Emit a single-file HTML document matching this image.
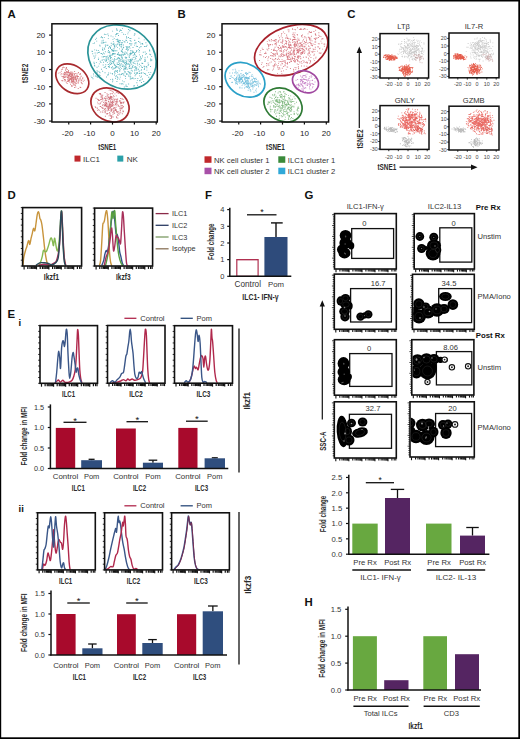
<!DOCTYPE html>
<html><head><meta charset="utf-8"><title>Figure</title>
<style>
html,body{margin:0;padding:0;background:#fff;width:520px;height:739px;overflow:hidden;}
svg{display:block;}
text{font-family:"Liberation Sans", sans-serif;}
</style></head><body>
<svg width="520" height="739" viewBox="0 0 520 739">
<rect x="0" y="0" width="520" height="739" fill="#fff"/>
<text x="7.5" y="17.7" font-size="11.4" text-anchor="start" fill="#111" font-weight="bold">A</text>
<path d="M114.17 60.56h0.9v0.9h-0.9zM121.46 51.05h0.9v0.9h-0.9zM110.76 45.36h0.9v0.9h-0.9zM134.03 72.93h0.9v0.9h-0.9zM134.44 70.11h0.9v0.9h-0.9zM125.98 63.07h0.9v0.9h-0.9zM91.59 50.83h0.9v0.9h-0.9zM124.94 67.88h0.9v0.9h-0.9zM113.45 42.73h0.9v0.9h-0.9zM126.65 59.45h0.9v0.9h-0.9zM134.63 54.48h0.9v0.9h-0.9zM123.04 64.7h0.9v0.9h-0.9zM98.48 70.91h0.9v0.9h-0.9zM119.84 76.66h0.9v0.9h-0.9zM119.47 42.15h0.9v0.9h-0.9zM118.07 52.37h0.9v0.9h-0.9zM128.78 66.14h0.9v0.9h-0.9zM123.69 41.26h0.9v0.9h-0.9zM104.57 66.39h0.9v0.9h-0.9zM108.66 51.99h0.9v0.9h-0.9zM140.35 43.5h0.9v0.9h-0.9zM111.82 72.98h0.9v0.9h-0.9zM127.31 46.26h0.9v0.9h-0.9zM129.48 61.13h0.9v0.9h-0.9zM94.63 52.48h0.9v0.9h-0.9zM123.5 74.78h0.9v0.9h-0.9zM139.14 75.41h0.9v0.9h-0.9zM134.47 42.75h0.9v0.9h-0.9zM135.69 55.77h0.9v0.9h-0.9zM126.18 37.55h0.9v0.9h-0.9zM112.88 41.22h0.9v0.9h-0.9zM99.62 45.56h0.9v0.9h-0.9zM137.38 78h0.9v0.9h-0.9zM133.12 51.76h0.9v0.9h-0.9zM98.21 57.63h0.9v0.9h-0.9zM136.11 69.66h0.9v0.9h-0.9zM121.83 64.56h0.9v0.9h-0.9zM139.15 79.96h0.9v0.9h-0.9zM124.7 68.58h0.9v0.9h-0.9zM130.96 72.64h0.9v0.9h-0.9zM110.95 67.3h0.9v0.9h-0.9zM130.97 60.62h0.9v0.9h-0.9zM121.14 67.9h0.9v0.9h-0.9zM114.16 71.78h0.9v0.9h-0.9zM116.19 45.6h0.9v0.9h-0.9zM136.35 67.52h0.9v0.9h-0.9zM101.82 59.61h0.9v0.9h-0.9zM146.2 66.08h0.9v0.9h-0.9zM103.82 41.88h0.9v0.9h-0.9zM122.39 52h0.9v0.9h-0.9zM150.19 58.57h0.9v0.9h-0.9zM150.18 54.29h0.9v0.9h-0.9zM105.74 56.79h0.9v0.9h-0.9zM130.65 78.25h0.9v0.9h-0.9zM125.65 62.07h0.9v0.9h-0.9zM119.35 65.32h0.9v0.9h-0.9zM117.23 58.57h0.9v0.9h-0.9zM130 62.62h0.9v0.9h-0.9zM127.98 71.2h0.9v0.9h-0.9zM119.11 48.39h0.9v0.9h-0.9zM114.14 67.84h0.9v0.9h-0.9zM114.09 58.28h0.9v0.9h-0.9zM104.25 48.89h0.9v0.9h-0.9zM125.59 63.73h0.9v0.9h-0.9zM110.52 60.55h0.9v0.9h-0.9zM130.29 53.57h0.9v0.9h-0.9zM115.07 50.39h0.9v0.9h-0.9zM119.37 54.05h0.9v0.9h-0.9zM145.82 53.01h0.9v0.9h-0.9zM113.14 67.66h0.9v0.9h-0.9zM121.58 83.08h0.9v0.9h-0.9zM101.14 36.14h0.9v0.9h-0.9zM112.05 61.06h0.9v0.9h-0.9zM149.26 50.48h0.9v0.9h-0.9zM143.96 45.98h0.9v0.9h-0.9zM114.53 72.9h0.9v0.9h-0.9zM118.32 57.81h0.9v0.9h-0.9zM131.98 66.49h0.9v0.9h-0.9zM108.02 74.33h0.9v0.9h-0.9zM139.11 63.78h0.9v0.9h-0.9zM137 62.8h0.9v0.9h-0.9zM117.99 66.66h0.9v0.9h-0.9zM119.8 66.76h0.9v0.9h-0.9zM138.61 51.59h0.9v0.9h-0.9zM119.86 29.49h0.9v0.9h-0.9zM133.51 78.27h0.9v0.9h-0.9zM150.4 60.3h0.9v0.9h-0.9zM131.49 43.47h0.9v0.9h-0.9zM119.51 83.37h0.9v0.9h-0.9zM96.58 66.8h0.9v0.9h-0.9zM137.3 64.57h0.9v0.9h-0.9zM125.66 48.9h0.9v0.9h-0.9zM124.18 65.78h0.9v0.9h-0.9zM151.44 59.57h0.9v0.9h-0.9zM125.53 85.78h0.9v0.9h-0.9zM143.82 69.08h0.9v0.9h-0.9zM103.13 61.8h0.9v0.9h-0.9zM122.58 59.6h0.9v0.9h-0.9zM144.11 67.82h0.9v0.9h-0.9zM131.51 52.85h0.9v0.9h-0.9zM114.95 66.79h0.9v0.9h-0.9zM112.08 73.52h0.9v0.9h-0.9zM112.5 68.75h0.9v0.9h-0.9zM105.29 60.86h0.9v0.9h-0.9zM104.87 44.78h0.9v0.9h-0.9zM119.55 54.78h0.9v0.9h-0.9zM111.78 53.98h0.9v0.9h-0.9zM146.69 75.07h0.9v0.9h-0.9zM121.11 74.08h0.9v0.9h-0.9zM129.7 40.11h0.9v0.9h-0.9zM105.31 64.3h0.9v0.9h-0.9zM103.94 33.78h0.9v0.9h-0.9zM129.5 76.28h0.9v0.9h-0.9zM115.41 66.63h0.9v0.9h-0.9zM134.12 44.63h0.9v0.9h-0.9zM105.43 34.1h0.9v0.9h-0.9zM139.61 59.33h0.9v0.9h-0.9zM115.78 39.01h0.9v0.9h-0.9zM101.55 40.6h0.9v0.9h-0.9zM102.47 49.77h0.9v0.9h-0.9zM134.43 60.83h0.9v0.9h-0.9zM129.88 54.41h0.9v0.9h-0.9zM126.7 73.51h0.9v0.9h-0.9zM128.61 67.4h0.9v0.9h-0.9zM135.17 77.9h0.9v0.9h-0.9zM123.66 81.32h0.9v0.9h-0.9zM121.75 48.52h0.9v0.9h-0.9zM103.29 56.1h0.9v0.9h-0.9zM149.39 74.05h0.9v0.9h-0.9zM122.35 73.21h0.9v0.9h-0.9zM110.07 47.07h0.9v0.9h-0.9zM119.24 69.66h0.9v0.9h-0.9zM123.14 54.34h0.9v0.9h-0.9zM110.77 42.79h0.9v0.9h-0.9zM133.63 66.94h0.9v0.9h-0.9zM117.06 38.65h0.9v0.9h-0.9zM126.7 68.79h0.9v0.9h-0.9zM142 78.57h0.9v0.9h-0.9zM116.71 62.54h0.9v0.9h-0.9zM132.38 51.85h0.9v0.9h-0.9zM107.92 35.35h0.9v0.9h-0.9zM124.55 62.03h0.9v0.9h-0.9zM124.52 41.53h0.9v0.9h-0.9zM116.47 29.34h0.9v0.9h-0.9zM107.63 51.55h0.9v0.9h-0.9zM116.83 62.63h0.9v0.9h-0.9zM112.85 48.4h0.9v0.9h-0.9zM125.28 65.96h0.9v0.9h-0.9zM129.19 65.73h0.9v0.9h-0.9zM110.91 63.19h0.9v0.9h-0.9zM129.56 47.68h0.9v0.9h-0.9zM113.25 50.86h0.9v0.9h-0.9zM119.16 57.79h0.9v0.9h-0.9zM120.53 59.08h0.9v0.9h-0.9zM130.58 40.75h0.9v0.9h-0.9zM119.14 73.63h0.9v0.9h-0.9zM129.65 59.01h0.9v0.9h-0.9zM136.27 49.91h0.9v0.9h-0.9zM94.98 39.13h0.9v0.9h-0.9zM102.83 56.67h0.9v0.9h-0.9zM94.34 65.55h0.9v0.9h-0.9zM128.04 37.01h0.9v0.9h-0.9zM106.99 55.71h0.9v0.9h-0.9zM127.48 63.96h0.9v0.9h-0.9zM136.89 79.92h0.9v0.9h-0.9zM116.75 63.88h0.9v0.9h-0.9zM137.07 84.74h0.9v0.9h-0.9zM145.32 54.18h0.9v0.9h-0.9zM113.86 64.21h0.9v0.9h-0.9zM108.97 66.78h0.9v0.9h-0.9zM122.79 73.62h0.9v0.9h-0.9zM141.14 66.59h0.9v0.9h-0.9zM109.93 64.01h0.9v0.9h-0.9zM135.66 66.68h0.9v0.9h-0.9zM104.11 47.79h0.9v0.9h-0.9zM117.64 73.93h0.9v0.9h-0.9zM132.75 64.96h0.9v0.9h-0.9zM129.45 71.77h0.9v0.9h-0.9zM124.42 59.67h0.9v0.9h-0.9zM112.89 62.76h0.9v0.9h-0.9zM112.48 39.21h0.9v0.9h-0.9zM134.24 39.67h0.9v0.9h-0.9zM107.72 57.06h0.9v0.9h-0.9zM130.38 61.9h0.9v0.9h-0.9zM130.53 37.91h0.9v0.9h-0.9zM143.28 81.03h0.9v0.9h-0.9zM144.63 57.24h0.9v0.9h-0.9zM134.53 33.59h0.9v0.9h-0.9zM125.15 75.74h0.9v0.9h-0.9zM95.89 37.8h0.9v0.9h-0.9zM145.46 42.26h0.9v0.9h-0.9zM124.86 34.19h0.9v0.9h-0.9zM120.37 60.27h0.9v0.9h-0.9zM125.03 71.54h0.9v0.9h-0.9zM133.34 85.54h0.9v0.9h-0.9zM107.85 38.15h0.9v0.9h-0.9zM116.12 33.84h0.9v0.9h-0.9zM120.82 56.27h0.9v0.9h-0.9zM142.05 42.97h0.9v0.9h-0.9zM104.88 44.6h0.9v0.9h-0.9zM121.8 51.35h0.9v0.9h-0.9zM127.43 47.36h0.9v0.9h-0.9zM128.87 68.07h0.9v0.9h-0.9zM126.36 48.16h0.9v0.9h-0.9zM107.96 47.83h0.9v0.9h-0.9zM99.3 44.64h0.9v0.9h-0.9zM135.51 42.09h0.9v0.9h-0.9zM121.1 50.82h0.9v0.9h-0.9zM123.35 68.77h0.9v0.9h-0.9zM128.57 46.54h0.9v0.9h-0.9zM120.53 54.81h0.9v0.9h-0.9zM129.83 67.69h0.9v0.9h-0.9zM123.15 33.85h0.9v0.9h-0.9zM122.93 44.56h0.9v0.9h-0.9zM107.41 44.73h0.9v0.9h-0.9zM114.25 53.44h0.9v0.9h-0.9zM132.75 57.22h0.9v0.9h-0.9zM136.4 69.24h0.9v0.9h-0.9zM109.43 52.57h0.9v0.9h-0.9zM115.88 75.35h0.9v0.9h-0.9zM124.85 75.75h0.9v0.9h-0.9zM130.43 60.14h0.9v0.9h-0.9zM138.08 49.19h0.9v0.9h-0.9zM146.98 56.5h0.9v0.9h-0.9zM118.71 55.04h0.9v0.9h-0.9zM138.05 68.7h0.9v0.9h-0.9zM108.56 52.15h0.9v0.9h-0.9zM124.24 71.13h0.9v0.9h-0.9zM96.63 70.23h0.9v0.9h-0.9zM145.17 73.54h0.9v0.9h-0.9zM129.32 54.54h0.9v0.9h-0.9zM147.64 62.48h0.9v0.9h-0.9zM135.42 57.91h0.9v0.9h-0.9zM106.32 58.73h0.9v0.9h-0.9zM140.74 69.95h0.9v0.9h-0.9zM105.78 60h0.9v0.9h-0.9zM118.73 60.2h0.9v0.9h-0.9zM133.9 85.35h0.9v0.9h-0.9zM115.51 66.36h0.9v0.9h-0.9zM113.32 50.13h0.9v0.9h-0.9zM151.21 55.95h0.9v0.9h-0.9zM142.27 63.06h0.9v0.9h-0.9zM123.75 52.69h0.9v0.9h-0.9zM129.35 42.9h0.9v0.9h-0.9zM134.29 40.17h0.9v0.9h-0.9zM118.43 59.96h0.9v0.9h-0.9zM130.47 58.83h0.9v0.9h-0.9zM108.03 50.04h0.9v0.9h-0.9zM102.21 70.84h0.9v0.9h-0.9zM133.7 63.15h0.9v0.9h-0.9zM121.25 44.04h0.9v0.9h-0.9zM111.82 43.63h0.9v0.9h-0.9zM121.84 66.01h0.9v0.9h-0.9zM112.03 50.25h0.9v0.9h-0.9zM113.3 53.9h0.9v0.9h-0.9zM120.77 63.35h0.9v0.9h-0.9zM115.62 59.01h0.9v0.9h-0.9zM116.33 66.67h0.9v0.9h-0.9zM130.54 44.73h0.9v0.9h-0.9zM102.17 54.22h0.9v0.9h-0.9zM107.63 58.17h0.9v0.9h-0.9zM129.89 67.94h0.9v0.9h-0.9zM129.98 60.74h0.9v0.9h-0.9zM102.54 42.84h0.9v0.9h-0.9zM132.75 55.17h0.9v0.9h-0.9zM114.38 64.92h0.9v0.9h-0.9zM104.4 56h0.9v0.9h-0.9zM125.3 56.65h0.9v0.9h-0.9zM140.92 75.84h0.9v0.9h-0.9zM140.29 57.6h0.9v0.9h-0.9zM121.86 56.73h0.9v0.9h-0.9zM133.5 62.73h0.9v0.9h-0.9zM125.23 65.74h0.9v0.9h-0.9zM102.79 39.8h0.9v0.9h-0.9zM147.66 64.8h0.9v0.9h-0.9zM118.99 30.84h0.9v0.9h-0.9zM102.13 49.02h0.9v0.9h-0.9zM142.11 78.68h0.9v0.9h-0.9zM120.34 43.91h0.9v0.9h-0.9zM124.83 68.69h0.9v0.9h-0.9zM117.53 33.17h0.9v0.9h-0.9zM124.01 62.79h0.9v0.9h-0.9zM105.4 41.8h0.9v0.9h-0.9zM110.59 57.15h0.9v0.9h-0.9zM121.08 54.84h0.9v0.9h-0.9zM108.3 66.04h0.9v0.9h-0.9zM144.51 66.27h0.9v0.9h-0.9zM140.13 56.3h0.9v0.9h-0.9zM116.77 66.61h0.9v0.9h-0.9zM146.36 67.29h0.9v0.9h-0.9zM119.33 58.61h0.9v0.9h-0.9zM100.91 42.51h0.9v0.9h-0.9zM109.46 54.79h0.9v0.9h-0.9zM120.37 60.47h0.9v0.9h-0.9zM106.93 62.17h0.9v0.9h-0.9zM123.21 47.13h0.9v0.9h-0.9zM141.72 43.07h0.9v0.9h-0.9zM112.7 50.12h0.9v0.9h-0.9zM135.23 63.38h0.9v0.9h-0.9zM131.76 52.24h0.9v0.9h-0.9zM112.4 79.7h0.9v0.9h-0.9zM112.85 50.9h0.9v0.9h-0.9zM115.91 70.86h0.9v0.9h-0.9zM123.87 72.38h0.9v0.9h-0.9zM122.76 62.02h0.9v0.9h-0.9zM131.93 70.48h0.9v0.9h-0.9zM136.46 60.54h0.9v0.9h-0.9zM124.03 53.92h0.9v0.9h-0.9zM121.98 42.16h0.9v0.9h-0.9zM107.87 58.41h0.9v0.9h-0.9zM121.96 58.15h0.9v0.9h-0.9zM111.98 66.16h0.9v0.9h-0.9zM130.09 60.16h0.9v0.9h-0.9zM132.56 61.71h0.9v0.9h-0.9zM93.78 62.98h0.9v0.9h-0.9zM136.46 50.2h0.9v0.9h-0.9zM134.22 71.66h0.9v0.9h-0.9zM119.26 70.85h0.9v0.9h-0.9zM126.01 57.16h0.9v0.9h-0.9zM92.27 53.37h0.9v0.9h-0.9zM124.8 53.89h0.9v0.9h-0.9zM126.26 61.36h0.9v0.9h-0.9zM134.54 59.21h0.9v0.9h-0.9zM110.46 60.87h0.9v0.9h-0.9zM143.72 65.77h0.9v0.9h-0.9zM107.14 74.61h0.9v0.9h-0.9zM111.34 62.52h0.9v0.9h-0.9zM145.15 73.91h0.9v0.9h-0.9zM145.07 60.58h0.9v0.9h-0.9zM125.55 58.12h0.9v0.9h-0.9zM114.22 71.53h0.9v0.9h-0.9zM109.82 57.27h0.9v0.9h-0.9zM103.11 52.56h0.9v0.9h-0.9zM132.31 59.31h0.9v0.9h-0.9zM142.31 43.81h0.9v0.9h-0.9zM145.47 46.11h0.9v0.9h-0.9zM116.88 43.58h0.9v0.9h-0.9zM109.25 63.26h0.9v0.9h-0.9zM126.45 53.08h0.9v0.9h-0.9zM116.46 81.09h0.9v0.9h-0.9zM119.05 61.4h0.9v0.9h-0.9zM137.12 72.32h0.9v0.9h-0.9zM117.98 61.57h0.9v0.9h-0.9zM129.95 74.4h0.9v0.9h-0.9zM126.95 41.83h0.9v0.9h-0.9zM114.85 70.27h0.9v0.9h-0.9zM115.29 34.13h0.9v0.9h-0.9zM121.99 49.27h0.9v0.9h-0.9zM134.14 53.09h0.9v0.9h-0.9zM112.94 43.68h0.9v0.9h-0.9zM126.83 48.62h0.9v0.9h-0.9zM115.93 66.02h0.9v0.9h-0.9zM114.53 44.34h0.9v0.9h-0.9zM112.14 49.51h0.9v0.9h-0.9zM140.6 45.99h0.9v0.9h-0.9zM128.71 61.23h0.9v0.9h-0.9zM94.03 42.58h0.9v0.9h-0.9zM131.55 67.39h0.9v0.9h-0.9zM124.97 66.89h0.9v0.9h-0.9zM142.1 67.12h0.9v0.9h-0.9zM137.63 60.69h0.9v0.9h-0.9zM138.95 54.47h0.9v0.9h-0.9zM106.1 76.49h0.9v0.9h-0.9zM129.55 59.49h0.9v0.9h-0.9zM112.55 36.41h0.9v0.9h-0.9zM116.9 70.05h0.9v0.9h-0.9zM123.6 67.39h0.9v0.9h-0.9zM110.18 72.64h0.9v0.9h-0.9zM121.1 46.65h0.9v0.9h-0.9zM133.89 66.45h0.9v0.9h-0.9zM122.89 47.43h0.9v0.9h-0.9zM113.22 61.89h0.9v0.9h-0.9zM137 46.11h0.9v0.9h-0.9zM126.48 63.3h0.9v0.9h-0.9zM101.59 56.38h0.9v0.9h-0.9zM120.87 50.27h0.9v0.9h-0.9zM122.16 80.47h0.9v0.9h-0.9zM108.73 55.46h0.9v0.9h-0.9zM105.16 66.35h0.9v0.9h-0.9zM106.2 60.29h0.9v0.9h-0.9zM111.76 58.68h0.9v0.9h-0.9zM126.26 48.16h0.9v0.9h-0.9zM91.9 51.03h0.9v0.9h-0.9zM112.71 53.06h0.9v0.9h-0.9zM138.66 70.75h0.9v0.9h-0.9zM132.39 77.37h0.9v0.9h-0.9zM103.44 59.21h0.9v0.9h-0.9zM123.56 69.55h0.9v0.9h-0.9zM128.5 74.53h0.9v0.9h-0.9zM120.27 64.5h0.9v0.9h-0.9zM117.1 54.2h0.9v0.9h-0.9zM138.08 60.42h0.9v0.9h-0.9zM144.6 58.89h0.9v0.9h-0.9zM130.12 53.35h0.9v0.9h-0.9zM129.95 50.35h0.9v0.9h-0.9zM130.89 53.34h0.9v0.9h-0.9zM116.58 70.72h0.9v0.9h-0.9zM109.24 46.12h0.9v0.9h-0.9zM125.17 68.53h0.9v0.9h-0.9zM136.66 73.07h0.9v0.9h-0.9zM124.5 53.82h0.9v0.9h-0.9zM129.22 54.53h0.9v0.9h-0.9zM113.81 38.18h0.9v0.9h-0.9zM118.74 43.89h0.9v0.9h-0.9zM100.5 53.2h0.9v0.9h-0.9zM98.19 52h0.9v0.9h-0.9zM104.88 51.24h0.9v0.9h-0.9zM139.53 72.87h0.9v0.9h-0.9zM111.38 50.41h0.9v0.9h-0.9zM138.48 37.87h0.9v0.9h-0.9zM112.14 52.98h0.9v0.9h-0.9zM114.77 53.35h0.9v0.9h-0.9zM125.9 73.29h0.9v0.9h-0.9zM129.78 72.86h0.9v0.9h-0.9zM118.13 53.96h0.9v0.9h-0.9zM120.81 50.63h0.9v0.9h-0.9zM133.82 34.77h0.9v0.9h-0.9zM117.54 53.45h0.9v0.9h-0.9zM108.57 47.17h0.9v0.9h-0.9zM130.58 60.1h0.9v0.9h-0.9zM134.28 33.31h0.9v0.9h-0.9zM131.78 58.5h0.9v0.9h-0.9zM130.83 69.76h0.9v0.9h-0.9zM127.2 50.25h0.9v0.9h-0.9zM134.96 57.49h0.9v0.9h-0.9zM129.36 53.13h0.9v0.9h-0.9zM118.56 67.93h0.9v0.9h-0.9zM110.02 48.03h0.9v0.9h-0.9zM129.42 64.77h0.9v0.9h-0.9zM121.27 83.54h0.9v0.9h-0.9zM128.14 75.7h0.9v0.9h-0.9zM119.28 42.47h0.9v0.9h-0.9zM142 54.88h0.9v0.9h-0.9zM118.46 41.62h0.9v0.9h-0.9zM131.47 50.37h0.9v0.9h-0.9zM140.98 68.9h0.9v0.9h-0.9zM95.93 61.9h0.9v0.9h-0.9zM112 53.91h0.9v0.9h-0.9zM124.44 53.14h0.9v0.9h-0.9zM132.3 51.96h0.9v0.9h-0.9zM110.59 35.59h0.9v0.9h-0.9zM121.22 57.43h0.9v0.9h-0.9zM128.78 63.87h0.9v0.9h-0.9zM116.79 40.81h0.9v0.9h-0.9zM124.38 68.04h0.9v0.9h-0.9zM121.75 53.74h0.9v0.9h-0.9zM134.97 66.35h0.9v0.9h-0.9zM127.48 71.14h0.9v0.9h-0.9zM114.12 74.59h0.9v0.9h-0.9zM116.97 47.13h0.9v0.9h-0.9zM117.32 39.62h0.9v0.9h-0.9zM117.6 63.97h0.9v0.9h-0.9zM131.73 78.1h0.9v0.9h-0.9zM149.36 53.82h0.9v0.9h-0.9zM109.29 56.11h0.9v0.9h-0.9zM141.22 72.29h0.9v0.9h-0.9zM112.94 44.38h0.9v0.9h-0.9zM119.89 40.34h0.9v0.9h-0.9zM148.2 64.28h0.9v0.9h-0.9zM135.78 72.59h0.9v0.9h-0.9zM110.03 55.88h0.9v0.9h-0.9zM139.51 80.28h0.9v0.9h-0.9zM138.83 70.52h0.9v0.9h-0.9zM130.89 59.67h0.9v0.9h-0.9zM117.16 76.62h0.9v0.9h-0.9zM102.5 42.24h0.9v0.9h-0.9zM130.11 52.57h0.9v0.9h-0.9zM111.15 63.32h0.9v0.9h-0.9zM139.46 41.78h0.9v0.9h-0.9zM148.33 76.79h0.9v0.9h-0.9zM130.82 43.39h0.9v0.9h-0.9zM130.32 43.43h0.9v0.9h-0.9zM119.12 63.23h0.9v0.9h-0.9zM120.11 60.63h0.9v0.9h-0.9zM98.2 65.63h0.9v0.9h-0.9zM127.97 29.02h0.9v0.9h-0.9zM125.72 46.1h0.9v0.9h-0.9zM110.82 42.9h0.9v0.9h-0.9zM135.9 45.82h0.9v0.9h-0.9zM108.22 72.59h0.9v0.9h-0.9zM132.81 61.88h0.9v0.9h-0.9zM124.78 56.83h0.9v0.9h-0.9zM115.24 65.22h0.9v0.9h-0.9zM129.09 46.23h0.9v0.9h-0.9zM136.18 56.14h0.9v0.9h-0.9zM116.7 33.4h0.9v0.9h-0.9zM92.69 42.93h0.9v0.9h-0.9zM96.13 49.8h0.9v0.9h-0.9zM114.2 45.05h0.9v0.9h-0.9zM115.35 76.34h0.9v0.9h-0.9zM122.48 60.59h0.9v0.9h-0.9zM113.85 59.39h0.9v0.9h-0.9zM125.58 60.43h0.9v0.9h-0.9zM126.03 36.36h0.9v0.9h-0.9zM127.36 33.44h0.9v0.9h-0.9zM134.66 75.36h0.9v0.9h-0.9zM93.53 61.76h0.9v0.9h-0.9zM125.91 67.22h0.9v0.9h-0.9zM123.4 61.01h0.9v0.9h-0.9zM149.16 49.58h0.9v0.9h-0.9zM116.21 28.28h0.9v0.9h-0.9zM119.23 44.35h0.9v0.9h-0.9zM124.92 63.76h0.9v0.9h-0.9zM128.06 49.28h0.9v0.9h-0.9zM107.9 63.98h0.9v0.9h-0.9zM131.84 65.68h0.9v0.9h-0.9zM104.58 72.27h0.9v0.9h-0.9zM108.3 58.88h0.9v0.9h-0.9zM140.34 65.15h0.9v0.9h-0.9zM142.82 51.84h0.9v0.9h-0.9zM134.51 69.29h0.9v0.9h-0.9zM94.24 49.41h0.9v0.9h-0.9zM98.86 63.47h0.9v0.9h-0.9zM113.87 48.39h0.9v0.9h-0.9zM128.72 55.83h0.9v0.9h-0.9zM130.23 52.97h0.9v0.9h-0.9zM131.35 63.65h0.9v0.9h-0.9zM137.98 68.75h0.9v0.9h-0.9zM96.27 40.67h0.9v0.9h-0.9zM119.64 74.29h0.9v0.9h-0.9zM94 64.76h0.9v0.9h-0.9zM114.3 63.64h0.9v0.9h-0.9zM126.15 40.16h0.9v0.9h-0.9zM129.81 78.5h0.9v0.9h-0.9zM136.4 82.24h0.9v0.9h-0.9zM127.8 31.65h0.9v0.9h-0.9zM118.51 42.62h0.9v0.9h-0.9zM105.76 55.93h0.9v0.9h-0.9zM128.83 57.01h0.9v0.9h-0.9zM125.62 56.96h0.9v0.9h-0.9zM118.73 68.01h0.9v0.9h-0.9zM141.12 58.26h0.9v0.9h-0.9zM114.41 71.25h0.9v0.9h-0.9zM101.76 36.99h0.9v0.9h-0.9zM134.36 40.16h0.9v0.9h-0.9zM108.76 60.55h0.9v0.9h-0.9zM123.84 86.49h0.9v0.9h-0.9zM121.57 31.91h0.9v0.9h-0.9zM121.46 73.26h0.9v0.9h-0.9zM135.52 43.44h0.9v0.9h-0.9zM126.35 74.07h0.9v0.9h-0.9zM133.79 56.64h0.9v0.9h-0.9zM119.68 69.36h0.9v0.9h-0.9zM129.51 29.64h0.9v0.9h-0.9zM122.6 65.93h0.9v0.9h-0.9zM114.8 67.69h0.9v0.9h-0.9zM114.48 50.28h0.9v0.9h-0.9zM112.98 60.79h0.9v0.9h-0.9zM146.41 69.65h0.9v0.9h-0.9zM128.18 71.71h0.9v0.9h-0.9zM148.27 72.2h0.9v0.9h-0.9zM129.26 43.29h0.9v0.9h-0.9zM117.44 77.59h0.9v0.9h-0.9zM125.93 67.24h0.9v0.9h-0.9zM117.78 57.05h0.9v0.9h-0.9zM93.35 55.49h0.9v0.9h-0.9zM125.45 39.87h0.9v0.9h-0.9zM118.34 39.85h0.9v0.9h-0.9zM125.17 77.94h0.9v0.9h-0.9zM95.31 54.7h0.9v0.9h-0.9zM139.24 58.82h0.9v0.9h-0.9zM107.4 33.59h0.9v0.9h-0.9zM110.29 54.86h0.9v0.9h-0.9zM138.02 41.08h0.9v0.9h-0.9zM144.7 51.54h0.9v0.9h-0.9zM119.41 40.07h0.9v0.9h-0.9zM103.62 67.09h0.9v0.9h-0.9zM128.92 72.49h0.9v0.9h-0.9zM139.33 41.76h0.9v0.9h-0.9zM119.3 45.35h0.9v0.9h-0.9zM104.09 53.47h0.9v0.9h-0.9zM117.53 41.32h0.9v0.9h-0.9zM119.27 78.63h0.9v0.9h-0.9zM132.56 47.12h0.9v0.9h-0.9zM136.54 72.44h0.9v0.9h-0.9zM122.68 83.63h0.9v0.9h-0.9zM141.43 62.8h0.9v0.9h-0.9zM130.28 76.52h0.9v0.9h-0.9zM103.87 37.13h0.9v0.9h-0.9zM102.99 41.76h0.9v0.9h-0.9zM138.97 49.99h0.9v0.9h-0.9zM115.04 78.15h0.9v0.9h-0.9zM94.67 56.62h0.9v0.9h-0.9zM116.82 58.14h0.9v0.9h-0.9zM111.55 67.34h0.9v0.9h-0.9zM135.79 68.2h0.9v0.9h-0.9zM96.83 52.48h0.9v0.9h-0.9zM110.2 59.86h0.9v0.9h-0.9zM112.19 78.85h0.9v0.9h-0.9zM141.66 62.79h0.9v0.9h-0.9zM112.22 81.36h0.9v0.9h-0.9zM110.88 56.88h0.9v0.9h-0.9zM128.21 83.58h0.9v0.9h-0.9zM140.23 46.41h0.9v0.9h-0.9zM102.3 47.59h0.9v0.9h-0.9zM100.49 62.07h0.9v0.9h-0.9zM146.67 44.71h0.9v0.9h-0.9zM109.17 50.96h0.9v0.9h-0.9zM116.38 50.33h0.9v0.9h-0.9zM135.3 52h0.9v0.9h-0.9zM133.81 54.02h0.9v0.9h-0.9zM109.92 58.04h0.9v0.9h-0.9zM111.59 54.79h0.9v0.9h-0.9zM144.15 72.99h0.9v0.9h-0.9zM113.85 64.3h0.9v0.9h-0.9zM107.89 66.27h0.9v0.9h-0.9zM98.91 51.78h0.9v0.9h-0.9zM121.47 42.5h0.9v0.9h-0.9zM141.1 82.02h0.9v0.9h-0.9zM150.44 59.64h0.9v0.9h-0.9zM126.66 86.03h0.9v0.9h-0.9zM121.44 54.33h0.9v0.9h-0.9zM121.32 45.38h0.9v0.9h-0.9zM125.49 65.29h0.9v0.9h-0.9zM110.18 79.17h0.9v0.9h-0.9zM113.48 59.4h0.9v0.9h-0.9zM150.76 59.38h0.9v0.9h-0.9zM112.17 30.7h0.9v0.9h-0.9zM143.76 39.4h0.9v0.9h-0.9zM116.9 79.13h0.9v0.9h-0.9zM102.04 37.42h0.9v0.9h-0.9zM113.89 46.62h0.9v0.9h-0.9zM118.23 64h0.9v0.9h-0.9zM117.02 53.78h0.9v0.9h-0.9zM113.4 53.01h0.9v0.9h-0.9zM105.07 46.27h0.9v0.9h-0.9zM148.13 76.71h0.9v0.9h-0.9zM102.24 47.71h0.9v0.9h-0.9zM122.12 27.88h0.9v0.9h-0.9zM105.57 58.53h0.9v0.9h-0.9zM128.18 59.61h0.9v0.9h-0.9zM118 35.12h0.9v0.9h-0.9zM138.85 73.12h0.9v0.9h-0.9zM106.57 44.83h0.9v0.9h-0.9zM126.25 57.19h0.9v0.9h-0.9zM129.52 37.98h0.9v0.9h-0.9zM104.39 59.63h0.9v0.9h-0.9zM100.58 37.15h0.9v0.9h-0.9zM117.04 71.86h0.9v0.9h-0.9zM101.35 53.07h0.9v0.9h-0.9zM133.53 52.03h0.9v0.9h-0.9zM136.14 51.01h0.9v0.9h-0.9zM111.02 48.98h0.9v0.9h-0.9zM120.17 29.84h0.9v0.9h-0.9zM109.71 61.89h0.9v0.9h-0.9zM105.82 68.06h0.9v0.9h-0.9zM116.69 30.06h0.9v0.9h-0.9zM140.38 76.93h0.9v0.9h-0.9zM142.09 56.44h0.9v0.9h-0.9zM131.09 67.96h0.9v0.9h-0.9zM130.86 63.65h0.9v0.9h-0.9zM144.27 61.11h0.9v0.9h-0.9zM120.8 30.02h0.9v0.9h-0.9zM144.37 59.6h0.9v0.9h-0.9zM115.22 35.63h0.9v0.9h-0.9zM126.34 37.55h0.9v0.9h-0.9zM123.15 46.71h0.9v0.9h-0.9zM122.26 40.21h0.9v0.9h-0.9zM126.34 51.89h0.9v0.9h-0.9zM121.53 61.08h0.9v0.9h-0.9zM121.12 42.31h0.9v0.9h-0.9zM145.94 45.86h0.9v0.9h-0.9zM114.45 46.51h0.9v0.9h-0.9zM109.06 65.47h0.9v0.9h-0.9zM107.79 64.11h0.9v0.9h-0.9zM135.44 74.11h0.9v0.9h-0.9zM127.8 63.24h0.9v0.9h-0.9zM138.88 47.31h0.9v0.9h-0.9zM139.69 59.97h0.9v0.9h-0.9zM135.06 67.7h0.9v0.9h-0.9zM138.91 66.42h0.9v0.9h-0.9zM114.45 56.01h0.9v0.9h-0.9zM120.58 46.37h0.9v0.9h-0.9zM122.23 59.72h0.9v0.9h-0.9zM142.84 72.4h0.9v0.9h-0.9zM122.69 59.91h0.9v0.9h-0.9zM126.08 46.93h0.9v0.9h-0.9zM126.4 48.74h0.9v0.9h-0.9zM140.5 79.41h0.9v0.9h-0.9zM124.71 51.54h0.9v0.9h-0.9zM116.26 32.88h0.9v0.9h-0.9zM122.8 54.94h0.9v0.9h-0.9zM141.09 72.74h0.9v0.9h-0.9zM127.43 54.23h0.9v0.9h-0.9zM101.07 68.87h0.9v0.9h-0.9zM116.86 53.93h0.9v0.9h-0.9zM101.64 59.85h0.9v0.9h-0.9zM97.82 50.05h0.9v0.9h-0.9zM125.6 84.49h0.9v0.9h-0.9zM99.8 60.73h0.9v0.9h-0.9zM118.31 41.02h0.9v0.9h-0.9zM93.89 57.76h0.9v0.9h-0.9zM150 66.09h0.9v0.9h-0.9zM114.19 45.54h0.9v0.9h-0.9zM129.32 30.39h0.9v0.9h-0.9zM102.72 64.5h0.9v0.9h-0.9zM150.34 72.13h0.9v0.9h-0.9zM116.57 44.17h0.9v0.9h-0.9zM97.97 58.98h0.9v0.9h-0.9zM132.38 50.76h0.9v0.9h-0.9z" fill="#30a0ac" fill-opacity="0.8"/>
<path d="M99.16 75.03h0.9v0.9h-0.9zM91.24 77.1h0.9v0.9h-0.9zM93.09 73.82h0.9v0.9h-0.9zM95.02 76.17h0.9v0.9h-0.9zM98.69 73.97h0.9v0.9h-0.9zM93.31 75.5h0.9v0.9h-0.9zM97.16 71.38h0.9v0.9h-0.9zM96.41 72.57h0.9v0.9h-0.9zM99.69 72.29h0.9v0.9h-0.9zM90.66 75.66h0.9v0.9h-0.9zM96.99 77.05h0.9v0.9h-0.9zM92.6 78.3h0.9v0.9h-0.9zM92 77.34h0.9v0.9h-0.9zM96.73 75.82h0.9v0.9h-0.9zM99.92 74.94h0.9v0.9h-0.9zM100.5 77.95h0.9v0.9h-0.9zM96.55 73.09h0.9v0.9h-0.9zM92.95 73.22h0.9v0.9h-0.9zM95.18 74.92h0.9v0.9h-0.9zM99.12 72.1h0.9v0.9h-0.9zM93.12 73.92h0.9v0.9h-0.9zM96.78 71.5h0.9v0.9h-0.9zM95.97 75.94h0.9v0.9h-0.9zM96.78 77.03h0.9v0.9h-0.9zM97.13 75.55h0.9v0.9h-0.9z" fill="#5ab0b8" fill-opacity="0.7"/>
<path d="M62.19 67.31h0.9v0.9h-0.9zM73.15 77.54h0.9v0.9h-0.9zM67.81 71.89h0.9v0.9h-0.9zM67.69 81.05h0.9v0.9h-0.9zM70.36 72.23h0.9v0.9h-0.9zM67.47 75.46h0.9v0.9h-0.9zM70.63 78.11h0.9v0.9h-0.9zM68.65 79.96h0.9v0.9h-0.9zM83.71 79.75h0.9v0.9h-0.9zM72.51 76.75h0.9v0.9h-0.9zM76.53 73.3h0.9v0.9h-0.9zM73.46 79.67h0.9v0.9h-0.9zM70.69 73.05h0.9v0.9h-0.9zM65.31 68.49h0.9v0.9h-0.9zM73.59 81.51h0.9v0.9h-0.9zM69.68 78.62h0.9v0.9h-0.9zM67.5 74.9h0.9v0.9h-0.9zM69.93 79h0.9v0.9h-0.9zM70.95 76.25h0.9v0.9h-0.9zM71.75 74.34h0.9v0.9h-0.9zM82.37 77.27h0.9v0.9h-0.9zM72.9 82.47h0.9v0.9h-0.9zM78 76.08h0.9v0.9h-0.9zM65.56 74.52h0.9v0.9h-0.9zM76.16 75.57h0.9v0.9h-0.9zM69.8 74.18h0.9v0.9h-0.9zM70.55 78.35h0.9v0.9h-0.9zM72.29 71.79h0.9v0.9h-0.9zM74.16 87.11h0.9v0.9h-0.9zM68.03 79.99h0.9v0.9h-0.9zM71.92 80.91h0.9v0.9h-0.9zM75.44 76.33h0.9v0.9h-0.9zM71.83 82.57h0.9v0.9h-0.9zM61.48 80.05h0.9v0.9h-0.9zM80.27 87.16h0.9v0.9h-0.9zM70.52 73.7h0.9v0.9h-0.9zM66.24 74.24h0.9v0.9h-0.9zM69.26 79.1h0.9v0.9h-0.9zM73.63 81.2h0.9v0.9h-0.9zM73 77.37h0.9v0.9h-0.9zM72.24 73.79h0.9v0.9h-0.9zM72.04 77.61h0.9v0.9h-0.9zM74.76 75.4h0.9v0.9h-0.9zM71.11 77.31h0.9v0.9h-0.9zM76.81 75.81h0.9v0.9h-0.9zM71.04 81.89h0.9v0.9h-0.9zM75.16 78.09h0.9v0.9h-0.9zM68.83 74.31h0.9v0.9h-0.9zM71.42 84.98h0.9v0.9h-0.9zM71.62 74.26h0.9v0.9h-0.9zM72.6 79.13h0.9v0.9h-0.9zM67.69 71.04h0.9v0.9h-0.9zM68.88 78.83h0.9v0.9h-0.9zM66.77 69h0.9v0.9h-0.9zM76.6 74.87h0.9v0.9h-0.9zM70.78 78.59h0.9v0.9h-0.9zM72.75 73.19h0.9v0.9h-0.9zM71.44 75.67h0.9v0.9h-0.9zM74.81 75.52h0.9v0.9h-0.9zM80.93 75.67h0.9v0.9h-0.9zM70.01 76.34h0.9v0.9h-0.9zM77.73 78.7h0.9v0.9h-0.9zM75.33 77.23h0.9v0.9h-0.9zM71.05 85.62h0.9v0.9h-0.9zM67.75 76.92h0.9v0.9h-0.9zM63.61 76.64h0.9v0.9h-0.9zM77.61 81.8h0.9v0.9h-0.9zM63.79 73.94h0.9v0.9h-0.9zM74.82 85.06h0.9v0.9h-0.9zM79.75 74.08h0.9v0.9h-0.9zM63.94 79.09h0.9v0.9h-0.9zM61.59 76.01h0.9v0.9h-0.9zM79.64 86.82h0.9v0.9h-0.9zM77.97 80.23h0.9v0.9h-0.9zM64.46 71.91h0.9v0.9h-0.9zM70.01 76.07h0.9v0.9h-0.9zM75.19 79.22h0.9v0.9h-0.9zM71.08 79.15h0.9v0.9h-0.9zM66.69 83.1h0.9v0.9h-0.9zM73.25 78.99h0.9v0.9h-0.9zM71.3 74.12h0.9v0.9h-0.9zM78.08 82.7h0.9v0.9h-0.9zM66.34 70.96h0.9v0.9h-0.9zM71.28 74.99h0.9v0.9h-0.9zM79.69 77.34h0.9v0.9h-0.9zM73.39 79.38h0.9v0.9h-0.9zM64.38 72.6h0.9v0.9h-0.9zM69.31 78.3h0.9v0.9h-0.9zM67.81 76.26h0.9v0.9h-0.9zM64.31 66.96h0.9v0.9h-0.9zM72.92 83.49h0.9v0.9h-0.9zM72.32 74.96h0.9v0.9h-0.9zM65.02 76.13h0.9v0.9h-0.9zM77.01 76.1h0.9v0.9h-0.9zM73.93 74.62h0.9v0.9h-0.9zM69.21 80.2h0.9v0.9h-0.9zM79.93 72.96h0.9v0.9h-0.9zM79.4 74.08h0.9v0.9h-0.9zM76.37 82.73h0.9v0.9h-0.9zM68.59 80.49h0.9v0.9h-0.9zM69.1 72.18h0.9v0.9h-0.9zM69.11 75.32h0.9v0.9h-0.9zM63.89 74.42h0.9v0.9h-0.9zM73.84 79.34h0.9v0.9h-0.9zM81.16 82.49h0.9v0.9h-0.9zM79.49 80.25h0.9v0.9h-0.9zM79.67 73.51h0.9v0.9h-0.9zM72.5 77.18h0.9v0.9h-0.9zM69.68 73.06h0.9v0.9h-0.9zM70.75 73.27h0.9v0.9h-0.9zM69.18 73.13h0.9v0.9h-0.9zM65.47 72.45h0.9v0.9h-0.9zM75.92 79.21h0.9v0.9h-0.9zM65.12 79.6h0.9v0.9h-0.9zM74.26 83.84h0.9v0.9h-0.9zM78.15 80.39h0.9v0.9h-0.9zM67.7 80.19h0.9v0.9h-0.9zM68.21 74.46h0.9v0.9h-0.9zM72.22 79.7h0.9v0.9h-0.9zM67.19 79.19h0.9v0.9h-0.9zM68.33 78.72h0.9v0.9h-0.9zM75.39 83.33h0.9v0.9h-0.9zM77.75 75.99h0.9v0.9h-0.9zM65.19 69.87h0.9v0.9h-0.9zM70.14 83.82h0.9v0.9h-0.9zM63.53 73.28h0.9v0.9h-0.9zM67.98 71.26h0.9v0.9h-0.9zM67.86 78.22h0.9v0.9h-0.9zM69.44 81.74h0.9v0.9h-0.9zM63.48 76.13h0.9v0.9h-0.9zM75.98 80.83h0.9v0.9h-0.9zM74.95 76.98h0.9v0.9h-0.9zM65.91 71.44h0.9v0.9h-0.9zM64.48 80.6h0.9v0.9h-0.9zM71.39 78.82h0.9v0.9h-0.9zM76.92 77.29h0.9v0.9h-0.9zM75.19 81.8h0.9v0.9h-0.9zM61.22 73.13h0.9v0.9h-0.9zM73 80.64h0.9v0.9h-0.9zM80.73 81.76h0.9v0.9h-0.9zM72.09 81.46h0.9v0.9h-0.9zM63.24 77.49h0.9v0.9h-0.9zM66 67.07h0.9v0.9h-0.9zM76.42 75.41h0.9v0.9h-0.9zM74.18 71.09h0.9v0.9h-0.9zM74.02 73.51h0.9v0.9h-0.9zM76.45 73.24h0.9v0.9h-0.9zM74.1 77.85h0.9v0.9h-0.9zM71.51 77.02h0.9v0.9h-0.9zM74.79 73.12h0.9v0.9h-0.9zM66.88 71.87h0.9v0.9h-0.9zM77.97 72.07h0.9v0.9h-0.9zM68.2 72.02h0.9v0.9h-0.9zM64.39 73.99h0.9v0.9h-0.9zM72.13 73.73h0.9v0.9h-0.9zM63.68 75.87h0.9v0.9h-0.9zM65.99 76.39h0.9v0.9h-0.9zM77.88 72.46h0.9v0.9h-0.9zM65 72.82h0.9v0.9h-0.9zM71.08 80.91h0.9v0.9h-0.9zM73.03 83.54h0.9v0.9h-0.9zM69.42 74.85h0.9v0.9h-0.9zM76.28 78.59h0.9v0.9h-0.9zM80.53 75.82h0.9v0.9h-0.9zM75.02 78.96h0.9v0.9h-0.9zM57.85 72.64h0.9v0.9h-0.9zM72.67 78.27h0.9v0.9h-0.9zM66.13 71.29h0.9v0.9h-0.9zM81.28 80.11h0.9v0.9h-0.9zM64.67 71.92h0.9v0.9h-0.9zM70.94 72.45h0.9v0.9h-0.9zM63.91 77.22h0.9v0.9h-0.9zM70.53 71.27h0.9v0.9h-0.9zM74.04 81.92h0.9v0.9h-0.9zM63.49 75.45h0.9v0.9h-0.9zM62.97 66.81h0.9v0.9h-0.9zM77.82 80.51h0.9v0.9h-0.9zM62.61 73.66h0.9v0.9h-0.9zM76.12 80.48h0.9v0.9h-0.9zM61.81 68.86h0.9v0.9h-0.9zM71.53 81.17h0.9v0.9h-0.9zM81.83 83.34h0.9v0.9h-0.9zM68.42 75.01h0.9v0.9h-0.9zM79.86 78.55h0.9v0.9h-0.9zM76.98 77.85h0.9v0.9h-0.9zM71.94 81.06h0.9v0.9h-0.9zM64.66 72.13h0.9v0.9h-0.9zM70.97 79.88h0.9v0.9h-0.9zM68.16 70.11h0.9v0.9h-0.9zM70.45 75.52h0.9v0.9h-0.9zM60.58 74.3h0.9v0.9h-0.9zM64.71 79.69h0.9v0.9h-0.9zM75.66 80.37h0.9v0.9h-0.9zM77.6 76.13h0.9v0.9h-0.9zM70.54 73.83h0.9v0.9h-0.9zM63.94 72.14h0.9v0.9h-0.9zM66.86 81.2h0.9v0.9h-0.9zM67 71.9h0.9v0.9h-0.9zM72.39 79.97h0.9v0.9h-0.9zM72.26 75.54h0.9v0.9h-0.9zM72.9 80.11h0.9v0.9h-0.9zM61.42 69h0.9v0.9h-0.9zM66.14 67.76h0.9v0.9h-0.9zM71.67 77.77h0.9v0.9h-0.9zM73.66 74.54h0.9v0.9h-0.9zM72.01 73.19h0.9v0.9h-0.9zM71.51 80.76h0.9v0.9h-0.9zM77.76 88h0.9v0.9h-0.9zM67.61 72.36h0.9v0.9h-0.9zM65.1 74.38h0.9v0.9h-0.9zM80.3 87.02h0.9v0.9h-0.9zM62.66 73.7h0.9v0.9h-0.9zM70.31 78h0.9v0.9h-0.9zM82.77 81.15h0.9v0.9h-0.9zM61.75 80.24h0.9v0.9h-0.9zM74.7 75.74h0.9v0.9h-0.9zM68.94 80.47h0.9v0.9h-0.9zM71.84 74.16h0.9v0.9h-0.9zM62.49 80.44h0.9v0.9h-0.9zM60.83 70.74h0.9v0.9h-0.9zM69.71 79.15h0.9v0.9h-0.9zM67.6 77.09h0.9v0.9h-0.9zM75.85 79.67h0.9v0.9h-0.9zM68.9 74.61h0.9v0.9h-0.9zM66.15 72.58h0.9v0.9h-0.9zM68.84 76.53h0.9v0.9h-0.9zM75.35 86.51h0.9v0.9h-0.9zM67.14 77.28h0.9v0.9h-0.9zM70.86 80.67h0.9v0.9h-0.9zM70.5 77.96h0.9v0.9h-0.9zM70.23 72.58h0.9v0.9h-0.9zM72.8 84.69h0.9v0.9h-0.9zM73.65 81.01h0.9v0.9h-0.9zM73.52 76.54h0.9v0.9h-0.9zM59.6 72.3h0.9v0.9h-0.9zM73.39 75.93h0.9v0.9h-0.9zM62.7 77.5h0.9v0.9h-0.9zM67.08 74.15h0.9v0.9h-0.9zM67.84 75.55h0.9v0.9h-0.9zM71.58 73.7h0.9v0.9h-0.9zM78.77 78.56h0.9v0.9h-0.9zM66.9 76.87h0.9v0.9h-0.9zM69.04 73.48h0.9v0.9h-0.9zM73.82 77.16h0.9v0.9h-0.9zM64.35 71.83h0.9v0.9h-0.9zM65.82 81.8h0.9v0.9h-0.9zM62.68 75.97h0.9v0.9h-0.9zM67.48 72.78h0.9v0.9h-0.9zM68.57 76.63h0.9v0.9h-0.9zM71.71 86.15h0.9v0.9h-0.9zM64.39 78.95h0.9v0.9h-0.9zM74.62 83.55h0.9v0.9h-0.9zM64.71 77.05h0.9v0.9h-0.9zM69.59 77.76h0.9v0.9h-0.9zM67.97 78.16h0.9v0.9h-0.9zM74.54 85.07h0.9v0.9h-0.9zM67.55 79.51h0.9v0.9h-0.9zM81.2 79.52h0.9v0.9h-0.9zM82.24 78.27h0.9v0.9h-0.9zM72.62 81.07h0.9v0.9h-0.9z" fill="#c84850" fill-opacity="0.75"/>
<path d="M120.29 112.27h0.9v0.9h-0.9zM109.22 96.89h0.9v0.9h-0.9zM97.69 103.3h0.9v0.9h-0.9zM110.79 98.46h0.9v0.9h-0.9zM116.82 101.54h0.9v0.9h-0.9zM108.33 99.2h0.9v0.9h-0.9zM114.49 93.45h0.9v0.9h-0.9zM111.85 105.67h0.9v0.9h-0.9zM110.61 109.08h0.9v0.9h-0.9zM104.21 108.39h0.9v0.9h-0.9zM115.61 109h0.9v0.9h-0.9zM108.65 99.2h0.9v0.9h-0.9zM119.26 100.15h0.9v0.9h-0.9zM111.5 98.59h0.9v0.9h-0.9zM97.2 101.66h0.9v0.9h-0.9zM109.67 104.11h0.9v0.9h-0.9zM122.07 98.47h0.9v0.9h-0.9zM108.44 105.52h0.9v0.9h-0.9zM120.27 100.85h0.9v0.9h-0.9zM114.66 108.53h0.9v0.9h-0.9zM116.2 117.11h0.9v0.9h-0.9zM111.53 101.33h0.9v0.9h-0.9zM110.81 96.6h0.9v0.9h-0.9zM116.59 92.09h0.9v0.9h-0.9zM107.81 106.3h0.9v0.9h-0.9zM118.81 106.18h0.9v0.9h-0.9zM122.94 106.02h0.9v0.9h-0.9zM115.78 91.63h0.9v0.9h-0.9zM107.07 95.69h0.9v0.9h-0.9zM119.24 113.67h0.9v0.9h-0.9zM99.9 102.53h0.9v0.9h-0.9zM114.41 104.64h0.9v0.9h-0.9zM111.25 102.23h0.9v0.9h-0.9zM112.24 90.81h0.9v0.9h-0.9zM104.78 111.48h0.9v0.9h-0.9zM121.64 108.44h0.9v0.9h-0.9zM105.19 99.5h0.9v0.9h-0.9zM115.43 110.01h0.9v0.9h-0.9zM104.38 103.71h0.9v0.9h-0.9zM106.64 106.27h0.9v0.9h-0.9zM112.17 93.24h0.9v0.9h-0.9zM107.74 108.9h0.9v0.9h-0.9zM102.15 98.59h0.9v0.9h-0.9zM117.84 105.47h0.9v0.9h-0.9zM112.53 113.84h0.9v0.9h-0.9zM97.22 109.93h0.9v0.9h-0.9zM99.54 93.73h0.9v0.9h-0.9zM110.8 115.3h0.9v0.9h-0.9zM105.45 95.96h0.9v0.9h-0.9zM118.25 93.07h0.9v0.9h-0.9zM112.76 110.15h0.9v0.9h-0.9zM104.79 105.37h0.9v0.9h-0.9zM114.66 109.2h0.9v0.9h-0.9zM108.54 115.46h0.9v0.9h-0.9zM105.9 102.95h0.9v0.9h-0.9zM102.5 108.07h0.9v0.9h-0.9zM105.32 105.15h0.9v0.9h-0.9zM110.78 104.99h0.9v0.9h-0.9zM122.98 110.8h0.9v0.9h-0.9zM117.56 115.06h0.9v0.9h-0.9zM120.31 108.62h0.9v0.9h-0.9zM114.19 112.54h0.9v0.9h-0.9zM104.53 103.02h0.9v0.9h-0.9zM109.18 103.24h0.9v0.9h-0.9zM122.11 105.17h0.9v0.9h-0.9zM108.93 98.17h0.9v0.9h-0.9zM108.13 107.49h0.9v0.9h-0.9zM121.87 113.35h0.9v0.9h-0.9zM115.98 101.52h0.9v0.9h-0.9zM109.52 114.69h0.9v0.9h-0.9zM111.01 117.36h0.9v0.9h-0.9zM121.29 98.46h0.9v0.9h-0.9zM105.69 106.25h0.9v0.9h-0.9zM115.88 100.86h0.9v0.9h-0.9zM100.09 106.07h0.9v0.9h-0.9zM95.2 107.01h0.9v0.9h-0.9zM109.1 105.9h0.9v0.9h-0.9zM102.29 94.75h0.9v0.9h-0.9zM120.18 98.03h0.9v0.9h-0.9zM100.89 99.09h0.9v0.9h-0.9zM110.98 110.46h0.9v0.9h-0.9zM108 101.18h0.9v0.9h-0.9zM110.27 99.53h0.9v0.9h-0.9zM111.29 106.02h0.9v0.9h-0.9zM104.52 102.86h0.9v0.9h-0.9zM110.17 103.48h0.9v0.9h-0.9zM115.56 98.64h0.9v0.9h-0.9zM102.46 111.69h0.9v0.9h-0.9zM102.41 98.82h0.9v0.9h-0.9zM102.37 107.22h0.9v0.9h-0.9zM108.69 89.72h0.9v0.9h-0.9zM114.99 104.04h0.9v0.9h-0.9zM103.9 109.16h0.9v0.9h-0.9zM104.8 98h0.9v0.9h-0.9zM109.64 107.11h0.9v0.9h-0.9zM102.62 108.05h0.9v0.9h-0.9zM121.49 107.87h0.9v0.9h-0.9zM112.19 102.53h0.9v0.9h-0.9zM109.79 93.61h0.9v0.9h-0.9zM102.6 110.14h0.9v0.9h-0.9zM119.55 106.72h0.9v0.9h-0.9zM108.58 97.54h0.9v0.9h-0.9zM114.45 107.51h0.9v0.9h-0.9zM109.96 95.77h0.9v0.9h-0.9zM116.92 114.27h0.9v0.9h-0.9zM99.59 105.94h0.9v0.9h-0.9zM99.67 103.19h0.9v0.9h-0.9zM104.41 97.44h0.9v0.9h-0.9zM112.12 108.69h0.9v0.9h-0.9zM120.31 103.23h0.9v0.9h-0.9zM108.31 106.76h0.9v0.9h-0.9zM104.84 99.8h0.9v0.9h-0.9zM100.03 98.96h0.9v0.9h-0.9zM106.79 112.94h0.9v0.9h-0.9zM114.1 112.91h0.9v0.9h-0.9zM108.13 101.12h0.9v0.9h-0.9zM106.73 103.9h0.9v0.9h-0.9zM100.33 94.28h0.9v0.9h-0.9zM111.95 101h0.9v0.9h-0.9zM122.5 110.43h0.9v0.9h-0.9zM117.41 117.71h0.9v0.9h-0.9zM104.97 104.32h0.9v0.9h-0.9zM120.65 107.48h0.9v0.9h-0.9zM112.59 101.01h0.9v0.9h-0.9zM111.66 102.12h0.9v0.9h-0.9zM107.12 110.38h0.9v0.9h-0.9zM119.72 110.68h0.9v0.9h-0.9zM108.5 110.01h0.9v0.9h-0.9zM111.56 96.4h0.9v0.9h-0.9zM121.37 103.06h0.9v0.9h-0.9zM120.16 102.12h0.9v0.9h-0.9zM111 116.62h0.9v0.9h-0.9zM97.81 108.89h0.9v0.9h-0.9zM110.11 89.9h0.9v0.9h-0.9zM112.84 111.27h0.9v0.9h-0.9zM110.66 101.93h0.9v0.9h-0.9zM108.23 100.65h0.9v0.9h-0.9zM98.88 93.03h0.9v0.9h-0.9zM109.83 98.18h0.9v0.9h-0.9zM109.21 112.07h0.9v0.9h-0.9zM119.35 100.01h0.9v0.9h-0.9zM110.7 105.53h0.9v0.9h-0.9zM116.36 117.28h0.9v0.9h-0.9zM109.6 113.54h0.9v0.9h-0.9zM101.76 111.6h0.9v0.9h-0.9zM105.51 104.59h0.9v0.9h-0.9zM119.89 102.37h0.9v0.9h-0.9zM110.98 90.45h0.9v0.9h-0.9zM111.4 104.36h0.9v0.9h-0.9zM105.88 105.62h0.9v0.9h-0.9zM111.56 102.77h0.9v0.9h-0.9zM109.71 117.91h0.9v0.9h-0.9zM110.01 96.46h0.9v0.9h-0.9zM105.26 102.01h0.9v0.9h-0.9zM117.28 101.29h0.9v0.9h-0.9zM120.87 102.05h0.9v0.9h-0.9zM114.56 110.07h0.9v0.9h-0.9zM108.65 101.89h0.9v0.9h-0.9zM110.48 111.21h0.9v0.9h-0.9zM99.25 100h0.9v0.9h-0.9zM102.38 104.66h0.9v0.9h-0.9zM119.84 110.09h0.9v0.9h-0.9zM108.58 104.65h0.9v0.9h-0.9zM113.53 107.36h0.9v0.9h-0.9zM109.65 97.93h0.9v0.9h-0.9zM104.47 110.55h0.9v0.9h-0.9zM104.57 111.68h0.9v0.9h-0.9zM112.05 105.08h0.9v0.9h-0.9zM100.17 92.98h0.9v0.9h-0.9zM123.63 101.5h0.9v0.9h-0.9zM106.57 93.21h0.9v0.9h-0.9zM103.73 105.54h0.9v0.9h-0.9zM122.74 106.6h0.9v0.9h-0.9zM99.9 111.56h0.9v0.9h-0.9zM113.71 96.19h0.9v0.9h-0.9zM107.85 96.92h0.9v0.9h-0.9zM103.77 97.73h0.9v0.9h-0.9zM115.2 109.82h0.9v0.9h-0.9zM102.36 100.52h0.9v0.9h-0.9zM107.58 108.72h0.9v0.9h-0.9zM106.01 105.36h0.9v0.9h-0.9zM100.94 101.41h0.9v0.9h-0.9zM105.41 98.38h0.9v0.9h-0.9zM110.2 106.82h0.9v0.9h-0.9zM104.97 107.91h0.9v0.9h-0.9zM113.13 95.33h0.9v0.9h-0.9zM117.69 105.51h0.9v0.9h-0.9zM121.15 105.18h0.9v0.9h-0.9zM113.09 108.32h0.9v0.9h-0.9zM96.92 107.75h0.9v0.9h-0.9zM116.27 111.59h0.9v0.9h-0.9zM116.66 103.86h0.9v0.9h-0.9zM109.14 105.31h0.9v0.9h-0.9zM110.62 110.04h0.9v0.9h-0.9zM110.93 98.9h0.9v0.9h-0.9zM104.46 104.1h0.9v0.9h-0.9zM108.91 98.93h0.9v0.9h-0.9zM108.38 101.05h0.9v0.9h-0.9zM106.11 105.57h0.9v0.9h-0.9zM109.42 113.27h0.9v0.9h-0.9zM121.37 102.13h0.9v0.9h-0.9zM115.82 104.67h0.9v0.9h-0.9zM98.78 109.85h0.9v0.9h-0.9zM108.37 96.19h0.9v0.9h-0.9zM109.98 97.14h0.9v0.9h-0.9zM116.05 110.55h0.9v0.9h-0.9zM118.82 112.4h0.9v0.9h-0.9zM101.85 107.72h0.9v0.9h-0.9zM106.81 98.44h0.9v0.9h-0.9zM108.64 103.53h0.9v0.9h-0.9zM120.87 105.4h0.9v0.9h-0.9zM112.68 105.32h0.9v0.9h-0.9zM104.59 92.06h0.9v0.9h-0.9zM106.98 105.51h0.9v0.9h-0.9zM110.68 108.25h0.9v0.9h-0.9zM111.92 101.5h0.9v0.9h-0.9zM116.63 99.75h0.9v0.9h-0.9zM101.31 96.3h0.9v0.9h-0.9zM101.3 94.83h0.9v0.9h-0.9zM106.45 97.48h0.9v0.9h-0.9zM112.46 98.97h0.9v0.9h-0.9zM112.87 91.87h0.9v0.9h-0.9zM114.14 99.29h0.9v0.9h-0.9zM103.26 102.07h0.9v0.9h-0.9zM110.33 105.02h0.9v0.9h-0.9zM98.21 99.04h0.9v0.9h-0.9zM114.49 98.75h0.9v0.9h-0.9zM115.64 106.86h0.9v0.9h-0.9zM111.71 101.36h0.9v0.9h-0.9zM113.69 106.91h0.9v0.9h-0.9zM116.78 111.56h0.9v0.9h-0.9zM106.24 100.03h0.9v0.9h-0.9zM118.03 105.69h0.9v0.9h-0.9zM110.99 108.79h0.9v0.9h-0.9zM110.22 105.86h0.9v0.9h-0.9zM113.66 99.97h0.9v0.9h-0.9zM119.37 108.32h0.9v0.9h-0.9zM107.92 97h0.9v0.9h-0.9zM116.46 98.91h0.9v0.9h-0.9zM115.96 115.97h0.9v0.9h-0.9zM117.97 113.42h0.9v0.9h-0.9zM117.41 112.25h0.9v0.9h-0.9zM121.79 106.82h0.9v0.9h-0.9zM108.22 109.26h0.9v0.9h-0.9zM105.52 110.31h0.9v0.9h-0.9zM108.17 108.55h0.9v0.9h-0.9zM115.82 95.38h0.9v0.9h-0.9zM107.46 113.16h0.9v0.9h-0.9zM116.18 102.74h0.9v0.9h-0.9zM116.88 92.41h0.9v0.9h-0.9zM105.43 108.71h0.9v0.9h-0.9zM111.42 115.59h0.9v0.9h-0.9zM105.45 96.08h0.9v0.9h-0.9zM96.68 107.5h0.9v0.9h-0.9zM114.9 102.81h0.9v0.9h-0.9zM108.73 105.05h0.9v0.9h-0.9zM112.46 116.51h0.9v0.9h-0.9zM112.52 108.38h0.9v0.9h-0.9zM110.08 100.73h0.9v0.9h-0.9zM112.07 104.92h0.9v0.9h-0.9zM104.91 115.82h0.9v0.9h-0.9zM110.15 101.93h0.9v0.9h-0.9zM104.55 100.67h0.9v0.9h-0.9zM106.03 103.37h0.9v0.9h-0.9zM113.53 112.68h0.9v0.9h-0.9zM112.41 112.06h0.9v0.9h-0.9zM110.03 115.49h0.9v0.9h-0.9zM112.71 116.54h0.9v0.9h-0.9zM106.29 101.84h0.9v0.9h-0.9zM101.22 106.73h0.9v0.9h-0.9zM117.81 104.71h0.9v0.9h-0.9zM123.11 102.48h0.9v0.9h-0.9zM107.08 107.48h0.9v0.9h-0.9zM108.37 106.21h0.9v0.9h-0.9zM117.59 111.06h0.9v0.9h-0.9zM99.34 103.67h0.9v0.9h-0.9zM108.88 104.28h0.9v0.9h-0.9zM110.68 93.13h0.9v0.9h-0.9zM102 96.5h0.9v0.9h-0.9zM122.62 101.82h0.9v0.9h-0.9zM102.75 104.14h0.9v0.9h-0.9zM101.97 104.74h0.9v0.9h-0.9zM105.35 103.81h0.9v0.9h-0.9zM110.79 104.44h0.9v0.9h-0.9zM104.72 112.44h0.9v0.9h-0.9zM104.07 104.92h0.9v0.9h-0.9zM109.5 107.65h0.9v0.9h-0.9zM122.65 99.09h0.9v0.9h-0.9zM112.67 104.09h0.9v0.9h-0.9zM110.69 97.44h0.9v0.9h-0.9zM107.8 94.34h0.9v0.9h-0.9zM122.58 111.35h0.9v0.9h-0.9zM118.95 101.21h0.9v0.9h-0.9zM105.97 113.4h0.9v0.9h-0.9zM113.22 97.7h0.9v0.9h-0.9zM111.73 96.87h0.9v0.9h-0.9zM100.47 96.6h0.9v0.9h-0.9zM109.9 97.32h0.9v0.9h-0.9zM106.71 94.52h0.9v0.9h-0.9zM106.84 113.53h0.9v0.9h-0.9zM97.02 98.74h0.9v0.9h-0.9zM101.98 98.06h0.9v0.9h-0.9zM108.79 107.85h0.9v0.9h-0.9zM120.35 105.45h0.9v0.9h-0.9zM101.44 97.52h0.9v0.9h-0.9zM114.65 100.99h0.9v0.9h-0.9zM110.69 118.13h0.9v0.9h-0.9zM98.16 100.12h0.9v0.9h-0.9zM112.32 103.5h0.9v0.9h-0.9zM94.78 105.94h0.9v0.9h-0.9zM113.3 102h0.9v0.9h-0.9zM111.03 109.83h0.9v0.9h-0.9zM113.67 110.85h0.9v0.9h-0.9zM117.19 98.56h0.9v0.9h-0.9zM106.42 102.98h0.9v0.9h-0.9zM110.9 95.92h0.9v0.9h-0.9zM95.61 97.73h0.9v0.9h-0.9zM112.3 100.57h0.9v0.9h-0.9zM110.04 96.78h0.9v0.9h-0.9zM104.78 100.19h0.9v0.9h-0.9z" fill="#c04450" fill-opacity="0.75"/>
<ellipse cx="122" cy="57" rx="36" ry="30" fill="none" stroke="#2a9498" stroke-width="1.7" transform="rotate(35 122 57)"/>
<ellipse cx="72.3" cy="78.8" rx="18" ry="13" fill="none" stroke="#a82a2e" stroke-width="1.7" transform="rotate(35 72.3 78.8)"/>
<ellipse cx="110" cy="105" rx="20" ry="16" fill="none" stroke="#a82a2e" stroke-width="1.7" transform="rotate(30 110 105)"/>
<rect x="51.9" y="23.8" width="105.4" height="98.2" fill="none" stroke="#111" stroke-width="1.5"/>
<line x1="49.1" y1="35.1" x2="51.9" y2="35.1" stroke="#111" stroke-width="1.2"/>
<text x="45.3" y="37.9" font-size="8" text-anchor="end" fill="#222">20</text>
<line x1="49.1" y1="52.3" x2="51.9" y2="52.3" stroke="#111" stroke-width="1.2"/>
<text x="45.3" y="55.1" font-size="8" text-anchor="end" fill="#222">10</text>
<line x1="49.1" y1="69.5" x2="51.9" y2="69.5" stroke="#111" stroke-width="1.2"/>
<text x="45.3" y="72.3" font-size="8" text-anchor="end" fill="#222">0</text>
<line x1="49.1" y1="86.7" x2="51.9" y2="86.7" stroke="#111" stroke-width="1.2"/>
<text x="45.3" y="89.5" font-size="8" text-anchor="end" fill="#222">-10</text>
<line x1="49.1" y1="103.9" x2="51.9" y2="103.9" stroke="#111" stroke-width="1.2"/>
<text x="45.3" y="106.7" font-size="8" text-anchor="end" fill="#222">-20</text>
<line x1="49.1" y1="121.1" x2="51.9" y2="121.1" stroke="#111" stroke-width="1.2"/>
<text x="45.3" y="123.9" font-size="8" text-anchor="end" fill="#222">-30</text>
<line x1="68.75" y1="122" x2="68.75" y2="124.6" stroke="#111" stroke-width="1.2"/>
<text x="67.55" y="135.6" font-size="8" text-anchor="middle" fill="#222">-20</text>
<line x1="90.6" y1="122" x2="90.6" y2="124.6" stroke="#111" stroke-width="1.2"/>
<text x="89.4" y="135.6" font-size="8" text-anchor="middle" fill="#222">-10</text>
<line x1="112.5" y1="122" x2="112.5" y2="124.6" stroke="#111" stroke-width="1.2"/>
<text x="112.5" y="135.6" font-size="8" text-anchor="middle" fill="#222">0</text>
<line x1="134.4" y1="122" x2="134.4" y2="124.6" stroke="#111" stroke-width="1.2"/>
<text x="134.4" y="135.6" font-size="8" text-anchor="middle" fill="#222">10</text>
<line x1="156.2" y1="122" x2="156.2" y2="124.6" stroke="#111" stroke-width="1.2"/>
<text x="156.2" y="135.6" font-size="8" text-anchor="middle" fill="#222">20</text>
<text transform="translate(28.1,73.3) rotate(-90) scale(0.68,1)" font-size="9.6" text-anchor="middle" fill="#2a2a2a" font-weight="bold">tSNE2</text>
<text transform="translate(107.2,149.5) scale(0.66,1)" font-size="9.3" text-anchor="middle" fill="#2a2a2a" font-weight="bold">tSNE1</text>
<rect x="74.5" y="155.6" width="6" height="6" fill="#c0282c"/>
<text x="83" y="161.7" font-size="8" text-anchor="start" fill="#333">ILC1</text>
<rect x="117.3" y="155.6" width="6" height="6" fill="#2aa0a8"/>
<text x="126.8" y="161.7" font-size="8" text-anchor="start" fill="#333">NK</text>
<text x="177.4" y="17.7" font-size="11.4" text-anchor="start" fill="#111" font-weight="bold">B</text>
<path d="M282.98 60.64h0.9v0.9h-0.9zM289.31 52.17h0.9v0.9h-0.9zM302.53 60.2h0.9v0.9h-0.9zM302 48.64h0.9v0.9h-0.9zM285.57 42.97h0.9v0.9h-0.9zM287.99 58.86h0.9v0.9h-0.9zM293.55 44.77h0.9v0.9h-0.9zM300.26 58.28h0.9v0.9h-0.9zM292.43 34.08h0.9v0.9h-0.9zM288.48 53.49h0.9v0.9h-0.9zM277.22 59h0.9v0.9h-0.9zM284.86 42.9h0.9v0.9h-0.9zM273.54 65.57h0.9v0.9h-0.9zM293.9 39.01h0.9v0.9h-0.9zM277.6 64.98h0.9v0.9h-0.9zM299.98 43.37h0.9v0.9h-0.9zM316.57 37.5h0.9v0.9h-0.9zM277.64 67.24h0.9v0.9h-0.9zM289.33 54.57h0.9v0.9h-0.9zM288.2 39.8h0.9v0.9h-0.9zM270.82 55.23h0.9v0.9h-0.9zM310.87 31.54h0.9v0.9h-0.9zM314.52 43.99h0.9v0.9h-0.9zM273.73 59.36h0.9v0.9h-0.9zM297.35 37.64h0.9v0.9h-0.9zM274.4 61.08h0.9v0.9h-0.9zM259.01 60.12h0.9v0.9h-0.9zM272.43 40.16h0.9v0.9h-0.9zM287.83 53.16h0.9v0.9h-0.9zM277.7 41.62h0.9v0.9h-0.9zM288.39 31.34h0.9v0.9h-0.9zM301.83 51.65h0.9v0.9h-0.9zM322.17 48.67h0.9v0.9h-0.9zM298.03 50.48h0.9v0.9h-0.9zM286.87 36.67h0.9v0.9h-0.9zM317.31 46.42h0.9v0.9h-0.9zM282.32 40.35h0.9v0.9h-0.9zM317.68 46.34h0.9v0.9h-0.9zM274.02 63.81h0.9v0.9h-0.9zM322.48 38.36h0.9v0.9h-0.9zM296.32 43.46h0.9v0.9h-0.9zM284.68 64.43h0.9v0.9h-0.9zM292.02 58.62h0.9v0.9h-0.9zM288.79 59.06h0.9v0.9h-0.9zM301.23 34.93h0.9v0.9h-0.9zM273.2 55.72h0.9v0.9h-0.9zM305.96 47.74h0.9v0.9h-0.9zM306.74 28.89h0.9v0.9h-0.9zM297.1 40.86h0.9v0.9h-0.9zM294.01 52.59h0.9v0.9h-0.9zM274.35 53.57h0.9v0.9h-0.9zM272.93 59.64h0.9v0.9h-0.9zM275.38 50.22h0.9v0.9h-0.9zM292.46 42.21h0.9v0.9h-0.9zM307.87 36.78h0.9v0.9h-0.9zM306.25 47.7h0.9v0.9h-0.9zM273.34 54.06h0.9v0.9h-0.9zM276.08 51.45h0.9v0.9h-0.9zM293.28 69.64h0.9v0.9h-0.9zM289.94 68.05h0.9v0.9h-0.9zM293.87 34.37h0.9v0.9h-0.9zM309.58 47.69h0.9v0.9h-0.9zM286.84 48.77h0.9v0.9h-0.9zM294.38 45.45h0.9v0.9h-0.9zM281.04 49.55h0.9v0.9h-0.9zM308.26 36.84h0.9v0.9h-0.9zM293.31 36.33h0.9v0.9h-0.9zM274.51 40.69h0.9v0.9h-0.9zM290.4 57.94h0.9v0.9h-0.9zM294.46 43.3h0.9v0.9h-0.9zM300.03 42.9h0.9v0.9h-0.9zM298.32 50.47h0.9v0.9h-0.9zM272.52 65.46h0.9v0.9h-0.9zM285.35 45.96h0.9v0.9h-0.9zM317.81 46.53h0.9v0.9h-0.9zM324.3 43.66h0.9v0.9h-0.9zM290.45 58.38h0.9v0.9h-0.9zM276.62 50.31h0.9v0.9h-0.9zM281.26 51.13h0.9v0.9h-0.9zM302.29 40.58h0.9v0.9h-0.9zM294.71 43.15h0.9v0.9h-0.9zM288.39 52.91h0.9v0.9h-0.9zM277.09 66.47h0.9v0.9h-0.9zM299.37 61.35h0.9v0.9h-0.9zM309.33 50.57h0.9v0.9h-0.9zM284.84 40.17h0.9v0.9h-0.9zM285.92 46.78h0.9v0.9h-0.9zM293.64 43.91h0.9v0.9h-0.9zM308.83 38.33h0.9v0.9h-0.9zM290.54 60.59h0.9v0.9h-0.9zM286.89 38.02h0.9v0.9h-0.9zM297.3 45.6h0.9v0.9h-0.9zM271.18 48.97h0.9v0.9h-0.9zM300.21 50.07h0.9v0.9h-0.9zM295.89 41.44h0.9v0.9h-0.9zM294.65 47.39h0.9v0.9h-0.9zM287.19 48.38h0.9v0.9h-0.9zM285.44 63.05h0.9v0.9h-0.9zM297.78 66.65h0.9v0.9h-0.9zM310.05 61.5h0.9v0.9h-0.9zM290.62 54.4h0.9v0.9h-0.9zM283.48 50.92h0.9v0.9h-0.9zM260.7 54.62h0.9v0.9h-0.9zM273.24 49.26h0.9v0.9h-0.9zM312.11 45.31h0.9v0.9h-0.9zM314.39 51.13h0.9v0.9h-0.9zM309.9 54.39h0.9v0.9h-0.9zM284.14 61.52h0.9v0.9h-0.9zM284.01 46.7h0.9v0.9h-0.9zM281.37 72.94h0.9v0.9h-0.9zM301.8 36.7h0.9v0.9h-0.9zM297.01 52.02h0.9v0.9h-0.9zM296.08 44.25h0.9v0.9h-0.9zM270.23 57.98h0.9v0.9h-0.9zM308.14 52.58h0.9v0.9h-0.9zM305.99 56.9h0.9v0.9h-0.9zM274.79 55.5h0.9v0.9h-0.9zM300.36 57.8h0.9v0.9h-0.9zM295.61 54.17h0.9v0.9h-0.9zM261.64 62.25h0.9v0.9h-0.9zM265.26 51.87h0.9v0.9h-0.9zM301.02 65.52h0.9v0.9h-0.9zM301.18 53.82h0.9v0.9h-0.9zM308.61 45.89h0.9v0.9h-0.9zM276.8 54.15h0.9v0.9h-0.9zM295.73 45.27h0.9v0.9h-0.9zM278.97 50.45h0.9v0.9h-0.9zM262.92 48.88h0.9v0.9h-0.9zM288.42 46.99h0.9v0.9h-0.9zM296.84 63.58h0.9v0.9h-0.9zM295.99 47.9h0.9v0.9h-0.9zM268.11 46.4h0.9v0.9h-0.9zM294.23 39.18h0.9v0.9h-0.9zM294.39 36.89h0.9v0.9h-0.9zM293.14 48.48h0.9v0.9h-0.9zM306.12 40.2h0.9v0.9h-0.9zM285.98 54.64h0.9v0.9h-0.9zM298.14 66.28h0.9v0.9h-0.9zM285.06 46.26h0.9v0.9h-0.9zM287.67 56.56h0.9v0.9h-0.9zM297.51 55.42h0.9v0.9h-0.9zM321.23 38.72h0.9v0.9h-0.9zM271.95 58.73h0.9v0.9h-0.9zM286.14 35.39h0.9v0.9h-0.9zM303.65 60.85h0.9v0.9h-0.9zM302.74 29.04h0.9v0.9h-0.9zM317.07 50.67h0.9v0.9h-0.9zM287.08 57.09h0.9v0.9h-0.9zM314.87 37.7h0.9v0.9h-0.9zM288.94 44.6h0.9v0.9h-0.9zM310.99 32.03h0.9v0.9h-0.9zM300.56 28.51h0.9v0.9h-0.9zM273.72 49.71h0.9v0.9h-0.9zM298.97 29.13h0.9v0.9h-0.9zM298.8 40.16h0.9v0.9h-0.9zM310.42 39.54h0.9v0.9h-0.9zM298.55 45.41h0.9v0.9h-0.9zM319.28 35.77h0.9v0.9h-0.9zM297.89 69.64h0.9v0.9h-0.9zM294.92 56.28h0.9v0.9h-0.9zM279.84 56.36h0.9v0.9h-0.9zM275.23 39.09h0.9v0.9h-0.9zM272.09 69.66h0.9v0.9h-0.9zM292.76 32.56h0.9v0.9h-0.9zM318.42 32.35h0.9v0.9h-0.9zM286.04 54.62h0.9v0.9h-0.9zM266.79 40.89h0.9v0.9h-0.9zM283.22 66.05h0.9v0.9h-0.9zM301.14 28.8h0.9v0.9h-0.9zM311.04 43.16h0.9v0.9h-0.9zM299.58 47.52h0.9v0.9h-0.9zM294.4 37.71h0.9v0.9h-0.9zM273.79 48.51h0.9v0.9h-0.9zM287.38 58.28h0.9v0.9h-0.9zM276.98 72.92h0.9v0.9h-0.9zM278.74 47.99h0.9v0.9h-0.9zM304.27 50.07h0.9v0.9h-0.9zM281.82 41.5h0.9v0.9h-0.9zM269.1 40.26h0.9v0.9h-0.9zM313.8 53.83h0.9v0.9h-0.9zM323.58 43.76h0.9v0.9h-0.9zM299.36 55.46h0.9v0.9h-0.9zM305.85 41.79h0.9v0.9h-0.9zM278.12 63.15h0.9v0.9h-0.9zM309.45 39.59h0.9v0.9h-0.9zM302.03 45.52h0.9v0.9h-0.9zM294.18 42.9h0.9v0.9h-0.9zM290.74 50.12h0.9v0.9h-0.9zM263.37 66.06h0.9v0.9h-0.9zM294.58 59.55h0.9v0.9h-0.9zM311.39 51.34h0.9v0.9h-0.9zM301.05 35.84h0.9v0.9h-0.9zM307.6 33.43h0.9v0.9h-0.9zM314.74 48.86h0.9v0.9h-0.9zM279.19 67.36h0.9v0.9h-0.9zM277.37 46.75h0.9v0.9h-0.9zM265.1 57.09h0.9v0.9h-0.9zM305.48 37.32h0.9v0.9h-0.9zM323.92 45.78h0.9v0.9h-0.9zM278.05 41.29h0.9v0.9h-0.9zM266.33 65.27h0.9v0.9h-0.9zM308.71 31.82h0.9v0.9h-0.9zM290.2 47.27h0.9v0.9h-0.9zM288.79 56.47h0.9v0.9h-0.9zM309.04 55.64h0.9v0.9h-0.9zM286 50.23h0.9v0.9h-0.9zM273.06 68.62h0.9v0.9h-0.9zM280.15 46.73h0.9v0.9h-0.9zM289.23 41.15h0.9v0.9h-0.9zM273.03 53.29h0.9v0.9h-0.9zM314.85 39.1h0.9v0.9h-0.9zM294.59 32.41h0.9v0.9h-0.9zM279.15 37.23h0.9v0.9h-0.9zM291.64 56.61h0.9v0.9h-0.9zM259.7 51.63h0.9v0.9h-0.9zM292.15 39.37h0.9v0.9h-0.9zM307.73 54.71h0.9v0.9h-0.9zM296.93 43.13h0.9v0.9h-0.9zM288.17 44.05h0.9v0.9h-0.9zM290.2 53.91h0.9v0.9h-0.9zM289.76 61.38h0.9v0.9h-0.9zM299.79 56.06h0.9v0.9h-0.9zM300.93 43.8h0.9v0.9h-0.9zM286.93 62.76h0.9v0.9h-0.9zM303.28 51.26h0.9v0.9h-0.9zM280.26 61.03h0.9v0.9h-0.9zM303.6 43.42h0.9v0.9h-0.9zM262.53 67.21h0.9v0.9h-0.9zM267.05 43.55h0.9v0.9h-0.9zM289.29 56.79h0.9v0.9h-0.9zM287.87 38.19h0.9v0.9h-0.9zM265.54 53.12h0.9v0.9h-0.9zM288.44 41.72h0.9v0.9h-0.9zM276.84 53.48h0.9v0.9h-0.9zM280.07 47.5h0.9v0.9h-0.9zM290.79 46.82h0.9v0.9h-0.9zM297.13 34.59h0.9v0.9h-0.9zM292.73 58.04h0.9v0.9h-0.9zM312.62 48.4h0.9v0.9h-0.9zM286.21 34.41h0.9v0.9h-0.9zM268.34 69.27h0.9v0.9h-0.9zM304.4 51.57h0.9v0.9h-0.9zM269.54 44.65h0.9v0.9h-0.9zM290.15 38.94h0.9v0.9h-0.9zM315.05 34.35h0.9v0.9h-0.9zM285.05 61.92h0.9v0.9h-0.9zM293.38 39.13h0.9v0.9h-0.9zM270.06 54.91h0.9v0.9h-0.9zM304.06 53.15h0.9v0.9h-0.9zM308.83 48.39h0.9v0.9h-0.9zM275.92 42.35h0.9v0.9h-0.9zM275.68 64.24h0.9v0.9h-0.9zM293.4 71.27h0.9v0.9h-0.9zM292.09 28.24h0.9v0.9h-0.9zM310.49 57.01h0.9v0.9h-0.9zM287.34 37.78h0.9v0.9h-0.9zM282.93 31.58h0.9v0.9h-0.9zM313.49 55.14h0.9v0.9h-0.9zM279.59 38.97h0.9v0.9h-0.9zM291.57 54.13h0.9v0.9h-0.9zM261.73 47.69h0.9v0.9h-0.9zM292.05 57.61h0.9v0.9h-0.9zM294.06 54.02h0.9v0.9h-0.9zM293.05 38.99h0.9v0.9h-0.9zM287.78 46.99h0.9v0.9h-0.9zM296.38 39.41h0.9v0.9h-0.9zM315.28 41.59h0.9v0.9h-0.9zM302.27 53.07h0.9v0.9h-0.9zM309.89 47.75h0.9v0.9h-0.9zM259.85 54.31h0.9v0.9h-0.9zM323.84 43.46h0.9v0.9h-0.9zM302.22 51.27h0.9v0.9h-0.9zM278.08 47.12h0.9v0.9h-0.9zM284.65 65.47h0.9v0.9h-0.9zM303.73 65.56h0.9v0.9h-0.9zM306.37 65.87h0.9v0.9h-0.9zM294.52 35.41h0.9v0.9h-0.9zM321.42 42.82h0.9v0.9h-0.9zM311.84 44.92h0.9v0.9h-0.9zM286.36 53.68h0.9v0.9h-0.9zM268.14 44.85h0.9v0.9h-0.9zM274.47 50.14h0.9v0.9h-0.9zM268.2 57.2h0.9v0.9h-0.9zM321.74 38.32h0.9v0.9h-0.9zM305.17 42.43h0.9v0.9h-0.9zM297.6 47.29h0.9v0.9h-0.9zM282.44 54.05h0.9v0.9h-0.9zM268.09 63.41h0.9v0.9h-0.9zM282.4 40.9h0.9v0.9h-0.9zM287.21 57.75h0.9v0.9h-0.9zM281.57 58.91h0.9v0.9h-0.9zM306.44 62.18h0.9v0.9h-0.9zM272.6 55.51h0.9v0.9h-0.9zM305.25 61.96h0.9v0.9h-0.9zM298.35 55.98h0.9v0.9h-0.9zM264.48 53.08h0.9v0.9h-0.9zM318 37.01h0.9v0.9h-0.9zM280.7 35.65h0.9v0.9h-0.9zM302.83 48.78h0.9v0.9h-0.9zM281.83 37.35h0.9v0.9h-0.9zM293.29 60.04h0.9v0.9h-0.9zM308.13 57.85h0.9v0.9h-0.9zM305.55 44.25h0.9v0.9h-0.9zM301.99 48.04h0.9v0.9h-0.9zM293.64 37.11h0.9v0.9h-0.9zM298.73 50.55h0.9v0.9h-0.9zM313.26 58.47h0.9v0.9h-0.9zM313.46 31.06h0.9v0.9h-0.9zM260.96 64.2h0.9v0.9h-0.9zM298.14 51.48h0.9v0.9h-0.9zM270.8 52.08h0.9v0.9h-0.9zM297.22 56.33h0.9v0.9h-0.9zM308.82 42.08h0.9v0.9h-0.9zM285.71 40.68h0.9v0.9h-0.9zM296.98 27.36h0.9v0.9h-0.9zM293.47 50.56h0.9v0.9h-0.9zM301.07 61.36h0.9v0.9h-0.9zM289.88 51.56h0.9v0.9h-0.9zM299.94 29.04h0.9v0.9h-0.9zM286.52 52.48h0.9v0.9h-0.9zM304.38 36.02h0.9v0.9h-0.9zM306.19 48.95h0.9v0.9h-0.9zM267.52 60.22h0.9v0.9h-0.9zM297.36 56.06h0.9v0.9h-0.9zM303.04 39.36h0.9v0.9h-0.9zM312.3 51.73h0.9v0.9h-0.9zM300.94 51.96h0.9v0.9h-0.9zM270.79 61.58h0.9v0.9h-0.9zM269.34 44.26h0.9v0.9h-0.9zM285.8 53.57h0.9v0.9h-0.9zM289.08 46.98h0.9v0.9h-0.9zM274.97 58.05h0.9v0.9h-0.9zM273.46 40.27h0.9v0.9h-0.9zM298.15 64.18h0.9v0.9h-0.9zM280.43 41.71h0.9v0.9h-0.9zM285.44 49.67h0.9v0.9h-0.9zM297.14 59.28h0.9v0.9h-0.9zM291.98 28.78h0.9v0.9h-0.9zM267.98 44.27h0.9v0.9h-0.9zM298.93 48.41h0.9v0.9h-0.9zM320.52 36.22h0.9v0.9h-0.9zM296.7 48.86h0.9v0.9h-0.9zM301.47 63.21h0.9v0.9h-0.9zM310.95 35.82h0.9v0.9h-0.9zM301.41 41.9h0.9v0.9h-0.9zM293.65 50.93h0.9v0.9h-0.9zM289.82 45.09h0.9v0.9h-0.9zM316.62 37.69h0.9v0.9h-0.9zM309.34 62.75h0.9v0.9h-0.9zM305.62 56.58h0.9v0.9h-0.9zM318.79 52.5h0.9v0.9h-0.9zM259.17 54.28h0.9v0.9h-0.9zM267.45 58.39h0.9v0.9h-0.9zM262.19 48.95h0.9v0.9h-0.9zM296.8 49.77h0.9v0.9h-0.9zM276.79 52.54h0.9v0.9h-0.9zM289.8 51.37h0.9v0.9h-0.9zM290.26 47.79h0.9v0.9h-0.9zM300.17 28.2h0.9v0.9h-0.9zM283.31 54.41h0.9v0.9h-0.9zM282.34 46.85h0.9v0.9h-0.9zM284.55 54.83h0.9v0.9h-0.9zM311.67 40.41h0.9v0.9h-0.9zM287.98 55.28h0.9v0.9h-0.9zM294.36 44.49h0.9v0.9h-0.9zM283.8 59.95h0.9v0.9h-0.9zM289.85 43.97h0.9v0.9h-0.9zM291 48.72h0.9v0.9h-0.9zM299.48 49.57h0.9v0.9h-0.9zM278.37 40.05h0.9v0.9h-0.9zM272.06 55.36h0.9v0.9h-0.9zM274.47 64.82h0.9v0.9h-0.9zM281.31 33.08h0.9v0.9h-0.9zM315.2 29.79h0.9v0.9h-0.9zM289.41 47.83h0.9v0.9h-0.9zM268.4 64.78h0.9v0.9h-0.9zM294.1 58.72h0.9v0.9h-0.9zM285.14 60.55h0.9v0.9h-0.9zM308.7 50.64h0.9v0.9h-0.9zM315.17 39.26h0.9v0.9h-0.9zM314.87 33.28h0.9v0.9h-0.9zM288.46 41.74h0.9v0.9h-0.9zM295.06 60.52h0.9v0.9h-0.9zM303.78 46.52h0.9v0.9h-0.9zM282.95 70.46h0.9v0.9h-0.9zM292.6 35.79h0.9v0.9h-0.9zM320.6 52.53h0.9v0.9h-0.9zM286.7 66.6h0.9v0.9h-0.9zM280.44 64.56h0.9v0.9h-0.9zM300.58 45.12h0.9v0.9h-0.9zM265.96 55.95h0.9v0.9h-0.9zM302.52 50.15h0.9v0.9h-0.9zM304.61 45.89h0.9v0.9h-0.9zM302.93 56.84h0.9v0.9h-0.9zM275.88 39.24h0.9v0.9h-0.9zM284.27 33.18h0.9v0.9h-0.9zM294.19 57.83h0.9v0.9h-0.9zM317.88 43.36h0.9v0.9h-0.9zM297.33 56.44h0.9v0.9h-0.9zM313.84 38.07h0.9v0.9h-0.9zM267.36 49.52h0.9v0.9h-0.9zM266.47 48.72h0.9v0.9h-0.9zM290.42 54.25h0.9v0.9h-0.9zM294.12 49.75h0.9v0.9h-0.9zM286.7 56.54h0.9v0.9h-0.9zM309.09 52.27h0.9v0.9h-0.9zM315.61 37.76h0.9v0.9h-0.9zM293.22 68.86h0.9v0.9h-0.9zM296.16 52.97h0.9v0.9h-0.9zM289.08 61.98h0.9v0.9h-0.9zM280.6 42.2h0.9v0.9h-0.9zM288.52 45.86h0.9v0.9h-0.9zM303.99 40.98h0.9v0.9h-0.9zM292.49 47.02h0.9v0.9h-0.9zM294.65 41.46h0.9v0.9h-0.9zM304.71 28.62h0.9v0.9h-0.9zM282.01 45.15h0.9v0.9h-0.9zM302.38 46.39h0.9v0.9h-0.9zM298.23 43.63h0.9v0.9h-0.9zM274.82 43.02h0.9v0.9h-0.9zM283.52 46.6h0.9v0.9h-0.9zM297.28 51.89h0.9v0.9h-0.9zM307.43 42.86h0.9v0.9h-0.9zM274.52 43.8h0.9v0.9h-0.9zM293.58 53.31h0.9v0.9h-0.9zM277.85 68.86h0.9v0.9h-0.9zM315.55 56.7h0.9v0.9h-0.9zM294.58 59.81h0.9v0.9h-0.9zM282.75 52.26h0.9v0.9h-0.9zM298.15 68.09h0.9v0.9h-0.9zM291.09 61.09h0.9v0.9h-0.9zM289.69 42.35h0.9v0.9h-0.9zM297.78 55.24h0.9v0.9h-0.9zM281.44 60.89h0.9v0.9h-0.9zM275.82 45.46h0.9v0.9h-0.9zM294.07 46.23h0.9v0.9h-0.9zM268.42 39.45h0.9v0.9h-0.9zM292.5 52.34h0.9v0.9h-0.9zM284.08 54.76h0.9v0.9h-0.9zM266.67 63.47h0.9v0.9h-0.9zM299.32 50.26h0.9v0.9h-0.9zM281.06 54.61h0.9v0.9h-0.9zM297.39 60.12h0.9v0.9h-0.9zM296.84 50.88h0.9v0.9h-0.9zM282.09 63.29h0.9v0.9h-0.9zM309.32 37.7h0.9v0.9h-0.9zM303.22 49.19h0.9v0.9h-0.9zM285.63 37.16h0.9v0.9h-0.9zM294.96 44.28h0.9v0.9h-0.9zM309.11 38.59h0.9v0.9h-0.9zM294.14 55.99h0.9v0.9h-0.9zM297.03 41.87h0.9v0.9h-0.9zM304.24 49.78h0.9v0.9h-0.9zM306.11 38.67h0.9v0.9h-0.9zM288.96 46.3h0.9v0.9h-0.9zM277.9 57.78h0.9v0.9h-0.9zM303.42 61.94h0.9v0.9h-0.9zM287.11 55.96h0.9v0.9h-0.9zM310.19 41.77h0.9v0.9h-0.9zM292.77 50.98h0.9v0.9h-0.9zM275.82 44.2h0.9v0.9h-0.9zM310.8 44.86h0.9v0.9h-0.9zM285.33 37.81h0.9v0.9h-0.9zM297.55 61.22h0.9v0.9h-0.9zM268.37 48.03h0.9v0.9h-0.9zM315.32 57.71h0.9v0.9h-0.9zM315.49 34.79h0.9v0.9h-0.9zM298.6 38.66h0.9v0.9h-0.9zM298.68 43.08h0.9v0.9h-0.9zM299.49 62.43h0.9v0.9h-0.9zM296.04 45.46h0.9v0.9h-0.9zM293.13 52.36h0.9v0.9h-0.9zM283.28 55.26h0.9v0.9h-0.9zM307.13 62.15h0.9v0.9h-0.9zM273.49 66.52h0.9v0.9h-0.9zM297.46 60.82h0.9v0.9h-0.9zM280.81 48.21h0.9v0.9h-0.9zM294.79 41.98h0.9v0.9h-0.9zM309.99 43.13h0.9v0.9h-0.9zM287.04 62.16h0.9v0.9h-0.9zM281.83 67.74h0.9v0.9h-0.9zM308.02 45.49h0.9v0.9h-0.9zM313.9 60.21h0.9v0.9h-0.9zM314.48 41.54h0.9v0.9h-0.9zM294.36 61.56h0.9v0.9h-0.9zM264.14 52.94h0.9v0.9h-0.9zM301.48 52.79h0.9v0.9h-0.9zM298.3 52.48h0.9v0.9h-0.9zM268.27 56.22h0.9v0.9h-0.9zM294.78 46.11h0.9v0.9h-0.9zM294.45 55.78h0.9v0.9h-0.9zM273.07 50.1h0.9v0.9h-0.9zM303.4 43.11h0.9v0.9h-0.9zM306.12 40.35h0.9v0.9h-0.9zM294.16 50.24h0.9v0.9h-0.9zM290.71 59.43h0.9v0.9h-0.9zM275.08 62.7h0.9v0.9h-0.9zM303.68 28.4h0.9v0.9h-0.9zM275.9 44.18h0.9v0.9h-0.9zM302.52 51.66h0.9v0.9h-0.9zM274.72 43.12h0.9v0.9h-0.9zM301.46 44.49h0.9v0.9h-0.9zM280.46 50.78h0.9v0.9h-0.9zM283.88 44.36h0.9v0.9h-0.9zM296.11 59.22h0.9v0.9h-0.9zM265.05 56.92h0.9v0.9h-0.9zM318.98 48.35h0.9v0.9h-0.9zM274.59 46.85h0.9v0.9h-0.9zM270.97 39.06h0.9v0.9h-0.9zM310.75 43.68h0.9v0.9h-0.9zM274.25 39.83h0.9v0.9h-0.9zM282.88 47.2h0.9v0.9h-0.9zM318.38 34.87h0.9v0.9h-0.9zM297.06 60.07h0.9v0.9h-0.9zM301.73 44.11h0.9v0.9h-0.9zM299.63 41.99h0.9v0.9h-0.9zM286.22 40.94h0.9v0.9h-0.9zM270.73 40.57h0.9v0.9h-0.9zM301.5 52.15h0.9v0.9h-0.9zM296.98 56.77h0.9v0.9h-0.9zM300.62 47.96h0.9v0.9h-0.9zM278.58 61.32h0.9v0.9h-0.9zM313.36 49.11h0.9v0.9h-0.9zM310.35 37.66h0.9v0.9h-0.9zM279.39 68.52h0.9v0.9h-0.9zM282.33 55.99h0.9v0.9h-0.9zM288.09 51.38h0.9v0.9h-0.9zM284.71 46.24h0.9v0.9h-0.9zM287.58 29.47h0.9v0.9h-0.9zM271.94 44.23h0.9v0.9h-0.9zM306.78 62.93h0.9v0.9h-0.9zM289.8 58.95h0.9v0.9h-0.9zM296.69 33.88h0.9v0.9h-0.9zM280.29 49.9h0.9v0.9h-0.9zM312.6 43.56h0.9v0.9h-0.9zM286.2 42.7h0.9v0.9h-0.9zM292.86 49.88h0.9v0.9h-0.9zM308.46 59.52h0.9v0.9h-0.9zM303.57 45.71h0.9v0.9h-0.9zM294.48 66.95h0.9v0.9h-0.9zM294.49 48.62h0.9v0.9h-0.9zM300.29 45.46h0.9v0.9h-0.9zM284.51 64.52h0.9v0.9h-0.9zM287.15 62.35h0.9v0.9h-0.9zM278.53 55.8h0.9v0.9h-0.9zM298.43 49.01h0.9v0.9h-0.9zM296.48 52.39h0.9v0.9h-0.9zM268.47 45.72h0.9v0.9h-0.9zM295.31 68.92h0.9v0.9h-0.9zM285.76 41.5h0.9v0.9h-0.9zM280.34 54.34h0.9v0.9h-0.9zM308.83 37.18h0.9v0.9h-0.9zM301.21 48.47h0.9v0.9h-0.9zM281.85 42.73h0.9v0.9h-0.9zM286.05 43.71h0.9v0.9h-0.9zM293.74 29.17h0.9v0.9h-0.9zM312.72 50.74h0.9v0.9h-0.9zM306.26 61.44h0.9v0.9h-0.9zM295.03 29.3h0.9v0.9h-0.9zM293.72 54.17h0.9v0.9h-0.9zM275.73 42.86h0.9v0.9h-0.9zM300.25 52.48h0.9v0.9h-0.9zM283.26 50.15h0.9v0.9h-0.9zM280.72 47.41h0.9v0.9h-0.9zM294.14 61.05h0.9v0.9h-0.9zM263.23 56.34h0.9v0.9h-0.9zM319.16 43.41h0.9v0.9h-0.9zM296.79 57.39h0.9v0.9h-0.9zM270.16 44.01h0.9v0.9h-0.9zM298.41 56.96h0.9v0.9h-0.9zM281.82 45.75h0.9v0.9h-0.9zM300.13 53.67h0.9v0.9h-0.9zM288.56 29.49h0.9v0.9h-0.9zM292.15 40.08h0.9v0.9h-0.9zM285.77 68.92h0.9v0.9h-0.9zM314.87 46.82h0.9v0.9h-0.9zM296.4 50.06h0.9v0.9h-0.9zM281.31 53.03h0.9v0.9h-0.9zM280.81 55.61h0.9v0.9h-0.9zM309 52.91h0.9v0.9h-0.9zM274.71 54.54h0.9v0.9h-0.9zM282.35 39.34h0.9v0.9h-0.9zM290.74 44.76h0.9v0.9h-0.9zM308 48.76h0.9v0.9h-0.9zM278.57 55.51h0.9v0.9h-0.9zM283 45.84h0.9v0.9h-0.9zM286.99 63.51h0.9v0.9h-0.9zM278.16 35.46h0.9v0.9h-0.9zM281.3 62.69h0.9v0.9h-0.9zM284.13 48.88h0.9v0.9h-0.9zM269.36 62.47h0.9v0.9h-0.9zM291.37 53.08h0.9v0.9h-0.9zM307.36 53.5h0.9v0.9h-0.9zM278.54 47.95h0.9v0.9h-0.9zM319.56 47.72h0.9v0.9h-0.9zM289.62 38.28h0.9v0.9h-0.9zM307.73 49.92h0.9v0.9h-0.9zM305.48 47.82h0.9v0.9h-0.9zM290.24 44.16h0.9v0.9h-0.9zM297.19 50.57h0.9v0.9h-0.9zM305.92 56.86h0.9v0.9h-0.9zM294.41 42.73h0.9v0.9h-0.9zM310.17 60.56h0.9v0.9h-0.9zM278.91 59.2h0.9v0.9h-0.9zM302.21 52.02h0.9v0.9h-0.9zM299.23 46.06h0.9v0.9h-0.9zM295.62 67.36h0.9v0.9h-0.9zM278.18 48.93h0.9v0.9h-0.9zM266.11 63.11h0.9v0.9h-0.9zM288.35 44.97h0.9v0.9h-0.9zM319.84 52.77h0.9v0.9h-0.9zM286.77 59.02h0.9v0.9h-0.9zM294.76 61.71h0.9v0.9h-0.9zM300.71 46.15h0.9v0.9h-0.9zM297.76 39.55h0.9v0.9h-0.9zM309.75 60.16h0.9v0.9h-0.9zM287.24 57.69h0.9v0.9h-0.9zM267.04 69.33h0.9v0.9h-0.9zM302.03 34.59h0.9v0.9h-0.9zM320.45 40.64h0.9v0.9h-0.9zM304.68 42.04h0.9v0.9h-0.9zM303.86 27.98h0.9v0.9h-0.9zM293.1 60.29h0.9v0.9h-0.9zM282.45 60.83h0.9v0.9h-0.9zM286.51 55.58h0.9v0.9h-0.9zM273.54 65.18h0.9v0.9h-0.9zM308.84 30.95h0.9v0.9h-0.9zM281.11 34.47h0.9v0.9h-0.9zM293.6 40.97h0.9v0.9h-0.9zM278.89 45.08h0.9v0.9h-0.9zM294.39 43.6h0.9v0.9h-0.9zM275.43 53.19h0.9v0.9h-0.9zM294.83 39.06h0.9v0.9h-0.9zM296.54 43.69h0.9v0.9h-0.9zM314.9 34.15h0.9v0.9h-0.9zM275.39 40.68h0.9v0.9h-0.9zM272.05 53.2h0.9v0.9h-0.9zM280.87 70.87h0.9v0.9h-0.9zM297.98 57.82h0.9v0.9h-0.9zM292.94 54.69h0.9v0.9h-0.9zM290.13 52.74h0.9v0.9h-0.9zM292.17 41.7h0.9v0.9h-0.9zM297.55 49.55h0.9v0.9h-0.9zM288.1 43.45h0.9v0.9h-0.9zM275.32 58.55h0.9v0.9h-0.9zM287.24 66.65h0.9v0.9h-0.9zM303.77 37.41h0.9v0.9h-0.9zM310 32.07h0.9v0.9h-0.9zM283.2 50.48h0.9v0.9h-0.9zM260.26 49.9h0.9v0.9h-0.9z" fill="#c84450" fill-opacity="0.72"/>
<path d="M236.87 75.54h0.9v0.9h-0.9zM229.94 78.11h0.9v0.9h-0.9zM243.58 76.42h0.9v0.9h-0.9zM239.1 80.84h0.9v0.9h-0.9zM256.7 83.49h0.9v0.9h-0.9zM253.54 91.76h0.9v0.9h-0.9zM254.03 85.65h0.9v0.9h-0.9zM233.12 77.71h0.9v0.9h-0.9zM241.72 79.41h0.9v0.9h-0.9zM232.07 72.61h0.9v0.9h-0.9zM248.4 77.06h0.9v0.9h-0.9zM244 87.62h0.9v0.9h-0.9zM247.92 78.05h0.9v0.9h-0.9zM237.68 78.56h0.9v0.9h-0.9zM245.32 84.17h0.9v0.9h-0.9zM236.61 83.17h0.9v0.9h-0.9zM246.36 86.4h0.9v0.9h-0.9zM234.1 74.9h0.9v0.9h-0.9zM254.42 84.39h0.9v0.9h-0.9zM247.47 78.12h0.9v0.9h-0.9zM254.14 80.9h0.9v0.9h-0.9zM249.71 72.21h0.9v0.9h-0.9zM245.02 81.05h0.9v0.9h-0.9zM229.35 72.54h0.9v0.9h-0.9zM241.59 77.39h0.9v0.9h-0.9zM238.52 70.41h0.9v0.9h-0.9zM234.96 78.42h0.9v0.9h-0.9zM243.14 83.11h0.9v0.9h-0.9zM236.18 78.75h0.9v0.9h-0.9zM241.67 78.88h0.9v0.9h-0.9zM251.63 83.25h0.9v0.9h-0.9zM245.57 72.2h0.9v0.9h-0.9zM244 83.34h0.9v0.9h-0.9zM240.59 77.62h0.9v0.9h-0.9zM234.79 68.76h0.9v0.9h-0.9zM245.48 86.52h0.9v0.9h-0.9zM245.88 72.29h0.9v0.9h-0.9zM245.18 72.49h0.9v0.9h-0.9zM239.43 86.79h0.9v0.9h-0.9zM247.43 80.39h0.9v0.9h-0.9zM253.16 81.96h0.9v0.9h-0.9zM247.02 81.91h0.9v0.9h-0.9zM250.94 75.62h0.9v0.9h-0.9zM248.47 85.91h0.9v0.9h-0.9zM235.77 82.96h0.9v0.9h-0.9zM243.88 82.78h0.9v0.9h-0.9zM247.33 85.42h0.9v0.9h-0.9zM241.5 75.51h0.9v0.9h-0.9zM246.57 83.7h0.9v0.9h-0.9zM248.51 83.29h0.9v0.9h-0.9zM239.44 82.8h0.9v0.9h-0.9zM246.41 85.85h0.9v0.9h-0.9zM239.98 78.25h0.9v0.9h-0.9zM242.14 77.15h0.9v0.9h-0.9zM245.74 82.04h0.9v0.9h-0.9zM238.35 79.55h0.9v0.9h-0.9zM238.1 78.88h0.9v0.9h-0.9zM244.1 74.97h0.9v0.9h-0.9zM250.34 90.6h0.9v0.9h-0.9zM244.35 79.45h0.9v0.9h-0.9zM254.43 77.9h0.9v0.9h-0.9zM236.56 81.61h0.9v0.9h-0.9zM252.45 81.06h0.9v0.9h-0.9zM238.71 78.78h0.9v0.9h-0.9zM235.74 73.23h0.9v0.9h-0.9zM247.85 85.08h0.9v0.9h-0.9zM255.44 77.81h0.9v0.9h-0.9zM237.21 72.37h0.9v0.9h-0.9zM238.49 75.43h0.9v0.9h-0.9zM245.64 82.54h0.9v0.9h-0.9zM257.59 80.52h0.9v0.9h-0.9zM251.11 83.59h0.9v0.9h-0.9zM236.2 76.64h0.9v0.9h-0.9zM231.75 81.8h0.9v0.9h-0.9zM237.79 81.59h0.9v0.9h-0.9zM255.63 81.91h0.9v0.9h-0.9zM238.22 77.48h0.9v0.9h-0.9zM235.67 80.08h0.9v0.9h-0.9zM247.72 77.51h0.9v0.9h-0.9zM238.64 80.61h0.9v0.9h-0.9zM231.25 81.91h0.9v0.9h-0.9zM239.65 76.54h0.9v0.9h-0.9zM235.19 83.44h0.9v0.9h-0.9zM248.55 88.08h0.9v0.9h-0.9zM249.59 82.59h0.9v0.9h-0.9zM256.11 88.46h0.9v0.9h-0.9zM247.1 83.83h0.9v0.9h-0.9zM249.85 83.64h0.9v0.9h-0.9zM246.8 72.96h0.9v0.9h-0.9zM240.1 79.02h0.9v0.9h-0.9zM248.58 71.85h0.9v0.9h-0.9zM242 80.05h0.9v0.9h-0.9zM255.85 79.11h0.9v0.9h-0.9zM247.27 81.46h0.9v0.9h-0.9zM245.81 81.11h0.9v0.9h-0.9zM244.91 73.19h0.9v0.9h-0.9zM247.59 83.12h0.9v0.9h-0.9zM246.87 87.05h0.9v0.9h-0.9zM237.54 78.5h0.9v0.9h-0.9zM243.51 82.92h0.9v0.9h-0.9zM244.89 76.98h0.9v0.9h-0.9zM245.81 82.96h0.9v0.9h-0.9zM235.38 82.05h0.9v0.9h-0.9zM252.57 85.74h0.9v0.9h-0.9zM244.64 78.66h0.9v0.9h-0.9zM231.69 77.05h0.9v0.9h-0.9zM238.8 74.62h0.9v0.9h-0.9zM254.06 79.66h0.9v0.9h-0.9zM239.54 81.71h0.9v0.9h-0.9zM259.94 83.54h0.9v0.9h-0.9zM254.35 81.11h0.9v0.9h-0.9zM246.93 83.3h0.9v0.9h-0.9zM234.69 80.28h0.9v0.9h-0.9zM258.11 86.37h0.9v0.9h-0.9zM249.21 76.14h0.9v0.9h-0.9zM258 86.38h0.9v0.9h-0.9zM234.18 78.75h0.9v0.9h-0.9zM235.58 72.2h0.9v0.9h-0.9zM241.3 75.41h0.9v0.9h-0.9zM239.8 80.32h0.9v0.9h-0.9zM257.62 80.88h0.9v0.9h-0.9zM251.66 74.16h0.9v0.9h-0.9zM256.35 84.86h0.9v0.9h-0.9zM236.95 83.85h0.9v0.9h-0.9zM241.62 85.22h0.9v0.9h-0.9zM249.73 90.43h0.9v0.9h-0.9zM239.02 77.49h0.9v0.9h-0.9zM248.07 80.47h0.9v0.9h-0.9zM257.54 82.3h0.9v0.9h-0.9zM249.77 88.99h0.9v0.9h-0.9zM232.51 69.36h0.9v0.9h-0.9zM239.41 74.68h0.9v0.9h-0.9zM248.2 80.63h0.9v0.9h-0.9zM246.45 78.4h0.9v0.9h-0.9zM243.48 81.7h0.9v0.9h-0.9zM251.96 79.37h0.9v0.9h-0.9zM245.61 76.5h0.9v0.9h-0.9zM246.42 73.53h0.9v0.9h-0.9zM250.73 86.01h0.9v0.9h-0.9zM245.4 76.79h0.9v0.9h-0.9zM242.91 75.72h0.9v0.9h-0.9zM235.33 78.36h0.9v0.9h-0.9zM252.44 75.66h0.9v0.9h-0.9zM229.87 75.64h0.9v0.9h-0.9zM241.2 78.65h0.9v0.9h-0.9zM246.04 77.71h0.9v0.9h-0.9zM244.53 78.29h0.9v0.9h-0.9zM254.31 83.89h0.9v0.9h-0.9zM245.77 77.73h0.9v0.9h-0.9zM241.74 74.82h0.9v0.9h-0.9zM241.58 87.53h0.9v0.9h-0.9zM252.74 84.78h0.9v0.9h-0.9zM255.32 89.85h0.9v0.9h-0.9zM246.83 80.04h0.9v0.9h-0.9zM236.47 77.26h0.9v0.9h-0.9zM245.7 72.45h0.9v0.9h-0.9zM245.63 82.76h0.9v0.9h-0.9zM247.35 78.79h0.9v0.9h-0.9zM246.33 86h0.9v0.9h-0.9zM241.76 81.03h0.9v0.9h-0.9zM253.45 81.54h0.9v0.9h-0.9zM247.65 77.56h0.9v0.9h-0.9zM250.13 80.56h0.9v0.9h-0.9zM254.87 80.81h0.9v0.9h-0.9zM257.99 84.52h0.9v0.9h-0.9zM240.55 73.44h0.9v0.9h-0.9zM251.49 78.78h0.9v0.9h-0.9zM255.81 91.41h0.9v0.9h-0.9zM251.51 75.97h0.9v0.9h-0.9zM246.2 76.96h0.9v0.9h-0.9zM230.89 75.53h0.9v0.9h-0.9zM248.5 88.01h0.9v0.9h-0.9zM238.59 75.32h0.9v0.9h-0.9zM246.07 82.84h0.9v0.9h-0.9zM236.18 76.96h0.9v0.9h-0.9zM242.4 83.51h0.9v0.9h-0.9zM234.35 72.23h0.9v0.9h-0.9zM241.91 76.98h0.9v0.9h-0.9zM251.5 79.91h0.9v0.9h-0.9zM249.23 87.04h0.9v0.9h-0.9zM252.47 82.47h0.9v0.9h-0.9zM239.39 76.12h0.9v0.9h-0.9zM249.66 82.77h0.9v0.9h-0.9zM248.18 84.34h0.9v0.9h-0.9zM240.29 73.16h0.9v0.9h-0.9zM256.5 82.95h0.9v0.9h-0.9zM240.66 73.34h0.9v0.9h-0.9zM254.25 78.7h0.9v0.9h-0.9zM236.61 81.29h0.9v0.9h-0.9zM245.84 80.67h0.9v0.9h-0.9zM240.72 76.9h0.9v0.9h-0.9zM241.37 78.19h0.9v0.9h-0.9zM253.08 77.46h0.9v0.9h-0.9zM256.18 84.84h0.9v0.9h-0.9zM245.01 79.72h0.9v0.9h-0.9zM251.76 84.75h0.9v0.9h-0.9zM251.56 82.23h0.9v0.9h-0.9zM244.22 79.36h0.9v0.9h-0.9zM229.25 78.07h0.9v0.9h-0.9zM235.31 70.54h0.9v0.9h-0.9zM249.82 82.52h0.9v0.9h-0.9zM247.72 89.74h0.9v0.9h-0.9zM239.45 87.58h0.9v0.9h-0.9zM238.7 76.64h0.9v0.9h-0.9zM252.72 82.54h0.9v0.9h-0.9zM244.78 78.15h0.9v0.9h-0.9zM252.33 88.68h0.9v0.9h-0.9zM243.4 82.04h0.9v0.9h-0.9zM235.78 81.21h0.9v0.9h-0.9zM255.36 84.55h0.9v0.9h-0.9zM243.44 76.86h0.9v0.9h-0.9zM245.99 74.25h0.9v0.9h-0.9zM231.87 82.13h0.9v0.9h-0.9zM243.82 82.19h0.9v0.9h-0.9zM246.37 83.01h0.9v0.9h-0.9zM235.6 70.91h0.9v0.9h-0.9zM247.75 86.24h0.9v0.9h-0.9zM237.7 73.72h0.9v0.9h-0.9zM235.91 79.01h0.9v0.9h-0.9zM247.47 81.31h0.9v0.9h-0.9zM239.58 79.18h0.9v0.9h-0.9zM246.65 77.08h0.9v0.9h-0.9zM248.71 78.43h0.9v0.9h-0.9zM250.8 85.81h0.9v0.9h-0.9zM238.84 80.04h0.9v0.9h-0.9zM246.84 77.35h0.9v0.9h-0.9zM241.45 70.09h0.9v0.9h-0.9zM236.04 77.54h0.9v0.9h-0.9zM255.06 81.57h0.9v0.9h-0.9zM245.52 81.95h0.9v0.9h-0.9zM249.89 84.48h0.9v0.9h-0.9zM252.55 87.33h0.9v0.9h-0.9zM238.65 79.01h0.9v0.9h-0.9zM244.05 82.43h0.9v0.9h-0.9zM241.2 82.36h0.9v0.9h-0.9zM256.29 81.1h0.9v0.9h-0.9zM240.52 79.2h0.9v0.9h-0.9zM248.33 82.27h0.9v0.9h-0.9zM253.35 78.02h0.9v0.9h-0.9zM248.48 87.41h0.9v0.9h-0.9zM252.34 85.54h0.9v0.9h-0.9zM242.5 80.82h0.9v0.9h-0.9zM247.47 73.27h0.9v0.9h-0.9zM240.63 77.76h0.9v0.9h-0.9zM242.99 74.43h0.9v0.9h-0.9zM244 77.69h0.9v0.9h-0.9zM245.6 80.04h0.9v0.9h-0.9zM244.37 84.64h0.9v0.9h-0.9zM245.23 82.13h0.9v0.9h-0.9zM240.77 81.39h0.9v0.9h-0.9zM243.69 76.3h0.9v0.9h-0.9zM234.2 79.39h0.9v0.9h-0.9zM240.66 79.19h0.9v0.9h-0.9zM252.28 86.06h0.9v0.9h-0.9zM250.7 86.1h0.9v0.9h-0.9zM240.1 77.95h0.9v0.9h-0.9zM242.8 73.89h0.9v0.9h-0.9zM248.68 77.87h0.9v0.9h-0.9zM258.74 82.73h0.9v0.9h-0.9zM240.83 78.51h0.9v0.9h-0.9z" fill="#40a8d0" fill-opacity="0.75"/>
<path d="M302.84 81.02h0.9v0.9h-0.9zM305.18 74.86h0.9v0.9h-0.9zM312.17 87.3h0.9v0.9h-0.9zM307.13 80.48h0.9v0.9h-0.9zM304.22 82.87h0.9v0.9h-0.9zM300.15 75.58h0.9v0.9h-0.9zM298.74 85.03h0.9v0.9h-0.9zM298.08 84.3h0.9v0.9h-0.9zM305.05 81.95h0.9v0.9h-0.9zM310.52 88.64h0.9v0.9h-0.9zM312.15 79.84h0.9v0.9h-0.9zM305.91 79.81h0.9v0.9h-0.9zM298.2 83.6h0.9v0.9h-0.9zM306.94 82.7h0.9v0.9h-0.9zM309.86 83.93h0.9v0.9h-0.9zM314.58 81.56h0.9v0.9h-0.9zM311.73 80h0.9v0.9h-0.9zM312.98 84.14h0.9v0.9h-0.9zM312.32 83.14h0.9v0.9h-0.9zM305.32 87.53h0.9v0.9h-0.9zM300.87 80.32h0.9v0.9h-0.9zM299.76 83.51h0.9v0.9h-0.9zM303.22 79.11h0.9v0.9h-0.9zM302.31 86.24h0.9v0.9h-0.9zM300.41 79.5h0.9v0.9h-0.9zM304.91 79.02h0.9v0.9h-0.9zM301.92 79.54h0.9v0.9h-0.9zM309.38 76.2h0.9v0.9h-0.9zM308.88 77.76h0.9v0.9h-0.9zM300.85 79.51h0.9v0.9h-0.9zM302.4 85.38h0.9v0.9h-0.9zM306.52 73.7h0.9v0.9h-0.9zM297.22 79.01h0.9v0.9h-0.9zM304.74 86.89h0.9v0.9h-0.9zM301.6 83.45h0.9v0.9h-0.9zM297.81 84.78h0.9v0.9h-0.9zM306.43 79.1h0.9v0.9h-0.9zM303.1 89.45h0.9v0.9h-0.9zM303.65 75.04h0.9v0.9h-0.9zM302.66 75h0.9v0.9h-0.9zM304.59 83.3h0.9v0.9h-0.9zM304.32 82.42h0.9v0.9h-0.9zM311.89 83.56h0.9v0.9h-0.9zM307.97 79.81h0.9v0.9h-0.9zM303.5 83.08h0.9v0.9h-0.9zM310.73 76.73h0.9v0.9h-0.9zM300.64 80.1h0.9v0.9h-0.9zM302.63 86.3h0.9v0.9h-0.9zM314.35 78.09h0.9v0.9h-0.9zM299.98 81.34h0.9v0.9h-0.9zM305.67 84.71h0.9v0.9h-0.9zM309.51 80.35h0.9v0.9h-0.9zM302.06 81.82h0.9v0.9h-0.9zM307.99 78.45h0.9v0.9h-0.9zM300.18 81.36h0.9v0.9h-0.9zM303.18 78.79h0.9v0.9h-0.9zM310.13 84.78h0.9v0.9h-0.9zM304.77 82.17h0.9v0.9h-0.9zM297.42 84.23h0.9v0.9h-0.9zM299.33 85.55h0.9v0.9h-0.9zM304.1 79.11h0.9v0.9h-0.9zM312.47 86.19h0.9v0.9h-0.9zM303.35 78.37h0.9v0.9h-0.9zM304.97 90.95h0.9v0.9h-0.9zM309.27 81.82h0.9v0.9h-0.9zM301.23 76.7h0.9v0.9h-0.9zM304.45 82.71h0.9v0.9h-0.9zM299.86 85.66h0.9v0.9h-0.9zM302.12 76.91h0.9v0.9h-0.9zM307.05 85.09h0.9v0.9h-0.9zM301.76 84.99h0.9v0.9h-0.9zM302.38 90.22h0.9v0.9h-0.9zM303.26 87.49h0.9v0.9h-0.9zM304.15 82.32h0.9v0.9h-0.9zM311.38 76.15h0.9v0.9h-0.9zM301.24 88.46h0.9v0.9h-0.9zM309.43 85.44h0.9v0.9h-0.9zM303.85 88.05h0.9v0.9h-0.9zM310.72 75.13h0.9v0.9h-0.9zM301.4 78.63h0.9v0.9h-0.9zM307.05 80.53h0.9v0.9h-0.9zM301.84 88.49h0.9v0.9h-0.9zM308.99 86.59h0.9v0.9h-0.9zM305.46 82.29h0.9v0.9h-0.9zM306.84 83.81h0.9v0.9h-0.9zM300.46 83.49h0.9v0.9h-0.9zM301.5 79.94h0.9v0.9h-0.9zM305.9 76.53h0.9v0.9h-0.9zM308.62 83.11h0.9v0.9h-0.9zM299.9 79.01h0.9v0.9h-0.9zM296.01 84.62h0.9v0.9h-0.9zM301.38 83.54h0.9v0.9h-0.9zM302.33 76.34h0.9v0.9h-0.9zM304.29 83.45h0.9v0.9h-0.9zM310.55 83.05h0.9v0.9h-0.9zM309.12 88.42h0.9v0.9h-0.9zM301.53 79.27h0.9v0.9h-0.9zM297.79 86.77h0.9v0.9h-0.9zM301.13 84.3h0.9v0.9h-0.9zM310.48 83.08h0.9v0.9h-0.9zM302.46 82.27h0.9v0.9h-0.9zM304.06 75.13h0.9v0.9h-0.9zM300.11 81.15h0.9v0.9h-0.9zM303.14 89.53h0.9v0.9h-0.9zM295.57 79.83h0.9v0.9h-0.9zM297.66 84h0.9v0.9h-0.9zM308.68 84.11h0.9v0.9h-0.9zM313.44 83.88h0.9v0.9h-0.9zM304.87 76.56h0.9v0.9h-0.9zM302.06 80.96h0.9v0.9h-0.9z" fill="#b050b0" fill-opacity="0.7"/>
<path d="M283.46 115.47h0.9v0.9h-0.9zM283.57 99.52h0.9v0.9h-0.9zM282.05 101.04h0.9v0.9h-0.9zM281 100.64h0.9v0.9h-0.9zM276.86 101.04h0.9v0.9h-0.9zM279.87 101.85h0.9v0.9h-0.9zM272.46 100.07h0.9v0.9h-0.9zM284.92 111.26h0.9v0.9h-0.9zM282.95 95.91h0.9v0.9h-0.9zM277.61 92.57h0.9v0.9h-0.9zM279.41 100.47h0.9v0.9h-0.9zM267.86 101.58h0.9v0.9h-0.9zM274.22 94.49h0.9v0.9h-0.9zM274.93 106.92h0.9v0.9h-0.9zM297.51 110.57h0.9v0.9h-0.9zM282.36 101.52h0.9v0.9h-0.9zM282.14 103.16h0.9v0.9h-0.9zM284.92 99.85h0.9v0.9h-0.9zM287.36 103.4h0.9v0.9h-0.9zM290.86 100.97h0.9v0.9h-0.9zM267.84 101.79h0.9v0.9h-0.9zM283.57 96.19h0.9v0.9h-0.9zM287.96 103.76h0.9v0.9h-0.9zM290.2 104.83h0.9v0.9h-0.9zM289 109.65h0.9v0.9h-0.9zM285.04 107.43h0.9v0.9h-0.9zM281.61 101.34h0.9v0.9h-0.9zM283.83 111.09h0.9v0.9h-0.9zM291.07 109.11h0.9v0.9h-0.9zM287.38 101.3h0.9v0.9h-0.9zM297.72 106.99h0.9v0.9h-0.9zM284.89 100.37h0.9v0.9h-0.9zM275.04 96.86h0.9v0.9h-0.9zM287.09 103.97h0.9v0.9h-0.9zM284.13 97.16h0.9v0.9h-0.9zM288.53 99.59h0.9v0.9h-0.9zM275.04 113.38h0.9v0.9h-0.9zM287.97 102.6h0.9v0.9h-0.9zM283.8 97.9h0.9v0.9h-0.9zM281.43 109.62h0.9v0.9h-0.9zM290.64 107.23h0.9v0.9h-0.9zM274.67 99.61h0.9v0.9h-0.9zM294.06 113.61h0.9v0.9h-0.9zM278.03 106.43h0.9v0.9h-0.9zM271.6 109.05h0.9v0.9h-0.9zM281.9 97.52h0.9v0.9h-0.9zM279.14 102.06h0.9v0.9h-0.9zM292.1 105.82h0.9v0.9h-0.9zM270.46 97.16h0.9v0.9h-0.9zM281.5 116.27h0.9v0.9h-0.9zM269.89 109.1h0.9v0.9h-0.9zM286.3 110.5h0.9v0.9h-0.9zM280.49 96.64h0.9v0.9h-0.9zM272.96 106.56h0.9v0.9h-0.9zM280.93 112.21h0.9v0.9h-0.9zM295.97 112.66h0.9v0.9h-0.9zM276.13 116.11h0.9v0.9h-0.9zM275.15 96.98h0.9v0.9h-0.9zM281.63 101.26h0.9v0.9h-0.9zM286.87 100.68h0.9v0.9h-0.9zM295.95 101.8h0.9v0.9h-0.9zM282.89 91.7h0.9v0.9h-0.9zM270.94 102.68h0.9v0.9h-0.9zM288.17 106.47h0.9v0.9h-0.9zM286.94 112.15h0.9v0.9h-0.9zM278.98 102.41h0.9v0.9h-0.9zM278.79 118.37h0.9v0.9h-0.9zM278.57 105.38h0.9v0.9h-0.9zM282.76 114.45h0.9v0.9h-0.9zM282.39 113.09h0.9v0.9h-0.9zM276.25 99.08h0.9v0.9h-0.9zM269.28 96.72h0.9v0.9h-0.9zM282.72 106.96h0.9v0.9h-0.9zM288.52 97.85h0.9v0.9h-0.9zM278.61 101.14h0.9v0.9h-0.9zM287.12 100.66h0.9v0.9h-0.9zM284.71 100.29h0.9v0.9h-0.9zM275.76 95.71h0.9v0.9h-0.9zM274.37 106.62h0.9v0.9h-0.9zM290.61 113.98h0.9v0.9h-0.9zM283.35 100.89h0.9v0.9h-0.9zM273.51 95.45h0.9v0.9h-0.9zM290.28 118.28h0.9v0.9h-0.9zM285.42 104.52h0.9v0.9h-0.9zM281.58 107.53h0.9v0.9h-0.9zM281.48 107.52h0.9v0.9h-0.9zM277.3 102.12h0.9v0.9h-0.9zM276.82 109.9h0.9v0.9h-0.9zM269.7 107.51h0.9v0.9h-0.9zM284.07 101.74h0.9v0.9h-0.9zM282.72 105.85h0.9v0.9h-0.9zM279.88 106.56h0.9v0.9h-0.9zM284.57 92.73h0.9v0.9h-0.9zM288.05 107.77h0.9v0.9h-0.9zM293.6 114.19h0.9v0.9h-0.9zM276.2 105.41h0.9v0.9h-0.9zM275.45 99.98h0.9v0.9h-0.9zM269.21 102.31h0.9v0.9h-0.9zM290.47 101.36h0.9v0.9h-0.9zM283.06 112.39h0.9v0.9h-0.9zM291.02 104.46h0.9v0.9h-0.9zM281.8 95.62h0.9v0.9h-0.9zM272.66 101.55h0.9v0.9h-0.9zM278.86 112.82h0.9v0.9h-0.9zM286.02 104.29h0.9v0.9h-0.9zM284.26 105.55h0.9v0.9h-0.9zM279.32 94.77h0.9v0.9h-0.9zM290.79 101.98h0.9v0.9h-0.9zM285.04 111.14h0.9v0.9h-0.9zM285.71 94h0.9v0.9h-0.9zM281.17 114.96h0.9v0.9h-0.9zM281.33 94.27h0.9v0.9h-0.9zM290.28 110.39h0.9v0.9h-0.9zM274.38 109.64h0.9v0.9h-0.9zM279.47 106.55h0.9v0.9h-0.9zM282.62 99.01h0.9v0.9h-0.9zM287.44 100.95h0.9v0.9h-0.9zM272.09 94.57h0.9v0.9h-0.9zM288.1 116.56h0.9v0.9h-0.9zM293.67 113.18h0.9v0.9h-0.9zM278.29 105.98h0.9v0.9h-0.9zM273.7 105.42h0.9v0.9h-0.9zM278.89 104.71h0.9v0.9h-0.9zM277.32 100.76h0.9v0.9h-0.9zM290.71 107.84h0.9v0.9h-0.9zM277.2 103.93h0.9v0.9h-0.9zM289.89 107.61h0.9v0.9h-0.9zM279.85 91.15h0.9v0.9h-0.9zM269.81 105.73h0.9v0.9h-0.9zM280.73 107.48h0.9v0.9h-0.9zM289.69 111.15h0.9v0.9h-0.9zM288.11 104.11h0.9v0.9h-0.9zM269.34 102.07h0.9v0.9h-0.9zM280.35 108.01h0.9v0.9h-0.9zM275.82 99.84h0.9v0.9h-0.9zM279.27 113.08h0.9v0.9h-0.9zM280.89 104.84h0.9v0.9h-0.9zM275.5 110.72h0.9v0.9h-0.9zM283.56 102.53h0.9v0.9h-0.9zM286.88 105.47h0.9v0.9h-0.9zM274.11 111.9h0.9v0.9h-0.9zM289.61 109.76h0.9v0.9h-0.9zM285.97 113.19h0.9v0.9h-0.9zM286.95 107.74h0.9v0.9h-0.9zM282.11 107.74h0.9v0.9h-0.9zM285.81 109.46h0.9v0.9h-0.9zM279.28 102.37h0.9v0.9h-0.9zM289.52 101.27h0.9v0.9h-0.9zM280.36 109.42h0.9v0.9h-0.9zM285.11 104.12h0.9v0.9h-0.9zM284.41 102.19h0.9v0.9h-0.9zM291.23 106.95h0.9v0.9h-0.9zM275.09 91.24h0.9v0.9h-0.9zM284.4 107.52h0.9v0.9h-0.9zM283.96 95.56h0.9v0.9h-0.9zM284.68 99.62h0.9v0.9h-0.9zM278.27 102.37h0.9v0.9h-0.9zM276.44 103.72h0.9v0.9h-0.9zM279.22 99.36h0.9v0.9h-0.9zM276.47 112.57h0.9v0.9h-0.9zM291.06 117.02h0.9v0.9h-0.9zM277.68 102.08h0.9v0.9h-0.9zM286.79 113.49h0.9v0.9h-0.9zM271.52 98.06h0.9v0.9h-0.9zM275.18 106.36h0.9v0.9h-0.9zM289.28 104.63h0.9v0.9h-0.9zM276.04 115.65h0.9v0.9h-0.9zM280.76 100.21h0.9v0.9h-0.9zM293.6 110.94h0.9v0.9h-0.9zM290.53 99.83h0.9v0.9h-0.9zM292.45 118.1h0.9v0.9h-0.9zM283.15 110.62h0.9v0.9h-0.9zM280.95 100.31h0.9v0.9h-0.9zM270.52 100.74h0.9v0.9h-0.9zM288.94 115.1h0.9v0.9h-0.9zM287.16 112.95h0.9v0.9h-0.9zM280.7 93.83h0.9v0.9h-0.9zM286.97 108.69h0.9v0.9h-0.9zM290.89 107.58h0.9v0.9h-0.9zM275.18 104.02h0.9v0.9h-0.9zM284.4 93.41h0.9v0.9h-0.9zM281.51 97.56h0.9v0.9h-0.9zM276.82 97.35h0.9v0.9h-0.9zM296.64 109.84h0.9v0.9h-0.9zM291.33 109.39h0.9v0.9h-0.9zM288.05 102.88h0.9v0.9h-0.9zM287.96 95.2h0.9v0.9h-0.9zM298.25 108.1h0.9v0.9h-0.9zM289.06 104.15h0.9v0.9h-0.9zM288.76 99.49h0.9v0.9h-0.9zM277.26 108.77h0.9v0.9h-0.9zM293.59 96.44h0.9v0.9h-0.9zM293.35 101.11h0.9v0.9h-0.9zM283.27 109.24h0.9v0.9h-0.9zM279.41 100.64h0.9v0.9h-0.9zM279.87 106.38h0.9v0.9h-0.9zM284.97 116.65h0.9v0.9h-0.9zM278.7 117.83h0.9v0.9h-0.9zM270.33 111.36h0.9v0.9h-0.9zM278.55 108.4h0.9v0.9h-0.9zM281.77 105.06h0.9v0.9h-0.9zM275.12 103.53h0.9v0.9h-0.9zM296.9 114.29h0.9v0.9h-0.9zM282.78 105.04h0.9v0.9h-0.9zM288.7 106.87h0.9v0.9h-0.9zM282.2 106.31h0.9v0.9h-0.9zM289.1 115.89h0.9v0.9h-0.9zM277.51 97.16h0.9v0.9h-0.9zM280.3 110.02h0.9v0.9h-0.9zM290.53 107.91h0.9v0.9h-0.9zM288.28 119.01h0.9v0.9h-0.9zM293.66 112.82h0.9v0.9h-0.9zM292.08 98.76h0.9v0.9h-0.9zM272.26 94.29h0.9v0.9h-0.9zM284.57 114.13h0.9v0.9h-0.9zM278.79 110.61h0.9v0.9h-0.9zM282.05 116.17h0.9v0.9h-0.9zM274.32 93.82h0.9v0.9h-0.9zM279.55 95.21h0.9v0.9h-0.9zM297.75 106.62h0.9v0.9h-0.9zM278.34 99.41h0.9v0.9h-0.9zM290.77 106.11h0.9v0.9h-0.9zM286.39 111.27h0.9v0.9h-0.9zM280.5 94.21h0.9v0.9h-0.9zM296.98 107.75h0.9v0.9h-0.9zM274.06 102.83h0.9v0.9h-0.9zM286.41 99.98h0.9v0.9h-0.9zM287.75 114.82h0.9v0.9h-0.9zM287.43 101.92h0.9v0.9h-0.9zM284.39 108.91h0.9v0.9h-0.9zM276.29 101.45h0.9v0.9h-0.9zM268.75 101.53h0.9v0.9h-0.9zM281.53 100.52h0.9v0.9h-0.9zM287.82 106.91h0.9v0.9h-0.9zM288.36 112.13h0.9v0.9h-0.9zM290.85 110.56h0.9v0.9h-0.9zM267.36 104.02h0.9v0.9h-0.9zM289.32 98.2h0.9v0.9h-0.9zM280.53 110.38h0.9v0.9h-0.9zM275.52 101.11h0.9v0.9h-0.9zM280.98 96.31h0.9v0.9h-0.9zM274.35 109.81h0.9v0.9h-0.9zM287.95 107.74h0.9v0.9h-0.9zM281.96 105.47h0.9v0.9h-0.9zM284.4 107.31h0.9v0.9h-0.9zM267.66 103.23h0.9v0.9h-0.9zM291.96 101.09h0.9v0.9h-0.9zM282.25 103.95h0.9v0.9h-0.9zM276.97 105.69h0.9v0.9h-0.9zM281.93 102.36h0.9v0.9h-0.9zM277.06 99.53h0.9v0.9h-0.9zM275.41 101.03h0.9v0.9h-0.9zM289.1 116.29h0.9v0.9h-0.9zM290.51 99.07h0.9v0.9h-0.9zM287.24 114.65h0.9v0.9h-0.9zM284.18 103.23h0.9v0.9h-0.9zM294.33 103.36h0.9v0.9h-0.9zM278.61 112.96h0.9v0.9h-0.9zM276.58 105.91h0.9v0.9h-0.9zM288.5 97.12h0.9v0.9h-0.9zM274.74 108.95h0.9v0.9h-0.9zM293.44 106.52h0.9v0.9h-0.9zM293.38 105.64h0.9v0.9h-0.9zM284.81 105.95h0.9v0.9h-0.9zM272.96 101.73h0.9v0.9h-0.9zM279.83 96.78h0.9v0.9h-0.9zM280.21 96.01h0.9v0.9h-0.9zM289.11 109.14h0.9v0.9h-0.9zM285.67 104.58h0.9v0.9h-0.9zM284.3 103.81h0.9v0.9h-0.9zM280.18 91.85h0.9v0.9h-0.9zM280.15 111.17h0.9v0.9h-0.9zM279.33 115.24h0.9v0.9h-0.9zM274.07 97.88h0.9v0.9h-0.9zM274.48 109.54h0.9v0.9h-0.9zM296.85 109.07h0.9v0.9h-0.9zM289.02 106.68h0.9v0.9h-0.9zM276.19 100.27h0.9v0.9h-0.9zM270.39 109.6h0.9v0.9h-0.9zM283.28 114.28h0.9v0.9h-0.9zM288.43 108.88h0.9v0.9h-0.9zM284.57 119.02h0.9v0.9h-0.9zM273.04 105.32h0.9v0.9h-0.9zM285.94 105.42h0.9v0.9h-0.9zM279.2 106.89h0.9v0.9h-0.9zM284.94 111.19h0.9v0.9h-0.9zM284.43 95.78h0.9v0.9h-0.9zM288.13 117.93h0.9v0.9h-0.9zM279.04 102.51h0.9v0.9h-0.9zM294.59 98.29h0.9v0.9h-0.9zM287.27 102.1h0.9v0.9h-0.9zM297.6 113.53h0.9v0.9h-0.9zM285.91 103.46h0.9v0.9h-0.9zM290.23 95.46h0.9v0.9h-0.9zM278.69 91.24h0.9v0.9h-0.9zM289.76 108.22h0.9v0.9h-0.9zM273.86 110.91h0.9v0.9h-0.9zM283.49 91.03h0.9v0.9h-0.9zM278.79 99.95h0.9v0.9h-0.9zM278.57 112.45h0.9v0.9h-0.9z" fill="#4a9a4a" fill-opacity="0.7"/>
<ellipse cx="291.2" cy="50" rx="38" ry="23.5" fill="none" stroke="#a8222c" stroke-width="1.7" transform="rotate(-20 291.2 50)"/>
<ellipse cx="245" cy="79.8" rx="21" ry="16" fill="none" stroke="#2aa0c8" stroke-width="1.7" transform="rotate(30 245 79.8)"/>
<ellipse cx="305.5" cy="81.8" rx="13.5" ry="10.5" fill="none" stroke="#a048a0" stroke-width="1.7" transform="rotate(25 305.5 81.8)"/>
<ellipse cx="283" cy="105" rx="20" ry="16" fill="none" stroke="#2e7a34" stroke-width="1.7" transform="rotate(30 283 105)"/>
<rect x="222" y="23.8" width="106.6" height="98.2" fill="none" stroke="#111" stroke-width="1.5"/>
<line x1="219.2" y1="35.1" x2="222" y2="35.1" stroke="#111" stroke-width="1.2"/>
<text x="215.5" y="37.9" font-size="8" text-anchor="end" fill="#222">20</text>
<line x1="219.2" y1="52.3" x2="222" y2="52.3" stroke="#111" stroke-width="1.2"/>
<text x="215.5" y="55.1" font-size="8" text-anchor="end" fill="#222">10</text>
<line x1="219.2" y1="69.5" x2="222" y2="69.5" stroke="#111" stroke-width="1.2"/>
<text x="215.5" y="72.3" font-size="8" text-anchor="end" fill="#222">0</text>
<line x1="219.2" y1="86.7" x2="222" y2="86.7" stroke="#111" stroke-width="1.2"/>
<text x="215.5" y="89.5" font-size="8" text-anchor="end" fill="#222">-10</text>
<line x1="219.2" y1="103.9" x2="222" y2="103.9" stroke="#111" stroke-width="1.2"/>
<text x="215.5" y="106.7" font-size="8" text-anchor="end" fill="#222">-20</text>
<line x1="219.2" y1="121.1" x2="222" y2="121.1" stroke="#111" stroke-width="1.2"/>
<text x="215.5" y="123.9" font-size="8" text-anchor="end" fill="#222">-30</text>
<line x1="238.75" y1="122" x2="238.75" y2="124.6" stroke="#111" stroke-width="1.2"/>
<text x="237.55" y="135.6" font-size="8" text-anchor="middle" fill="#222">-20</text>
<line x1="260.6" y1="122" x2="260.6" y2="124.6" stroke="#111" stroke-width="1.2"/>
<text x="259.4" y="135.6" font-size="8" text-anchor="middle" fill="#222">-10</text>
<line x1="282.5" y1="122" x2="282.5" y2="124.6" stroke="#111" stroke-width="1.2"/>
<text x="282.5" y="135.6" font-size="8" text-anchor="middle" fill="#222">0</text>
<line x1="304.4" y1="122" x2="304.4" y2="124.6" stroke="#111" stroke-width="1.2"/>
<text x="304.4" y="135.6" font-size="8" text-anchor="middle" fill="#222">10</text>
<line x1="326.3" y1="122" x2="326.3" y2="124.6" stroke="#111" stroke-width="1.2"/>
<text x="326.3" y="135.6" font-size="8" text-anchor="middle" fill="#222">20</text>
<text transform="translate(198,73.1) rotate(-90) scale(0.64,1)" font-size="9.6" text-anchor="middle" fill="#2a2a2a" font-weight="bold">tSNE2</text>
<text transform="translate(275.4,150.1) scale(0.68,1)" font-size="9.3" text-anchor="middle" fill="#2a2a2a" font-weight="bold">tSNE1</text>
<rect x="204.5" y="156.3" width="7" height="6.5" fill="#c0282c"/>
<text x="214" y="162.6" font-size="7.7" text-anchor="start" fill="#333">NK cell cluster 1</text>
<rect x="278.3" y="156.3" width="7" height="6.5" fill="#3a8a3a"/>
<text x="287.8" y="162.6" font-size="7.7" text-anchor="start" fill="#333">ILC1 cluster 1</text>
<rect x="204.5" y="167.7" width="7" height="6.5" fill="#a850a8"/>
<text x="214" y="174" font-size="7.7" text-anchor="start" fill="#333">NK cell cluster 2</text>
<rect x="278.3" y="167.7" width="7" height="6.5" fill="#30a8d8"/>
<text x="287.8" y="174" font-size="7.7" text-anchor="start" fill="#333">ILC1 cluster 2</text>
<text x="347.3" y="18" font-size="11.4" text-anchor="start" fill="#111" font-weight="bold">C</text>
<path d="M419.82 57.28h0.85v0.85h-0.85zM414.86 46.21h0.85v0.85h-0.85zM407.71 40.95h0.85v0.85h-0.85zM419.45 55.67h0.85v0.85h-0.85zM411.59 44.11h0.85v0.85h-0.85zM415.48 51.55h0.85v0.85h-0.85zM412.02 42.65h0.85v0.85h-0.85zM412.59 45.86h0.85v0.85h-0.85zM415.91 52.13h0.85v0.85h-0.85zM413.92 46.61h0.85v0.85h-0.85zM421.11 53.09h0.85v0.85h-0.85zM419.42 53.43h0.85v0.85h-0.85zM415.4 51.02h0.85v0.85h-0.85zM403.91 39.1h0.85v0.85h-0.85zM404.79 52.22h0.85v0.85h-0.85zM417.04 49.9h0.85v0.85h-0.85zM411.59 58.81h0.85v0.85h-0.85zM408.37 39.29h0.85v0.85h-0.85zM400.74 47.17h0.85v0.85h-0.85zM415.64 52.88h0.85v0.85h-0.85zM409.53 53.31h0.85v0.85h-0.85zM410.68 45h0.85v0.85h-0.85zM408.49 52.98h0.85v0.85h-0.85zM417.32 42.85h0.85v0.85h-0.85zM404.45 49.57h0.85v0.85h-0.85zM402.7 51.16h0.85v0.85h-0.85zM414.37 45.61h0.85v0.85h-0.85zM410.83 51.52h0.85v0.85h-0.85zM399.45 48.78h0.85v0.85h-0.85zM414.98 53.88h0.85v0.85h-0.85zM418.72 48.52h0.85v0.85h-0.85zM401.46 56.15h0.85v0.85h-0.85zM416.11 45.47h0.85v0.85h-0.85zM417.85 54.51h0.85v0.85h-0.85zM407.9 44.83h0.85v0.85h-0.85zM405.46 48.46h0.85v0.85h-0.85zM403.85 51h0.85v0.85h-0.85zM423.5 42.49h0.85v0.85h-0.85zM417.89 46.04h0.85v0.85h-0.85zM414.6 48.22h0.85v0.85h-0.85zM419.49 45.07h0.85v0.85h-0.85zM415.85 44.73h0.85v0.85h-0.85zM412.52 48.83h0.85v0.85h-0.85zM418.2 40.4h0.85v0.85h-0.85zM402.08 56.41h0.85v0.85h-0.85zM413.55 58.06h0.85v0.85h-0.85zM404.19 50.04h0.85v0.85h-0.85zM414.99 58.43h0.85v0.85h-0.85zM410.65 46.49h0.85v0.85h-0.85zM415.73 48.35h0.85v0.85h-0.85zM406.05 53.01h0.85v0.85h-0.85zM398.42 43.43h0.85v0.85h-0.85zM420 46.21h0.85v0.85h-0.85zM408.86 50.91h0.85v0.85h-0.85zM418.41 51.75h0.85v0.85h-0.85zM404.63 45.84h0.85v0.85h-0.85zM417.93 48.26h0.85v0.85h-0.85zM406.84 53.61h0.85v0.85h-0.85zM403.9 45.09h0.85v0.85h-0.85zM406.43 50.82h0.85v0.85h-0.85zM407.85 54.92h0.85v0.85h-0.85zM406.76 47.42h0.85v0.85h-0.85zM414.75 50h0.85v0.85h-0.85zM404.32 57h0.85v0.85h-0.85zM414.8 46.25h0.85v0.85h-0.85zM412.38 42.94h0.85v0.85h-0.85zM402.9 47.28h0.85v0.85h-0.85zM413.41 49.45h0.85v0.85h-0.85zM405.89 41.43h0.85v0.85h-0.85zM413.44 44.58h0.85v0.85h-0.85zM418.82 51.82h0.85v0.85h-0.85zM408.28 45.59h0.85v0.85h-0.85zM418.51 50.67h0.85v0.85h-0.85zM421.77 50.86h0.85v0.85h-0.85zM407.15 45.67h0.85v0.85h-0.85zM406.37 50.27h0.85v0.85h-0.85zM412.67 52.17h0.85v0.85h-0.85zM413.97 43.24h0.85v0.85h-0.85zM409.66 43.82h0.85v0.85h-0.85zM414.18 41.81h0.85v0.85h-0.85zM407.18 44.27h0.85v0.85h-0.85zM406.94 47.51h0.85v0.85h-0.85zM420.94 47.52h0.85v0.85h-0.85zM401.57 47.27h0.85v0.85h-0.85zM415.92 51.89h0.85v0.85h-0.85zM412.58 59.65h0.85v0.85h-0.85zM418.3 49.39h0.85v0.85h-0.85zM419 41.68h0.85v0.85h-0.85zM409.89 44.23h0.85v0.85h-0.85zM412.17 57.63h0.85v0.85h-0.85zM407.74 57.5h0.85v0.85h-0.85zM404.29 56.6h0.85v0.85h-0.85zM399.87 44.32h0.85v0.85h-0.85zM417.56 48.41h0.85v0.85h-0.85zM411.95 48.83h0.85v0.85h-0.85zM412.19 47.94h0.85v0.85h-0.85zM404.58 47.33h0.85v0.85h-0.85zM411.73 44.04h0.85v0.85h-0.85zM414.07 58.41h0.85v0.85h-0.85zM400.23 45.96h0.85v0.85h-0.85zM409.16 49h0.85v0.85h-0.85zM411.63 44.99h0.85v0.85h-0.85zM410.78 48.93h0.85v0.85h-0.85zM410.44 57.21h0.85v0.85h-0.85zM411.85 40.93h0.85v0.85h-0.85zM400.72 52.09h0.85v0.85h-0.85zM408.76 45.56h0.85v0.85h-0.85zM402.11 47.24h0.85v0.85h-0.85zM410.4 45.2h0.85v0.85h-0.85zM408.7 53.68h0.85v0.85h-0.85zM416.15 51.85h0.85v0.85h-0.85zM409.86 41.58h0.85v0.85h-0.85zM416.1 56.98h0.85v0.85h-0.85zM419.36 55.18h0.85v0.85h-0.85zM412.82 50.93h0.85v0.85h-0.85zM410.91 55.67h0.85v0.85h-0.85zM409.24 60.48h0.85v0.85h-0.85zM416.1 47.17h0.85v0.85h-0.85zM410.99 40.22h0.85v0.85h-0.85zM406.2 47.28h0.85v0.85h-0.85zM417.02 49.32h0.85v0.85h-0.85zM409.06 52.28h0.85v0.85h-0.85zM397.93 54h0.85v0.85h-0.85zM423.69 50.5h0.85v0.85h-0.85zM410.6 49.77h0.85v0.85h-0.85zM415.35 46.26h0.85v0.85h-0.85zM411.79 51.62h0.85v0.85h-0.85zM408.71 51h0.85v0.85h-0.85zM413.19 52.76h0.85v0.85h-0.85zM404.53 46.01h0.85v0.85h-0.85zM408.21 55.37h0.85v0.85h-0.85zM412.64 39.98h0.85v0.85h-0.85zM413.22 41.92h0.85v0.85h-0.85zM405.03 49.67h0.85v0.85h-0.85zM420.35 57.64h0.85v0.85h-0.85zM408.61 47.29h0.85v0.85h-0.85zM423.58 43.6h0.85v0.85h-0.85zM421.25 50.73h0.85v0.85h-0.85zM411.62 55.85h0.85v0.85h-0.85zM414.17 44.39h0.85v0.85h-0.85zM401.01 48.99h0.85v0.85h-0.85zM414.36 56.28h0.85v0.85h-0.85zM415.06 57.09h0.85v0.85h-0.85zM416.22 50.05h0.85v0.85h-0.85zM413.83 51.05h0.85v0.85h-0.85zM406.89 48.29h0.85v0.85h-0.85zM411.84 46.47h0.85v0.85h-0.85zM401.4 41.1h0.85v0.85h-0.85zM414.31 51.71h0.85v0.85h-0.85zM411.71 42.59h0.85v0.85h-0.85zM416.58 46.79h0.85v0.85h-0.85zM414.5 46.52h0.85v0.85h-0.85zM420.71 56.25h0.85v0.85h-0.85zM412.7 39.65h0.85v0.85h-0.85zM408.5 47.37h0.85v0.85h-0.85zM414.03 48.22h0.85v0.85h-0.85zM413.26 40.08h0.85v0.85h-0.85zM406.79 56.69h0.85v0.85h-0.85zM401.48 53.89h0.85v0.85h-0.85zM401.9 55.63h0.85v0.85h-0.85zM398.85 50.73h0.85v0.85h-0.85zM408.32 55.6h0.85v0.85h-0.85zM418.73 49.93h0.85v0.85h-0.85zM422.75 54.22h0.85v0.85h-0.85zM407.87 43.59h0.85v0.85h-0.85zM413.7 48.27h0.85v0.85h-0.85zM407.9 40.2h0.85v0.85h-0.85zM410.05 48.28h0.85v0.85h-0.85zM417.44 46.12h0.85v0.85h-0.85zM400.75 43.09h0.85v0.85h-0.85zM410.74 50.25h0.85v0.85h-0.85zM415.75 46.83h0.85v0.85h-0.85zM414.54 49.68h0.85v0.85h-0.85zM422.07 48.6h0.85v0.85h-0.85zM411.95 51.97h0.85v0.85h-0.85zM418.99 43.92h0.85v0.85h-0.85zM407.9 47.41h0.85v0.85h-0.85zM418.03 49.02h0.85v0.85h-0.85zM416.94 41.23h0.85v0.85h-0.85zM421.04 51.18h0.85v0.85h-0.85zM403.16 49.19h0.85v0.85h-0.85zM415.95 54.23h0.85v0.85h-0.85zM412.15 46.07h0.85v0.85h-0.85zM416.02 44.78h0.85v0.85h-0.85zM410.49 53.04h0.85v0.85h-0.85zM401.56 50.93h0.85v0.85h-0.85zM398.16 43.88h0.85v0.85h-0.85zM402.93 48.41h0.85v0.85h-0.85zM415.69 48.63h0.85v0.85h-0.85zM416.99 49.42h0.85v0.85h-0.85zM409.66 51.57h0.85v0.85h-0.85zM409.44 49.63h0.85v0.85h-0.85zM417.83 45.81h0.85v0.85h-0.85zM418.56 42.9h0.85v0.85h-0.85zM409.56 39.49h0.85v0.85h-0.85zM407.52 57.52h0.85v0.85h-0.85zM413.34 55.79h0.85v0.85h-0.85zM401.36 43.42h0.85v0.85h-0.85zM414.06 53.39h0.85v0.85h-0.85zM416.49 39.82h0.85v0.85h-0.85zM414.35 48.51h0.85v0.85h-0.85zM411.79 51.49h0.85v0.85h-0.85zM409.16 39.72h0.85v0.85h-0.85zM403.99 41.06h0.85v0.85h-0.85zM402.37 48.18h0.85v0.85h-0.85zM419.58 45.03h0.85v0.85h-0.85zM405.99 42.67h0.85v0.85h-0.85zM399.66 49.26h0.85v0.85h-0.85zM407.82 47.6h0.85v0.85h-0.85zM404.69 51.54h0.85v0.85h-0.85zM403.11 51.88h0.85v0.85h-0.85zM406.66 53.18h0.85v0.85h-0.85zM405.17 51.3h0.85v0.85h-0.85zM413.89 48.47h0.85v0.85h-0.85zM421.73 49.85h0.85v0.85h-0.85zM405.17 52.66h0.85v0.85h-0.85zM405.59 45.97h0.85v0.85h-0.85zM411.08 49.89h0.85v0.85h-0.85zM409.31 55.03h0.85v0.85h-0.85zM409.95 50.64h0.85v0.85h-0.85zM421.03 42.22h0.85v0.85h-0.85zM411.29 53.21h0.85v0.85h-0.85zM407.15 39.39h0.85v0.85h-0.85zM404.44 49.96h0.85v0.85h-0.85zM412.25 58.91h0.85v0.85h-0.85zM419.73 40.5h0.85v0.85h-0.85zM417.82 53.87h0.85v0.85h-0.85zM421.65 48.07h0.85v0.85h-0.85zM407.34 49.7h0.85v0.85h-0.85zM421.17 52.29h0.85v0.85h-0.85zM422.16 53.18h0.85v0.85h-0.85zM407.14 43.4h0.85v0.85h-0.85zM408.7 47.18h0.85v0.85h-0.85zM405.01 45.79h0.85v0.85h-0.85zM410.57 46.06h0.85v0.85h-0.85zM411.82 54.01h0.85v0.85h-0.85zM405.64 46.7h0.85v0.85h-0.85zM399.51 52.72h0.85v0.85h-0.85zM415.48 57.06h0.85v0.85h-0.85zM416.74 47.41h0.85v0.85h-0.85zM408.43 47.22h0.85v0.85h-0.85zM403.02 53.09h0.85v0.85h-0.85zM407 44.97h0.85v0.85h-0.85zM414.4 49.51h0.85v0.85h-0.85zM407.16 47.62h0.85v0.85h-0.85zM407.77 56.23h0.85v0.85h-0.85zM417.59 44.95h0.85v0.85h-0.85zM410.74 56.37h0.85v0.85h-0.85zM409.11 58.6h0.85v0.85h-0.85zM413.93 52.54h0.85v0.85h-0.85zM397.33 53.52h0.85v0.85h-0.85zM413.24 52.07h0.85v0.85h-0.85zM414.17 51.77h0.85v0.85h-0.85zM407.66 53.8h0.85v0.85h-0.85zM411.42 43.19h0.85v0.85h-0.85zM404.3 49.78h0.85v0.85h-0.85zM413.21 36.88h0.85v0.85h-0.85zM400.91 47.55h0.85v0.85h-0.85zM407.05 51.94h0.85v0.85h-0.85zM420.28 57.69h0.85v0.85h-0.85zM404.36 55.63h0.85v0.85h-0.85zM402.99 50.58h0.85v0.85h-0.85zM412.13 52.28h0.85v0.85h-0.85zM405.73 56.19h0.85v0.85h-0.85zM410.55 48.8h0.85v0.85h-0.85zM409.25 43.09h0.85v0.85h-0.85zM415.75 50.73h0.85v0.85h-0.85zM414 59.06h0.85v0.85h-0.85zM405.29 47.35h0.85v0.85h-0.85zM411.05 53.57h0.85v0.85h-0.85zM409.83 53.99h0.85v0.85h-0.85zM414.01 39.31h0.85v0.85h-0.85zM406.5 37.82h0.85v0.85h-0.85zM409.12 46.63h0.85v0.85h-0.85zM414.89 49.83h0.85v0.85h-0.85zM410.58 55.79h0.85v0.85h-0.85zM414.92 42.18h0.85v0.85h-0.85zM406.46 50.69h0.85v0.85h-0.85zM422.22 47.82h0.85v0.85h-0.85zM409.88 50.35h0.85v0.85h-0.85zM416.16 48.41h0.85v0.85h-0.85zM412.94 46.6h0.85v0.85h-0.85zM407.37 44.57h0.85v0.85h-0.85zM415.34 45.86h0.85v0.85h-0.85zM414.62 51.12h0.85v0.85h-0.85zM404.64 42.24h0.85v0.85h-0.85zM409.92 53.3h0.85v0.85h-0.85zM419.95 50.99h0.85v0.85h-0.85zM408.45 51.83h0.85v0.85h-0.85zM411.06 52.27h0.85v0.85h-0.85zM404.21 42.92h0.85v0.85h-0.85zM406.76 48.66h0.85v0.85h-0.85zM413.3 46.96h0.85v0.85h-0.85zM413.31 52.62h0.85v0.85h-0.85zM403.35 48.35h0.85v0.85h-0.85zM400.73 45.9h0.85v0.85h-0.85zM416.97 44.99h0.85v0.85h-0.85zM423.29 51.66h0.85v0.85h-0.85zM416.87 49.47h0.85v0.85h-0.85zM416.7 54.88h0.85v0.85h-0.85z" fill="#9a9a9a" fill-opacity="0.55"/>
<path d="M419.3 57.03h0.85v0.85h-0.85zM415.18 59.4h0.85v0.85h-0.85zM418.5 56.62h0.85v0.85h-0.85zM418.41 53.94h0.85v0.85h-0.85zM416.92 57.18h0.85v0.85h-0.85zM418.04 55.66h0.85v0.85h-0.85zM419.07 58.98h0.85v0.85h-0.85zM417.09 57.27h0.85v0.85h-0.85zM415.18 57.12h0.85v0.85h-0.85zM416.35 55.38h0.85v0.85h-0.85zM419.26 57.24h0.85v0.85h-0.85zM420.08 56h0.85v0.85h-0.85zM420.6 56.28h0.85v0.85h-0.85zM419.43 59.39h0.85v0.85h-0.85zM421.6 62.34h0.85v0.85h-0.85zM416.4 58.15h0.85v0.85h-0.85zM417.46 56.63h0.85v0.85h-0.85zM419.01 54.19h0.85v0.85h-0.85zM422.06 55.75h0.85v0.85h-0.85zM417.38 57.94h0.85v0.85h-0.85zM420.37 55.54h0.85v0.85h-0.85zM416.18 57.43h0.85v0.85h-0.85zM419.67 61.83h0.85v0.85h-0.85zM413.46 55.06h0.85v0.85h-0.85zM416.52 57.85h0.85v0.85h-0.85zM414.39 54.42h0.85v0.85h-0.85zM420.93 57.92h0.85v0.85h-0.85zM418.57 55.55h0.85v0.85h-0.85zM422.64 57.66h0.85v0.85h-0.85zM416.53 55.51h0.85v0.85h-0.85zM415.58 60.07h0.85v0.85h-0.85zM420.03 56.89h0.85v0.85h-0.85zM419.62 59.12h0.85v0.85h-0.85zM419.28 58.01h0.85v0.85h-0.85zM420.84 56.73h0.85v0.85h-0.85zM415.9 54.87h0.85v0.85h-0.85zM415.01 56.66h0.85v0.85h-0.85zM419.29 58.87h0.85v0.85h-0.85zM418.08 54.53h0.85v0.85h-0.85zM421.37 56.45h0.85v0.85h-0.85zM419.4 57.93h0.85v0.85h-0.85zM420.34 59h0.85v0.85h-0.85zM419.35 56.95h0.85v0.85h-0.85zM414.5 54.07h0.85v0.85h-0.85zM419.2 60.33h0.85v0.85h-0.85zM422.98 58.6h0.85v0.85h-0.85zM415.43 56.95h0.85v0.85h-0.85zM420.82 55.97h0.85v0.85h-0.85zM415.52 58.88h0.85v0.85h-0.85zM413.75 54.6h0.85v0.85h-0.85z" fill="#b08080" fill-opacity="0.6"/>
<path d="M385.46 58.63h0.85v0.85h-0.85zM388.83 55.54h0.85v0.85h-0.85zM384.91 55.42h0.85v0.85h-0.85zM396.65 58.17h0.85v0.85h-0.85zM389.41 55.45h0.85v0.85h-0.85zM391.13 56.62h0.85v0.85h-0.85zM387.15 58.57h0.85v0.85h-0.85zM391.51 56.11h0.85v0.85h-0.85zM394.53 57.66h0.85v0.85h-0.85zM391.51 57.51h0.85v0.85h-0.85zM393.49 58.42h0.85v0.85h-0.85zM388.8 57.91h0.85v0.85h-0.85zM388.78 57.11h0.85v0.85h-0.85zM395.22 56.4h0.85v0.85h-0.85zM386.91 56.12h0.85v0.85h-0.85zM388.23 58.62h0.85v0.85h-0.85zM394.93 57.18h0.85v0.85h-0.85zM390.64 56.7h0.85v0.85h-0.85zM391.93 58.27h0.85v0.85h-0.85zM392.16 58.44h0.85v0.85h-0.85zM395.94 57.7h0.85v0.85h-0.85zM392.18 57.15h0.85v0.85h-0.85zM390.08 57.41h0.85v0.85h-0.85zM389.78 57.54h0.85v0.85h-0.85zM387.42 56.53h0.85v0.85h-0.85zM388.37 55.29h0.85v0.85h-0.85zM387.93 56.13h0.85v0.85h-0.85zM389.84 54.96h0.85v0.85h-0.85zM389.43 55.49h0.85v0.85h-0.85zM387.46 57h0.85v0.85h-0.85zM393.34 57.96h0.85v0.85h-0.85zM388.59 56.31h0.85v0.85h-0.85zM394.4 55.52h0.85v0.85h-0.85zM393.77 55.59h0.85v0.85h-0.85zM388.05 56.89h0.85v0.85h-0.85zM389.01 59.22h0.85v0.85h-0.85zM391.52 57.25h0.85v0.85h-0.85zM392.91 57.56h0.85v0.85h-0.85zM387.32 58.25h0.85v0.85h-0.85zM394.35 59.45h0.85v0.85h-0.85zM386.05 59.13h0.85v0.85h-0.85zM388.58 57.94h0.85v0.85h-0.85zM385.24 55.05h0.85v0.85h-0.85zM393.52 58.27h0.85v0.85h-0.85zM391.39 57.04h0.85v0.85h-0.85zM389.94 57.41h0.85v0.85h-0.85zM392.36 57.07h0.85v0.85h-0.85zM387.32 56.23h0.85v0.85h-0.85zM383.77 54.71h0.85v0.85h-0.85zM396.18 57.04h0.85v0.85h-0.85zM389.4 59.59h0.85v0.85h-0.85zM393.2 57.72h0.85v0.85h-0.85zM392.3 57.06h0.85v0.85h-0.85zM387.04 58.04h0.85v0.85h-0.85zM390.11 59.29h0.85v0.85h-0.85zM389.27 56.49h0.85v0.85h-0.85zM391.09 57h0.85v0.85h-0.85zM389.21 55.77h0.85v0.85h-0.85zM390.72 57.64h0.85v0.85h-0.85zM395.61 57.85h0.85v0.85h-0.85zM384.53 56.96h0.85v0.85h-0.85zM397.1 57.5h0.85v0.85h-0.85zM387.58 56.53h0.85v0.85h-0.85zM389.71 55h0.85v0.85h-0.85zM391.93 56.18h0.85v0.85h-0.85zM384.47 55.34h0.85v0.85h-0.85zM391.58 59.94h0.85v0.85h-0.85zM393.8 57.9h0.85v0.85h-0.85zM388.48 56.53h0.85v0.85h-0.85zM393.07 56.83h0.85v0.85h-0.85zM391.1 58.57h0.85v0.85h-0.85zM387.33 55.93h0.85v0.85h-0.85zM391.38 57.3h0.85v0.85h-0.85zM389.72 56.34h0.85v0.85h-0.85zM389.46 59.55h0.85v0.85h-0.85zM394.47 55.53h0.85v0.85h-0.85zM390.13 57.24h0.85v0.85h-0.85zM390.37 55.27h0.85v0.85h-0.85zM389.57 57.24h0.85v0.85h-0.85zM387.85 57.22h0.85v0.85h-0.85zM390.24 57.67h0.85v0.85h-0.85zM389.58 56.42h0.85v0.85h-0.85zM390.37 58.63h0.85v0.85h-0.85zM392.77 57.38h0.85v0.85h-0.85zM388.37 58.32h0.85v0.85h-0.85zM391.5 58.51h0.85v0.85h-0.85zM389.31 55.83h0.85v0.85h-0.85zM390.69 56.35h0.85v0.85h-0.85zM393.37 58.74h0.85v0.85h-0.85zM383.18 57.05h0.85v0.85h-0.85zM393.9 59.06h0.85v0.85h-0.85zM388.71 55.75h0.85v0.85h-0.85zM392.79 58.87h0.85v0.85h-0.85zM390.4 55.59h0.85v0.85h-0.85zM385.26 56.8h0.85v0.85h-0.85zM387.59 55.84h0.85v0.85h-0.85zM391.17 58.69h0.85v0.85h-0.85zM383.79 55.31h0.85v0.85h-0.85zM394 57.6h0.85v0.85h-0.85zM388.83 57.8h0.85v0.85h-0.85zM386.73 54.98h0.85v0.85h-0.85zM389.77 59.2h0.85v0.85h-0.85zM393.12 57.53h0.85v0.85h-0.85zM393.18 56.99h0.85v0.85h-0.85zM386.69 54.36h0.85v0.85h-0.85zM390.66 58.42h0.85v0.85h-0.85zM391.15 57.21h0.85v0.85h-0.85zM388.56 58.38h0.85v0.85h-0.85zM390.13 55.16h0.85v0.85h-0.85zM394.33 56.83h0.85v0.85h-0.85zM391.2 57.27h0.85v0.85h-0.85zM393.19 57.89h0.85v0.85h-0.85zM393.73 57.91h0.85v0.85h-0.85zM388.68 56.22h0.85v0.85h-0.85zM392.15 56.27h0.85v0.85h-0.85zM392.9 57.18h0.85v0.85h-0.85zM387.31 55.53h0.85v0.85h-0.85zM389.22 59.4h0.85v0.85h-0.85zM392.37 57.46h0.85v0.85h-0.85zM386.86 59.26h0.85v0.85h-0.85zM389.15 56.98h0.85v0.85h-0.85zM388.45 58.7h0.85v0.85h-0.85zM390.63 56.57h0.85v0.85h-0.85zM390.76 55.85h0.85v0.85h-0.85zM386.8 56.43h0.85v0.85h-0.85zM396.32 56.47h0.85v0.85h-0.85zM389.86 54.93h0.85v0.85h-0.85zM390.49 57.46h0.85v0.85h-0.85zM392.53 55.64h0.85v0.85h-0.85zM388.27 55.98h0.85v0.85h-0.85zM388.82 60.05h0.85v0.85h-0.85zM389.39 56.96h0.85v0.85h-0.85zM388.29 57.95h0.85v0.85h-0.85zM394.91 56.33h0.85v0.85h-0.85zM393.25 57.59h0.85v0.85h-0.85zM393.65 59.06h0.85v0.85h-0.85zM392.33 55.14h0.85v0.85h-0.85zM390.51 56.49h0.85v0.85h-0.85zM391.37 57.34h0.85v0.85h-0.85zM393.53 55.41h0.85v0.85h-0.85zM387.74 56.68h0.85v0.85h-0.85zM391.06 56.7h0.85v0.85h-0.85zM389.9 57.16h0.85v0.85h-0.85zM393.24 57.4h0.85v0.85h-0.85zM391.09 54.77h0.85v0.85h-0.85zM391.53 54.17h0.85v0.85h-0.85zM391.28 57.15h0.85v0.85h-0.85zM390.15 56.12h0.85v0.85h-0.85zM388.55 58.03h0.85v0.85h-0.85zM391.11 57.22h0.85v0.85h-0.85zM388.46 57.17h0.85v0.85h-0.85zM393.67 57.59h0.85v0.85h-0.85zM389.09 55.36h0.85v0.85h-0.85zM390.48 55.91h0.85v0.85h-0.85zM385.41 57.64h0.85v0.85h-0.85zM388.47 54.1h0.85v0.85h-0.85zM387.44 59.26h0.85v0.85h-0.85zM389.92 55.28h0.85v0.85h-0.85zM386.47 57.59h0.85v0.85h-0.85zM391.21 57.56h0.85v0.85h-0.85zM389.31 57.66h0.85v0.85h-0.85zM394.65 58.42h0.85v0.85h-0.85zM389.76 55.16h0.85v0.85h-0.85zM391.07 59.39h0.85v0.85h-0.85zM392.23 55.7h0.85v0.85h-0.85zM390.33 58.92h0.85v0.85h-0.85zM387.95 57.49h0.85v0.85h-0.85zM393.42 59.82h0.85v0.85h-0.85zM385.43 54.07h0.85v0.85h-0.85zM391.02 58.2h0.85v0.85h-0.85zM388.91 56.92h0.85v0.85h-0.85zM388.52 58.53h0.85v0.85h-0.85zM383.14 56.48h0.85v0.85h-0.85zM386.19 55.64h0.85v0.85h-0.85zM385.45 55.22h0.85v0.85h-0.85zM389.92 57.13h0.85v0.85h-0.85zM395.55 57.58h0.85v0.85h-0.85zM391 57.72h0.85v0.85h-0.85zM390.52 59.18h0.85v0.85h-0.85zM390.4 57.36h0.85v0.85h-0.85zM389.65 57.06h0.85v0.85h-0.85zM389.64 58.41h0.85v0.85h-0.85zM390.05 57.2h0.85v0.85h-0.85zM389.71 58.1h0.85v0.85h-0.85zM388.37 58.16h0.85v0.85h-0.85zM388.11 57.78h0.85v0.85h-0.85zM395.87 58.24h0.85v0.85h-0.85zM389.95 55.48h0.85v0.85h-0.85zM392.28 57.44h0.85v0.85h-0.85zM392.93 56.61h0.85v0.85h-0.85zM391.26 59.75h0.85v0.85h-0.85zM391.3 56.84h0.85v0.85h-0.85zM385.99 56.52h0.85v0.85h-0.85zM391.92 58.19h0.85v0.85h-0.85zM386.75 55.24h0.85v0.85h-0.85zM387.18 55.31h0.85v0.85h-0.85zM389.1 57.34h0.85v0.85h-0.85zM395.9 58.2h0.85v0.85h-0.85zM394.8 55.51h0.85v0.85h-0.85zM394.61 58.84h0.85v0.85h-0.85z" fill="#e0402c" fill-opacity="0.85"/>
<path d="M406.95 71.86h0.85v0.85h-0.85zM407.53 74.84h0.85v0.85h-0.85zM408.15 64.83h0.85v0.85h-0.85zM405.22 73.22h0.85v0.85h-0.85zM404.37 67.8h0.85v0.85h-0.85zM404.37 70.46h0.85v0.85h-0.85zM406.11 67.9h0.85v0.85h-0.85zM407.27 71.29h0.85v0.85h-0.85zM402.48 66.55h0.85v0.85h-0.85zM399.04 68.76h0.85v0.85h-0.85zM405.53 67.69h0.85v0.85h-0.85zM403.52 69.23h0.85v0.85h-0.85zM405.6 71.16h0.85v0.85h-0.85zM408.24 70.8h0.85v0.85h-0.85zM409.18 66.94h0.85v0.85h-0.85zM407.5 70.62h0.85v0.85h-0.85zM402.06 67.74h0.85v0.85h-0.85zM406.96 69.81h0.85v0.85h-0.85zM401.36 68.08h0.85v0.85h-0.85zM410.52 71.91h0.85v0.85h-0.85zM405.77 73.3h0.85v0.85h-0.85zM402.51 69.13h0.85v0.85h-0.85zM408.66 68.68h0.85v0.85h-0.85zM401.82 71.21h0.85v0.85h-0.85zM406.01 66.17h0.85v0.85h-0.85zM404.52 65.72h0.85v0.85h-0.85zM405.65 67.66h0.85v0.85h-0.85zM402.24 68.35h0.85v0.85h-0.85zM406.18 74.41h0.85v0.85h-0.85zM406.45 73.9h0.85v0.85h-0.85zM401.99 69.8h0.85v0.85h-0.85zM404.06 65.3h0.85v0.85h-0.85zM406.31 67.53h0.85v0.85h-0.85zM403.6 66.76h0.85v0.85h-0.85zM408.88 68.49h0.85v0.85h-0.85zM405.02 70.1h0.85v0.85h-0.85zM401.46 70.24h0.85v0.85h-0.85zM404.94 70.82h0.85v0.85h-0.85zM404.23 69.71h0.85v0.85h-0.85zM407.21 72.25h0.85v0.85h-0.85zM403.23 72.27h0.85v0.85h-0.85zM402.25 69.08h0.85v0.85h-0.85zM405.93 70h0.85v0.85h-0.85zM404.89 72.14h0.85v0.85h-0.85zM403.18 73.75h0.85v0.85h-0.85zM399.56 69.81h0.85v0.85h-0.85zM407.28 69.65h0.85v0.85h-0.85zM406.37 72.17h0.85v0.85h-0.85zM402.85 71.22h0.85v0.85h-0.85zM409 68.96h0.85v0.85h-0.85zM402.69 66.69h0.85v0.85h-0.85zM406.92 67.39h0.85v0.85h-0.85zM401.2 68.81h0.85v0.85h-0.85zM410.54 71.47h0.85v0.85h-0.85zM402.14 72.44h0.85v0.85h-0.85zM403.94 75.68h0.85v0.85h-0.85zM403.68 71.24h0.85v0.85h-0.85zM407.36 68.38h0.85v0.85h-0.85zM404.99 72.78h0.85v0.85h-0.85zM407.14 69.43h0.85v0.85h-0.85zM406.96 74.4h0.85v0.85h-0.85zM408.57 70.91h0.85v0.85h-0.85zM406.59 65.31h0.85v0.85h-0.85zM405.95 68.26h0.85v0.85h-0.85zM407.91 67.93h0.85v0.85h-0.85zM406.98 66.71h0.85v0.85h-0.85zM408.45 67.6h0.85v0.85h-0.85zM405.41 71.19h0.85v0.85h-0.85zM404.43 69.62h0.85v0.85h-0.85zM408.99 74.46h0.85v0.85h-0.85zM399.55 67.12h0.85v0.85h-0.85zM407.73 72.18h0.85v0.85h-0.85zM403.94 69.86h0.85v0.85h-0.85zM404.86 75.85h0.85v0.85h-0.85zM404.84 66.33h0.85v0.85h-0.85zM400.38 66.1h0.85v0.85h-0.85zM409.79 68.53h0.85v0.85h-0.85zM411.92 71.35h0.85v0.85h-0.85zM406.76 71.37h0.85v0.85h-0.85zM408.1 72.13h0.85v0.85h-0.85zM402.28 68.07h0.85v0.85h-0.85zM403.69 69.89h0.85v0.85h-0.85zM404.67 66.22h0.85v0.85h-0.85zM403.21 74.51h0.85v0.85h-0.85zM412.49 67.25h0.85v0.85h-0.85zM406.75 69.5h0.85v0.85h-0.85zM402.71 71.56h0.85v0.85h-0.85zM405.27 74.18h0.85v0.85h-0.85zM407.01 68.75h0.85v0.85h-0.85zM408.29 67.64h0.85v0.85h-0.85zM408.41 71.48h0.85v0.85h-0.85zM399.68 69.06h0.85v0.85h-0.85zM406.56 71.67h0.85v0.85h-0.85zM406.01 69.56h0.85v0.85h-0.85zM404.36 68.8h0.85v0.85h-0.85zM405.51 66.68h0.85v0.85h-0.85zM407.62 68.71h0.85v0.85h-0.85zM407.22 68.21h0.85v0.85h-0.85zM406.85 69.95h0.85v0.85h-0.85zM408.44 70.87h0.85v0.85h-0.85zM408.57 69.14h0.85v0.85h-0.85zM405.32 68.88h0.85v0.85h-0.85zM401.37 69.26h0.85v0.85h-0.85zM409.08 71.71h0.85v0.85h-0.85zM402.7 70.42h0.85v0.85h-0.85zM407.97 65.87h0.85v0.85h-0.85zM406.65 70.5h0.85v0.85h-0.85zM407.97 70.3h0.85v0.85h-0.85zM412.04 68.52h0.85v0.85h-0.85zM409.69 73.07h0.85v0.85h-0.85zM405.79 66.47h0.85v0.85h-0.85zM410.01 69.5h0.85v0.85h-0.85zM407.21 70.91h0.85v0.85h-0.85zM408.64 72.38h0.85v0.85h-0.85zM400.82 65.74h0.85v0.85h-0.85zM405.97 69.63h0.85v0.85h-0.85zM408.06 69.23h0.85v0.85h-0.85zM404.9 75.16h0.85v0.85h-0.85zM410.03 72.78h0.85v0.85h-0.85zM408.92 67.44h0.85v0.85h-0.85zM405.22 69.41h0.85v0.85h-0.85zM401.89 67.22h0.85v0.85h-0.85zM406.03 66.28h0.85v0.85h-0.85zM407.29 70.89h0.85v0.85h-0.85zM404.72 68.67h0.85v0.85h-0.85zM407.48 70.91h0.85v0.85h-0.85zM406.7 66.25h0.85v0.85h-0.85zM403.35 68.6h0.85v0.85h-0.85zM399.49 67.41h0.85v0.85h-0.85zM403.09 71.78h0.85v0.85h-0.85zM404.14 68.26h0.85v0.85h-0.85zM402.95 68.39h0.85v0.85h-0.85zM400.31 70.33h0.85v0.85h-0.85zM409.44 70.02h0.85v0.85h-0.85zM403.73 73.06h0.85v0.85h-0.85zM407.11 66.78h0.85v0.85h-0.85zM403.61 67.93h0.85v0.85h-0.85zM405.35 72.92h0.85v0.85h-0.85zM403.18 69.2h0.85v0.85h-0.85zM405.87 66.35h0.85v0.85h-0.85zM403.93 71.28h0.85v0.85h-0.85zM409.23 64.48h0.85v0.85h-0.85zM407.83 68.81h0.85v0.85h-0.85zM409.75 71.3h0.85v0.85h-0.85zM411.99 70.45h0.85v0.85h-0.85zM404.2 67.33h0.85v0.85h-0.85zM400.78 71.12h0.85v0.85h-0.85zM407.2 71.84h0.85v0.85h-0.85zM406.66 65.51h0.85v0.85h-0.85zM404.16 68.94h0.85v0.85h-0.85zM406.03 71.69h0.85v0.85h-0.85zM410.17 70.38h0.85v0.85h-0.85zM398.7 66.81h0.85v0.85h-0.85zM398.47 67.51h0.85v0.85h-0.85zM401.55 70.25h0.85v0.85h-0.85zM404.77 72.64h0.85v0.85h-0.85zM409.06 68.36h0.85v0.85h-0.85zM408.62 69.64h0.85v0.85h-0.85zM407 73.28h0.85v0.85h-0.85zM401.72 69.42h0.85v0.85h-0.85zM410.57 67.52h0.85v0.85h-0.85zM406.21 69.96h0.85v0.85h-0.85zM404.13 66.03h0.85v0.85h-0.85zM403.24 66.92h0.85v0.85h-0.85zM409.06 70.28h0.85v0.85h-0.85zM407.81 66.36h0.85v0.85h-0.85zM407.15 69.99h0.85v0.85h-0.85zM408.96 67.63h0.85v0.85h-0.85zM408.17 73.34h0.85v0.85h-0.85zM411.44 67.07h0.85v0.85h-0.85zM401.8 65.61h0.85v0.85h-0.85zM408.67 71.22h0.85v0.85h-0.85zM406.63 67.24h0.85v0.85h-0.85zM409.63 73.98h0.85v0.85h-0.85zM405.39 69.27h0.85v0.85h-0.85zM409.42 70.98h0.85v0.85h-0.85zM409.93 68.5h0.85v0.85h-0.85zM406.62 68.68h0.85v0.85h-0.85zM403.62 68.79h0.85v0.85h-0.85zM404.57 70.98h0.85v0.85h-0.85zM404.5 69.79h0.85v0.85h-0.85zM402.84 66.26h0.85v0.85h-0.85zM410.21 66.92h0.85v0.85h-0.85zM411.48 72.16h0.85v0.85h-0.85zM404.13 69.66h0.85v0.85h-0.85zM404.91 67.96h0.85v0.85h-0.85zM409.63 69.25h0.85v0.85h-0.85zM408.67 67.73h0.85v0.85h-0.85zM403.23 73.23h0.85v0.85h-0.85zM404.57 66.61h0.85v0.85h-0.85zM404.94 72.46h0.85v0.85h-0.85zM404.97 67.65h0.85v0.85h-0.85zM407.6 72.28h0.85v0.85h-0.85zM404.82 68.74h0.85v0.85h-0.85zM404.88 74.35h0.85v0.85h-0.85zM405.02 70.71h0.85v0.85h-0.85zM398.8 70.08h0.85v0.85h-0.85zM405.68 68.74h0.85v0.85h-0.85zM404.16 65.89h0.85v0.85h-0.85zM400.6 70.06h0.85v0.85h-0.85zM403.4 69.36h0.85v0.85h-0.85zM404.91 68.22h0.85v0.85h-0.85zM403.11 74.65h0.85v0.85h-0.85zM401.87 68.22h0.85v0.85h-0.85zM404.53 66.47h0.85v0.85h-0.85zM402.35 71.95h0.85v0.85h-0.85zM408.57 69.96h0.85v0.85h-0.85zM409.57 67.39h0.85v0.85h-0.85zM409.07 74.18h0.85v0.85h-0.85zM404.26 74.51h0.85v0.85h-0.85zM402.85 66.52h0.85v0.85h-0.85zM405.36 67.41h0.85v0.85h-0.85zM407.61 66.6h0.85v0.85h-0.85zM405.78 64.29h0.85v0.85h-0.85zM405.4 72.46h0.85v0.85h-0.85zM404.64 70.45h0.85v0.85h-0.85zM409.1 66.62h0.85v0.85h-0.85zM401.32 69.82h0.85v0.85h-0.85zM406.42 68.88h0.85v0.85h-0.85zM402.32 72.9h0.85v0.85h-0.85zM401.68 68.9h0.85v0.85h-0.85zM405.37 71.57h0.85v0.85h-0.85zM404.04 67.37h0.85v0.85h-0.85zM412.14 67.31h0.85v0.85h-0.85zM408.14 69.18h0.85v0.85h-0.85zM403.94 69.48h0.85v0.85h-0.85zM404.67 70.45h0.85v0.85h-0.85zM405.75 66.97h0.85v0.85h-0.85zM404.23 75.95h0.85v0.85h-0.85zM411.59 71.34h0.85v0.85h-0.85z" fill="#e0402c" fill-opacity="0.85"/>
<rect x="380" y="33.6" width="48.6" height="44.4" fill="none" stroke="#111" stroke-width="1.5"/>
<text x="403.6" y="29.2" font-size="7.6" text-anchor="middle" fill="#333">LT&#946;</text>
<line x1="378.2" y1="39" x2="380" y2="39" stroke="#111" stroke-width="0.9"/>
<text x="377.7" y="40.9" font-size="5.3" text-anchor="end" fill="#444">20</text>
<line x1="378.2" y1="46.6" x2="380" y2="46.6" stroke="#111" stroke-width="0.9"/>
<text x="377.7" y="48.5" font-size="5.3" text-anchor="end" fill="#444">10</text>
<line x1="378.2" y1="54.2" x2="380" y2="54.2" stroke="#111" stroke-width="0.9"/>
<text x="377.7" y="56.1" font-size="5.3" text-anchor="end" fill="#444">0</text>
<line x1="378.2" y1="61.8" x2="380" y2="61.8" stroke="#111" stroke-width="0.9"/>
<text x="377.7" y="63.7" font-size="5.3" text-anchor="end" fill="#444">-10</text>
<line x1="378.2" y1="69.5" x2="380" y2="69.5" stroke="#111" stroke-width="0.9"/>
<text x="377.7" y="71.4" font-size="5.3" text-anchor="end" fill="#444">-20</text>
<line x1="378.2" y1="77" x2="380" y2="77" stroke="#111" stroke-width="0.9"/>
<text x="377.7" y="78.9" font-size="5.3" text-anchor="end" fill="#444">-30</text>
<line x1="388.8" y1="78" x2="388.8" y2="79.8" stroke="#111" stroke-width="0.9"/>
<text x="388.8" y="86.3" font-size="5.4" text-anchor="middle" fill="#444">-20</text>
<line x1="398.3" y1="78" x2="398.3" y2="79.8" stroke="#111" stroke-width="0.9"/>
<text x="398.3" y="86.3" font-size="5.4" text-anchor="middle" fill="#444">-10</text>
<line x1="408" y1="78" x2="408" y2="79.8" stroke="#111" stroke-width="0.9"/>
<text x="408" y="86.3" font-size="5.4" text-anchor="middle" fill="#444">0</text>
<line x1="417.8" y1="78" x2="417.8" y2="79.8" stroke="#111" stroke-width="0.9"/>
<text x="417.8" y="86.3" font-size="5.4" text-anchor="middle" fill="#444">10</text>
<line x1="427.2" y1="78" x2="427.2" y2="79.8" stroke="#111" stroke-width="0.9"/>
<text x="427.2" y="86.3" font-size="5.4" text-anchor="middle" fill="#444">20</text>
<path d="M481.57 46.63h0.85v0.85h-0.85zM489.27 45.85h0.85v0.85h-0.85zM474.56 52.1h0.85v0.85h-0.85zM473.59 43.96h0.85v0.85h-0.85zM489.67 39.48h0.85v0.85h-0.85zM479.59 48.96h0.85v0.85h-0.85zM481.75 40.31h0.85v0.85h-0.85zM478.51 46.47h0.85v0.85h-0.85zM492.83 53.82h0.85v0.85h-0.85zM474.99 53.1h0.85v0.85h-0.85zM484.38 47.68h0.85v0.85h-0.85zM478.41 46.8h0.85v0.85h-0.85zM469.75 44.84h0.85v0.85h-0.85zM486.26 56.24h0.85v0.85h-0.85zM492.38 46.24h0.85v0.85h-0.85zM478.23 41.37h0.85v0.85h-0.85zM485.51 39.2h0.85v0.85h-0.85zM473.09 42.24h0.85v0.85h-0.85zM482.67 52.9h0.85v0.85h-0.85zM473.9 58.2h0.85v0.85h-0.85zM481.1 43.73h0.85v0.85h-0.85zM482.36 48.22h0.85v0.85h-0.85zM485.57 50.19h0.85v0.85h-0.85zM475.78 52.63h0.85v0.85h-0.85zM485.1 42.81h0.85v0.85h-0.85zM475.04 43.87h0.85v0.85h-0.85zM478.59 55.07h0.85v0.85h-0.85zM476.31 48.72h0.85v0.85h-0.85zM484.87 53.62h0.85v0.85h-0.85zM482.16 42.59h0.85v0.85h-0.85zM489.1 57.18h0.85v0.85h-0.85zM489.39 50.58h0.85v0.85h-0.85zM483.19 51.77h0.85v0.85h-0.85zM470.02 52.77h0.85v0.85h-0.85zM473.55 50.62h0.85v0.85h-0.85zM473.31 52.23h0.85v0.85h-0.85zM481.32 51.09h0.85v0.85h-0.85zM474.01 46.73h0.85v0.85h-0.85zM479.66 46.73h0.85v0.85h-0.85zM477.14 43.5h0.85v0.85h-0.85zM485.12 46.2h0.85v0.85h-0.85zM474.62 50.31h0.85v0.85h-0.85zM474.64 47.35h0.85v0.85h-0.85zM476.64 43.23h0.85v0.85h-0.85zM478.54 43.79h0.85v0.85h-0.85zM471.7 50.23h0.85v0.85h-0.85zM478.07 40.28h0.85v0.85h-0.85zM477.42 49.33h0.85v0.85h-0.85zM482.9 50.35h0.85v0.85h-0.85zM481.74 51.58h0.85v0.85h-0.85zM476.76 43.93h0.85v0.85h-0.85zM484.13 46.06h0.85v0.85h-0.85zM480.11 51.87h0.85v0.85h-0.85zM486.29 55.01h0.85v0.85h-0.85zM475.48 46.28h0.85v0.85h-0.85zM483.75 40.46h0.85v0.85h-0.85zM471.68 51.64h0.85v0.85h-0.85zM475.97 43.25h0.85v0.85h-0.85zM485.39 51.22h0.85v0.85h-0.85zM486.16 46.49h0.85v0.85h-0.85zM478.13 46.45h0.85v0.85h-0.85zM482.03 37.19h0.85v0.85h-0.85zM475.45 52.18h0.85v0.85h-0.85zM474.87 47.95h0.85v0.85h-0.85zM480.88 51.16h0.85v0.85h-0.85zM476.9 42.11h0.85v0.85h-0.85zM480.79 47.23h0.85v0.85h-0.85zM486.55 42.76h0.85v0.85h-0.85zM474.72 44.19h0.85v0.85h-0.85zM476.63 49.74h0.85v0.85h-0.85zM474.83 46.96h0.85v0.85h-0.85zM489.84 56.18h0.85v0.85h-0.85zM467.7 43.1h0.85v0.85h-0.85zM477.59 55.4h0.85v0.85h-0.85zM477.87 58.75h0.85v0.85h-0.85zM482.48 56.16h0.85v0.85h-0.85zM474.36 46.61h0.85v0.85h-0.85zM486.83 51.43h0.85v0.85h-0.85zM467.67 46.8h0.85v0.85h-0.85zM481.25 51.75h0.85v0.85h-0.85zM475.85 57.82h0.85v0.85h-0.85zM481.07 56.22h0.85v0.85h-0.85zM482.74 48.77h0.85v0.85h-0.85zM477.95 41.93h0.85v0.85h-0.85zM485.8 52.44h0.85v0.85h-0.85zM486.26 46.25h0.85v0.85h-0.85zM473.4 46.24h0.85v0.85h-0.85zM477.99 48.24h0.85v0.85h-0.85zM486.59 43.33h0.85v0.85h-0.85zM476.84 52.07h0.85v0.85h-0.85zM483.56 43.69h0.85v0.85h-0.85zM473.18 43.99h0.85v0.85h-0.85zM480.54 49.69h0.85v0.85h-0.85zM479.63 44.96h0.85v0.85h-0.85zM478.85 47.88h0.85v0.85h-0.85zM484 48.76h0.85v0.85h-0.85zM474.71 41.93h0.85v0.85h-0.85zM489.9 47.84h0.85v0.85h-0.85zM478.91 48.17h0.85v0.85h-0.85zM487.55 46.6h0.85v0.85h-0.85zM481.24 47.02h0.85v0.85h-0.85zM483.91 42.8h0.85v0.85h-0.85zM481.43 53.92h0.85v0.85h-0.85zM487.93 51.67h0.85v0.85h-0.85zM482.03 56.88h0.85v0.85h-0.85zM484.76 55.94h0.85v0.85h-0.85zM472.13 42.33h0.85v0.85h-0.85zM485.38 46.86h0.85v0.85h-0.85zM477.22 43.13h0.85v0.85h-0.85zM489.91 41.81h0.85v0.85h-0.85zM480.78 40.71h0.85v0.85h-0.85zM478.93 60.55h0.85v0.85h-0.85zM473.4 57.19h0.85v0.85h-0.85zM474.42 38.59h0.85v0.85h-0.85zM482.39 42.44h0.85v0.85h-0.85zM470.49 54.43h0.85v0.85h-0.85zM475.26 42.52h0.85v0.85h-0.85zM481.2 47.28h0.85v0.85h-0.85zM487.52 48.83h0.85v0.85h-0.85zM490.62 54.51h0.85v0.85h-0.85zM491.87 54.42h0.85v0.85h-0.85zM480.57 51.28h0.85v0.85h-0.85zM480.24 39.84h0.85v0.85h-0.85zM472.31 52.34h0.85v0.85h-0.85zM471.6 47.97h0.85v0.85h-0.85zM473.24 49.67h0.85v0.85h-0.85zM478.79 45.76h0.85v0.85h-0.85zM480.59 41.28h0.85v0.85h-0.85zM478.15 50.33h0.85v0.85h-0.85zM487.03 52.14h0.85v0.85h-0.85zM489.87 40.58h0.85v0.85h-0.85zM484.56 56.85h0.85v0.85h-0.85zM482.71 42.28h0.85v0.85h-0.85zM482.73 45.49h0.85v0.85h-0.85zM475.85 54.11h0.85v0.85h-0.85zM478.93 42.23h0.85v0.85h-0.85zM475.64 59h0.85v0.85h-0.85zM474.52 51.99h0.85v0.85h-0.85zM481.28 54.67h0.85v0.85h-0.85zM478.26 43.17h0.85v0.85h-0.85zM475.87 42.71h0.85v0.85h-0.85zM477.99 55.17h0.85v0.85h-0.85zM484.44 47.32h0.85v0.85h-0.85zM484.21 49.79h0.85v0.85h-0.85zM487.55 57.3h0.85v0.85h-0.85zM478.03 48.12h0.85v0.85h-0.85zM478.91 54.97h0.85v0.85h-0.85zM482.64 52.58h0.85v0.85h-0.85zM486.04 44.86h0.85v0.85h-0.85zM480.96 55.85h0.85v0.85h-0.85zM486.21 52.73h0.85v0.85h-0.85zM478.26 46.36h0.85v0.85h-0.85zM474.46 46.85h0.85v0.85h-0.85zM479.69 40.52h0.85v0.85h-0.85zM487.78 44.16h0.85v0.85h-0.85zM481.77 51.59h0.85v0.85h-0.85zM476.47 38.47h0.85v0.85h-0.85zM486.48 50.54h0.85v0.85h-0.85zM478.45 54.48h0.85v0.85h-0.85zM486.01 43.12h0.85v0.85h-0.85zM479.58 38.74h0.85v0.85h-0.85zM478.38 55.99h0.85v0.85h-0.85zM474.58 52.81h0.85v0.85h-0.85zM470.17 46.71h0.85v0.85h-0.85zM486.32 57.66h0.85v0.85h-0.85zM483.1 52.43h0.85v0.85h-0.85zM480.55 49.73h0.85v0.85h-0.85zM480.3 44.97h0.85v0.85h-0.85zM480.01 47.63h0.85v0.85h-0.85zM484.52 52.02h0.85v0.85h-0.85zM486.57 51.51h0.85v0.85h-0.85zM473.72 55.89h0.85v0.85h-0.85zM482.29 45.43h0.85v0.85h-0.85zM492.44 42.38h0.85v0.85h-0.85zM472.42 45.57h0.85v0.85h-0.85zM482.86 52.64h0.85v0.85h-0.85zM480.83 51.95h0.85v0.85h-0.85zM475.49 45.03h0.85v0.85h-0.85zM480.97 41h0.85v0.85h-0.85zM481.35 46.17h0.85v0.85h-0.85zM484.61 42.81h0.85v0.85h-0.85zM476.64 45.24h0.85v0.85h-0.85zM477.71 42.88h0.85v0.85h-0.85zM478.41 40.97h0.85v0.85h-0.85zM483.64 51.97h0.85v0.85h-0.85zM480.02 47.29h0.85v0.85h-0.85zM474.27 43.1h0.85v0.85h-0.85zM478.68 43.4h0.85v0.85h-0.85zM472.4 49.22h0.85v0.85h-0.85zM479.99 46.11h0.85v0.85h-0.85zM474.78 48.02h0.85v0.85h-0.85zM475.57 45.98h0.85v0.85h-0.85zM481.33 52.23h0.85v0.85h-0.85zM485.07 45.02h0.85v0.85h-0.85zM488.03 42.03h0.85v0.85h-0.85zM478.98 55.4h0.85v0.85h-0.85zM477.76 46.29h0.85v0.85h-0.85zM472.16 47.52h0.85v0.85h-0.85zM477.33 44.22h0.85v0.85h-0.85zM487.95 44.08h0.85v0.85h-0.85zM491.2 52.88h0.85v0.85h-0.85zM484.3 45.12h0.85v0.85h-0.85zM476.78 37.47h0.85v0.85h-0.85zM481.9 46.85h0.85v0.85h-0.85zM482.65 44.67h0.85v0.85h-0.85zM483.29 40.18h0.85v0.85h-0.85zM465.79 50.9h0.85v0.85h-0.85zM488.51 46.42h0.85v0.85h-0.85zM479.05 39.96h0.85v0.85h-0.85zM473.57 52.18h0.85v0.85h-0.85zM475.3 48.11h0.85v0.85h-0.85zM479.1 59.13h0.85v0.85h-0.85zM485.93 41.14h0.85v0.85h-0.85zM476.96 42.08h0.85v0.85h-0.85zM471.04 44.6h0.85v0.85h-0.85zM487.3 48.58h0.85v0.85h-0.85zM484.5 47.58h0.85v0.85h-0.85zM477.34 48.76h0.85v0.85h-0.85zM479.61 58.78h0.85v0.85h-0.85zM491.83 50.36h0.85v0.85h-0.85zM484.03 37.49h0.85v0.85h-0.85zM474.89 52.74h0.85v0.85h-0.85zM488.06 46.15h0.85v0.85h-0.85zM478.63 45.83h0.85v0.85h-0.85zM485.29 48.43h0.85v0.85h-0.85zM489.91 54.76h0.85v0.85h-0.85zM478.08 45h0.85v0.85h-0.85zM478.56 43.53h0.85v0.85h-0.85zM477.36 47.92h0.85v0.85h-0.85zM485.9 39.71h0.85v0.85h-0.85zM470.97 44.11h0.85v0.85h-0.85zM478.11 50.78h0.85v0.85h-0.85zM474.96 56.52h0.85v0.85h-0.85zM476.65 47.13h0.85v0.85h-0.85zM480.45 54.68h0.85v0.85h-0.85zM482.03 48.45h0.85v0.85h-0.85zM476.56 49.23h0.85v0.85h-0.85zM482.71 46.4h0.85v0.85h-0.85zM479.95 38.29h0.85v0.85h-0.85zM476.63 54.74h0.85v0.85h-0.85zM489.34 47.91h0.85v0.85h-0.85zM477.4 53.77h0.85v0.85h-0.85zM476.07 55.79h0.85v0.85h-0.85zM487.63 42.51h0.85v0.85h-0.85zM478.63 41.71h0.85v0.85h-0.85zM481.88 46.13h0.85v0.85h-0.85zM470.33 42.59h0.85v0.85h-0.85zM481.68 40.01h0.85v0.85h-0.85zM487.11 50.76h0.85v0.85h-0.85zM478.91 55.94h0.85v0.85h-0.85zM474.06 52.04h0.85v0.85h-0.85zM471.26 46.53h0.85v0.85h-0.85zM484.24 45.39h0.85v0.85h-0.85zM479.33 51.85h0.85v0.85h-0.85zM489.99 55.41h0.85v0.85h-0.85zM483.06 46.89h0.85v0.85h-0.85zM470.66 57.67h0.85v0.85h-0.85zM485.74 48.08h0.85v0.85h-0.85zM484.68 50.03h0.85v0.85h-0.85zM478.82 48.29h0.85v0.85h-0.85zM479.83 54.66h0.85v0.85h-0.85zM478.37 45.34h0.85v0.85h-0.85zM484.32 51.82h0.85v0.85h-0.85zM482.9 49.85h0.85v0.85h-0.85zM489.65 54.39h0.85v0.85h-0.85zM481.45 47.16h0.85v0.85h-0.85zM484.36 38.09h0.85v0.85h-0.85zM476.68 44.44h0.85v0.85h-0.85zM481.19 46.2h0.85v0.85h-0.85zM482.69 60.6h0.85v0.85h-0.85zM480.05 46.56h0.85v0.85h-0.85zM488.07 52.83h0.85v0.85h-0.85zM486.08 54.92h0.85v0.85h-0.85zM477.71 44.69h0.85v0.85h-0.85zM475.39 48.87h0.85v0.85h-0.85zM486.58 42.56h0.85v0.85h-0.85zM476.59 40.99h0.85v0.85h-0.85zM493.05 52.68h0.85v0.85h-0.85zM481.49 41.65h0.85v0.85h-0.85zM473.38 44.77h0.85v0.85h-0.85zM480.28 41.36h0.85v0.85h-0.85zM478.59 54.98h0.85v0.85h-0.85zM480.15 48.84h0.85v0.85h-0.85zM466.47 46.82h0.85v0.85h-0.85zM479.12 44.52h0.85v0.85h-0.85zM471.08 47.91h0.85v0.85h-0.85zM473.42 45.31h0.85v0.85h-0.85zM469.71 47.79h0.85v0.85h-0.85zM485.97 43.7h0.85v0.85h-0.85zM482.17 40h0.85v0.85h-0.85zM483.82 51.27h0.85v0.85h-0.85zM477.54 53.15h0.85v0.85h-0.85zM474.37 48.56h0.85v0.85h-0.85zM490.99 48.18h0.85v0.85h-0.85zM472.77 54.62h0.85v0.85h-0.85zM483.54 46.79h0.85v0.85h-0.85zM470.2 56.43h0.85v0.85h-0.85zM481.96 43.64h0.85v0.85h-0.85zM487.54 56.33h0.85v0.85h-0.85zM474.59 50.94h0.85v0.85h-0.85z" fill="#9a9a9a" fill-opacity="0.55"/>
<path d="M483.07 54.7h0.85v0.85h-0.85zM488.3 56.2h0.85v0.85h-0.85zM487.2 56.98h0.85v0.85h-0.85zM487.32 58.78h0.85v0.85h-0.85zM487.74 59.41h0.85v0.85h-0.85zM488.93 60.36h0.85v0.85h-0.85zM485.44 56.44h0.85v0.85h-0.85zM487.44 55.16h0.85v0.85h-0.85zM492.08 60.83h0.85v0.85h-0.85zM489.75 54.07h0.85v0.85h-0.85zM486.17 57.73h0.85v0.85h-0.85zM487.57 55.88h0.85v0.85h-0.85zM491.49 59.12h0.85v0.85h-0.85zM486.8 56.3h0.85v0.85h-0.85zM485.88 58.12h0.85v0.85h-0.85zM489 57.9h0.85v0.85h-0.85zM486.86 56.07h0.85v0.85h-0.85zM492.02 59.51h0.85v0.85h-0.85zM490.73 55.88h0.85v0.85h-0.85zM487.63 58.56h0.85v0.85h-0.85zM490.35 59.67h0.85v0.85h-0.85zM488.63 58.48h0.85v0.85h-0.85zM488.84 56.19h0.85v0.85h-0.85zM489.11 57.89h0.85v0.85h-0.85zM488.32 59.24h0.85v0.85h-0.85zM488.34 56.65h0.85v0.85h-0.85zM489.54 55.75h0.85v0.85h-0.85zM489.09 56.22h0.85v0.85h-0.85zM488.51 57.97h0.85v0.85h-0.85zM488.2 54.91h0.85v0.85h-0.85zM488.33 56.13h0.85v0.85h-0.85zM486.47 57.77h0.85v0.85h-0.85zM491.18 56.81h0.85v0.85h-0.85zM488.46 60.6h0.85v0.85h-0.85zM490.03 59.36h0.85v0.85h-0.85zM485.55 59.37h0.85v0.85h-0.85zM488.27 54.27h0.85v0.85h-0.85zM487.46 57.59h0.85v0.85h-0.85zM486.19 53.48h0.85v0.85h-0.85zM492.3 60.61h0.85v0.85h-0.85zM490.04 57.53h0.85v0.85h-0.85zM483.96 54.14h0.85v0.85h-0.85zM491.51 58.38h0.85v0.85h-0.85zM483.28 53.67h0.85v0.85h-0.85zM486.82 56.56h0.85v0.85h-0.85zM485.26 54.77h0.85v0.85h-0.85zM485.29 57.35h0.85v0.85h-0.85zM487.02 58.54h0.85v0.85h-0.85zM489.55 53.86h0.85v0.85h-0.85zM482.16 54.41h0.85v0.85h-0.85z" fill="#b08080" fill-opacity="0.6"/>
<path d="M461.49 58.04h0.85v0.85h-0.85zM459.14 54.1h0.85v0.85h-0.85zM457.48 56.84h0.85v0.85h-0.85zM463.22 56.63h0.85v0.85h-0.85zM457.5 55.24h0.85v0.85h-0.85zM461.92 58.09h0.85v0.85h-0.85zM453.34 57.35h0.85v0.85h-0.85zM456.55 54.16h0.85v0.85h-0.85zM454.4 54.87h0.85v0.85h-0.85zM455.44 55.09h0.85v0.85h-0.85zM459.43 57.12h0.85v0.85h-0.85zM457.9 54.19h0.85v0.85h-0.85zM457.93 55.43h0.85v0.85h-0.85zM453.64 55.94h0.85v0.85h-0.85zM454.97 53.58h0.85v0.85h-0.85zM463.4 58.4h0.85v0.85h-0.85zM463.34 57.27h0.85v0.85h-0.85zM457.82 56.22h0.85v0.85h-0.85zM454.81 56.92h0.85v0.85h-0.85zM459.9 56.21h0.85v0.85h-0.85zM453.46 55.57h0.85v0.85h-0.85zM463.63 59.12h0.85v0.85h-0.85zM461.72 56.41h0.85v0.85h-0.85zM459.34 57.3h0.85v0.85h-0.85zM459.42 57.98h0.85v0.85h-0.85zM457.48 53.14h0.85v0.85h-0.85zM454.77 56.81h0.85v0.85h-0.85zM462.26 56.96h0.85v0.85h-0.85zM460.63 56.84h0.85v0.85h-0.85zM459.64 55.95h0.85v0.85h-0.85zM457.6 57.92h0.85v0.85h-0.85zM458.24 56.34h0.85v0.85h-0.85zM462.43 58.32h0.85v0.85h-0.85zM457.82 56.68h0.85v0.85h-0.85zM455.98 56.26h0.85v0.85h-0.85zM459.98 56.64h0.85v0.85h-0.85zM459.46 57.06h0.85v0.85h-0.85zM459.36 55.88h0.85v0.85h-0.85zM456.19 55.78h0.85v0.85h-0.85zM463.89 56.88h0.85v0.85h-0.85zM457.18 55.59h0.85v0.85h-0.85zM455.38 56.65h0.85v0.85h-0.85zM455.91 57.3h0.85v0.85h-0.85zM461.65 57.65h0.85v0.85h-0.85zM462.16 56.83h0.85v0.85h-0.85zM453.78 55.68h0.85v0.85h-0.85zM461.24 54.72h0.85v0.85h-0.85zM455.17 57.45h0.85v0.85h-0.85zM460.1 58.49h0.85v0.85h-0.85zM461.02 56.88h0.85v0.85h-0.85zM460.16 57.82h0.85v0.85h-0.85zM458.99 56.21h0.85v0.85h-0.85zM460.04 56.22h0.85v0.85h-0.85zM466.41 56.5h0.85v0.85h-0.85zM454.73 54.14h0.85v0.85h-0.85zM462.25 56.41h0.85v0.85h-0.85zM459.55 56.29h0.85v0.85h-0.85zM460.14 54.69h0.85v0.85h-0.85zM459.4 55.78h0.85v0.85h-0.85zM462.18 57.79h0.85v0.85h-0.85zM455.44 54.69h0.85v0.85h-0.85zM460.52 58.34h0.85v0.85h-0.85zM461.37 56.63h0.85v0.85h-0.85zM457.61 54.98h0.85v0.85h-0.85zM455.83 56.82h0.85v0.85h-0.85zM459.82 57h0.85v0.85h-0.85zM458.53 57.28h0.85v0.85h-0.85zM461.5 56.07h0.85v0.85h-0.85zM462.03 55.66h0.85v0.85h-0.85zM464.59 55.51h0.85v0.85h-0.85zM458.38 54.94h0.85v0.85h-0.85zM458.91 58.28h0.85v0.85h-0.85zM456.45 58.56h0.85v0.85h-0.85zM463.22 57.62h0.85v0.85h-0.85zM457.1 57.46h0.85v0.85h-0.85zM461.95 56.86h0.85v0.85h-0.85zM455.07 55.65h0.85v0.85h-0.85zM460.47 59.03h0.85v0.85h-0.85zM453.69 55.97h0.85v0.85h-0.85zM462.98 56.14h0.85v0.85h-0.85zM457.89 54.69h0.85v0.85h-0.85zM461.2 57.94h0.85v0.85h-0.85zM460.78 57.09h0.85v0.85h-0.85zM462.06 56.76h0.85v0.85h-0.85zM461.05 57.9h0.85v0.85h-0.85zM462.88 57.74h0.85v0.85h-0.85zM459.16 57.49h0.85v0.85h-0.85zM454.68 53.49h0.85v0.85h-0.85zM463.91 57.38h0.85v0.85h-0.85zM455.96 55.28h0.85v0.85h-0.85zM458.57 56.54h0.85v0.85h-0.85zM456.54 57.51h0.85v0.85h-0.85zM455.44 58.27h0.85v0.85h-0.85zM461.38 54.54h0.85v0.85h-0.85zM455.31 56.06h0.85v0.85h-0.85zM459.95 56.05h0.85v0.85h-0.85zM459.05 56.73h0.85v0.85h-0.85zM455.56 56.1h0.85v0.85h-0.85zM466.07 56.61h0.85v0.85h-0.85zM455.83 56.96h0.85v0.85h-0.85zM462.94 58.48h0.85v0.85h-0.85zM457.13 56.14h0.85v0.85h-0.85zM459.7 56.31h0.85v0.85h-0.85zM460.05 58.13h0.85v0.85h-0.85zM460.71 56.73h0.85v0.85h-0.85zM458.09 58.82h0.85v0.85h-0.85zM454.91 58.67h0.85v0.85h-0.85zM461.27 56.94h0.85v0.85h-0.85zM456.42 58.65h0.85v0.85h-0.85zM462.58 58.25h0.85v0.85h-0.85zM459.41 56.14h0.85v0.85h-0.85zM456.8 56.29h0.85v0.85h-0.85zM460.58 57.44h0.85v0.85h-0.85zM458.87 54.67h0.85v0.85h-0.85zM460.64 57.56h0.85v0.85h-0.85zM465.36 58.67h0.85v0.85h-0.85zM459.31 54.97h0.85v0.85h-0.85zM459.5 57.6h0.85v0.85h-0.85zM460.33 58.51h0.85v0.85h-0.85zM456 55.13h0.85v0.85h-0.85zM459.81 54.93h0.85v0.85h-0.85zM456.9 58.1h0.85v0.85h-0.85zM459.97 56.5h0.85v0.85h-0.85zM457.28 56.32h0.85v0.85h-0.85zM459.14 55.04h0.85v0.85h-0.85zM461.71 55.13h0.85v0.85h-0.85zM463.05 56.6h0.85v0.85h-0.85zM460.09 55.46h0.85v0.85h-0.85zM464.36 59.15h0.85v0.85h-0.85zM465.36 58.62h0.85v0.85h-0.85zM463.32 56.28h0.85v0.85h-0.85zM463.14 56.48h0.85v0.85h-0.85zM459.15 54.65h0.85v0.85h-0.85zM459.14 57.07h0.85v0.85h-0.85zM459.06 54.99h0.85v0.85h-0.85zM461.66 58.13h0.85v0.85h-0.85zM458.62 57.53h0.85v0.85h-0.85zM462.28 55.61h0.85v0.85h-0.85zM459.29 53.98h0.85v0.85h-0.85zM455.76 56.63h0.85v0.85h-0.85zM456.25 56.65h0.85v0.85h-0.85zM460.55 53.88h0.85v0.85h-0.85zM457.25 58.35h0.85v0.85h-0.85zM459.06 56.68h0.85v0.85h-0.85zM457.16 54.03h0.85v0.85h-0.85zM458.63 55.25h0.85v0.85h-0.85zM459.75 53.93h0.85v0.85h-0.85zM463.06 59.44h0.85v0.85h-0.85zM456.64 56.62h0.85v0.85h-0.85zM456.08 57.27h0.85v0.85h-0.85zM456.45 55.94h0.85v0.85h-0.85zM463.01 57.79h0.85v0.85h-0.85zM458.31 54.3h0.85v0.85h-0.85zM453.85 57.44h0.85v0.85h-0.85zM460.63 56.81h0.85v0.85h-0.85zM462.92 57.25h0.85v0.85h-0.85zM456.8 56.05h0.85v0.85h-0.85zM458.74 56.44h0.85v0.85h-0.85zM459.94 56.29h0.85v0.85h-0.85zM457.11 54.86h0.85v0.85h-0.85zM453.27 55.06h0.85v0.85h-0.85zM454.66 53.32h0.85v0.85h-0.85zM456.5 53.34h0.85v0.85h-0.85zM463.09 58.8h0.85v0.85h-0.85zM455.63 58.86h0.85v0.85h-0.85zM459.29 55.16h0.85v0.85h-0.85zM453.65 55.39h0.85v0.85h-0.85zM462.55 57.62h0.85v0.85h-0.85zM454.6 54.96h0.85v0.85h-0.85zM456.45 57.73h0.85v0.85h-0.85zM458.92 55.13h0.85v0.85h-0.85zM456.56 53.42h0.85v0.85h-0.85zM456.22 57.35h0.85v0.85h-0.85zM453.02 55.93h0.85v0.85h-0.85zM458.52 57.57h0.85v0.85h-0.85zM455.28 57.24h0.85v0.85h-0.85zM453.94 55.75h0.85v0.85h-0.85zM458.35 56.58h0.85v0.85h-0.85zM455.77 57.24h0.85v0.85h-0.85zM456.15 55.3h0.85v0.85h-0.85zM461.29 57.01h0.85v0.85h-0.85zM456.4 57.85h0.85v0.85h-0.85zM460.46 58.13h0.85v0.85h-0.85zM458.23 58.17h0.85v0.85h-0.85zM457.78 54.77h0.85v0.85h-0.85zM459.27 54.6h0.85v0.85h-0.85zM462.82 58.06h0.85v0.85h-0.85zM453.72 56h0.85v0.85h-0.85zM461.76 56.39h0.85v0.85h-0.85zM460.44 55.89h0.85v0.85h-0.85zM458.82 56.36h0.85v0.85h-0.85zM460.73 55.4h0.85v0.85h-0.85zM455.41 56.45h0.85v0.85h-0.85zM457.33 56.99h0.85v0.85h-0.85zM457.69 54.49h0.85v0.85h-0.85zM461.29 57.19h0.85v0.85h-0.85zM461.38 56.36h0.85v0.85h-0.85zM457.65 58.07h0.85v0.85h-0.85zM453.37 58.13h0.85v0.85h-0.85zM460.65 56.65h0.85v0.85h-0.85z" fill="#e0402c" fill-opacity="0.85"/>
<path d="M474.82 70.68h0.85v0.85h-0.85zM471.94 69.77h0.85v0.85h-0.85zM471.32 63.86h0.85v0.85h-0.85zM475.19 69.28h0.85v0.85h-0.85zM476.69 70.55h0.85v0.85h-0.85zM476.86 71.2h0.85v0.85h-0.85zM470.98 72.39h0.85v0.85h-0.85zM470.3 70.91h0.85v0.85h-0.85zM477.59 71.82h0.85v0.85h-0.85zM479.66 65.14h0.85v0.85h-0.85zM475.78 70.29h0.85v0.85h-0.85zM478.71 66.52h0.85v0.85h-0.85zM474.6 67.97h0.85v0.85h-0.85zM473.97 68.59h0.85v0.85h-0.85zM474.01 64.07h0.85v0.85h-0.85zM474.39 69.19h0.85v0.85h-0.85zM472.19 67.18h0.85v0.85h-0.85zM471.6 73.47h0.85v0.85h-0.85zM477.62 68.48h0.85v0.85h-0.85zM471.26 70.32h0.85v0.85h-0.85zM472.5 73.14h0.85v0.85h-0.85zM478.23 68.66h0.85v0.85h-0.85zM476.57 66.78h0.85v0.85h-0.85zM469.2 71.35h0.85v0.85h-0.85zM480 68.15h0.85v0.85h-0.85zM472.75 64h0.85v0.85h-0.85zM471.26 68.46h0.85v0.85h-0.85zM478.58 69.15h0.85v0.85h-0.85zM474.45 69.06h0.85v0.85h-0.85zM477.36 68.9h0.85v0.85h-0.85zM475.04 68.79h0.85v0.85h-0.85zM470.79 72.75h0.85v0.85h-0.85zM472.18 65.32h0.85v0.85h-0.85zM473.04 69.09h0.85v0.85h-0.85zM477.26 64.9h0.85v0.85h-0.85zM470.26 69.5h0.85v0.85h-0.85zM475.79 65.94h0.85v0.85h-0.85zM470.71 69.49h0.85v0.85h-0.85zM474.03 64.49h0.85v0.85h-0.85zM471.57 73.14h0.85v0.85h-0.85zM470.96 71.93h0.85v0.85h-0.85zM469.37 73.15h0.85v0.85h-0.85zM479.88 67.23h0.85v0.85h-0.85zM472.22 70.76h0.85v0.85h-0.85zM470.35 70.54h0.85v0.85h-0.85zM478.59 69.73h0.85v0.85h-0.85zM475.59 68.56h0.85v0.85h-0.85zM477.87 66.71h0.85v0.85h-0.85zM479.84 68.93h0.85v0.85h-0.85zM473.41 64.44h0.85v0.85h-0.85zM473.03 69.66h0.85v0.85h-0.85zM478.68 64.5h0.85v0.85h-0.85zM474.08 67.08h0.85v0.85h-0.85zM470.49 69.01h0.85v0.85h-0.85zM471.96 71.43h0.85v0.85h-0.85zM476.25 68.05h0.85v0.85h-0.85zM474.94 66.3h0.85v0.85h-0.85zM470.99 66.95h0.85v0.85h-0.85zM474.32 66.65h0.85v0.85h-0.85zM473.1 66.6h0.85v0.85h-0.85zM475.29 65.83h0.85v0.85h-0.85zM474.44 69.27h0.85v0.85h-0.85zM477.72 66.93h0.85v0.85h-0.85zM470.68 64.84h0.85v0.85h-0.85zM477.04 67.26h0.85v0.85h-0.85zM477.81 68.78h0.85v0.85h-0.85zM473.58 63.81h0.85v0.85h-0.85zM472.24 71.2h0.85v0.85h-0.85zM472.46 70.89h0.85v0.85h-0.85zM468.99 71.83h0.85v0.85h-0.85zM475.58 65.56h0.85v0.85h-0.85zM472.74 67.17h0.85v0.85h-0.85zM475.12 63.37h0.85v0.85h-0.85zM471.61 71.21h0.85v0.85h-0.85zM474.99 71.07h0.85v0.85h-0.85zM477.36 65.81h0.85v0.85h-0.85zM469.99 70.3h0.85v0.85h-0.85zM474.61 69.22h0.85v0.85h-0.85zM471.78 71.84h0.85v0.85h-0.85zM476.16 72.18h0.85v0.85h-0.85zM473.32 70.93h0.85v0.85h-0.85zM474.3 66.38h0.85v0.85h-0.85zM474.23 64.38h0.85v0.85h-0.85zM473.9 69.5h0.85v0.85h-0.85zM476.83 66.06h0.85v0.85h-0.85zM470.06 66.96h0.85v0.85h-0.85zM467.57 67.18h0.85v0.85h-0.85zM471.96 67.1h0.85v0.85h-0.85zM480.42 65.75h0.85v0.85h-0.85zM474.12 68.78h0.85v0.85h-0.85zM472.05 66.99h0.85v0.85h-0.85zM468.88 66.66h0.85v0.85h-0.85zM478.85 72.95h0.85v0.85h-0.85zM473.56 70.96h0.85v0.85h-0.85zM476.04 69.31h0.85v0.85h-0.85zM474.04 72.39h0.85v0.85h-0.85zM476.4 68.37h0.85v0.85h-0.85zM473.72 71.6h0.85v0.85h-0.85zM472.51 67h0.85v0.85h-0.85zM473.58 67.61h0.85v0.85h-0.85zM478.73 69.99h0.85v0.85h-0.85zM474.21 67.53h0.85v0.85h-0.85zM479.23 70.23h0.85v0.85h-0.85zM481.47 71.54h0.85v0.85h-0.85zM473.78 67.47h0.85v0.85h-0.85zM473.55 69.51h0.85v0.85h-0.85zM477.15 70.36h0.85v0.85h-0.85zM479.75 64.76h0.85v0.85h-0.85zM474.6 65.04h0.85v0.85h-0.85zM471.06 67.32h0.85v0.85h-0.85zM472.32 66.3h0.85v0.85h-0.85zM469.42 72.17h0.85v0.85h-0.85zM473.43 71.69h0.85v0.85h-0.85zM472.51 71.45h0.85v0.85h-0.85zM472.63 70.1h0.85v0.85h-0.85zM470.9 72.88h0.85v0.85h-0.85zM475.95 71.93h0.85v0.85h-0.85zM473.57 72.57h0.85v0.85h-0.85zM474.74 67.64h0.85v0.85h-0.85zM472.36 69.15h0.85v0.85h-0.85zM471.46 65.67h0.85v0.85h-0.85zM474.93 70.98h0.85v0.85h-0.85zM473.53 71.34h0.85v0.85h-0.85zM479.8 65.47h0.85v0.85h-0.85zM475.36 66.31h0.85v0.85h-0.85zM472.35 69.49h0.85v0.85h-0.85zM477.3 70.51h0.85v0.85h-0.85zM476.67 74.05h0.85v0.85h-0.85zM473.28 72.05h0.85v0.85h-0.85zM479.34 70.37h0.85v0.85h-0.85zM468.53 68.56h0.85v0.85h-0.85zM473.52 64.49h0.85v0.85h-0.85zM474.3 71.11h0.85v0.85h-0.85zM473.63 68.49h0.85v0.85h-0.85zM479.41 67.29h0.85v0.85h-0.85zM471.34 69.11h0.85v0.85h-0.85zM478.25 70.65h0.85v0.85h-0.85zM474.74 67.63h0.85v0.85h-0.85zM478.62 71.46h0.85v0.85h-0.85zM468.7 69.92h0.85v0.85h-0.85zM476.54 67.24h0.85v0.85h-0.85zM470.18 68.16h0.85v0.85h-0.85zM468.64 70.57h0.85v0.85h-0.85zM472.79 64.07h0.85v0.85h-0.85zM474.43 72.29h0.85v0.85h-0.85zM470.25 68.01h0.85v0.85h-0.85zM480.57 69.51h0.85v0.85h-0.85zM472.64 69.52h0.85v0.85h-0.85zM477.1 66.2h0.85v0.85h-0.85zM474.17 64.45h0.85v0.85h-0.85zM469.2 64.71h0.85v0.85h-0.85zM477.32 69.86h0.85v0.85h-0.85zM476.95 72.39h0.85v0.85h-0.85zM474.65 69.65h0.85v0.85h-0.85zM475.85 70.3h0.85v0.85h-0.85zM470.94 68.23h0.85v0.85h-0.85zM473.99 69.1h0.85v0.85h-0.85zM471.99 68.62h0.85v0.85h-0.85zM475.46 69.52h0.85v0.85h-0.85zM476.47 71.28h0.85v0.85h-0.85zM476.36 71.69h0.85v0.85h-0.85zM477.31 72.88h0.85v0.85h-0.85zM476.6 67.27h0.85v0.85h-0.85zM478.67 71.03h0.85v0.85h-0.85zM474.66 65.81h0.85v0.85h-0.85zM475.96 68.01h0.85v0.85h-0.85zM473.16 63.05h0.85v0.85h-0.85zM479.68 65.74h0.85v0.85h-0.85zM470.82 70.29h0.85v0.85h-0.85zM476.39 66.79h0.85v0.85h-0.85zM474.47 69.7h0.85v0.85h-0.85zM475.02 70.47h0.85v0.85h-0.85zM477.09 67.97h0.85v0.85h-0.85zM473.21 66.24h0.85v0.85h-0.85zM477.01 70.63h0.85v0.85h-0.85zM474.37 69.86h0.85v0.85h-0.85zM475.56 68.35h0.85v0.85h-0.85zM475.56 65.37h0.85v0.85h-0.85zM473.17 74.15h0.85v0.85h-0.85zM477.44 67.86h0.85v0.85h-0.85zM472.56 64.82h0.85v0.85h-0.85zM474.09 68.5h0.85v0.85h-0.85zM472.36 64.65h0.85v0.85h-0.85zM475.02 70.17h0.85v0.85h-0.85zM478.31 70.43h0.85v0.85h-0.85zM479.58 72.34h0.85v0.85h-0.85zM474.15 66.08h0.85v0.85h-0.85zM475.95 71.67h0.85v0.85h-0.85zM469.32 65.56h0.85v0.85h-0.85zM476.8 67.45h0.85v0.85h-0.85zM479.38 69.6h0.85v0.85h-0.85zM472.66 65.29h0.85v0.85h-0.85zM476.5 64.2h0.85v0.85h-0.85zM470.14 65.34h0.85v0.85h-0.85zM473.76 67.93h0.85v0.85h-0.85zM476.84 72.47h0.85v0.85h-0.85zM473.8 72.15h0.85v0.85h-0.85zM472.16 74.53h0.85v0.85h-0.85zM473.78 65.44h0.85v0.85h-0.85zM481.02 67.09h0.85v0.85h-0.85zM474.49 65.51h0.85v0.85h-0.85zM476.77 69.53h0.85v0.85h-0.85zM473.53 67.88h0.85v0.85h-0.85zM472.59 66.99h0.85v0.85h-0.85zM469.78 72.36h0.85v0.85h-0.85zM477.49 65.12h0.85v0.85h-0.85zM470.6 70.13h0.85v0.85h-0.85zM482.08 68.43h0.85v0.85h-0.85zM473.45 68.29h0.85v0.85h-0.85zM475.33 68.51h0.85v0.85h-0.85zM478.12 71.74h0.85v0.85h-0.85zM476.34 73.39h0.85v0.85h-0.85zM473.72 67.46h0.85v0.85h-0.85zM475.69 66.02h0.85v0.85h-0.85zM474.04 67.9h0.85v0.85h-0.85zM470.88 72.11h0.85v0.85h-0.85zM473.16 70.25h0.85v0.85h-0.85zM472.73 69.42h0.85v0.85h-0.85zM473 69.2h0.85v0.85h-0.85zM474.16 67.1h0.85v0.85h-0.85zM475.96 68.48h0.85v0.85h-0.85zM471.25 66.07h0.85v0.85h-0.85zM475.98 72.7h0.85v0.85h-0.85zM470.11 67.83h0.85v0.85h-0.85zM476.01 71.9h0.85v0.85h-0.85zM476.88 65.69h0.85v0.85h-0.85zM474.62 71.5h0.85v0.85h-0.85zM475.3 68.37h0.85v0.85h-0.85zM470.54 69.46h0.85v0.85h-0.85zM474.28 69.09h0.85v0.85h-0.85z" fill="#e0402c" fill-opacity="0.85"/>
<rect x="449" y="33" width="50" height="44.8" fill="none" stroke="#111" stroke-width="1.5"/>
<text x="474" y="29.2" font-size="7.6" text-anchor="middle" fill="#333">IL7-R</text>
<line x1="447.2" y1="38.4" x2="449" y2="38.4" stroke="#111" stroke-width="0.9"/>
<text x="446.7" y="40.3" font-size="5.3" text-anchor="end" fill="#444">20</text>
<line x1="447.2" y1="46" x2="449" y2="46" stroke="#111" stroke-width="0.9"/>
<text x="446.7" y="47.9" font-size="5.3" text-anchor="end" fill="#444">10</text>
<line x1="447.2" y1="53.6" x2="449" y2="53.6" stroke="#111" stroke-width="0.9"/>
<text x="446.7" y="55.5" font-size="5.3" text-anchor="end" fill="#444">0</text>
<line x1="447.2" y1="61.2" x2="449" y2="61.2" stroke="#111" stroke-width="0.9"/>
<text x="446.7" y="63.1" font-size="5.3" text-anchor="end" fill="#444">-10</text>
<line x1="447.2" y1="68.9" x2="449" y2="68.9" stroke="#111" stroke-width="0.9"/>
<text x="446.7" y="70.8" font-size="5.3" text-anchor="end" fill="#444">-20</text>
<line x1="447.2" y1="76.4" x2="449" y2="76.4" stroke="#111" stroke-width="0.9"/>
<text x="446.7" y="78.3" font-size="5.3" text-anchor="end" fill="#444">-30</text>
<line x1="457.8" y1="77.8" x2="457.8" y2="79.6" stroke="#111" stroke-width="0.9"/>
<text x="457.8" y="86.3" font-size="5.4" text-anchor="middle" fill="#444">-20</text>
<line x1="467.3" y1="77.8" x2="467.3" y2="79.6" stroke="#111" stroke-width="0.9"/>
<text x="467.3" y="86.3" font-size="5.4" text-anchor="middle" fill="#444">-10</text>
<line x1="477" y1="77.8" x2="477" y2="79.6" stroke="#111" stroke-width="0.9"/>
<text x="477" y="86.3" font-size="5.4" text-anchor="middle" fill="#444">0</text>
<line x1="486.8" y1="77.8" x2="486.8" y2="79.6" stroke="#111" stroke-width="0.9"/>
<text x="486.8" y="86.3" font-size="5.4" text-anchor="middle" fill="#444">10</text>
<line x1="496.2" y1="77.8" x2="496.2" y2="79.6" stroke="#111" stroke-width="0.9"/>
<text x="496.2" y="86.3" font-size="5.4" text-anchor="middle" fill="#444">20</text>
<path d="M420.84 128.06h0.85v0.85h-0.85zM405.79 122.45h0.85v0.85h-0.85zM408.96 121.68h0.85v0.85h-0.85zM421.7 126.47h0.85v0.85h-0.85zM411.26 117.23h0.85v0.85h-0.85zM409.93 123.23h0.85v0.85h-0.85zM407.73 127.56h0.85v0.85h-0.85zM411.13 114.15h0.85v0.85h-0.85zM409.23 120.38h0.85v0.85h-0.85zM417.48 127.64h0.85v0.85h-0.85zM420.55 130.25h0.85v0.85h-0.85zM413.08 121.76h0.85v0.85h-0.85zM417.66 120.94h0.85v0.85h-0.85zM402.73 118.43h0.85v0.85h-0.85zM415.34 124.68h0.85v0.85h-0.85zM403.75 128.13h0.85v0.85h-0.85zM413.02 112.27h0.85v0.85h-0.85zM414.06 127h0.85v0.85h-0.85zM414.49 119.27h0.85v0.85h-0.85zM405.75 127.68h0.85v0.85h-0.85zM412.48 121.06h0.85v0.85h-0.85zM408.38 115.03h0.85v0.85h-0.85zM398.7 119.07h0.85v0.85h-0.85zM418.26 125.58h0.85v0.85h-0.85zM406.53 130.06h0.85v0.85h-0.85zM409.5 115.19h0.85v0.85h-0.85zM417.41 129.22h0.85v0.85h-0.85zM408.44 113.92h0.85v0.85h-0.85zM411.35 130.04h0.85v0.85h-0.85zM412.79 116.79h0.85v0.85h-0.85zM415.64 118.2h0.85v0.85h-0.85zM419.3 118.99h0.85v0.85h-0.85zM424.36 119.03h0.85v0.85h-0.85zM412.25 115.58h0.85v0.85h-0.85zM402.62 123.12h0.85v0.85h-0.85zM413.3 115.39h0.85v0.85h-0.85zM414.67 118.67h0.85v0.85h-0.85zM407.38 120.67h0.85v0.85h-0.85zM413.58 125.36h0.85v0.85h-0.85zM419.1 123.34h0.85v0.85h-0.85zM406.23 117.08h0.85v0.85h-0.85zM413.42 114.08h0.85v0.85h-0.85zM409.88 118.84h0.85v0.85h-0.85zM410.35 122.16h0.85v0.85h-0.85zM417.82 130.71h0.85v0.85h-0.85zM416.79 127.02h0.85v0.85h-0.85zM404 127.18h0.85v0.85h-0.85zM419.49 113.15h0.85v0.85h-0.85zM411.42 116.39h0.85v0.85h-0.85zM407.25 127.38h0.85v0.85h-0.85zM412.68 118.89h0.85v0.85h-0.85zM418.54 115.59h0.85v0.85h-0.85zM405.44 117.8h0.85v0.85h-0.85zM406.1 125.14h0.85v0.85h-0.85zM409.49 114.92h0.85v0.85h-0.85zM407.99 109.45h0.85v0.85h-0.85zM412.09 121.69h0.85v0.85h-0.85zM414.99 119.72h0.85v0.85h-0.85zM413.61 115.62h0.85v0.85h-0.85zM411.16 122.01h0.85v0.85h-0.85zM403.04 124.53h0.85v0.85h-0.85zM411.93 121.4h0.85v0.85h-0.85zM407.87 132.84h0.85v0.85h-0.85zM411 116.6h0.85v0.85h-0.85zM405.44 124.56h0.85v0.85h-0.85zM409.63 116.47h0.85v0.85h-0.85zM406.26 126.57h0.85v0.85h-0.85zM411.56 127.27h0.85v0.85h-0.85zM410.89 114.17h0.85v0.85h-0.85zM416.68 122.96h0.85v0.85h-0.85zM406.72 119.29h0.85v0.85h-0.85zM404.64 125.96h0.85v0.85h-0.85zM408.27 123.9h0.85v0.85h-0.85zM412.7 119.58h0.85v0.85h-0.85zM413.42 119.65h0.85v0.85h-0.85zM403.28 118.66h0.85v0.85h-0.85zM403.29 125.52h0.85v0.85h-0.85zM415.25 117.67h0.85v0.85h-0.85zM415.05 122.54h0.85v0.85h-0.85zM417.37 115.63h0.85v0.85h-0.85zM411.17 115.29h0.85v0.85h-0.85zM406.53 129.11h0.85v0.85h-0.85zM397.87 115.74h0.85v0.85h-0.85zM414.18 125.64h0.85v0.85h-0.85zM405.87 109.21h0.85v0.85h-0.85zM399.77 123.24h0.85v0.85h-0.85zM418.2 126.41h0.85v0.85h-0.85zM406.21 129h0.85v0.85h-0.85zM409.77 124.7h0.85v0.85h-0.85zM409.75 130.41h0.85v0.85h-0.85zM407.62 108.54h0.85v0.85h-0.85zM408.94 122.21h0.85v0.85h-0.85zM412.81 116.9h0.85v0.85h-0.85zM409.49 114.46h0.85v0.85h-0.85zM409.47 121.6h0.85v0.85h-0.85zM412.57 130.71h0.85v0.85h-0.85zM397.95 124.12h0.85v0.85h-0.85zM413.82 114.33h0.85v0.85h-0.85zM411.46 121.06h0.85v0.85h-0.85zM404.45 125.31h0.85v0.85h-0.85zM423.46 125.03h0.85v0.85h-0.85zM416.07 127.33h0.85v0.85h-0.85zM410.15 126.79h0.85v0.85h-0.85zM405.73 122.14h0.85v0.85h-0.85zM415.6 128.74h0.85v0.85h-0.85zM409.12 119.39h0.85v0.85h-0.85zM414.05 120.63h0.85v0.85h-0.85zM411.89 125.79h0.85v0.85h-0.85zM406.01 126.21h0.85v0.85h-0.85zM413.47 119.56h0.85v0.85h-0.85zM402.84 117.42h0.85v0.85h-0.85zM410.71 126.57h0.85v0.85h-0.85zM398.18 125.25h0.85v0.85h-0.85zM412.25 114.51h0.85v0.85h-0.85zM416.57 123.41h0.85v0.85h-0.85zM413.84 115.4h0.85v0.85h-0.85zM403.8 126.39h0.85v0.85h-0.85zM420.13 123.23h0.85v0.85h-0.85zM409.74 118.47h0.85v0.85h-0.85zM399.85 126.83h0.85v0.85h-0.85zM410.38 128.27h0.85v0.85h-0.85zM406.32 127.22h0.85v0.85h-0.85zM406.36 124.5h0.85v0.85h-0.85zM419.92 117h0.85v0.85h-0.85zM416.89 121.06h0.85v0.85h-0.85zM404.91 122.26h0.85v0.85h-0.85zM415.18 116.95h0.85v0.85h-0.85zM409.27 117.8h0.85v0.85h-0.85zM406.01 119.88h0.85v0.85h-0.85zM416.34 118.22h0.85v0.85h-0.85zM419.07 118.89h0.85v0.85h-0.85zM406.53 127.32h0.85v0.85h-0.85zM420.1 117.32h0.85v0.85h-0.85zM414.8 114.35h0.85v0.85h-0.85zM408.36 118.92h0.85v0.85h-0.85zM415.59 113.82h0.85v0.85h-0.85zM407.69 117.1h0.85v0.85h-0.85zM411.65 113.96h0.85v0.85h-0.85zM412.38 112.37h0.85v0.85h-0.85zM416.39 113.47h0.85v0.85h-0.85zM419.08 116.23h0.85v0.85h-0.85zM403.95 123.85h0.85v0.85h-0.85zM424.12 124.57h0.85v0.85h-0.85zM415.26 114.23h0.85v0.85h-0.85zM399.49 123.34h0.85v0.85h-0.85zM417.54 121.89h0.85v0.85h-0.85zM410.97 129.11h0.85v0.85h-0.85zM405.57 127.44h0.85v0.85h-0.85zM416.36 117.49h0.85v0.85h-0.85zM411.79 121.73h0.85v0.85h-0.85zM414.75 115.45h0.85v0.85h-0.85zM409.5 121.62h0.85v0.85h-0.85zM411.18 121.22h0.85v0.85h-0.85zM412.61 119.99h0.85v0.85h-0.85zM407.78 127.06h0.85v0.85h-0.85zM406.86 119.26h0.85v0.85h-0.85zM405.32 114.48h0.85v0.85h-0.85zM413.88 120.85h0.85v0.85h-0.85zM410.14 123.71h0.85v0.85h-0.85zM409.89 125.03h0.85v0.85h-0.85zM422.63 123.11h0.85v0.85h-0.85zM409.29 130.65h0.85v0.85h-0.85zM415.54 111.49h0.85v0.85h-0.85zM419.57 122.31h0.85v0.85h-0.85zM416.48 114.44h0.85v0.85h-0.85zM405.54 117.36h0.85v0.85h-0.85zM414.55 114.61h0.85v0.85h-0.85zM406.44 126.59h0.85v0.85h-0.85zM406.87 121.77h0.85v0.85h-0.85zM405.22 111.29h0.85v0.85h-0.85zM410.46 120.4h0.85v0.85h-0.85zM401.8 126.71h0.85v0.85h-0.85zM416.26 126.19h0.85v0.85h-0.85zM407.72 114.49h0.85v0.85h-0.85zM410.42 122.05h0.85v0.85h-0.85zM409.88 117.72h0.85v0.85h-0.85zM404.6 116.86h0.85v0.85h-0.85zM410.46 118.29h0.85v0.85h-0.85zM421.69 119.51h0.85v0.85h-0.85zM413.9 118.42h0.85v0.85h-0.85zM409.82 115.49h0.85v0.85h-0.85zM407.89 112.48h0.85v0.85h-0.85zM404.22 123.58h0.85v0.85h-0.85zM410.19 117.83h0.85v0.85h-0.85zM415.65 117.9h0.85v0.85h-0.85zM413.78 118.97h0.85v0.85h-0.85zM417.21 126.59h0.85v0.85h-0.85zM411.41 127.39h0.85v0.85h-0.85zM414.22 130.03h0.85v0.85h-0.85zM410.21 112.22h0.85v0.85h-0.85zM412.35 122.46h0.85v0.85h-0.85zM408.67 119.9h0.85v0.85h-0.85zM409.27 113.9h0.85v0.85h-0.85zM421.98 116.65h0.85v0.85h-0.85zM404.14 112.02h0.85v0.85h-0.85zM405.6 120.87h0.85v0.85h-0.85zM420.43 124.53h0.85v0.85h-0.85zM406.34 113.96h0.85v0.85h-0.85zM403.83 120.62h0.85v0.85h-0.85zM416.54 118.34h0.85v0.85h-0.85zM412 108.68h0.85v0.85h-0.85zM417.96 120.53h0.85v0.85h-0.85zM415.26 126.75h0.85v0.85h-0.85zM404.55 121.46h0.85v0.85h-0.85zM412.12 116.78h0.85v0.85h-0.85zM415.43 120.35h0.85v0.85h-0.85zM408.41 131.86h0.85v0.85h-0.85zM412.05 130.45h0.85v0.85h-0.85zM410 127.03h0.85v0.85h-0.85zM406.18 121.93h0.85v0.85h-0.85zM414.42 119.53h0.85v0.85h-0.85zM417.94 122.11h0.85v0.85h-0.85zM410.5 113.75h0.85v0.85h-0.85zM408.92 116.95h0.85v0.85h-0.85zM409.05 122.34h0.85v0.85h-0.85zM402.45 127.14h0.85v0.85h-0.85zM409.31 124.52h0.85v0.85h-0.85zM397.53 118.1h0.85v0.85h-0.85zM409.08 118.86h0.85v0.85h-0.85zM406.72 122.86h0.85v0.85h-0.85zM413.58 115.47h0.85v0.85h-0.85zM398.46 125.26h0.85v0.85h-0.85zM408.93 127.21h0.85v0.85h-0.85zM416.54 120.48h0.85v0.85h-0.85zM401.86 119.02h0.85v0.85h-0.85zM406.33 128.19h0.85v0.85h-0.85zM400.16 126.33h0.85v0.85h-0.85zM401.15 117.81h0.85v0.85h-0.85zM401.96 117.09h0.85v0.85h-0.85zM408.16 123.21h0.85v0.85h-0.85zM407.21 125.02h0.85v0.85h-0.85zM422.13 122h0.85v0.85h-0.85zM403.63 120.06h0.85v0.85h-0.85zM410.32 119.02h0.85v0.85h-0.85zM418.3 127.7h0.85v0.85h-0.85zM423.73 124.08h0.85v0.85h-0.85zM415.23 116.46h0.85v0.85h-0.85zM407.13 126.29h0.85v0.85h-0.85zM411.88 114.64h0.85v0.85h-0.85zM410.94 114.08h0.85v0.85h-0.85zM410.63 114.28h0.85v0.85h-0.85zM405.05 118.13h0.85v0.85h-0.85zM403.41 118h0.85v0.85h-0.85zM417.72 125.66h0.85v0.85h-0.85zM415.39 119.23h0.85v0.85h-0.85zM411.77 116.67h0.85v0.85h-0.85zM409.8 116.46h0.85v0.85h-0.85zM401.7 115.39h0.85v0.85h-0.85zM423.24 123.36h0.85v0.85h-0.85zM406.17 120.45h0.85v0.85h-0.85zM408.08 128.06h0.85v0.85h-0.85zM410.77 117.44h0.85v0.85h-0.85zM415.28 122.91h0.85v0.85h-0.85zM406.6 116.66h0.85v0.85h-0.85zM411.85 111.7h0.85v0.85h-0.85zM405.13 126.86h0.85v0.85h-0.85zM416.45 127.46h0.85v0.85h-0.85zM408.12 117.67h0.85v0.85h-0.85zM409.21 118.33h0.85v0.85h-0.85zM419.09 119.8h0.85v0.85h-0.85zM419.56 117.01h0.85v0.85h-0.85zM413.34 130.36h0.85v0.85h-0.85zM406.21 117.34h0.85v0.85h-0.85zM407.13 111.84h0.85v0.85h-0.85zM409.05 117.39h0.85v0.85h-0.85zM424.97 118.34h0.85v0.85h-0.85zM416.99 120.88h0.85v0.85h-0.85zM412.76 125.18h0.85v0.85h-0.85zM407.36 121.31h0.85v0.85h-0.85zM411.85 130.57h0.85v0.85h-0.85zM419.92 122.04h0.85v0.85h-0.85zM402.4 126.13h0.85v0.85h-0.85zM410.59 127.77h0.85v0.85h-0.85zM411.27 122.11h0.85v0.85h-0.85zM415.1 116.89h0.85v0.85h-0.85zM405.42 126.42h0.85v0.85h-0.85zM415.27 125.76h0.85v0.85h-0.85zM419.62 113.4h0.85v0.85h-0.85zM417 109.29h0.85v0.85h-0.85zM411.26 123.01h0.85v0.85h-0.85zM417.47 127.29h0.85v0.85h-0.85zM404.99 119.51h0.85v0.85h-0.85zM409.92 117.09h0.85v0.85h-0.85zM405.72 117.28h0.85v0.85h-0.85zM418.22 128.87h0.85v0.85h-0.85zM415.7 130.72h0.85v0.85h-0.85zM411.49 114.85h0.85v0.85h-0.85zM406.77 122.24h0.85v0.85h-0.85zM417.45 128.04h0.85v0.85h-0.85zM405.22 126.56h0.85v0.85h-0.85zM407.53 124.49h0.85v0.85h-0.85zM416.75 129.57h0.85v0.85h-0.85zM407.57 122.48h0.85v0.85h-0.85zM413.64 118.68h0.85v0.85h-0.85zM411.5 124.49h0.85v0.85h-0.85zM400.47 117.39h0.85v0.85h-0.85zM407.38 110.56h0.85v0.85h-0.85zM404.83 124.06h0.85v0.85h-0.85zM415.23 123.64h0.85v0.85h-0.85zM414.68 117.62h0.85v0.85h-0.85zM421.03 114.64h0.85v0.85h-0.85zM414.15 119.56h0.85v0.85h-0.85zM400.07 126.26h0.85v0.85h-0.85zM409.16 125.16h0.85v0.85h-0.85zM418.99 122.03h0.85v0.85h-0.85zM406.72 119.85h0.85v0.85h-0.85zM410.48 129.37h0.85v0.85h-0.85zM416.34 130.19h0.85v0.85h-0.85zM415.73 116.71h0.85v0.85h-0.85zM416.8 126.65h0.85v0.85h-0.85zM410.14 123.74h0.85v0.85h-0.85zM408.89 113.85h0.85v0.85h-0.85zM410.34 125.47h0.85v0.85h-0.85zM405.84 127.33h0.85v0.85h-0.85zM412.34 127.53h0.85v0.85h-0.85zM406.13 118.68h0.85v0.85h-0.85zM404.56 116.62h0.85v0.85h-0.85zM414.16 121.89h0.85v0.85h-0.85zM407.83 122.8h0.85v0.85h-0.85zM402.62 118.85h0.85v0.85h-0.85zM401.41 112.48h0.85v0.85h-0.85zM402.28 114.78h0.85v0.85h-0.85zM420.92 128.98h0.85v0.85h-0.85zM418.89 117.75h0.85v0.85h-0.85zM414.86 114.57h0.85v0.85h-0.85zM407.46 122.48h0.85v0.85h-0.85zM400.76 122.23h0.85v0.85h-0.85zM414.8 109.19h0.85v0.85h-0.85zM410.12 121.92h0.85v0.85h-0.85zM403.72 124.37h0.85v0.85h-0.85zM411.68 116.88h0.85v0.85h-0.85zM421.32 122.58h0.85v0.85h-0.85zM415.6 131.76h0.85v0.85h-0.85zM407.77 119.83h0.85v0.85h-0.85zM399.87 119.78h0.85v0.85h-0.85zM414.47 122.25h0.85v0.85h-0.85zM402.87 116.18h0.85v0.85h-0.85zM411.6 122.81h0.85v0.85h-0.85zM405.09 119.83h0.85v0.85h-0.85zM405.8 124.66h0.85v0.85h-0.85zM414.95 117.87h0.85v0.85h-0.85zM407.99 114.02h0.85v0.85h-0.85zM407.93 133.7h0.85v0.85h-0.85zM410.81 126.04h0.85v0.85h-0.85zM414.58 129.6h0.85v0.85h-0.85zM408.83 115.88h0.85v0.85h-0.85zM417.49 126.4h0.85v0.85h-0.85zM406.69 127.41h0.85v0.85h-0.85zM410.81 120.85h0.85v0.85h-0.85zM422.57 124.16h0.85v0.85h-0.85zM412.88 119.25h0.85v0.85h-0.85zM412.16 127.18h0.85v0.85h-0.85zM413.79 116.74h0.85v0.85h-0.85zM413.74 120.41h0.85v0.85h-0.85zM412.85 119.98h0.85v0.85h-0.85zM408.45 108.35h0.85v0.85h-0.85zM415.3 118.43h0.85v0.85h-0.85zM412.47 126.78h0.85v0.85h-0.85zM412.09 113.53h0.85v0.85h-0.85zM417.05 118.02h0.85v0.85h-0.85zM407.26 122.24h0.85v0.85h-0.85zM408.97 132.89h0.85v0.85h-0.85zM410.01 133.52h0.85v0.85h-0.85zM413.77 113.91h0.85v0.85h-0.85zM410.89 121.4h0.85v0.85h-0.85zM420.04 128.51h0.85v0.85h-0.85zM405.19 123.15h0.85v0.85h-0.85zM421.14 115.23h0.85v0.85h-0.85zM408.68 116.77h0.85v0.85h-0.85zM414.24 123.42h0.85v0.85h-0.85zM410.64 124.91h0.85v0.85h-0.85zM405.88 118.91h0.85v0.85h-0.85zM413.87 132.8h0.85v0.85h-0.85zM410.65 121.44h0.85v0.85h-0.85zM419.25 121.54h0.85v0.85h-0.85zM419.19 122.48h0.85v0.85h-0.85zM418.25 122.16h0.85v0.85h-0.85zM405.03 116.15h0.85v0.85h-0.85zM413.63 132.02h0.85v0.85h-0.85zM422.78 119.25h0.85v0.85h-0.85zM405.49 126.51h0.85v0.85h-0.85zM401.17 126.4h0.85v0.85h-0.85zM413.3 124.75h0.85v0.85h-0.85zM403.2 123.32h0.85v0.85h-0.85zM416.89 120.8h0.85v0.85h-0.85zM417.46 121.24h0.85v0.85h-0.85zM413.09 119.26h0.85v0.85h-0.85zM402.23 120.17h0.85v0.85h-0.85zM414.08 116.69h0.85v0.85h-0.85zM419.29 119.8h0.85v0.85h-0.85zM406.01 128.3h0.85v0.85h-0.85zM409.79 112.33h0.85v0.85h-0.85zM408.09 115.96h0.85v0.85h-0.85zM409.72 115.78h0.85v0.85h-0.85zM411.33 123.77h0.85v0.85h-0.85zM407.24 119.92h0.85v0.85h-0.85zM409.9 125.92h0.85v0.85h-0.85zM406.3 125.48h0.85v0.85h-0.85zM418.88 119.97h0.85v0.85h-0.85zM404.71 119.3h0.85v0.85h-0.85zM399.56 117.94h0.85v0.85h-0.85zM403.26 120.11h0.85v0.85h-0.85zM408.52 124.11h0.85v0.85h-0.85zM411.65 123.56h0.85v0.85h-0.85zM410.6 122.74h0.85v0.85h-0.85zM403.66 124.96h0.85v0.85h-0.85zM419.23 127.58h0.85v0.85h-0.85zM402.29 123.54h0.85v0.85h-0.85zM400.49 125.52h0.85v0.85h-0.85zM409.58 118.42h0.85v0.85h-0.85zM406.12 119.71h0.85v0.85h-0.85zM410.87 115.47h0.85v0.85h-0.85zM411.28 122.61h0.85v0.85h-0.85zM414.27 120.84h0.85v0.85h-0.85zM417.37 122.99h0.85v0.85h-0.85zM402.01 124.72h0.85v0.85h-0.85zM409.85 123.33h0.85v0.85h-0.85zM411.14 121.67h0.85v0.85h-0.85zM409.91 129.18h0.85v0.85h-0.85zM413.35 119.45h0.85v0.85h-0.85zM409.45 133.3h0.85v0.85h-0.85zM405.37 118.02h0.85v0.85h-0.85zM413 121.97h0.85v0.85h-0.85zM412.84 129.03h0.85v0.85h-0.85zM418.21 123.56h0.85v0.85h-0.85zM411.18 120.73h0.85v0.85h-0.85zM409.43 126.98h0.85v0.85h-0.85zM402.79 115.02h0.85v0.85h-0.85zM407.98 115.48h0.85v0.85h-0.85zM406.19 128.08h0.85v0.85h-0.85zM402.48 119.69h0.85v0.85h-0.85zM407.23 115.3h0.85v0.85h-0.85zM401.38 121.52h0.85v0.85h-0.85zM408.41 127.52h0.85v0.85h-0.85zM422.82 119.39h0.85v0.85h-0.85zM405.76 119.44h0.85v0.85h-0.85zM413.94 126.57h0.85v0.85h-0.85zM404.79 123.88h0.85v0.85h-0.85zM410.72 127.79h0.85v0.85h-0.85zM408.29 119.89h0.85v0.85h-0.85zM405.44 113.36h0.85v0.85h-0.85zM412.66 125.27h0.85v0.85h-0.85zM418.16 122.67h0.85v0.85h-0.85zM407.95 115.73h0.85v0.85h-0.85zM403.46 116.87h0.85v0.85h-0.85zM413.08 121.63h0.85v0.85h-0.85zM409.07 114.99h0.85v0.85h-0.85zM410.79 124.21h0.85v0.85h-0.85zM404.26 113.19h0.85v0.85h-0.85zM408.85 122.64h0.85v0.85h-0.85zM409.27 130.14h0.85v0.85h-0.85zM411.86 115.24h0.85v0.85h-0.85zM415.92 117.32h0.85v0.85h-0.85zM415.37 121.68h0.85v0.85h-0.85zM418.87 115.27h0.85v0.85h-0.85zM415.59 123.59h0.85v0.85h-0.85zM405.1 125.22h0.85v0.85h-0.85zM405.99 120.21h0.85v0.85h-0.85zM419.33 122.6h0.85v0.85h-0.85zM420.48 117.28h0.85v0.85h-0.85zM419.38 111.87h0.85v0.85h-0.85zM409.86 119.37h0.85v0.85h-0.85zM407.78 128.26h0.85v0.85h-0.85zM407.05 123.16h0.85v0.85h-0.85zM422.91 125.93h0.85v0.85h-0.85zM408.26 116.82h0.85v0.85h-0.85zM397.99 123.32h0.85v0.85h-0.85zM416.67 127.58h0.85v0.85h-0.85zM412.5 133.72h0.85v0.85h-0.85zM405.24 125.77h0.85v0.85h-0.85zM408.36 126h0.85v0.85h-0.85zM425.25 120.63h0.85v0.85h-0.85zM401.43 121.67h0.85v0.85h-0.85zM416.8 117.7h0.85v0.85h-0.85zM421.17 116h0.85v0.85h-0.85zM409.69 126.5h0.85v0.85h-0.85zM409.57 117.84h0.85v0.85h-0.85zM410.84 124.94h0.85v0.85h-0.85zM422.17 129.05h0.85v0.85h-0.85zM423.09 120.94h0.85v0.85h-0.85zM400.2 120.86h0.85v0.85h-0.85zM408.29 115.28h0.85v0.85h-0.85zM407.62 120.71h0.85v0.85h-0.85zM411.3 126.46h0.85v0.85h-0.85zM405.04 127.81h0.85v0.85h-0.85zM411.25 125.4h0.85v0.85h-0.85zM419.03 113.86h0.85v0.85h-0.85zM421.32 116.9h0.85v0.85h-0.85zM413.55 127.47h0.85v0.85h-0.85zM416.95 111.94h0.85v0.85h-0.85zM412.02 127.75h0.85v0.85h-0.85zM410.18 120.64h0.85v0.85h-0.85zM411.43 130.72h0.85v0.85h-0.85zM407.45 115.59h0.85v0.85h-0.85zM403.79 118.01h0.85v0.85h-0.85zM409.44 123.14h0.85v0.85h-0.85zM410.44 111.05h0.85v0.85h-0.85zM400.74 125.09h0.85v0.85h-0.85zM415.68 113.17h0.85v0.85h-0.85zM400.19 124.1h0.85v0.85h-0.85zM410.76 118.44h0.85v0.85h-0.85zM408.59 119.79h0.85v0.85h-0.85zM410.32 115.81h0.85v0.85h-0.85zM407.28 124.37h0.85v0.85h-0.85zM414.42 113.31h0.85v0.85h-0.85zM407.78 130.27h0.85v0.85h-0.85zM415.64 130.77h0.85v0.85h-0.85zM402.19 115.02h0.85v0.85h-0.85zM408.54 114.95h0.85v0.85h-0.85zM403.89 117.02h0.85v0.85h-0.85zM409.77 125.98h0.85v0.85h-0.85zM414.64 110.81h0.85v0.85h-0.85zM420.7 119.17h0.85v0.85h-0.85zM404.46 120.92h0.85v0.85h-0.85zM408.38 112.97h0.85v0.85h-0.85zM421.15 117.71h0.85v0.85h-0.85zM407.07 124.25h0.85v0.85h-0.85zM421.91 123.94h0.85v0.85h-0.85zM405.13 123.67h0.85v0.85h-0.85zM418.21 123.33h0.85v0.85h-0.85zM415.22 118.29h0.85v0.85h-0.85zM410.54 111.24h0.85v0.85h-0.85zM406.3 114.44h0.85v0.85h-0.85zM411.04 129.86h0.85v0.85h-0.85zM404.92 120.58h0.85v0.85h-0.85zM418.59 116.55h0.85v0.85h-0.85zM405.87 128.22h0.85v0.85h-0.85zM413.43 124.2h0.85v0.85h-0.85zM416.44 116.76h0.85v0.85h-0.85zM412.45 117.25h0.85v0.85h-0.85zM406.28 121.89h0.85v0.85h-0.85zM413.84 113.63h0.85v0.85h-0.85zM405.96 124.68h0.85v0.85h-0.85zM412.08 125h0.85v0.85h-0.85zM408.94 116.39h0.85v0.85h-0.85zM416.1 124.63h0.85v0.85h-0.85zM406.02 125.02h0.85v0.85h-0.85zM421.27 119.46h0.85v0.85h-0.85zM404.64 122.61h0.85v0.85h-0.85zM411.58 124.43h0.85v0.85h-0.85zM401.81 122.55h0.85v0.85h-0.85zM416.84 125.21h0.85v0.85h-0.85zM415.11 128.13h0.85v0.85h-0.85zM405.59 128.28h0.85v0.85h-0.85zM412.36 115.27h0.85v0.85h-0.85zM409.04 122.69h0.85v0.85h-0.85zM413.16 129.02h0.85v0.85h-0.85zM412.25 118.11h0.85v0.85h-0.85zM425.3 119.16h0.85v0.85h-0.85zM405.6 126.54h0.85v0.85h-0.85zM408.27 116.48h0.85v0.85h-0.85zM404.03 128.07h0.85v0.85h-0.85zM404.04 121.71h0.85v0.85h-0.85zM408.01 119.98h0.85v0.85h-0.85zM405.64 122h0.85v0.85h-0.85zM414.95 127.29h0.85v0.85h-0.85zM408.65 114.27h0.85v0.85h-0.85zM401.29 121.16h0.85v0.85h-0.85zM411.19 121.83h0.85v0.85h-0.85zM401.86 117.34h0.85v0.85h-0.85z" fill="#e4443c" fill-opacity="0.8"/>
<path d="M416.37 129.25h0.85v0.85h-0.85zM417.3 129.78h0.85v0.85h-0.85zM422.32 127.69h0.85v0.85h-0.85zM417.09 131.05h0.85v0.85h-0.85zM417.54 128.87h0.85v0.85h-0.85zM419.94 127.56h0.85v0.85h-0.85zM424.78 133.37h0.85v0.85h-0.85zM421.11 130.1h0.85v0.85h-0.85zM421.43 133.85h0.85v0.85h-0.85zM421.07 133.16h0.85v0.85h-0.85zM419.38 132.93h0.85v0.85h-0.85zM419.9 130.54h0.85v0.85h-0.85zM422.01 129.76h0.85v0.85h-0.85zM420.12 128.85h0.85v0.85h-0.85zM419.28 127.71h0.85v0.85h-0.85zM416.62 128.36h0.85v0.85h-0.85zM418.45 131.06h0.85v0.85h-0.85zM418.1 130.38h0.85v0.85h-0.85zM421.49 129.81h0.85v0.85h-0.85zM415.33 125.54h0.85v0.85h-0.85zM418.89 128.37h0.85v0.85h-0.85zM421.01 129.34h0.85v0.85h-0.85zM422.08 129h0.85v0.85h-0.85zM421.27 131.61h0.85v0.85h-0.85zM419.19 127.12h0.85v0.85h-0.85zM423.91 131.78h0.85v0.85h-0.85zM414.01 130.11h0.85v0.85h-0.85zM423.59 132.88h0.85v0.85h-0.85zM420.95 132.32h0.85v0.85h-0.85zM417.93 129.16h0.85v0.85h-0.85zM417.4 125.56h0.85v0.85h-0.85zM418.56 130.92h0.85v0.85h-0.85zM420.67 128.1h0.85v0.85h-0.85zM421.09 131.28h0.85v0.85h-0.85zM421.23 130.55h0.85v0.85h-0.85zM417.21 130.68h0.85v0.85h-0.85zM423.78 130.33h0.85v0.85h-0.85zM415.12 129.04h0.85v0.85h-0.85zM419.87 130.35h0.85v0.85h-0.85zM415.41 129.33h0.85v0.85h-0.85zM419.25 130.28h0.85v0.85h-0.85zM420.53 129.55h0.85v0.85h-0.85zM419.88 130.53h0.85v0.85h-0.85zM420.46 131.48h0.85v0.85h-0.85zM416.4 126.25h0.85v0.85h-0.85zM417.09 130.84h0.85v0.85h-0.85zM416.14 130.11h0.85v0.85h-0.85zM420.88 132.86h0.85v0.85h-0.85zM418.56 132h0.85v0.85h-0.85zM419.02 131.82h0.85v0.85h-0.85zM417.19 131.47h0.85v0.85h-0.85zM421.87 127.44h0.85v0.85h-0.85zM421.99 131.3h0.85v0.85h-0.85zM417.01 127.58h0.85v0.85h-0.85zM417.07 130.79h0.85v0.85h-0.85zM419.92 130.12h0.85v0.85h-0.85zM419.87 128.27h0.85v0.85h-0.85zM417.81 127.77h0.85v0.85h-0.85zM419.6 127.49h0.85v0.85h-0.85zM416.92 130.37h0.85v0.85h-0.85z" fill="#d84a44" fill-opacity="0.75"/>
<path d="M392.12 129.35h0.85v0.85h-0.85zM391.78 128.95h0.85v0.85h-0.85zM386.08 129.78h0.85v0.85h-0.85zM386.06 129.26h0.85v0.85h-0.85zM389.33 128.55h0.85v0.85h-0.85zM384.59 128.17h0.85v0.85h-0.85zM392.24 127.05h0.85v0.85h-0.85zM389.8 128.31h0.85v0.85h-0.85zM386.79 129.52h0.85v0.85h-0.85zM396.29 130.54h0.85v0.85h-0.85zM394.03 130.72h0.85v0.85h-0.85zM390.15 129.91h0.85v0.85h-0.85zM395.32 129.18h0.85v0.85h-0.85zM390.24 127.09h0.85v0.85h-0.85zM384.01 127.03h0.85v0.85h-0.85zM393.63 130.09h0.85v0.85h-0.85zM391.17 131.12h0.85v0.85h-0.85zM390.64 130.26h0.85v0.85h-0.85zM395.6 128.66h0.85v0.85h-0.85zM387.31 129.26h0.85v0.85h-0.85zM390.41 128.27h0.85v0.85h-0.85zM390.19 128.03h0.85v0.85h-0.85zM391.06 128.64h0.85v0.85h-0.85zM396.79 128.5h0.85v0.85h-0.85zM392.56 129.52h0.85v0.85h-0.85zM396.35 128.55h0.85v0.85h-0.85zM388.49 131.34h0.85v0.85h-0.85zM388.22 128.25h0.85v0.85h-0.85zM389.29 127.54h0.85v0.85h-0.85zM394.56 131.88h0.85v0.85h-0.85zM390.11 127.98h0.85v0.85h-0.85zM385.52 129.38h0.85v0.85h-0.85zM388.49 129.63h0.85v0.85h-0.85zM392.66 130.03h0.85v0.85h-0.85zM390.96 129.16h0.85v0.85h-0.85zM389.36 128.32h0.85v0.85h-0.85zM390.91 129.91h0.85v0.85h-0.85zM393.87 129.28h0.85v0.85h-0.85zM395.06 128.41h0.85v0.85h-0.85zM397.15 131.44h0.85v0.85h-0.85zM395.34 132.08h0.85v0.85h-0.85zM386.24 128.36h0.85v0.85h-0.85zM391.98 130.84h0.85v0.85h-0.85zM391.03 127.32h0.85v0.85h-0.85zM394.91 129.5h0.85v0.85h-0.85zM392.13 128.89h0.85v0.85h-0.85zM390.37 127.12h0.85v0.85h-0.85zM393.01 128.57h0.85v0.85h-0.85zM384.07 128.81h0.85v0.85h-0.85zM390.18 130.46h0.85v0.85h-0.85zM393.67 127.82h0.85v0.85h-0.85zM389.87 129.03h0.85v0.85h-0.85zM391.03 127.67h0.85v0.85h-0.85zM390.57 130.54h0.85v0.85h-0.85zM394.65 131.8h0.85v0.85h-0.85zM389.64 128.21h0.85v0.85h-0.85zM393.76 129.57h0.85v0.85h-0.85zM391.69 129.98h0.85v0.85h-0.85zM389.45 130.95h0.85v0.85h-0.85zM396.87 131.19h0.85v0.85h-0.85zM388.46 129.19h0.85v0.85h-0.85zM393.85 130.62h0.85v0.85h-0.85zM387.85 130.12h0.85v0.85h-0.85zM392.98 130.3h0.85v0.85h-0.85zM389.01 128.87h0.85v0.85h-0.85zM383.67 128.11h0.85v0.85h-0.85zM388.97 128.48h0.85v0.85h-0.85zM389.56 128.52h0.85v0.85h-0.85zM390.79 129.3h0.85v0.85h-0.85zM388.34 128.62h0.85v0.85h-0.85zM390.08 129.77h0.85v0.85h-0.85zM392.15 128.83h0.85v0.85h-0.85zM387.87 126.39h0.85v0.85h-0.85zM385.94 129.06h0.85v0.85h-0.85zM386.89 130.92h0.85v0.85h-0.85zM390.01 128.49h0.85v0.85h-0.85zM390.04 128.27h0.85v0.85h-0.85zM388.23 128.89h0.85v0.85h-0.85zM385.29 128.58h0.85v0.85h-0.85zM390.35 127.8h0.85v0.85h-0.85zM394.1 130.14h0.85v0.85h-0.85zM394.51 128.72h0.85v0.85h-0.85zM386.29 126.82h0.85v0.85h-0.85zM396.2 129.23h0.85v0.85h-0.85zM391.3 128.46h0.85v0.85h-0.85zM389.67 131.26h0.85v0.85h-0.85zM384.48 126.85h0.85v0.85h-0.85zM391.16 127.9h0.85v0.85h-0.85zM392.72 131.29h0.85v0.85h-0.85zM393.54 130.62h0.85v0.85h-0.85z" fill="#8a8a8a" fill-opacity="0.6"/>
<path d="M405.45 144.07h0.85v0.85h-0.85zM403.29 138.71h0.85v0.85h-0.85zM405.12 141.01h0.85v0.85h-0.85zM410.14 139.21h0.85v0.85h-0.85zM409.88 139.72h0.85v0.85h-0.85zM401.72 137.48h0.85v0.85h-0.85zM405.88 138.09h0.85v0.85h-0.85zM406.72 141.74h0.85v0.85h-0.85zM404.65 136.91h0.85v0.85h-0.85zM404.24 142.71h0.85v0.85h-0.85zM399.96 143.31h0.85v0.85h-0.85zM406.06 140.29h0.85v0.85h-0.85zM406.69 143.21h0.85v0.85h-0.85zM405.93 139.72h0.85v0.85h-0.85zM408.66 139.96h0.85v0.85h-0.85zM407.22 144h0.85v0.85h-0.85zM410.43 145.52h0.85v0.85h-0.85zM409.47 141.97h0.85v0.85h-0.85zM405.32 142.08h0.85v0.85h-0.85zM408.23 139.6h0.85v0.85h-0.85zM411.15 137.73h0.85v0.85h-0.85zM409.4 138.49h0.85v0.85h-0.85zM402.31 140.39h0.85v0.85h-0.85zM405.04 138.32h0.85v0.85h-0.85zM408.1 141.34h0.85v0.85h-0.85zM410.55 139.13h0.85v0.85h-0.85zM399.87 143.3h0.85v0.85h-0.85zM405.24 144h0.85v0.85h-0.85zM406.31 146.39h0.85v0.85h-0.85zM404.46 145.07h0.85v0.85h-0.85zM411.36 138.29h0.85v0.85h-0.85zM403.94 137.11h0.85v0.85h-0.85zM403.15 139.26h0.85v0.85h-0.85zM407.45 144.4h0.85v0.85h-0.85zM408.77 142.15h0.85v0.85h-0.85zM406.43 146.35h0.85v0.85h-0.85zM408.38 145.44h0.85v0.85h-0.85zM407.02 143.73h0.85v0.85h-0.85zM407.72 141.38h0.85v0.85h-0.85zM403.64 140.63h0.85v0.85h-0.85zM406.05 140.68h0.85v0.85h-0.85zM404.85 139.89h0.85v0.85h-0.85zM408.91 141.01h0.85v0.85h-0.85zM405.6 141.08h0.85v0.85h-0.85zM410.44 140.3h0.85v0.85h-0.85zM410.78 139.5h0.85v0.85h-0.85zM411.17 143.11h0.85v0.85h-0.85zM404.35 142.73h0.85v0.85h-0.85zM409.85 139.28h0.85v0.85h-0.85zM405.24 142.38h0.85v0.85h-0.85zM405.3 140.9h0.85v0.85h-0.85zM406.07 142.38h0.85v0.85h-0.85zM408.63 145.23h0.85v0.85h-0.85zM404.9 145.96h0.85v0.85h-0.85zM405.57 138.06h0.85v0.85h-0.85zM404.54 140.77h0.85v0.85h-0.85zM403.87 141.29h0.85v0.85h-0.85zM408.23 142.58h0.85v0.85h-0.85zM408.9 141.22h0.85v0.85h-0.85zM405.22 144.57h0.85v0.85h-0.85zM411.82 142.54h0.85v0.85h-0.85zM406.53 139.51h0.85v0.85h-0.85zM413.11 142.59h0.85v0.85h-0.85zM408.1 137.69h0.85v0.85h-0.85zM405.46 141.11h0.85v0.85h-0.85zM411.19 141.15h0.85v0.85h-0.85zM408.86 146.37h0.85v0.85h-0.85zM402.07 139.58h0.85v0.85h-0.85zM408.3 141.9h0.85v0.85h-0.85zM406.15 141.2h0.85v0.85h-0.85zM406.44 142.48h0.85v0.85h-0.85zM404.4 140.93h0.85v0.85h-0.85zM406.79 138.95h0.85v0.85h-0.85zM407.5 136.24h0.85v0.85h-0.85zM408.17 141.31h0.85v0.85h-0.85zM402.05 144.91h0.85v0.85h-0.85zM403.56 144.58h0.85v0.85h-0.85zM405.8 145.56h0.85v0.85h-0.85zM405.26 144.14h0.85v0.85h-0.85zM404.93 137.02h0.85v0.85h-0.85zM407.33 142.78h0.85v0.85h-0.85zM407.36 145.71h0.85v0.85h-0.85zM403.53 138.11h0.85v0.85h-0.85zM406.87 139.91h0.85v0.85h-0.85zM405.66 141.61h0.85v0.85h-0.85zM403.26 144.29h0.85v0.85h-0.85zM405.61 146h0.85v0.85h-0.85zM406.85 144.2h0.85v0.85h-0.85zM405.04 140h0.85v0.85h-0.85zM404.24 139.46h0.85v0.85h-0.85zM407.52 141.95h0.85v0.85h-0.85zM402.38 137.84h0.85v0.85h-0.85zM403.13 137.14h0.85v0.85h-0.85zM403.04 137.89h0.85v0.85h-0.85zM408.39 138.77h0.85v0.85h-0.85zM404.04 141.31h0.85v0.85h-0.85zM406.12 142.64h0.85v0.85h-0.85zM408.58 143.19h0.85v0.85h-0.85zM404.86 144.67h0.85v0.85h-0.85zM407.26 139.87h0.85v0.85h-0.85z" fill="#8a8a8a" fill-opacity="0.6"/>
<rect x="380" y="105.6" width="49" height="43.8" fill="none" stroke="#111" stroke-width="1.5"/>
<text x="404.7" y="102.5" font-size="7.6" text-anchor="middle" fill="#333">GNLY</text>
<line x1="378.2" y1="111" x2="380" y2="111" stroke="#111" stroke-width="0.9"/>
<text x="377.7" y="112.9" font-size="5.3" text-anchor="end" fill="#444">20</text>
<line x1="378.2" y1="118.6" x2="380" y2="118.6" stroke="#111" stroke-width="0.9"/>
<text x="377.7" y="120.5" font-size="5.3" text-anchor="end" fill="#444">10</text>
<line x1="378.2" y1="126.2" x2="380" y2="126.2" stroke="#111" stroke-width="0.9"/>
<text x="377.7" y="128.1" font-size="5.3" text-anchor="end" fill="#444">0</text>
<line x1="378.2" y1="133.8" x2="380" y2="133.8" stroke="#111" stroke-width="0.9"/>
<text x="377.7" y="135.7" font-size="5.3" text-anchor="end" fill="#444">-10</text>
<line x1="378.2" y1="141.5" x2="380" y2="141.5" stroke="#111" stroke-width="0.9"/>
<text x="377.7" y="143.4" font-size="5.3" text-anchor="end" fill="#444">-20</text>
<line x1="378.2" y1="149" x2="380" y2="149" stroke="#111" stroke-width="0.9"/>
<text x="377.7" y="150.9" font-size="5.3" text-anchor="end" fill="#444">-30</text>
<line x1="388.8" y1="149.4" x2="388.8" y2="151.2" stroke="#111" stroke-width="0.9"/>
<text x="388.8" y="158.6" font-size="5.4" text-anchor="middle" fill="#444">-20</text>
<line x1="398.3" y1="149.4" x2="398.3" y2="151.2" stroke="#111" stroke-width="0.9"/>
<text x="398.3" y="158.6" font-size="5.4" text-anchor="middle" fill="#444">-10</text>
<line x1="408" y1="149.4" x2="408" y2="151.2" stroke="#111" stroke-width="0.9"/>
<text x="408" y="158.6" font-size="5.4" text-anchor="middle" fill="#444">0</text>
<line x1="417.8" y1="149.4" x2="417.8" y2="151.2" stroke="#111" stroke-width="0.9"/>
<text x="417.8" y="158.6" font-size="5.4" text-anchor="middle" fill="#444">10</text>
<line x1="427.2" y1="149.4" x2="427.2" y2="151.2" stroke="#111" stroke-width="0.9"/>
<text x="427.2" y="158.6" font-size="5.4" text-anchor="middle" fill="#444">20</text>
<path d="M489.74 114.87h0.85v0.85h-0.85zM483.1 129h0.85v0.85h-0.85zM480.77 123.73h0.85v0.85h-0.85zM480.82 125.59h0.85v0.85h-0.85zM481.48 121.76h0.85v0.85h-0.85zM484.6 110.74h0.85v0.85h-0.85zM481.67 119.97h0.85v0.85h-0.85zM492.74 123.4h0.85v0.85h-0.85zM475.76 125.51h0.85v0.85h-0.85zM477.55 114.85h0.85v0.85h-0.85zM478.22 124.63h0.85v0.85h-0.85zM487.73 127.8h0.85v0.85h-0.85zM481.51 120.79h0.85v0.85h-0.85zM481.33 128.74h0.85v0.85h-0.85zM479.22 128.44h0.85v0.85h-0.85zM474.89 121.65h0.85v0.85h-0.85zM485.04 125.79h0.85v0.85h-0.85zM481.33 118.74h0.85v0.85h-0.85zM468.43 119.18h0.85v0.85h-0.85zM474.56 119.39h0.85v0.85h-0.85zM490.24 117.26h0.85v0.85h-0.85zM485.51 121.6h0.85v0.85h-0.85zM472.9 122.35h0.85v0.85h-0.85zM484.88 114.84h0.85v0.85h-0.85zM472.54 119.52h0.85v0.85h-0.85zM484.71 118.24h0.85v0.85h-0.85zM482.76 124.37h0.85v0.85h-0.85zM480.11 124.32h0.85v0.85h-0.85zM488.22 120.61h0.85v0.85h-0.85zM482.13 115.55h0.85v0.85h-0.85zM475.38 121.14h0.85v0.85h-0.85zM485.27 117.83h0.85v0.85h-0.85zM471.08 127.07h0.85v0.85h-0.85zM473.19 122.42h0.85v0.85h-0.85zM483.16 116.24h0.85v0.85h-0.85zM482.19 128.07h0.85v0.85h-0.85zM478.27 125.94h0.85v0.85h-0.85zM480.86 116.33h0.85v0.85h-0.85zM476.09 118.18h0.85v0.85h-0.85zM488.57 128.4h0.85v0.85h-0.85zM481.59 112.67h0.85v0.85h-0.85zM476.89 119.39h0.85v0.85h-0.85zM467.65 121.6h0.85v0.85h-0.85zM481.86 114.06h0.85v0.85h-0.85zM477.29 119.08h0.85v0.85h-0.85zM491.87 125.55h0.85v0.85h-0.85zM484.96 122.21h0.85v0.85h-0.85zM471.82 127.05h0.85v0.85h-0.85zM475.71 110.6h0.85v0.85h-0.85zM484.7 119.71h0.85v0.85h-0.85zM480.02 124.69h0.85v0.85h-0.85zM478.54 124.09h0.85v0.85h-0.85zM488.28 119.85h0.85v0.85h-0.85zM477.76 121.81h0.85v0.85h-0.85zM484.16 119.4h0.85v0.85h-0.85zM480.54 117.77h0.85v0.85h-0.85zM479.54 124.85h0.85v0.85h-0.85zM474.79 120.66h0.85v0.85h-0.85zM470.69 117.67h0.85v0.85h-0.85zM480.52 124.77h0.85v0.85h-0.85zM473.44 121.13h0.85v0.85h-0.85zM474.09 123.54h0.85v0.85h-0.85zM481.7 124.28h0.85v0.85h-0.85zM478.68 113.49h0.85v0.85h-0.85zM476.45 113.98h0.85v0.85h-0.85zM475.7 121.38h0.85v0.85h-0.85zM486.9 117.99h0.85v0.85h-0.85zM475.1 122.89h0.85v0.85h-0.85zM470.21 127.57h0.85v0.85h-0.85zM486.26 127.27h0.85v0.85h-0.85zM479.35 125.93h0.85v0.85h-0.85zM477.83 127.25h0.85v0.85h-0.85zM475.86 117h0.85v0.85h-0.85zM482.44 119.1h0.85v0.85h-0.85zM484.29 116.76h0.85v0.85h-0.85zM481.73 116.05h0.85v0.85h-0.85zM479.37 134.09h0.85v0.85h-0.85zM473.17 114.61h0.85v0.85h-0.85zM469.83 120.4h0.85v0.85h-0.85zM490.32 119.11h0.85v0.85h-0.85zM485.94 120.65h0.85v0.85h-0.85zM475.99 133.28h0.85v0.85h-0.85zM486.88 111.11h0.85v0.85h-0.85zM473.8 124.08h0.85v0.85h-0.85zM484.15 120.42h0.85v0.85h-0.85zM482.01 124.81h0.85v0.85h-0.85zM477.8 127.45h0.85v0.85h-0.85zM474.62 126.06h0.85v0.85h-0.85zM485.82 122.88h0.85v0.85h-0.85zM477.83 121.6h0.85v0.85h-0.85zM465.93 123.18h0.85v0.85h-0.85zM484.86 116.44h0.85v0.85h-0.85zM482.27 121.97h0.85v0.85h-0.85zM468.86 116.52h0.85v0.85h-0.85zM478.3 124.41h0.85v0.85h-0.85zM480.46 114.43h0.85v0.85h-0.85zM476.66 122.31h0.85v0.85h-0.85zM471.96 119.17h0.85v0.85h-0.85zM476.55 109.47h0.85v0.85h-0.85zM490.93 126.76h0.85v0.85h-0.85zM477.07 127.16h0.85v0.85h-0.85zM473.41 130.52h0.85v0.85h-0.85zM477.66 122.51h0.85v0.85h-0.85zM476.35 122.24h0.85v0.85h-0.85zM482.1 121.89h0.85v0.85h-0.85zM474.77 126.07h0.85v0.85h-0.85zM483.54 121.71h0.85v0.85h-0.85zM486.67 117.46h0.85v0.85h-0.85zM488.1 120.79h0.85v0.85h-0.85zM489.59 119.16h0.85v0.85h-0.85zM478.41 122.92h0.85v0.85h-0.85zM486.93 130h0.85v0.85h-0.85zM477.13 117.51h0.85v0.85h-0.85zM484.83 128.85h0.85v0.85h-0.85zM484.46 119.81h0.85v0.85h-0.85zM488.06 121.56h0.85v0.85h-0.85zM481.08 125.28h0.85v0.85h-0.85zM481.39 125.83h0.85v0.85h-0.85zM482.78 124.83h0.85v0.85h-0.85zM481.04 127.71h0.85v0.85h-0.85zM480.74 130.3h0.85v0.85h-0.85zM480.33 126.29h0.85v0.85h-0.85zM476.53 123.44h0.85v0.85h-0.85zM482.7 122.5h0.85v0.85h-0.85zM489.77 121.97h0.85v0.85h-0.85zM487.1 123.73h0.85v0.85h-0.85zM486.91 116.52h0.85v0.85h-0.85zM477.71 127.27h0.85v0.85h-0.85zM474.85 123.97h0.85v0.85h-0.85zM483.59 122.83h0.85v0.85h-0.85zM482.77 124.83h0.85v0.85h-0.85zM478.52 124.08h0.85v0.85h-0.85zM476.75 119.1h0.85v0.85h-0.85zM469.99 121.11h0.85v0.85h-0.85zM469.28 121.87h0.85v0.85h-0.85zM481.34 115.44h0.85v0.85h-0.85zM480.45 123.38h0.85v0.85h-0.85zM477.8 116.46h0.85v0.85h-0.85zM479.31 124.06h0.85v0.85h-0.85zM485.86 132.86h0.85v0.85h-0.85zM467.55 123.68h0.85v0.85h-0.85zM482.75 118.04h0.85v0.85h-0.85zM482.04 133.77h0.85v0.85h-0.85zM480.73 129.57h0.85v0.85h-0.85zM486.73 119.16h0.85v0.85h-0.85zM478.76 117.68h0.85v0.85h-0.85zM481.3 122.06h0.85v0.85h-0.85zM487.23 118.3h0.85v0.85h-0.85zM479.39 125.33h0.85v0.85h-0.85zM485.65 119.68h0.85v0.85h-0.85zM467.92 122.93h0.85v0.85h-0.85zM484.64 109.93h0.85v0.85h-0.85zM476.92 124.94h0.85v0.85h-0.85zM469.97 113.96h0.85v0.85h-0.85zM482.57 128.27h0.85v0.85h-0.85zM487.36 117.92h0.85v0.85h-0.85zM483.22 111.48h0.85v0.85h-0.85zM470.66 124.85h0.85v0.85h-0.85zM477.49 115.82h0.85v0.85h-0.85zM468.2 120.35h0.85v0.85h-0.85zM473.41 128.2h0.85v0.85h-0.85zM467.89 118.11h0.85v0.85h-0.85zM480.44 128.25h0.85v0.85h-0.85zM479.54 132.24h0.85v0.85h-0.85zM479.82 121.06h0.85v0.85h-0.85zM482.8 123.74h0.85v0.85h-0.85zM470.53 116.22h0.85v0.85h-0.85zM478.52 123.68h0.85v0.85h-0.85zM472.26 117.57h0.85v0.85h-0.85zM475.3 123.67h0.85v0.85h-0.85zM477.29 125.19h0.85v0.85h-0.85zM482.46 116.41h0.85v0.85h-0.85zM478.13 114.51h0.85v0.85h-0.85zM480.69 126.4h0.85v0.85h-0.85zM473.76 111.46h0.85v0.85h-0.85zM483.28 120.02h0.85v0.85h-0.85zM479.83 124.37h0.85v0.85h-0.85zM482.4 127.07h0.85v0.85h-0.85zM476.92 119.93h0.85v0.85h-0.85zM477.41 123.98h0.85v0.85h-0.85zM478.43 129.22h0.85v0.85h-0.85zM475.99 121.66h0.85v0.85h-0.85zM477.73 133.98h0.85v0.85h-0.85zM473.96 115.9h0.85v0.85h-0.85zM477.59 126.13h0.85v0.85h-0.85zM480.08 120.68h0.85v0.85h-0.85zM478.65 120.32h0.85v0.85h-0.85zM491.18 123.86h0.85v0.85h-0.85zM482.71 127.32h0.85v0.85h-0.85zM474.32 114.56h0.85v0.85h-0.85zM477.67 130.31h0.85v0.85h-0.85zM486.28 118.31h0.85v0.85h-0.85zM472.11 127.1h0.85v0.85h-0.85zM486.95 115.33h0.85v0.85h-0.85zM490.22 117.2h0.85v0.85h-0.85zM484.77 120.51h0.85v0.85h-0.85zM477.92 118.15h0.85v0.85h-0.85zM484.41 125.3h0.85v0.85h-0.85zM485.14 120.07h0.85v0.85h-0.85zM490.91 120.58h0.85v0.85h-0.85zM472.7 130.41h0.85v0.85h-0.85zM480.85 122.03h0.85v0.85h-0.85zM485.43 123.74h0.85v0.85h-0.85zM480.71 133.27h0.85v0.85h-0.85zM467.97 125.45h0.85v0.85h-0.85zM473.72 122.13h0.85v0.85h-0.85zM478.92 123.24h0.85v0.85h-0.85zM485.76 125.34h0.85v0.85h-0.85zM481.9 118.78h0.85v0.85h-0.85zM484.06 123.28h0.85v0.85h-0.85zM489.25 126.54h0.85v0.85h-0.85zM489.66 124.55h0.85v0.85h-0.85zM481.11 118.17h0.85v0.85h-0.85zM480.62 119.56h0.85v0.85h-0.85zM483.68 129.62h0.85v0.85h-0.85zM483.33 127.2h0.85v0.85h-0.85zM481.68 123.77h0.85v0.85h-0.85zM471.88 122.42h0.85v0.85h-0.85zM480.33 121.28h0.85v0.85h-0.85zM478.46 123.49h0.85v0.85h-0.85zM476.29 120.56h0.85v0.85h-0.85zM474.27 114.69h0.85v0.85h-0.85zM476.55 119.28h0.85v0.85h-0.85zM490.56 127.65h0.85v0.85h-0.85zM477.56 124.96h0.85v0.85h-0.85zM472.85 112.25h0.85v0.85h-0.85zM482.15 125.06h0.85v0.85h-0.85zM475.59 121.68h0.85v0.85h-0.85zM486.8 122.69h0.85v0.85h-0.85zM481.17 125.07h0.85v0.85h-0.85zM471.81 123.11h0.85v0.85h-0.85zM475.95 110.7h0.85v0.85h-0.85zM485.75 120.61h0.85v0.85h-0.85zM469.33 114.26h0.85v0.85h-0.85zM486.96 129.92h0.85v0.85h-0.85zM482.56 123.81h0.85v0.85h-0.85zM484.48 125.52h0.85v0.85h-0.85zM471.77 126.05h0.85v0.85h-0.85zM486.39 119.34h0.85v0.85h-0.85zM474.09 118.85h0.85v0.85h-0.85zM476.21 124.78h0.85v0.85h-0.85zM485.01 121.84h0.85v0.85h-0.85zM478.02 111.37h0.85v0.85h-0.85zM477.25 115.89h0.85v0.85h-0.85zM476.42 123.71h0.85v0.85h-0.85zM474.34 118.59h0.85v0.85h-0.85zM472.58 120.21h0.85v0.85h-0.85zM478.15 127.55h0.85v0.85h-0.85zM467.36 127h0.85v0.85h-0.85zM484.17 118.65h0.85v0.85h-0.85zM475.56 122.84h0.85v0.85h-0.85zM483.38 120.77h0.85v0.85h-0.85zM478.99 121.81h0.85v0.85h-0.85zM472.98 123.28h0.85v0.85h-0.85zM483.73 122h0.85v0.85h-0.85zM472.6 121.71h0.85v0.85h-0.85zM479.28 123.54h0.85v0.85h-0.85zM477.29 126.53h0.85v0.85h-0.85zM487.02 126.5h0.85v0.85h-0.85zM481.51 128.78h0.85v0.85h-0.85zM479.72 120.74h0.85v0.85h-0.85zM470.71 121.82h0.85v0.85h-0.85zM487.86 116.17h0.85v0.85h-0.85zM485.04 114.35h0.85v0.85h-0.85zM481.92 132.28h0.85v0.85h-0.85zM480.28 114.95h0.85v0.85h-0.85zM481.84 120.86h0.85v0.85h-0.85zM485.14 118.69h0.85v0.85h-0.85zM468.76 118.95h0.85v0.85h-0.85zM483.8 127.64h0.85v0.85h-0.85zM481.77 121.85h0.85v0.85h-0.85zM484.42 120.58h0.85v0.85h-0.85zM477.04 123.02h0.85v0.85h-0.85zM487.06 118.82h0.85v0.85h-0.85zM483.19 118.02h0.85v0.85h-0.85zM475.22 122.71h0.85v0.85h-0.85zM471.35 116.8h0.85v0.85h-0.85zM472.26 118.25h0.85v0.85h-0.85zM483.91 122.13h0.85v0.85h-0.85zM482.82 118.1h0.85v0.85h-0.85zM486.76 119.45h0.85v0.85h-0.85zM471.5 118.05h0.85v0.85h-0.85zM470.07 113.6h0.85v0.85h-0.85zM484.57 118.67h0.85v0.85h-0.85zM484.43 118.5h0.85v0.85h-0.85zM478.45 118.56h0.85v0.85h-0.85zM476.42 117.93h0.85v0.85h-0.85zM489.64 121.4h0.85v0.85h-0.85zM488.09 128.14h0.85v0.85h-0.85zM479.28 120.83h0.85v0.85h-0.85zM476.86 122.43h0.85v0.85h-0.85zM482.99 121.7h0.85v0.85h-0.85zM474.62 116.19h0.85v0.85h-0.85zM471.91 118.06h0.85v0.85h-0.85zM479.68 125.07h0.85v0.85h-0.85zM479.21 123.08h0.85v0.85h-0.85zM482.3 128.23h0.85v0.85h-0.85zM471.48 127.98h0.85v0.85h-0.85zM482.79 124.79h0.85v0.85h-0.85zM470.16 120.41h0.85v0.85h-0.85zM478.25 125.36h0.85v0.85h-0.85zM484.38 125.64h0.85v0.85h-0.85zM471.54 128.89h0.85v0.85h-0.85zM480.37 127.03h0.85v0.85h-0.85zM479.87 117.72h0.85v0.85h-0.85zM484.89 119.09h0.85v0.85h-0.85zM478.49 128.05h0.85v0.85h-0.85zM482.83 131.66h0.85v0.85h-0.85zM487.73 115.6h0.85v0.85h-0.85zM469.92 128.32h0.85v0.85h-0.85zM483.83 120.25h0.85v0.85h-0.85zM478.03 118.56h0.85v0.85h-0.85zM491.58 120.79h0.85v0.85h-0.85zM470.95 126.87h0.85v0.85h-0.85zM479.37 123.74h0.85v0.85h-0.85zM477.43 121.5h0.85v0.85h-0.85zM467.69 124.77h0.85v0.85h-0.85zM475.46 119.56h0.85v0.85h-0.85zM481.97 128.97h0.85v0.85h-0.85zM465.91 120.96h0.85v0.85h-0.85zM483.46 127.47h0.85v0.85h-0.85zM473.99 123.54h0.85v0.85h-0.85zM482.5 127h0.85v0.85h-0.85zM475.87 120.68h0.85v0.85h-0.85zM476.58 128.17h0.85v0.85h-0.85zM486.97 119.23h0.85v0.85h-0.85zM479.02 122.97h0.85v0.85h-0.85zM474.05 121.09h0.85v0.85h-0.85zM485.53 126.11h0.85v0.85h-0.85zM475.47 118.07h0.85v0.85h-0.85zM479.14 113.47h0.85v0.85h-0.85zM481.92 122.41h0.85v0.85h-0.85zM471.22 120.43h0.85v0.85h-0.85zM475.59 120.22h0.85v0.85h-0.85zM474.2 129.42h0.85v0.85h-0.85zM473.62 126.03h0.85v0.85h-0.85zM481.24 129.86h0.85v0.85h-0.85zM479.51 121.76h0.85v0.85h-0.85zM480.33 111.16h0.85v0.85h-0.85zM477.84 115.43h0.85v0.85h-0.85zM479 130.78h0.85v0.85h-0.85zM474.97 124.22h0.85v0.85h-0.85zM486.6 127.05h0.85v0.85h-0.85zM477.26 111.99h0.85v0.85h-0.85zM482.54 124.94h0.85v0.85h-0.85zM477.76 119.36h0.85v0.85h-0.85zM476.54 118.36h0.85v0.85h-0.85zM469.72 117.89h0.85v0.85h-0.85zM474.69 128.71h0.85v0.85h-0.85zM468.52 114.09h0.85v0.85h-0.85zM481.59 113.12h0.85v0.85h-0.85zM466.84 118.28h0.85v0.85h-0.85zM472.03 116.32h0.85v0.85h-0.85zM478.84 124.29h0.85v0.85h-0.85zM475.67 120.23h0.85v0.85h-0.85zM484.53 120.92h0.85v0.85h-0.85zM484.66 118.49h0.85v0.85h-0.85zM483.07 128.87h0.85v0.85h-0.85zM477.77 119.88h0.85v0.85h-0.85zM478.83 124.35h0.85v0.85h-0.85zM472.01 121.99h0.85v0.85h-0.85zM476.08 129.71h0.85v0.85h-0.85zM468.64 125.38h0.85v0.85h-0.85zM477.83 117.62h0.85v0.85h-0.85zM480.77 120.44h0.85v0.85h-0.85zM480.14 123.1h0.85v0.85h-0.85zM487.71 119.53h0.85v0.85h-0.85zM491.75 128.52h0.85v0.85h-0.85zM490.05 122.88h0.85v0.85h-0.85zM481.72 116.14h0.85v0.85h-0.85zM488.58 115.34h0.85v0.85h-0.85zM474.7 121.77h0.85v0.85h-0.85zM481.4 123.66h0.85v0.85h-0.85zM472.31 119.86h0.85v0.85h-0.85zM483.06 128.35h0.85v0.85h-0.85zM484.86 124.07h0.85v0.85h-0.85zM478.18 118.77h0.85v0.85h-0.85zM476.54 121.25h0.85v0.85h-0.85zM483.32 118.98h0.85v0.85h-0.85zM485.18 120.65h0.85v0.85h-0.85zM478.96 119.67h0.85v0.85h-0.85zM489.86 120.13h0.85v0.85h-0.85zM483.47 122.43h0.85v0.85h-0.85zM484.75 125.03h0.85v0.85h-0.85zM490.63 117.73h0.85v0.85h-0.85zM474.53 131.16h0.85v0.85h-0.85zM488.17 122.19h0.85v0.85h-0.85zM478.01 123.19h0.85v0.85h-0.85zM488.35 117.55h0.85v0.85h-0.85zM489.32 121.47h0.85v0.85h-0.85zM477.53 119.59h0.85v0.85h-0.85zM466.25 123.56h0.85v0.85h-0.85zM471.32 118.69h0.85v0.85h-0.85zM474.05 123.08h0.85v0.85h-0.85zM484.57 122h0.85v0.85h-0.85zM481.11 124.06h0.85v0.85h-0.85zM490.33 124.98h0.85v0.85h-0.85zM490.09 121.44h0.85v0.85h-0.85zM482.17 118.19h0.85v0.85h-0.85zM483.74 117.06h0.85v0.85h-0.85zM482.94 118.29h0.85v0.85h-0.85zM477.58 128.52h0.85v0.85h-0.85zM480.83 126.16h0.85v0.85h-0.85zM478.32 111.49h0.85v0.85h-0.85zM489.46 120.79h0.85v0.85h-0.85zM475.66 127.01h0.85v0.85h-0.85zM472.5 117.68h0.85v0.85h-0.85zM487.33 117.95h0.85v0.85h-0.85zM487.22 120.1h0.85v0.85h-0.85zM478.51 122.17h0.85v0.85h-0.85zM476.64 127.7h0.85v0.85h-0.85zM487 122.16h0.85v0.85h-0.85zM483.84 124.77h0.85v0.85h-0.85zM486.54 126.83h0.85v0.85h-0.85zM477.84 121.87h0.85v0.85h-0.85zM477.63 128.61h0.85v0.85h-0.85zM472.44 125.14h0.85v0.85h-0.85zM488.23 124.95h0.85v0.85h-0.85zM476.76 119.26h0.85v0.85h-0.85zM487 116.58h0.85v0.85h-0.85zM469.23 120.44h0.85v0.85h-0.85zM470.21 124.32h0.85v0.85h-0.85zM474.21 127.04h0.85v0.85h-0.85zM479.12 113.98h0.85v0.85h-0.85zM474.87 118.23h0.85v0.85h-0.85zM474.4 128.6h0.85v0.85h-0.85zM473.37 123.8h0.85v0.85h-0.85zM476.09 125.04h0.85v0.85h-0.85zM470.59 113.17h0.85v0.85h-0.85zM483.21 129.67h0.85v0.85h-0.85zM470.89 120.07h0.85v0.85h-0.85zM476.58 116.64h0.85v0.85h-0.85zM486.19 122.07h0.85v0.85h-0.85zM470.89 120.61h0.85v0.85h-0.85zM488.56 117.9h0.85v0.85h-0.85zM476.54 117.24h0.85v0.85h-0.85zM480.95 118.74h0.85v0.85h-0.85zM485.68 117.22h0.85v0.85h-0.85zM470.41 124.29h0.85v0.85h-0.85zM481.72 123.16h0.85v0.85h-0.85zM476.13 119.35h0.85v0.85h-0.85zM474.66 120.81h0.85v0.85h-0.85zM476.92 124.84h0.85v0.85h-0.85zM479.95 124.85h0.85v0.85h-0.85zM490.52 120.29h0.85v0.85h-0.85zM478.01 123.87h0.85v0.85h-0.85zM493.55 119.82h0.85v0.85h-0.85zM490.89 128.33h0.85v0.85h-0.85zM473.51 123.99h0.85v0.85h-0.85zM488.54 122.1h0.85v0.85h-0.85zM480.95 133.74h0.85v0.85h-0.85zM482.21 133.65h0.85v0.85h-0.85zM474.07 130.88h0.85v0.85h-0.85zM474.51 119.19h0.85v0.85h-0.85zM479.61 125.97h0.85v0.85h-0.85zM484.38 124.68h0.85v0.85h-0.85zM475.03 131.63h0.85v0.85h-0.85zM487.7 122h0.85v0.85h-0.85zM476.17 121.54h0.85v0.85h-0.85zM478.45 117.96h0.85v0.85h-0.85zM479.83 118.14h0.85v0.85h-0.85zM484.08 118.2h0.85v0.85h-0.85zM483.09 123.57h0.85v0.85h-0.85zM480.99 124.69h0.85v0.85h-0.85zM475.39 125.85h0.85v0.85h-0.85zM480.05 119.41h0.85v0.85h-0.85zM491.23 127.88h0.85v0.85h-0.85zM478.12 124.91h0.85v0.85h-0.85zM484.36 130.52h0.85v0.85h-0.85zM486.52 120.87h0.85v0.85h-0.85zM478.27 115.38h0.85v0.85h-0.85zM481.62 126.57h0.85v0.85h-0.85zM477.37 125.46h0.85v0.85h-0.85zM480.77 119.24h0.85v0.85h-0.85zM471.97 127.94h0.85v0.85h-0.85zM472.88 116.08h0.85v0.85h-0.85zM481.56 125.39h0.85v0.85h-0.85zM491.98 122.71h0.85v0.85h-0.85zM480.81 123.93h0.85v0.85h-0.85zM477.6 120.21h0.85v0.85h-0.85zM486.8 112.21h0.85v0.85h-0.85zM479.18 124.89h0.85v0.85h-0.85zM469.18 120.91h0.85v0.85h-0.85zM489.9 123.85h0.85v0.85h-0.85zM484.54 125.69h0.85v0.85h-0.85zM481.37 123.77h0.85v0.85h-0.85zM474.63 120.63h0.85v0.85h-0.85zM491.98 114.99h0.85v0.85h-0.85zM478.84 114.77h0.85v0.85h-0.85zM476.45 117.51h0.85v0.85h-0.85zM471.94 123.13h0.85v0.85h-0.85zM473.78 124.72h0.85v0.85h-0.85zM478.86 110.18h0.85v0.85h-0.85zM479.13 123.86h0.85v0.85h-0.85zM481.31 128.49h0.85v0.85h-0.85zM480.98 112.22h0.85v0.85h-0.85zM489.76 116.53h0.85v0.85h-0.85zM479.34 123.58h0.85v0.85h-0.85zM474.2 122.28h0.85v0.85h-0.85zM489.69 112.42h0.85v0.85h-0.85zM469.07 119.3h0.85v0.85h-0.85zM478.86 114.69h0.85v0.85h-0.85zM482.5 114.42h0.85v0.85h-0.85zM483.69 121.43h0.85v0.85h-0.85zM481 114.36h0.85v0.85h-0.85zM478.52 124.45h0.85v0.85h-0.85zM468.52 115.94h0.85v0.85h-0.85zM486.28 132.87h0.85v0.85h-0.85zM484.27 121.38h0.85v0.85h-0.85zM472.89 119.52h0.85v0.85h-0.85zM478.31 124.23h0.85v0.85h-0.85zM472.33 121.76h0.85v0.85h-0.85zM486.37 124.03h0.85v0.85h-0.85zM488.77 125.06h0.85v0.85h-0.85zM482.98 130.29h0.85v0.85h-0.85zM477.05 118.73h0.85v0.85h-0.85zM473.35 123.16h0.85v0.85h-0.85zM482.84 127h0.85v0.85h-0.85zM489.43 125.26h0.85v0.85h-0.85zM488.02 120.38h0.85v0.85h-0.85zM473.67 125.85h0.85v0.85h-0.85zM486.6 129.24h0.85v0.85h-0.85zM478.89 119.15h0.85v0.85h-0.85zM477.6 123.78h0.85v0.85h-0.85zM479.66 120.74h0.85v0.85h-0.85zM481.64 120.14h0.85v0.85h-0.85zM482.18 118.42h0.85v0.85h-0.85zM469.88 120.03h0.85v0.85h-0.85zM492.33 117.23h0.85v0.85h-0.85zM485.96 129.28h0.85v0.85h-0.85zM476.42 123.21h0.85v0.85h-0.85zM490.04 122.8h0.85v0.85h-0.85zM466.98 118.52h0.85v0.85h-0.85zM475.12 122.39h0.85v0.85h-0.85zM481.85 119.45h0.85v0.85h-0.85zM477.96 117.18h0.85v0.85h-0.85zM483.73 122.88h0.85v0.85h-0.85zM482.24 118.94h0.85v0.85h-0.85zM483.21 120.08h0.85v0.85h-0.85zM481.93 120.86h0.85v0.85h-0.85zM475.65 115.61h0.85v0.85h-0.85zM469.25 117.18h0.85v0.85h-0.85zM478.64 115.21h0.85v0.85h-0.85zM482.73 133.46h0.85v0.85h-0.85zM488.09 115.22h0.85v0.85h-0.85zM479.31 118.21h0.85v0.85h-0.85zM484.98 113.58h0.85v0.85h-0.85zM482.02 122.98h0.85v0.85h-0.85zM483.69 124.15h0.85v0.85h-0.85zM481 111.75h0.85v0.85h-0.85zM477.87 116.42h0.85v0.85h-0.85zM483.46 120.43h0.85v0.85h-0.85zM480.99 127.95h0.85v0.85h-0.85zM479.29 131.23h0.85v0.85h-0.85zM485.46 113.38h0.85v0.85h-0.85zM476.17 128.6h0.85v0.85h-0.85zM476.73 128.47h0.85v0.85h-0.85zM476.32 121.05h0.85v0.85h-0.85zM486.72 112.85h0.85v0.85h-0.85zM480.49 119.18h0.85v0.85h-0.85z" fill="#e4443c" fill-opacity="0.8"/>
<path d="M486.73 132.95h0.85v0.85h-0.85zM490.6 129.17h0.85v0.85h-0.85zM490.93 131.3h0.85v0.85h-0.85zM487.27 132.15h0.85v0.85h-0.85zM486.24 131.01h0.85v0.85h-0.85zM489.35 129.25h0.85v0.85h-0.85zM488.55 127.72h0.85v0.85h-0.85zM490.89 132.58h0.85v0.85h-0.85zM491.61 130.37h0.85v0.85h-0.85zM491.37 130.04h0.85v0.85h-0.85zM488.73 130.69h0.85v0.85h-0.85zM486.16 129.57h0.85v0.85h-0.85zM488.95 129.03h0.85v0.85h-0.85zM487.38 127h0.85v0.85h-0.85zM491.39 132.9h0.85v0.85h-0.85zM486.37 130.53h0.85v0.85h-0.85zM486.93 126.99h0.85v0.85h-0.85zM487.33 133.11h0.85v0.85h-0.85zM488.62 130.97h0.85v0.85h-0.85zM489.15 128.16h0.85v0.85h-0.85zM485.1 127.67h0.85v0.85h-0.85zM486.14 129.47h0.85v0.85h-0.85zM485.62 127.99h0.85v0.85h-0.85zM487.51 129.24h0.85v0.85h-0.85zM486.79 129.11h0.85v0.85h-0.85zM483.8 126.33h0.85v0.85h-0.85zM487.68 127.79h0.85v0.85h-0.85zM490.93 130.41h0.85v0.85h-0.85zM491.17 133.48h0.85v0.85h-0.85zM485.28 129.59h0.85v0.85h-0.85zM485.93 129.97h0.85v0.85h-0.85zM489.22 133.51h0.85v0.85h-0.85zM485.4 128.11h0.85v0.85h-0.85zM489.23 128.46h0.85v0.85h-0.85zM488.38 131.94h0.85v0.85h-0.85zM484.98 126.92h0.85v0.85h-0.85zM486.42 126.39h0.85v0.85h-0.85zM483.87 130.23h0.85v0.85h-0.85zM486.68 128.44h0.85v0.85h-0.85zM489.53 133.45h0.85v0.85h-0.85zM491.71 129.06h0.85v0.85h-0.85zM486.78 128.46h0.85v0.85h-0.85zM484.56 131.98h0.85v0.85h-0.85zM486.39 131.58h0.85v0.85h-0.85zM487.59 129.79h0.85v0.85h-0.85zM488.88 131.76h0.85v0.85h-0.85zM491.03 128.63h0.85v0.85h-0.85zM488.99 131.58h0.85v0.85h-0.85zM489.6 131.21h0.85v0.85h-0.85zM490.36 129.08h0.85v0.85h-0.85zM492.14 130.51h0.85v0.85h-0.85zM490.6 134.18h0.85v0.85h-0.85zM488.13 129.67h0.85v0.85h-0.85zM490.31 131.17h0.85v0.85h-0.85zM484.65 128.45h0.85v0.85h-0.85zM485.3 127.34h0.85v0.85h-0.85zM491.82 134.6h0.85v0.85h-0.85zM486.91 129.29h0.85v0.85h-0.85zM486.34 129.01h0.85v0.85h-0.85zM483.58 128.56h0.85v0.85h-0.85z" fill="#d84a44" fill-opacity="0.75"/>
<path d="M459.67 128.86h0.85v0.85h-0.85zM458.01 128.82h0.85v0.85h-0.85zM457.52 128.72h0.85v0.85h-0.85zM464.03 131.29h0.85v0.85h-0.85zM460.92 130.42h0.85v0.85h-0.85zM464.74 131.45h0.85v0.85h-0.85zM460.22 130.2h0.85v0.85h-0.85zM460.21 129.83h0.85v0.85h-0.85zM459 126.48h0.85v0.85h-0.85zM461.52 130.05h0.85v0.85h-0.85zM462.93 130.62h0.85v0.85h-0.85zM458.36 130.39h0.85v0.85h-0.85zM460.26 129.18h0.85v0.85h-0.85zM458.25 128.93h0.85v0.85h-0.85zM458.52 128.93h0.85v0.85h-0.85zM458.88 131.2h0.85v0.85h-0.85zM457.84 129.25h0.85v0.85h-0.85zM457.12 127.44h0.85v0.85h-0.85zM456.57 128.56h0.85v0.85h-0.85zM460.11 129.31h0.85v0.85h-0.85zM455.29 128.59h0.85v0.85h-0.85zM465.06 129.24h0.85v0.85h-0.85zM459.54 131.13h0.85v0.85h-0.85zM456.74 128.51h0.85v0.85h-0.85zM457.59 129.66h0.85v0.85h-0.85zM459.83 129.95h0.85v0.85h-0.85zM461.22 129.52h0.85v0.85h-0.85zM460.3 127.88h0.85v0.85h-0.85zM458.06 131.62h0.85v0.85h-0.85zM460.48 128.91h0.85v0.85h-0.85zM459.79 131.22h0.85v0.85h-0.85zM453.64 127.11h0.85v0.85h-0.85zM457.22 128.76h0.85v0.85h-0.85zM459.3 128.85h0.85v0.85h-0.85zM459.87 129.88h0.85v0.85h-0.85zM455.47 128.25h0.85v0.85h-0.85zM455.03 129.48h0.85v0.85h-0.85zM460.3 130.74h0.85v0.85h-0.85zM456.48 128.52h0.85v0.85h-0.85zM451.59 128.6h0.85v0.85h-0.85zM453.67 129.37h0.85v0.85h-0.85zM463.26 130.86h0.85v0.85h-0.85zM461.69 130.33h0.85v0.85h-0.85zM460.64 131.19h0.85v0.85h-0.85zM458.39 130.72h0.85v0.85h-0.85zM462.5 130.72h0.85v0.85h-0.85zM460.7 128.08h0.85v0.85h-0.85zM463.55 129.02h0.85v0.85h-0.85zM457.34 128.19h0.85v0.85h-0.85zM461.68 128.64h0.85v0.85h-0.85zM461.02 130.71h0.85v0.85h-0.85zM459.93 129.28h0.85v0.85h-0.85zM461.36 131.81h0.85v0.85h-0.85zM458.06 128.01h0.85v0.85h-0.85zM457.53 128.18h0.85v0.85h-0.85zM458.68 129.37h0.85v0.85h-0.85zM456.69 128.7h0.85v0.85h-0.85zM455.84 129.51h0.85v0.85h-0.85zM462.87 127.62h0.85v0.85h-0.85zM460 131.91h0.85v0.85h-0.85zM458.32 130.83h0.85v0.85h-0.85zM460.79 128.58h0.85v0.85h-0.85zM463.15 129.35h0.85v0.85h-0.85zM460.84 129.32h0.85v0.85h-0.85zM458.7 129.8h0.85v0.85h-0.85zM464.53 128.03h0.85v0.85h-0.85zM455.51 129.28h0.85v0.85h-0.85zM463 129.93h0.85v0.85h-0.85zM458.73 130.33h0.85v0.85h-0.85zM465.28 129.24h0.85v0.85h-0.85zM453.87 128.51h0.85v0.85h-0.85zM462.48 128.26h0.85v0.85h-0.85zM463.32 131.56h0.85v0.85h-0.85zM462.47 128.93h0.85v0.85h-0.85zM454.77 129.96h0.85v0.85h-0.85zM460.29 130.78h0.85v0.85h-0.85zM463.29 131.64h0.85v0.85h-0.85zM458.51 129.55h0.85v0.85h-0.85zM460.96 130.96h0.85v0.85h-0.85zM458.93 128.89h0.85v0.85h-0.85zM455.83 130.63h0.85v0.85h-0.85zM460.83 129.08h0.85v0.85h-0.85zM455.07 128.36h0.85v0.85h-0.85zM455.04 128.44h0.85v0.85h-0.85zM457.45 130.13h0.85v0.85h-0.85zM456.25 126.68h0.85v0.85h-0.85zM457.61 127.49h0.85v0.85h-0.85zM462.17 129.78h0.85v0.85h-0.85zM453.72 127.65h0.85v0.85h-0.85zM459.41 129.63h0.85v0.85h-0.85z" fill="#8a8a8a" fill-opacity="0.6"/>
<path d="M468.8 141.89h0.85v0.85h-0.85zM475.99 144.57h0.85v0.85h-0.85zM478.69 141.9h0.85v0.85h-0.85zM470.62 141.3h0.85v0.85h-0.85zM477.19 139.99h0.85v0.85h-0.85zM479.24 139.9h0.85v0.85h-0.85zM471.2 144.19h0.85v0.85h-0.85zM474.66 142.97h0.85v0.85h-0.85zM473.97 142.27h0.85v0.85h-0.85zM473.03 146.74h0.85v0.85h-0.85zM477.2 141.9h0.85v0.85h-0.85zM476.59 144.2h0.85v0.85h-0.85zM473.22 142.62h0.85v0.85h-0.85zM475.69 140.84h0.85v0.85h-0.85zM472.39 141.72h0.85v0.85h-0.85zM473.99 141.22h0.85v0.85h-0.85zM468.46 142.38h0.85v0.85h-0.85zM477.2 142.37h0.85v0.85h-0.85zM480.77 144.26h0.85v0.85h-0.85zM473.8 140.58h0.85v0.85h-0.85zM476.68 141.3h0.85v0.85h-0.85zM469.55 142.49h0.85v0.85h-0.85zM474 141.66h0.85v0.85h-0.85zM477.06 142.66h0.85v0.85h-0.85zM481.81 140.43h0.85v0.85h-0.85zM474.67 142.94h0.85v0.85h-0.85zM473.51 140.97h0.85v0.85h-0.85zM476.17 138h0.85v0.85h-0.85zM476.14 137.6h0.85v0.85h-0.85zM471.07 144.92h0.85v0.85h-0.85zM480.18 142.5h0.85v0.85h-0.85zM475.82 139.55h0.85v0.85h-0.85zM473.8 139.04h0.85v0.85h-0.85zM474.68 141.99h0.85v0.85h-0.85zM475.41 144.09h0.85v0.85h-0.85zM471.07 139.19h0.85v0.85h-0.85zM473.76 141.15h0.85v0.85h-0.85zM474.85 145.47h0.85v0.85h-0.85zM475.09 139.62h0.85v0.85h-0.85zM473.97 140.1h0.85v0.85h-0.85zM474.19 143.58h0.85v0.85h-0.85zM471.19 143.88h0.85v0.85h-0.85zM480.46 142.41h0.85v0.85h-0.85zM474.82 142.75h0.85v0.85h-0.85zM473.8 139.95h0.85v0.85h-0.85zM477.08 138.86h0.85v0.85h-0.85zM470.37 143.52h0.85v0.85h-0.85zM473.74 140.19h0.85v0.85h-0.85zM476.67 145.59h0.85v0.85h-0.85zM474.04 141.88h0.85v0.85h-0.85zM476.88 144.43h0.85v0.85h-0.85zM478.48 143.82h0.85v0.85h-0.85zM472.76 143.47h0.85v0.85h-0.85zM475.02 138.15h0.85v0.85h-0.85zM479.15 143.56h0.85v0.85h-0.85zM479.6 142.04h0.85v0.85h-0.85zM477.44 142.03h0.85v0.85h-0.85zM475.55 144.37h0.85v0.85h-0.85zM475.19 143.65h0.85v0.85h-0.85zM474.88 145.12h0.85v0.85h-0.85zM477.19 138.26h0.85v0.85h-0.85zM480.58 143.24h0.85v0.85h-0.85zM473.28 140.72h0.85v0.85h-0.85zM481.68 142.41h0.85v0.85h-0.85zM476.71 143.62h0.85v0.85h-0.85zM472.99 146.36h0.85v0.85h-0.85zM478.81 138.32h0.85v0.85h-0.85zM473.87 142.35h0.85v0.85h-0.85zM475.18 143.56h0.85v0.85h-0.85zM476.36 143.09h0.85v0.85h-0.85zM474.54 142.92h0.85v0.85h-0.85zM473.14 146.87h0.85v0.85h-0.85zM475.21 145.15h0.85v0.85h-0.85zM475.35 141.85h0.85v0.85h-0.85zM474.4 139.13h0.85v0.85h-0.85zM481.97 143.18h0.85v0.85h-0.85zM475.44 141.1h0.85v0.85h-0.85zM479.3 141.42h0.85v0.85h-0.85zM473.46 140.92h0.85v0.85h-0.85zM480.18 142.94h0.85v0.85h-0.85zM474.51 140.68h0.85v0.85h-0.85zM479.31 142.89h0.85v0.85h-0.85zM473.9 144.33h0.85v0.85h-0.85zM477.94 139.84h0.85v0.85h-0.85zM478.86 144.79h0.85v0.85h-0.85zM474.19 139.05h0.85v0.85h-0.85zM478.67 141.39h0.85v0.85h-0.85zM474.33 141.52h0.85v0.85h-0.85zM474.1 144.18h0.85v0.85h-0.85zM471.35 143.47h0.85v0.85h-0.85zM478.89 144.7h0.85v0.85h-0.85zM477.42 142.83h0.85v0.85h-0.85zM474.36 141.92h0.85v0.85h-0.85zM472.08 146.16h0.85v0.85h-0.85zM474.62 139.81h0.85v0.85h-0.85zM477.8 145.77h0.85v0.85h-0.85zM475.95 141.45h0.85v0.85h-0.85zM471.3 143.73h0.85v0.85h-0.85zM474.21 140.64h0.85v0.85h-0.85zM477.03 139.15h0.85v0.85h-0.85z" fill="#8a8a8a" fill-opacity="0.6"/>
<rect x="449" y="106.2" width="50" height="43.8" fill="none" stroke="#111" stroke-width="1.5"/>
<text x="473.7" y="102.8" font-size="7.6" text-anchor="middle" fill="#333">GZMB</text>
<line x1="447.2" y1="111.6" x2="449" y2="111.6" stroke="#111" stroke-width="0.9"/>
<text x="446.7" y="113.5" font-size="5.3" text-anchor="end" fill="#444">20</text>
<line x1="447.2" y1="119.2" x2="449" y2="119.2" stroke="#111" stroke-width="0.9"/>
<text x="446.7" y="121.1" font-size="5.3" text-anchor="end" fill="#444">10</text>
<line x1="447.2" y1="126.8" x2="449" y2="126.8" stroke="#111" stroke-width="0.9"/>
<text x="446.7" y="128.7" font-size="5.3" text-anchor="end" fill="#444">0</text>
<line x1="447.2" y1="134.4" x2="449" y2="134.4" stroke="#111" stroke-width="0.9"/>
<text x="446.7" y="136.3" font-size="5.3" text-anchor="end" fill="#444">-10</text>
<line x1="447.2" y1="142.1" x2="449" y2="142.1" stroke="#111" stroke-width="0.9"/>
<text x="446.7" y="144" font-size="5.3" text-anchor="end" fill="#444">-20</text>
<line x1="447.2" y1="149.6" x2="449" y2="149.6" stroke="#111" stroke-width="0.9"/>
<text x="446.7" y="151.5" font-size="5.3" text-anchor="end" fill="#444">-30</text>
<line x1="457.8" y1="150" x2="457.8" y2="151.8" stroke="#111" stroke-width="0.9"/>
<text x="457.8" y="158.6" font-size="5.4" text-anchor="middle" fill="#444">-20</text>
<line x1="467.3" y1="150" x2="467.3" y2="151.8" stroke="#111" stroke-width="0.9"/>
<text x="467.3" y="158.6" font-size="5.4" text-anchor="middle" fill="#444">-10</text>
<line x1="477" y1="150" x2="477" y2="151.8" stroke="#111" stroke-width="0.9"/>
<text x="477" y="158.6" font-size="5.4" text-anchor="middle" fill="#444">0</text>
<line x1="486.8" y1="150" x2="486.8" y2="151.8" stroke="#111" stroke-width="0.9"/>
<text x="486.8" y="158.6" font-size="5.4" text-anchor="middle" fill="#444">10</text>
<line x1="496.2" y1="150" x2="496.2" y2="151.8" stroke="#111" stroke-width="0.9"/>
<text x="496.2" y="158.6" font-size="5.4" text-anchor="middle" fill="#444">20</text>
<line x1="359.3" y1="128" x2="359.3" y2="52.5" stroke="#111" stroke-width="1.2"/>
<path d="M356.6 53 L359.3 46.5 L362 53 Z" fill="#111"/>
<text transform="translate(363,139) rotate(-90) scale(0.68,1)" font-size="9.6" text-anchor="middle" fill="#2a2a2a" font-weight="bold">tSNE2</text>
<line x1="399.5" y1="167.2" x2="471.5" y2="167.2" stroke="#111" stroke-width="1.2"/>
<path d="M471 164.5 L477.5 167.2 L471 169.9 Z" fill="#111"/>
<text transform="translate(386.8,170.3) scale(0.69,1)" font-size="9.3" text-anchor="middle" fill="#2a2a2a" font-weight="bold">tSNE1</text>
<text x="7.5" y="198.9" font-size="11.4" text-anchor="start" fill="#111" font-weight="bold">D</text>
<path d="M23 265.3 C23.12 264.07 23.28 260.37 23.7 257.9 C24.12 255.43 24.98 252.35 25.5 250.5 C26.02 248.65 26.38 248.23 26.8 246.8 C27.22 245.37 27.65 242.92 28 241.9 C28.35 240.88 28.6 240.28 28.9 240.7 C29.2 241.12 29.43 244.82 29.8 244.4 C30.17 243.98 30.68 240.05 31.1 238.2 C31.52 236.35 31.9 234.93 32.3 233.3 C32.7 231.67 33.08 228.82 33.5 228.4 C33.92 227.98 34.38 231.62 34.8 230.8 C35.22 229.98 35.6 226.17 36 223.5 C36.4 220.83 36.83 216.75 37.2 214.8 C37.57 212.85 37.88 212 38.2 211.8 C38.52 211.6 38.82 212.48 39.1 213.6 C39.38 214.72 39.63 217.47 39.9 218.5 C40.17 219.53 40.37 218.77 40.7 219.8 C41.03 220.83 41.45 221.83 41.9 224.7 C42.35 227.57 42.95 233.1 43.4 237 C43.85 240.9 44.2 244.82 44.6 248.1 C45 251.38 45.38 254.25 45.8 256.7 C46.22 259.15 46.58 261.37 47.1 262.8 C47.62 264.23 48.6 264.88 48.9 265.3" fill="none" stroke="#c8943c" stroke-width="1.4" stroke-linejoin="round"/>
<path d="M38.5 265.3 C38.8 264.88 39.68 264.23 40.3 262.8 C40.92 261.37 41.68 258.75 42.2 256.7 C42.72 254.65 43 251.42 43.4 250.5 C43.8 249.58 44.15 250.98 44.6 251.2 C45.05 251.42 45.65 252.12 46.1 251.8 C46.55 251.48 46.83 250.53 47.3 249.3 C47.77 248.07 48.42 246.03 48.9 244.4 C49.38 242.77 49.78 240.57 50.2 239.5 C50.62 238.43 51 237.6 51.4 238 C51.8 238.4 52.25 240.63 52.6 241.9 C52.95 243.17 53.18 246.22 53.5 245.6 C53.82 244.98 54.18 238.82 54.5 238.2 C54.82 237.58 55.03 240.05 55.4 241.9 C55.77 243.75 56.28 247.87 56.7 249.3 C57.12 250.73 57.5 251.73 57.9 250.5 C58.3 249.27 58.75 245.38 59.1 241.9 C59.45 238.42 59.68 234.12 60 229.6 C60.32 225.08 60.73 217.87 61 214.8 C61.27 211.73 61.4 210.17 61.6 211.2 C61.8 212.23 61.95 215.88 62.2 221 C62.45 226.12 62.78 235.95 63.1 241.9 C63.42 247.85 63.7 252.8 64.1 256.7 C64.5 260.6 65.27 263.87 65.5 265.3" fill="none" stroke="#84b850" stroke-width="1.4" stroke-linejoin="round"/>
<path d="M38.5 265.3 C39.52 265.12 42.68 264.23 44.6 264.2 C46.52 264.17 48.35 265.33 50 265.1 C51.65 264.87 53.45 263.48 54.5 262.8 C55.55 262.12 55.68 262.43 56.3 261 C56.92 259.57 57.68 256.77 58.2 254.2 C58.72 251.63 59.03 249.7 59.4 245.6 C59.77 241.5 60.07 235.13 60.4 229.6 C60.73 224.07 61.12 214.45 61.4 212.4 C61.68 210.35 61.82 213 62.1 217.3 C62.38 221.6 62.73 231.43 63.1 238.2 C63.47 244.97 63.85 253.38 64.3 257.9 C64.75 262.42 65.55 264.07 65.8 265.3" fill="none" stroke="#a8305a" stroke-width="1.4" stroke-linejoin="round"/>
<path d="M36 265.3 C36.62 264.88 38.27 263.22 39.7 262.8 C41.13 262.38 43.17 262.68 44.6 262.8 C46.03 262.92 47.07 263.18 48.3 263.5 C49.53 263.82 50.77 264.82 52 264.7 C53.23 264.58 54.67 263.93 55.7 262.8 C56.73 261.67 57.55 261.38 58.2 257.9 C58.85 254.42 59.2 248.25 59.6 241.9 C60 235.55 60.28 224.97 60.6 219.8 C60.92 214.63 61.23 210.28 61.5 210.9 C61.77 211.52 61.93 217.72 62.2 223.5 C62.47 229.28 62.75 239.25 63.1 245.6 C63.45 251.95 63.85 258.27 64.3 261.6 C64.75 264.93 65.55 264.93 65.8 265.6" fill="none" stroke="#2a4a5a" stroke-width="1.4" stroke-linejoin="round"/>
<rect x="22.6" y="207.6" width="59" height="58.4" fill="none" stroke="#111" stroke-width="1.6"/>
<line x1="20.8" y1="266" x2="22.6" y2="266" stroke="#111" stroke-width="0.9"/>
<line x1="20.8" y1="260.16" x2="22.6" y2="260.16" stroke="#111" stroke-width="0.9"/>
<line x1="20.8" y1="254.32" x2="22.6" y2="254.32" stroke="#111" stroke-width="0.9"/>
<line x1="20.8" y1="248.48" x2="22.6" y2="248.48" stroke="#111" stroke-width="0.9"/>
<line x1="20.8" y1="242.64" x2="22.6" y2="242.64" stroke="#111" stroke-width="0.9"/>
<line x1="20.8" y1="236.8" x2="22.6" y2="236.8" stroke="#111" stroke-width="0.9"/>
<line x1="20.8" y1="230.96" x2="22.6" y2="230.96" stroke="#111" stroke-width="0.9"/>
<line x1="20.8" y1="225.12" x2="22.6" y2="225.12" stroke="#111" stroke-width="0.9"/>
<line x1="20.8" y1="219.28" x2="22.6" y2="219.28" stroke="#111" stroke-width="0.9"/>
<line x1="20.8" y1="213.44" x2="22.6" y2="213.44" stroke="#111" stroke-width="0.9"/>
<line x1="20.8" y1="207.6" x2="22.6" y2="207.6" stroke="#111" stroke-width="0.9"/>
<line x1="24.1" y1="266.3" x2="24.1" y2="269.4" stroke="#111" stroke-width="1.2"/>
<line x1="27.83" y1="266.3" x2="27.83" y2="268.9" stroke="#111" stroke-width="1.2"/>
<line x1="30.01" y1="266.3" x2="30.01" y2="268.9" stroke="#111" stroke-width="1.2"/>
<line x1="31.56" y1="266.3" x2="31.56" y2="268.9" stroke="#111" stroke-width="1.2"/>
<line x1="32.76" y1="266.3" x2="32.76" y2="268.9" stroke="#111" stroke-width="1.2"/>
<line x1="33.74" y1="266.3" x2="33.74" y2="268.9" stroke="#111" stroke-width="1"/>
<line x1="34.57" y1="266.3" x2="34.57" y2="268.9" stroke="#111" stroke-width="1"/>
<line x1="35.29" y1="266.3" x2="35.29" y2="268.9" stroke="#111" stroke-width="1"/>
<line x1="35.92" y1="266.3" x2="35.92" y2="268.9" stroke="#111" stroke-width="1"/>
<line x1="36.49" y1="266.3" x2="36.49" y2="269.4" stroke="#111" stroke-width="1.2"/>
<line x1="40.22" y1="266.3" x2="40.22" y2="268.9" stroke="#111" stroke-width="1.2"/>
<line x1="42.4" y1="266.3" x2="42.4" y2="268.9" stroke="#111" stroke-width="1.2"/>
<line x1="43.95" y1="266.3" x2="43.95" y2="268.9" stroke="#111" stroke-width="1.2"/>
<line x1="45.15" y1="266.3" x2="45.15" y2="268.9" stroke="#111" stroke-width="1.2"/>
<line x1="46.13" y1="266.3" x2="46.13" y2="268.9" stroke="#111" stroke-width="1"/>
<line x1="46.96" y1="266.3" x2="46.96" y2="268.9" stroke="#111" stroke-width="1"/>
<line x1="47.68" y1="266.3" x2="47.68" y2="268.9" stroke="#111" stroke-width="1"/>
<line x1="48.32" y1="266.3" x2="48.32" y2="268.9" stroke="#111" stroke-width="1"/>
<line x1="48.88" y1="266.3" x2="48.88" y2="269.4" stroke="#111" stroke-width="1.2"/>
<line x1="52.61" y1="266.3" x2="52.61" y2="268.9" stroke="#111" stroke-width="1.2"/>
<line x1="54.79" y1="266.3" x2="54.79" y2="268.9" stroke="#111" stroke-width="1.2"/>
<line x1="56.34" y1="266.3" x2="56.34" y2="268.9" stroke="#111" stroke-width="1.2"/>
<line x1="57.54" y1="266.3" x2="57.54" y2="268.9" stroke="#111" stroke-width="1.2"/>
<line x1="58.52" y1="266.3" x2="58.52" y2="268.9" stroke="#111" stroke-width="1"/>
<line x1="59.35" y1="266.3" x2="59.35" y2="268.9" stroke="#111" stroke-width="1"/>
<line x1="60.07" y1="266.3" x2="60.07" y2="268.9" stroke="#111" stroke-width="1"/>
<line x1="60.71" y1="266.3" x2="60.71" y2="268.9" stroke="#111" stroke-width="1"/>
<line x1="61.27" y1="266.3" x2="61.27" y2="269.4" stroke="#111" stroke-width="1.2"/>
<line x1="65" y1="266.3" x2="65" y2="268.9" stroke="#111" stroke-width="1.2"/>
<line x1="67.19" y1="266.3" x2="67.19" y2="268.9" stroke="#111" stroke-width="1.2"/>
<line x1="68.73" y1="266.3" x2="68.73" y2="268.9" stroke="#111" stroke-width="1.2"/>
<line x1="69.94" y1="266.3" x2="69.94" y2="268.9" stroke="#111" stroke-width="1.2"/>
<line x1="70.92" y1="266.3" x2="70.92" y2="268.9" stroke="#111" stroke-width="1"/>
<line x1="71.75" y1="266.3" x2="71.75" y2="268.9" stroke="#111" stroke-width="1"/>
<line x1="72.46" y1="266.3" x2="72.46" y2="268.9" stroke="#111" stroke-width="1"/>
<line x1="73.1" y1="266.3" x2="73.1" y2="268.9" stroke="#111" stroke-width="1"/>
<line x1="73.67" y1="266.3" x2="73.67" y2="269.4" stroke="#111" stroke-width="1.2"/>
<line x1="77.4" y1="266.3" x2="77.4" y2="268.9" stroke="#111" stroke-width="1.2"/>
<line x1="79.58" y1="266.3" x2="79.58" y2="268.9" stroke="#111" stroke-width="1.2"/>
<line x1="81.13" y1="266.3" x2="81.13" y2="268.9" stroke="#111" stroke-width="1.2"/>
<path d="M99.4 265.3 C99.6 264.48 100.2 264.3 100.6 260.4 C101 256.5 101.43 247.85 101.8 241.9 C102.17 235.95 102.48 227.88 102.8 224.7 C103.12 221.52 103.4 223.62 103.7 222.8 C104 221.98 104.25 221.53 104.6 219.8 C104.95 218.07 105.43 213.83 105.8 212.4 C106.17 210.97 106.47 209.97 106.8 211.2 C107.13 212.43 107.5 216.12 107.8 219.8 C108.1 223.48 108.32 227.97 108.6 233.3 C108.88 238.63 109.18 247.08 109.5 251.8 C109.82 256.52 110.13 259.3 110.5 261.6 C110.87 263.9 111.5 264.93 111.7 265.6" fill="none" stroke="#c8943c" stroke-width="1.4" stroke-linejoin="round"/>
<path d="M101.8 265.3 C102.12 264.48 103.18 262.25 103.7 260.4 C104.22 258.55 104.48 255.85 104.9 254.2 C105.32 252.55 105.78 250.9 106.2 250.5 C106.62 250.1 107 252.62 107.4 251.8 C107.8 250.98 108.2 248.27 108.6 245.6 C109 242.93 109.38 239.48 109.8 235.8 C110.22 232.12 110.68 227.2 111.1 223.5 C111.52 219.8 111.9 215.55 112.3 213.6 C112.7 211.65 113.08 210.57 113.5 211.8 C113.92 213.03 114.38 217.42 114.8 221 C115.22 224.58 115.6 231.05 116 233.3 C116.4 235.55 116.78 233.27 117.2 234.5 C117.62 235.73 118.08 237.82 118.5 240.7 C118.92 243.58 119.3 249.13 119.7 251.8 C120.1 254.47 120.48 254.87 120.9 256.7 C121.32 258.53 121.78 261.37 122.2 262.8 C122.62 264.23 123.2 264.88 123.4 265.3" fill="none" stroke="#34508a" stroke-width="1.4" stroke-linejoin="round"/>
<path d="M105.5 265.6 C105.92 263.7 107.28 259.17 108 254.2 C108.72 249.23 109.28 241.53 109.8 235.8 C110.32 230.07 110.75 223.8 111.1 219.8 C111.45 215.8 111.6 212.02 111.9 211.8 C112.2 211.58 112.57 218.4 112.9 218.5 C113.23 218.6 113.58 213.62 113.9 212.4 C114.22 211.18 114.52 209.35 114.8 211.2 C115.08 213.05 115.3 219.4 115.6 223.5 C115.9 227.6 116.23 231.7 116.6 235.8 C116.97 239.9 117.38 244.62 117.8 248.1 C118.22 251.58 118.58 254.25 119.1 256.7 C119.62 259.15 120.28 261.32 120.9 262.8 C121.52 264.28 122.48 265.13 122.8 265.6" fill="none" stroke="#58a040" stroke-width="1.4" stroke-linejoin="round"/>
<path d="M104.3 265.3 C104.62 263.87 105.58 258.95 106.2 256.7 C106.82 254.45 107.4 254.27 108 251.8 C108.6 249.33 109.23 245.8 109.8 241.9 C110.37 238 110.98 229.83 111.4 228.4 C111.82 226.97 111.95 229.62 112.3 233.3 C112.65 236.98 113.08 248.45 113.5 250.5 C113.92 252.55 114.38 248.05 114.8 245.6 C115.22 243.15 115.6 237.23 116 235.8 C116.4 234.37 116.78 236.6 117.2 237 C117.62 237.4 118.08 237.38 118.5 238.2 C118.92 239.02 119.35 241.07 119.7 241.9 C120.05 242.73 120.3 245.25 120.6 243.2 C120.9 241.15 121.18 234.73 121.5 229.6 C121.82 224.47 122.18 214.65 122.5 212.4 C122.82 210.15 123.12 213.23 123.4 216.1 C123.68 218.97 123.9 224.68 124.2 229.6 C124.5 234.52 124.82 240.07 125.2 245.6 C125.58 251.13 126.08 259.47 126.5 262.8 C126.92 266.13 127.5 265.13 127.7 265.6" fill="none" stroke="#a8305a" stroke-width="1.4" stroke-linejoin="round"/>
<rect x="94.6" y="208.1" width="58" height="57.9" fill="none" stroke="#111" stroke-width="1.6"/>
<line x1="92.8" y1="266" x2="94.6" y2="266" stroke="#111" stroke-width="0.9"/>
<line x1="92.8" y1="260.21" x2="94.6" y2="260.21" stroke="#111" stroke-width="0.9"/>
<line x1="92.8" y1="254.42" x2="94.6" y2="254.42" stroke="#111" stroke-width="0.9"/>
<line x1="92.8" y1="248.63" x2="94.6" y2="248.63" stroke="#111" stroke-width="0.9"/>
<line x1="92.8" y1="242.84" x2="94.6" y2="242.84" stroke="#111" stroke-width="0.9"/>
<line x1="92.8" y1="237.05" x2="94.6" y2="237.05" stroke="#111" stroke-width="0.9"/>
<line x1="92.8" y1="231.26" x2="94.6" y2="231.26" stroke="#111" stroke-width="0.9"/>
<line x1="92.8" y1="225.47" x2="94.6" y2="225.47" stroke="#111" stroke-width="0.9"/>
<line x1="92.8" y1="219.68" x2="94.6" y2="219.68" stroke="#111" stroke-width="0.9"/>
<line x1="92.8" y1="213.89" x2="94.6" y2="213.89" stroke="#111" stroke-width="0.9"/>
<line x1="92.8" y1="208.1" x2="94.6" y2="208.1" stroke="#111" stroke-width="0.9"/>
<line x1="96.1" y1="266.3" x2="96.1" y2="269.4" stroke="#111" stroke-width="1.2"/>
<line x1="99.76" y1="266.3" x2="99.76" y2="268.9" stroke="#111" stroke-width="1.2"/>
<line x1="101.91" y1="266.3" x2="101.91" y2="268.9" stroke="#111" stroke-width="1.2"/>
<line x1="103.43" y1="266.3" x2="103.43" y2="268.9" stroke="#111" stroke-width="1.2"/>
<line x1="104.61" y1="266.3" x2="104.61" y2="268.9" stroke="#111" stroke-width="1.2"/>
<line x1="105.57" y1="266.3" x2="105.57" y2="268.9" stroke="#111" stroke-width="1"/>
<line x1="106.39" y1="266.3" x2="106.39" y2="268.9" stroke="#111" stroke-width="1"/>
<line x1="107.09" y1="266.3" x2="107.09" y2="268.9" stroke="#111" stroke-width="1"/>
<line x1="107.72" y1="266.3" x2="107.72" y2="268.9" stroke="#111" stroke-width="1"/>
<line x1="108.27" y1="266.3" x2="108.27" y2="269.4" stroke="#111" stroke-width="1.2"/>
<line x1="111.94" y1="266.3" x2="111.94" y2="268.9" stroke="#111" stroke-width="1.2"/>
<line x1="114.08" y1="266.3" x2="114.08" y2="268.9" stroke="#111" stroke-width="1.2"/>
<line x1="115.6" y1="266.3" x2="115.6" y2="268.9" stroke="#111" stroke-width="1.2"/>
<line x1="116.78" y1="266.3" x2="116.78" y2="268.9" stroke="#111" stroke-width="1.2"/>
<line x1="117.75" y1="266.3" x2="117.75" y2="268.9" stroke="#111" stroke-width="1"/>
<line x1="118.56" y1="266.3" x2="118.56" y2="268.9" stroke="#111" stroke-width="1"/>
<line x1="119.27" y1="266.3" x2="119.27" y2="268.9" stroke="#111" stroke-width="1"/>
<line x1="119.89" y1="266.3" x2="119.89" y2="268.9" stroke="#111" stroke-width="1"/>
<line x1="120.45" y1="266.3" x2="120.45" y2="269.4" stroke="#111" stroke-width="1.2"/>
<line x1="124.11" y1="266.3" x2="124.11" y2="268.9" stroke="#111" stroke-width="1.2"/>
<line x1="126.26" y1="266.3" x2="126.26" y2="268.9" stroke="#111" stroke-width="1.2"/>
<line x1="127.78" y1="266.3" x2="127.78" y2="268.9" stroke="#111" stroke-width="1.2"/>
<line x1="128.96" y1="266.3" x2="128.96" y2="268.9" stroke="#111" stroke-width="1.2"/>
<line x1="129.92" y1="266.3" x2="129.92" y2="268.9" stroke="#111" stroke-width="1"/>
<line x1="130.74" y1="266.3" x2="130.74" y2="268.9" stroke="#111" stroke-width="1"/>
<line x1="131.44" y1="266.3" x2="131.44" y2="268.9" stroke="#111" stroke-width="1"/>
<line x1="132.06" y1="266.3" x2="132.06" y2="268.9" stroke="#111" stroke-width="1"/>
<line x1="132.62" y1="266.3" x2="132.62" y2="269.4" stroke="#111" stroke-width="1.2"/>
<line x1="136.29" y1="266.3" x2="136.29" y2="268.9" stroke="#111" stroke-width="1.2"/>
<line x1="138.43" y1="266.3" x2="138.43" y2="268.9" stroke="#111" stroke-width="1.2"/>
<line x1="139.95" y1="266.3" x2="139.95" y2="268.9" stroke="#111" stroke-width="1.2"/>
<line x1="141.13" y1="266.3" x2="141.13" y2="268.9" stroke="#111" stroke-width="1.2"/>
<line x1="142.09" y1="266.3" x2="142.09" y2="268.9" stroke="#111" stroke-width="1"/>
<line x1="142.91" y1="266.3" x2="142.91" y2="268.9" stroke="#111" stroke-width="1"/>
<line x1="143.62" y1="266.3" x2="143.62" y2="268.9" stroke="#111" stroke-width="1"/>
<line x1="144.24" y1="266.3" x2="144.24" y2="268.9" stroke="#111" stroke-width="1"/>
<line x1="144.8" y1="266.3" x2="144.8" y2="269.4" stroke="#111" stroke-width="1.2"/>
<line x1="148.46" y1="266.3" x2="148.46" y2="268.9" stroke="#111" stroke-width="1.2"/>
<line x1="150.6" y1="266.3" x2="150.6" y2="268.9" stroke="#111" stroke-width="1.2"/>
<line x1="152.13" y1="266.3" x2="152.13" y2="268.9" stroke="#111" stroke-width="1.2"/>
<line x1="155.6" y1="213.6" x2="168.6" y2="213.6" stroke="#8a2a48" stroke-width="1.3"/>
<text x="172" y="216.2" font-size="7.3" text-anchor="start" fill="#333">ILC1</text>
<line x1="155.6" y1="225.3" x2="168.6" y2="225.3" stroke="#2a3a62" stroke-width="1.3"/>
<text x="172" y="227.9" font-size="7.3" text-anchor="start" fill="#333">ILC2</text>
<line x1="155.6" y1="237" x2="168.6" y2="237" stroke="#7a9a62" stroke-width="1.3"/>
<text x="172" y="239.6" font-size="7.3" text-anchor="start" fill="#333">ILC3</text>
<line x1="155.6" y1="248.8" x2="168.6" y2="248.8" stroke="#8a7258" stroke-width="1.3"/>
<text x="172" y="251.4" font-size="7.3" text-anchor="start" fill="#333">Isotype</text>
<text transform="translate(51.5,280) scale(0.77,1)" font-size="9" text-anchor="middle" fill="#2a2a2a" font-weight="bold">Ikzf1</text>
<text transform="translate(123.3,280) scale(0.73,1)" font-size="9" text-anchor="middle" fill="#2a2a2a" font-weight="bold">Ikzf3</text>
<text x="7.4" y="317.8" font-size="11.4" text-anchor="start" fill="#111" font-weight="bold">E</text>
<text x="18.6" y="325.5" font-size="9.5" text-anchor="start" fill="#111" font-weight="bold">i</text>
<text x="18.6" y="511.6" font-size="9.5" text-anchor="start" fill="#111" font-weight="bold">ii</text>
<line x1="124.4" y1="318.3" x2="136.4" y2="318.3" stroke="#b0284c" stroke-width="1.3"/>
<text x="140.3" y="320.9" font-size="7.5" text-anchor="start" fill="#333">Control</text>
<line x1="180.6" y1="318.3" x2="192.8" y2="318.3" stroke="#2a4a7a" stroke-width="1.3"/>
<text x="196.5" y="320.9" font-size="7.5" text-anchor="start" fill="#333">Pom</text>
<path d="M54.8 382.7 C55.22 382.38 56.68 381.27 57.3 380.8 C57.92 380.33 57.98 379.68 58.5 379.9 C59.02 380.12 59.68 382.05 60.4 382.1 C61.12 382.15 62.08 380.2 62.8 380.2 C63.52 380.2 63.67 381.78 64.7 382.1 C65.73 382.42 67.77 382.42 69 382.1 C70.23 381.78 71.28 381.23 72.1 380.2 C72.92 379.17 73.38 377.63 73.9 375.9 C74.42 374.17 74.83 372.47 75.2 369.8 C75.57 367.13 75.8 364.62 76.1 359.9 C76.4 355.18 76.75 346.52 77 341.5 C77.25 336.48 77.37 330.83 77.6 329.8 C77.83 328.77 78.15 331.3 78.4 335.3 C78.65 339.3 78.87 348.05 79.1 353.8 C79.33 359.55 79.53 365.7 79.8 369.8 C80.07 373.9 80.35 376.25 80.7 378.4 C81.05 380.55 81.7 381.98 81.9 382.7" fill="none" stroke="#b0284c" stroke-width="1.4" stroke-linejoin="round"/>
<path d="M55.5 382.7 C55.7 380.95 56.3 376.4 56.7 372.2 C57.1 368 57.55 360.98 57.9 357.5 C58.25 354.02 58.48 351.1 58.8 351.3 C59.12 351.5 59.53 355.83 59.8 358.7 C60.07 361.57 60.2 368.08 60.4 368.5 C60.6 368.92 60.8 364.68 61 361.2 C61.2 357.72 61.33 350.88 61.6 347.6 C61.87 344.32 62.28 342.52 62.6 341.5 C62.92 340.48 63.22 340.68 63.5 341.5 C63.78 342.32 64.03 346.2 64.3 346.4 C64.57 346.6 64.83 344.97 65.1 342.7 C65.37 340.43 65.67 335.05 65.9 332.8 C66.13 330.55 66.27 328.78 66.5 329.2 C66.73 329.62 67.05 331.2 67.3 335.3 C67.55 339.4 67.72 347.65 68 353.8 C68.28 359.95 68.72 368.1 69 372.2 C69.28 376.3 69.4 378.4 69.7 378.4 C70 378.4 70.4 375.68 70.8 372.2 C71.2 368.72 71.72 360.78 72.1 357.5 C72.48 354.22 72.8 352.72 73.1 352.5 C73.4 352.28 73.55 354.15 73.9 356.2 C74.25 358.25 74.83 362.13 75.2 364.8 C75.57 367.47 75.8 371.58 76.1 372.2 C76.4 372.82 76.7 369.12 77 368.5 C77.3 367.88 77.6 367.47 77.9 368.5 C78.2 369.53 78.43 372.85 78.8 374.7 C79.17 376.55 79.63 378.27 80.1 379.6 C80.57 380.93 81.35 382.18 81.6 382.7" fill="none" stroke="#3a5688" stroke-width="1.4" stroke-linejoin="round"/>
<path d="M112.4 382.7 C113.22 382.6 115.87 382.42 117.3 382.1 C118.73 381.78 119.97 381.22 121 380.8 C122.03 380.38 122.68 379.6 123.5 379.6 C124.32 379.6 125.18 380.9 125.9 380.8 C126.62 380.7 127.18 379.1 127.8 379 C128.42 378.9 128.88 380.2 129.6 380.2 C130.32 380.2 131.28 379 132.1 379 C132.92 379 133.58 380.1 134.5 380.2 C135.42 380.3 136.57 380 137.6 379.6 C138.63 379.2 139.88 379.03 140.7 377.8 C141.52 376.57 142.05 375.18 142.5 372.2 C142.95 369.22 143.13 364 143.4 359.9 C143.67 355.8 143.83 352.12 144.1 347.6 C144.37 343.08 144.75 335.87 145 332.8 C145.25 329.73 145.37 328.78 145.6 329.2 C145.83 329.62 146.15 331.2 146.4 335.3 C146.65 339.4 146.87 348.05 147.1 353.8 C147.33 359.55 147.53 365.5 147.8 369.8 C148.07 374.1 148.4 377.45 148.7 379.6 C149 381.75 149.45 382.18 149.6 382.7" fill="none" stroke="#b0284c" stroke-width="1.4" stroke-linejoin="round"/>
<path d="M109.9 382.7 C110.32 382.38 111.58 380.9 112.4 380.8 C113.22 380.7 113.98 382.3 114.8 382.1 C115.62 381.9 116.47 380.42 117.3 379.6 C118.13 378.78 119.08 378.22 119.8 377.2 C120.52 376.18 120.98 374.33 121.6 373.5 C122.22 372.67 122.98 373.65 123.5 372.2 C124.02 370.75 124.3 367.47 124.7 364.8 C125.1 362.13 125.53 358.03 125.9 356.2 C126.27 354.37 126.58 355.23 126.9 353.8 C127.22 352.37 127.48 349.65 127.8 347.6 C128.12 345.55 128.5 343.97 128.8 341.5 C129.1 339.03 129.37 334.85 129.6 332.8 C129.83 330.75 130 329.2 130.2 329.2 C130.4 329.2 130.58 330.75 130.8 332.8 C131.02 334.85 131.25 339.03 131.5 341.5 C131.75 343.97 132.03 345.55 132.3 347.6 C132.57 349.65 132.83 350.93 133.1 353.8 C133.37 356.67 133.6 361.32 133.9 364.8 C134.2 368.28 134.48 372.43 134.9 374.7 C135.32 376.97 135.88 377.98 136.4 378.4 C136.92 378.82 137.53 378.23 138 377.2 C138.47 376.17 138.8 372.82 139.2 372.2 C139.6 371.58 139.98 373.6 140.4 373.5 C140.82 373.4 141.35 371.4 141.7 371.6 C142.05 371.8 142.15 373.47 142.5 374.7 C142.85 375.93 143.28 377.67 143.8 379 C144.32 380.33 145.3 382.08 145.6 382.7" fill="none" stroke="#3a5688" stroke-width="1.4" stroke-linejoin="round"/>
<path d="M188.6 382.7 C188.92 382.18 189.95 380.93 190.5 379.6 C191.05 378.27 191.5 376.33 191.9 374.7 C192.3 373.07 192.52 371.23 192.9 369.8 C193.28 368.37 193.78 366.32 194.2 366.1 C194.62 365.88 195 368.3 195.4 368.5 C195.8 368.7 196.15 367.08 196.6 367.3 C197.05 367.52 197.65 370.42 198.1 369.8 C198.55 369.18 198.88 365.65 199.3 363.6 C199.72 361.55 200.18 358.83 200.6 357.5 C201.02 356.17 201.4 355.4 201.8 355.6 C202.2 355.8 202.67 356.75 203 358.7 C203.33 360.65 203.53 367.3 203.8 367.3 C204.07 367.3 204.32 360.55 204.6 358.7 C204.88 356.85 205.18 355.38 205.5 356.2 C205.82 357.02 206.13 361.33 206.5 363.6 C206.87 365.87 207.3 368.98 207.7 369.8 C208.1 370.62 208.53 370.15 208.9 368.5 C209.27 366.85 209.58 364.4 209.9 359.9 C210.22 355.4 210.55 346.62 210.8 341.5 C211.05 336.38 211.2 329.82 211.4 329.2 C211.6 328.58 211.8 335.75 212 337.8 C212.2 339.85 212.33 338.63 212.6 341.5 C212.87 344.37 213.23 349.88 213.6 355 C213.97 360.12 214.35 367.9 214.8 372.2 C215.25 376.5 215.85 379.05 216.3 380.8 C216.75 382.55 217.3 382.38 217.5 382.7" fill="none" stroke="#b0284c" stroke-width="1.4" stroke-linejoin="round"/>
<path d="M184.3 382.7 C184.62 382.38 185.58 380.9 186.2 380.8 C186.82 380.7 187.28 382.3 188 382.1 C188.72 381.9 189.78 381.25 190.5 379.6 C191.22 377.95 191.8 375.48 192.3 372.2 C192.8 368.92 193.15 364 193.5 359.9 C193.85 355.8 194.08 351.7 194.4 347.6 C194.72 343.5 195.1 338.27 195.4 335.3 C195.7 332.33 195.9 330 196.2 329.8 C196.5 329.6 196.88 332.15 197.2 334.1 C197.52 336.05 197.78 341.3 198.1 341.5 C198.42 341.7 198.77 335.1 199.1 335.3 C199.43 335.5 199.8 338.6 200.1 342.7 C200.4 346.8 200.62 354.15 200.9 359.9 C201.18 365.65 201.45 373.5 201.8 377.2 C202.15 380.9 202.53 381.38 203 382.1 C203.47 382.82 204.13 381.55 204.6 381.5 C205.07 381.45 205.38 381.6 205.8 381.8 C206.22 382 206.88 382.55 207.1 382.7" fill="none" stroke="#3a5688" stroke-width="1.4" stroke-linejoin="round"/>
<rect x="40" y="325.6" width="57.5" height="57.7" fill="none" stroke="#111" stroke-width="1.6"/>
<line x1="38.2" y1="383.3" x2="40" y2="383.3" stroke="#111" stroke-width="0.9"/>
<line x1="38.2" y1="377.53" x2="40" y2="377.53" stroke="#111" stroke-width="0.9"/>
<line x1="38.2" y1="371.76" x2="40" y2="371.76" stroke="#111" stroke-width="0.9"/>
<line x1="38.2" y1="365.99" x2="40" y2="365.99" stroke="#111" stroke-width="0.9"/>
<line x1="38.2" y1="360.22" x2="40" y2="360.22" stroke="#111" stroke-width="0.9"/>
<line x1="38.2" y1="354.45" x2="40" y2="354.45" stroke="#111" stroke-width="0.9"/>
<line x1="38.2" y1="348.68" x2="40" y2="348.68" stroke="#111" stroke-width="0.9"/>
<line x1="38.2" y1="342.91" x2="40" y2="342.91" stroke="#111" stroke-width="0.9"/>
<line x1="38.2" y1="337.14" x2="40" y2="337.14" stroke="#111" stroke-width="0.9"/>
<line x1="38.2" y1="331.37" x2="40" y2="331.37" stroke="#111" stroke-width="0.9"/>
<line x1="38.2" y1="325.6" x2="40" y2="325.6" stroke="#111" stroke-width="0.9"/>
<line x1="41.5" y1="383.6" x2="41.5" y2="386.7" stroke="#111" stroke-width="1.2"/>
<line x1="45.13" y1="383.6" x2="45.13" y2="386.2" stroke="#111" stroke-width="1.2"/>
<line x1="47.26" y1="383.6" x2="47.26" y2="386.2" stroke="#111" stroke-width="1.2"/>
<line x1="48.76" y1="383.6" x2="48.76" y2="386.2" stroke="#111" stroke-width="1.2"/>
<line x1="49.93" y1="383.6" x2="49.93" y2="386.2" stroke="#111" stroke-width="1.2"/>
<line x1="50.89" y1="383.6" x2="50.89" y2="386.2" stroke="#111" stroke-width="1"/>
<line x1="51.7" y1="383.6" x2="51.7" y2="386.2" stroke="#111" stroke-width="1"/>
<line x1="52.4" y1="383.6" x2="52.4" y2="386.2" stroke="#111" stroke-width="1"/>
<line x1="53.01" y1="383.6" x2="53.01" y2="386.2" stroke="#111" stroke-width="1"/>
<line x1="53.57" y1="383.6" x2="53.57" y2="386.7" stroke="#111" stroke-width="1.2"/>
<line x1="57.2" y1="383.6" x2="57.2" y2="386.2" stroke="#111" stroke-width="1.2"/>
<line x1="59.32" y1="383.6" x2="59.32" y2="386.2" stroke="#111" stroke-width="1.2"/>
<line x1="60.83" y1="383.6" x2="60.83" y2="386.2" stroke="#111" stroke-width="1.2"/>
<line x1="62" y1="383.6" x2="62" y2="386.2" stroke="#111" stroke-width="1.2"/>
<line x1="62.95" y1="383.6" x2="62.95" y2="386.2" stroke="#111" stroke-width="1"/>
<line x1="63.76" y1="383.6" x2="63.76" y2="386.2" stroke="#111" stroke-width="1"/>
<line x1="64.46" y1="383.6" x2="64.46" y2="386.2" stroke="#111" stroke-width="1"/>
<line x1="65.08" y1="383.6" x2="65.08" y2="386.2" stroke="#111" stroke-width="1"/>
<line x1="65.63" y1="383.6" x2="65.63" y2="386.7" stroke="#111" stroke-width="1.2"/>
<line x1="69.26" y1="383.6" x2="69.26" y2="386.2" stroke="#111" stroke-width="1.2"/>
<line x1="71.39" y1="383.6" x2="71.39" y2="386.2" stroke="#111" stroke-width="1.2"/>
<line x1="72.89" y1="383.6" x2="72.89" y2="386.2" stroke="#111" stroke-width="1.2"/>
<line x1="74.06" y1="383.6" x2="74.06" y2="386.2" stroke="#111" stroke-width="1.2"/>
<line x1="75.02" y1="383.6" x2="75.02" y2="386.2" stroke="#111" stroke-width="1"/>
<line x1="75.83" y1="383.6" x2="75.83" y2="386.2" stroke="#111" stroke-width="1"/>
<line x1="76.53" y1="383.6" x2="76.53" y2="386.2" stroke="#111" stroke-width="1"/>
<line x1="77.14" y1="383.6" x2="77.14" y2="386.2" stroke="#111" stroke-width="1"/>
<line x1="77.7" y1="383.6" x2="77.7" y2="386.7" stroke="#111" stroke-width="1.2"/>
<line x1="81.33" y1="383.6" x2="81.33" y2="386.2" stroke="#111" stroke-width="1.2"/>
<line x1="83.45" y1="383.6" x2="83.45" y2="386.2" stroke="#111" stroke-width="1.2"/>
<line x1="84.96" y1="383.6" x2="84.96" y2="386.2" stroke="#111" stroke-width="1.2"/>
<line x1="86.13" y1="383.6" x2="86.13" y2="386.2" stroke="#111" stroke-width="1.2"/>
<line x1="87.08" y1="383.6" x2="87.08" y2="386.2" stroke="#111" stroke-width="1"/>
<line x1="87.89" y1="383.6" x2="87.89" y2="386.2" stroke="#111" stroke-width="1"/>
<line x1="88.59" y1="383.6" x2="88.59" y2="386.2" stroke="#111" stroke-width="1"/>
<line x1="89.21" y1="383.6" x2="89.21" y2="386.2" stroke="#111" stroke-width="1"/>
<line x1="89.76" y1="383.6" x2="89.76" y2="386.7" stroke="#111" stroke-width="1.2"/>
<line x1="93.39" y1="383.6" x2="93.39" y2="386.2" stroke="#111" stroke-width="1.2"/>
<line x1="95.52" y1="383.6" x2="95.52" y2="386.2" stroke="#111" stroke-width="1.2"/>
<line x1="97.02" y1="383.6" x2="97.02" y2="386.2" stroke="#111" stroke-width="1.2"/>
<rect x="107.5" y="325.5" width="57.5" height="57.7" fill="none" stroke="#111" stroke-width="1.6"/>
<line x1="105.7" y1="383.2" x2="107.5" y2="383.2" stroke="#111" stroke-width="0.9"/>
<line x1="105.7" y1="377.43" x2="107.5" y2="377.43" stroke="#111" stroke-width="0.9"/>
<line x1="105.7" y1="371.66" x2="107.5" y2="371.66" stroke="#111" stroke-width="0.9"/>
<line x1="105.7" y1="365.89" x2="107.5" y2="365.89" stroke="#111" stroke-width="0.9"/>
<line x1="105.7" y1="360.12" x2="107.5" y2="360.12" stroke="#111" stroke-width="0.9"/>
<line x1="105.7" y1="354.35" x2="107.5" y2="354.35" stroke="#111" stroke-width="0.9"/>
<line x1="105.7" y1="348.58" x2="107.5" y2="348.58" stroke="#111" stroke-width="0.9"/>
<line x1="105.7" y1="342.81" x2="107.5" y2="342.81" stroke="#111" stroke-width="0.9"/>
<line x1="105.7" y1="337.04" x2="107.5" y2="337.04" stroke="#111" stroke-width="0.9"/>
<line x1="105.7" y1="331.27" x2="107.5" y2="331.27" stroke="#111" stroke-width="0.9"/>
<line x1="105.7" y1="325.5" x2="107.5" y2="325.5" stroke="#111" stroke-width="0.9"/>
<line x1="109" y1="383.5" x2="109" y2="386.6" stroke="#111" stroke-width="1.2"/>
<line x1="112.63" y1="383.5" x2="112.63" y2="386.1" stroke="#111" stroke-width="1.2"/>
<line x1="114.76" y1="383.5" x2="114.76" y2="386.1" stroke="#111" stroke-width="1.2"/>
<line x1="116.26" y1="383.5" x2="116.26" y2="386.1" stroke="#111" stroke-width="1.2"/>
<line x1="117.43" y1="383.5" x2="117.43" y2="386.1" stroke="#111" stroke-width="1.2"/>
<line x1="118.39" y1="383.5" x2="118.39" y2="386.1" stroke="#111" stroke-width="1"/>
<line x1="119.2" y1="383.5" x2="119.2" y2="386.1" stroke="#111" stroke-width="1"/>
<line x1="119.9" y1="383.5" x2="119.9" y2="386.1" stroke="#111" stroke-width="1"/>
<line x1="120.51" y1="383.5" x2="120.51" y2="386.1" stroke="#111" stroke-width="1"/>
<line x1="121.07" y1="383.5" x2="121.07" y2="386.6" stroke="#111" stroke-width="1.2"/>
<line x1="124.7" y1="383.5" x2="124.7" y2="386.1" stroke="#111" stroke-width="1.2"/>
<line x1="126.82" y1="383.5" x2="126.82" y2="386.1" stroke="#111" stroke-width="1.2"/>
<line x1="128.33" y1="383.5" x2="128.33" y2="386.1" stroke="#111" stroke-width="1.2"/>
<line x1="129.5" y1="383.5" x2="129.5" y2="386.1" stroke="#111" stroke-width="1.2"/>
<line x1="130.45" y1="383.5" x2="130.45" y2="386.1" stroke="#111" stroke-width="1"/>
<line x1="131.26" y1="383.5" x2="131.26" y2="386.1" stroke="#111" stroke-width="1"/>
<line x1="131.96" y1="383.5" x2="131.96" y2="386.1" stroke="#111" stroke-width="1"/>
<line x1="132.58" y1="383.5" x2="132.58" y2="386.1" stroke="#111" stroke-width="1"/>
<line x1="133.13" y1="383.5" x2="133.13" y2="386.6" stroke="#111" stroke-width="1.2"/>
<line x1="136.76" y1="383.5" x2="136.76" y2="386.1" stroke="#111" stroke-width="1.2"/>
<line x1="138.89" y1="383.5" x2="138.89" y2="386.1" stroke="#111" stroke-width="1.2"/>
<line x1="140.39" y1="383.5" x2="140.39" y2="386.1" stroke="#111" stroke-width="1.2"/>
<line x1="141.56" y1="383.5" x2="141.56" y2="386.1" stroke="#111" stroke-width="1.2"/>
<line x1="142.52" y1="383.5" x2="142.52" y2="386.1" stroke="#111" stroke-width="1"/>
<line x1="143.33" y1="383.5" x2="143.33" y2="386.1" stroke="#111" stroke-width="1"/>
<line x1="144.03" y1="383.5" x2="144.03" y2="386.1" stroke="#111" stroke-width="1"/>
<line x1="144.64" y1="383.5" x2="144.64" y2="386.1" stroke="#111" stroke-width="1"/>
<line x1="145.2" y1="383.5" x2="145.2" y2="386.6" stroke="#111" stroke-width="1.2"/>
<line x1="148.83" y1="383.5" x2="148.83" y2="386.1" stroke="#111" stroke-width="1.2"/>
<line x1="150.95" y1="383.5" x2="150.95" y2="386.1" stroke="#111" stroke-width="1.2"/>
<line x1="152.46" y1="383.5" x2="152.46" y2="386.1" stroke="#111" stroke-width="1.2"/>
<line x1="153.63" y1="383.5" x2="153.63" y2="386.1" stroke="#111" stroke-width="1.2"/>
<line x1="154.58" y1="383.5" x2="154.58" y2="386.1" stroke="#111" stroke-width="1"/>
<line x1="155.39" y1="383.5" x2="155.39" y2="386.1" stroke="#111" stroke-width="1"/>
<line x1="156.09" y1="383.5" x2="156.09" y2="386.1" stroke="#111" stroke-width="1"/>
<line x1="156.71" y1="383.5" x2="156.71" y2="386.1" stroke="#111" stroke-width="1"/>
<line x1="157.26" y1="383.5" x2="157.26" y2="386.6" stroke="#111" stroke-width="1.2"/>
<line x1="160.89" y1="383.5" x2="160.89" y2="386.1" stroke="#111" stroke-width="1.2"/>
<line x1="163.02" y1="383.5" x2="163.02" y2="386.1" stroke="#111" stroke-width="1.2"/>
<line x1="164.52" y1="383.5" x2="164.52" y2="386.1" stroke="#111" stroke-width="1.2"/>
<rect x="174.5" y="325.7" width="58" height="57.5" fill="none" stroke="#111" stroke-width="1.6"/>
<line x1="172.7" y1="383.2" x2="174.5" y2="383.2" stroke="#111" stroke-width="0.9"/>
<line x1="172.7" y1="377.45" x2="174.5" y2="377.45" stroke="#111" stroke-width="0.9"/>
<line x1="172.7" y1="371.7" x2="174.5" y2="371.7" stroke="#111" stroke-width="0.9"/>
<line x1="172.7" y1="365.95" x2="174.5" y2="365.95" stroke="#111" stroke-width="0.9"/>
<line x1="172.7" y1="360.2" x2="174.5" y2="360.2" stroke="#111" stroke-width="0.9"/>
<line x1="172.7" y1="354.45" x2="174.5" y2="354.45" stroke="#111" stroke-width="0.9"/>
<line x1="172.7" y1="348.7" x2="174.5" y2="348.7" stroke="#111" stroke-width="0.9"/>
<line x1="172.7" y1="342.95" x2="174.5" y2="342.95" stroke="#111" stroke-width="0.9"/>
<line x1="172.7" y1="337.2" x2="174.5" y2="337.2" stroke="#111" stroke-width="0.9"/>
<line x1="172.7" y1="331.45" x2="174.5" y2="331.45" stroke="#111" stroke-width="0.9"/>
<line x1="172.7" y1="325.7" x2="174.5" y2="325.7" stroke="#111" stroke-width="0.9"/>
<line x1="176" y1="383.5" x2="176" y2="386.6" stroke="#111" stroke-width="1.2"/>
<line x1="179.66" y1="383.5" x2="179.66" y2="386.1" stroke="#111" stroke-width="1.2"/>
<line x1="181.81" y1="383.5" x2="181.81" y2="386.1" stroke="#111" stroke-width="1.2"/>
<line x1="183.33" y1="383.5" x2="183.33" y2="386.1" stroke="#111" stroke-width="1.2"/>
<line x1="184.51" y1="383.5" x2="184.51" y2="386.1" stroke="#111" stroke-width="1.2"/>
<line x1="185.47" y1="383.5" x2="185.47" y2="386.1" stroke="#111" stroke-width="1"/>
<line x1="186.29" y1="383.5" x2="186.29" y2="386.1" stroke="#111" stroke-width="1"/>
<line x1="186.99" y1="383.5" x2="186.99" y2="386.1" stroke="#111" stroke-width="1"/>
<line x1="187.62" y1="383.5" x2="187.62" y2="386.1" stroke="#111" stroke-width="1"/>
<line x1="188.17" y1="383.5" x2="188.17" y2="386.6" stroke="#111" stroke-width="1.2"/>
<line x1="191.84" y1="383.5" x2="191.84" y2="386.1" stroke="#111" stroke-width="1.2"/>
<line x1="193.98" y1="383.5" x2="193.98" y2="386.1" stroke="#111" stroke-width="1.2"/>
<line x1="195.5" y1="383.5" x2="195.5" y2="386.1" stroke="#111" stroke-width="1.2"/>
<line x1="196.68" y1="383.5" x2="196.68" y2="386.1" stroke="#111" stroke-width="1.2"/>
<line x1="197.65" y1="383.5" x2="197.65" y2="386.1" stroke="#111" stroke-width="1"/>
<line x1="198.46" y1="383.5" x2="198.46" y2="386.1" stroke="#111" stroke-width="1"/>
<line x1="199.17" y1="383.5" x2="199.17" y2="386.1" stroke="#111" stroke-width="1"/>
<line x1="199.79" y1="383.5" x2="199.79" y2="386.1" stroke="#111" stroke-width="1"/>
<line x1="200.35" y1="383.5" x2="200.35" y2="386.6" stroke="#111" stroke-width="1.2"/>
<line x1="204.01" y1="383.5" x2="204.01" y2="386.1" stroke="#111" stroke-width="1.2"/>
<line x1="206.16" y1="383.5" x2="206.16" y2="386.1" stroke="#111" stroke-width="1.2"/>
<line x1="207.68" y1="383.5" x2="207.68" y2="386.1" stroke="#111" stroke-width="1.2"/>
<line x1="208.86" y1="383.5" x2="208.86" y2="386.1" stroke="#111" stroke-width="1.2"/>
<line x1="209.82" y1="383.5" x2="209.82" y2="386.1" stroke="#111" stroke-width="1"/>
<line x1="210.64" y1="383.5" x2="210.64" y2="386.1" stroke="#111" stroke-width="1"/>
<line x1="211.34" y1="383.5" x2="211.34" y2="386.1" stroke="#111" stroke-width="1"/>
<line x1="211.96" y1="383.5" x2="211.96" y2="386.1" stroke="#111" stroke-width="1"/>
<line x1="212.52" y1="383.5" x2="212.52" y2="386.6" stroke="#111" stroke-width="1.2"/>
<line x1="216.19" y1="383.5" x2="216.19" y2="386.1" stroke="#111" stroke-width="1.2"/>
<line x1="218.33" y1="383.5" x2="218.33" y2="386.1" stroke="#111" stroke-width="1.2"/>
<line x1="219.85" y1="383.5" x2="219.85" y2="386.1" stroke="#111" stroke-width="1.2"/>
<line x1="221.03" y1="383.5" x2="221.03" y2="386.1" stroke="#111" stroke-width="1.2"/>
<line x1="221.99" y1="383.5" x2="221.99" y2="386.1" stroke="#111" stroke-width="1"/>
<line x1="222.81" y1="383.5" x2="222.81" y2="386.1" stroke="#111" stroke-width="1"/>
<line x1="223.52" y1="383.5" x2="223.52" y2="386.1" stroke="#111" stroke-width="1"/>
<line x1="224.14" y1="383.5" x2="224.14" y2="386.1" stroke="#111" stroke-width="1"/>
<line x1="224.7" y1="383.5" x2="224.7" y2="386.6" stroke="#111" stroke-width="1.2"/>
<line x1="228.36" y1="383.5" x2="228.36" y2="386.1" stroke="#111" stroke-width="1.2"/>
<line x1="230.5" y1="383.5" x2="230.5" y2="386.1" stroke="#111" stroke-width="1.2"/>
<line x1="232.03" y1="383.5" x2="232.03" y2="386.1" stroke="#111" stroke-width="1.2"/>
<text transform="translate(68.5,397) scale(0.64,1)" font-size="9.4" text-anchor="middle" fill="#2a2a2a" font-weight="bold">ILC1</text>
<text transform="translate(135.9,397) scale(0.66,1)" font-size="9.4" text-anchor="middle" fill="#2a2a2a" font-weight="bold">ILC2</text>
<text transform="translate(203.4,397) scale(0.68,1)" font-size="9.4" text-anchor="middle" fill="#2a2a2a" font-weight="bold">ILC3</text>
<rect x="55.8" y="427.9" width="19.4" height="40.6" fill="#a80a2c"/>
<line x1="91.6" y1="459.3" x2="91.6" y2="460.2" stroke="#111" stroke-width="1.3"/>
<line x1="88.6" y1="459.3" x2="94.6" y2="459.3" stroke="#111" stroke-width="1.3"/>
<rect x="81.2" y="460.2" width="20.8" height="8.3" fill="#2f4e7e"/>
<rect x="116" y="428.5" width="19.8" height="40" fill="#a80a2c"/>
<line x1="152.95" y1="460.2" x2="152.95" y2="462.7" stroke="#111" stroke-width="1.3"/>
<line x1="148.65" y1="460.2" x2="157.25" y2="460.2" stroke="#111" stroke-width="1.3"/>
<rect x="142.9" y="462.7" width="20.1" height="5.8" fill="#2f4e7e"/>
<rect x="178.3" y="427.9" width="19.2" height="40.6" fill="#a80a2c"/>
<line x1="214.8" y1="457.8" x2="214.8" y2="458.3" stroke="#111" stroke-width="1.3"/>
<line x1="211.8" y1="457.8" x2="217.8" y2="457.8" stroke="#111" stroke-width="1.3"/>
<rect x="204.6" y="458.3" width="20.4" height="10.2" fill="#2f4e7e"/>
<line x1="50.4" y1="404.4" x2="50.4" y2="469.1" stroke="#111" stroke-width="1.5"/>
<line x1="49.7" y1="468.5" x2="228.3" y2="468.5" stroke="#111" stroke-width="1.5"/>
<line x1="47.8" y1="468.5" x2="50.4" y2="468.5" stroke="#111" stroke-width="1.2"/>
<text x="44.2" y="471.1" font-size="7.3" text-anchor="end" fill="#333">0.0</text>
<line x1="47.8" y1="448" x2="50.4" y2="448" stroke="#111" stroke-width="1.2"/>
<text x="44.2" y="450.6" font-size="7.3" text-anchor="end" fill="#333">0.5</text>
<line x1="47.8" y1="427.5" x2="50.4" y2="427.5" stroke="#111" stroke-width="1.2"/>
<text x="44.2" y="430.1" font-size="7.3" text-anchor="end" fill="#333">1.0</text>
<line x1="47.8" y1="407" x2="50.4" y2="407" stroke="#111" stroke-width="1.2"/>
<text x="44.2" y="409.6" font-size="7.3" text-anchor="end" fill="#333">1.5</text>
<line x1="63.5" y1="422.3" x2="86.5" y2="422.3" stroke="#111" stroke-width="1.3"/>
<text x="75" y="423.5" font-size="9.5" text-anchor="middle" fill="#111">*</text>
<line x1="126.5" y1="421.7" x2="148" y2="421.7" stroke="#111" stroke-width="1.3"/>
<text x="137.25" y="422.9" font-size="9.5" text-anchor="middle" fill="#111">*</text>
<line x1="186" y1="421.2" x2="207.7" y2="421.2" stroke="#111" stroke-width="1.3"/>
<text x="196.85" y="422.4" font-size="9.5" text-anchor="middle" fill="#111">*</text>
<text transform="translate(26.8,436.2) rotate(-90) scale(0.72,1)" font-size="9" text-anchor="middle" fill="#2a2a2a" font-weight="bold">Fold change in MFI</text>
<text x="65.5" y="479.4" font-size="7.9" text-anchor="middle" fill="#333">Control</text>
<text x="125.9" y="479.4" font-size="7.9" text-anchor="middle" fill="#333">Control</text>
<text x="187.9" y="479.4" font-size="7.9" text-anchor="middle" fill="#333">Control</text>
<text x="91.6" y="479.4" font-size="7.5" text-anchor="middle" fill="#333">Pom</text>
<text x="153" y="479.4" font-size="7.5" text-anchor="middle" fill="#333">Pom</text>
<text x="214.8" y="479.4" font-size="7.5" text-anchor="middle" fill="#333">Pom</text>
<text transform="translate(78.3,491.3) scale(0.65,1)" font-size="9.4" text-anchor="middle" fill="#2a2a2a" font-weight="bold">ILC1</text>
<text transform="translate(139.5,491.3) scale(0.65,1)" font-size="9.4" text-anchor="middle" fill="#2a2a2a" font-weight="bold">ILC2</text>
<text transform="translate(201.5,491.3) scale(0.65,1)" font-size="9.4" text-anchor="middle" fill="#2a2a2a" font-weight="bold">ILC3</text>
<line x1="239" y1="328.5" x2="239" y2="472.6" stroke="#111" stroke-width="1.3"/>
<text transform="translate(250.4,400.8) rotate(-90) scale(0.82,1)" font-size="9.6" text-anchor="middle" fill="#2a2a2a" font-weight="bold">Ikzf1</text>
<line x1="124.4" y1="505.8" x2="136.4" y2="505.8" stroke="#b0284c" stroke-width="1.3"/>
<text x="140.3" y="508.4" font-size="7.5" text-anchor="start" fill="#333">Control</text>
<line x1="180.6" y1="505.8" x2="192.8" y2="505.8" stroke="#2a4a7a" stroke-width="1.3"/>
<text x="196.5" y="508.4" font-size="7.5" text-anchor="start" fill="#333">Pom</text>
<path d="M42.4 569.7 C42.6 568.78 43.15 564.92 43.6 564.2 C44.05 563.48 44.58 566.02 45.1 565.4 C45.62 564.78 46.23 562.55 46.7 560.5 C47.17 558.45 47.48 553.72 47.9 553.1 C48.32 552.48 48.78 555.57 49.2 556.8 C49.62 558.03 50 561.33 50.4 560.5 C50.8 559.67 51.23 555.08 51.6 551.8 C51.97 548.52 52.28 544.48 52.6 540.8 C52.92 537.12 53.2 529.92 53.5 529.7 C53.8 529.48 54.1 536.22 54.4 539.5 C54.7 542.78 55 547.13 55.3 549.4 C55.6 551.67 55.88 553.3 56.2 553.1 C56.52 552.9 56.88 550.05 57.2 548.2 C57.52 546.35 57.8 543.45 58.1 542 C58.4 540.55 58.65 539.5 59 539.5 C59.35 539.5 59.78 541.38 60.2 542 C60.62 542.62 61.08 541.97 61.5 543.2 C61.92 544.43 62.35 549.8 62.7 549.4 C63.05 549 63.3 544.9 63.6 540.8 C63.9 536.7 64.18 528.9 64.5 524.8 C64.82 520.7 65.18 516.62 65.5 516.2 C65.82 515.78 66.12 519.43 66.4 522.3 C66.68 525.17 66.9 529.3 67.2 533.4 C67.5 537.5 67.87 541.98 68.2 546.9 C68.53 551.82 68.88 559.1 69.2 562.9 C69.52 566.7 69.95 568.57 70.1 569.7" fill="none" stroke="#b0284c" stroke-width="1.4" stroke-linejoin="round"/>
<path d="M41.8 569.7 C42 567.95 42.65 562.38 43 559.2 C43.35 556.02 43.6 552.33 43.9 550.6 C44.2 548.87 44.43 549.82 44.8 548.8 C45.17 547.78 45.68 547.07 46.1 544.5 C46.52 541.93 46.93 536.48 47.3 533.4 C47.67 530.32 47.98 526.93 48.3 526 C48.62 525.07 48.92 528.62 49.2 527.8 C49.48 526.98 49.73 522.93 50 521.1 C50.27 519.27 50.53 516.4 50.8 516.8 C51.07 517.2 51.27 519.5 51.6 523.5 C51.93 527.5 52.45 536.9 52.8 540.8 C53.15 544.7 53.43 547.93 53.7 546.9 C53.97 545.87 54.17 538.7 54.4 534.6 C54.63 530.5 54.88 525.27 55.1 522.3 C55.32 519.33 55.47 516.18 55.7 516.8 C55.93 517.42 56.15 523.03 56.5 526 C56.85 528.97 57.38 531.12 57.8 534.6 C58.22 538.08 58.6 542.38 59 546.9 C59.4 551.42 59.78 558.22 60.2 561.7 C60.62 565.18 61.08 567.38 61.5 567.8 C61.92 568.22 62.35 565.02 62.7 564.2 C63.05 563.38 63.3 562.3 63.6 562.9 C63.9 563.5 64.13 566.67 64.5 567.8 C64.87 568.93 65.58 569.38 65.8 569.7" fill="none" stroke="#3a5688" stroke-width="1.4" stroke-linejoin="round"/>
<path d="M105.1 569.7 C105.4 568.98 106.28 567.35 106.9 565.4 C107.52 563.45 108.18 560.67 108.8 558 C109.42 555.33 109.98 552.27 110.6 549.4 C111.22 546.53 111.98 543.07 112.5 540.8 C113.02 538.53 113.3 537.45 113.7 535.8 C114.1 534.15 114.55 532.12 114.9 530.9 C115.25 529.68 115.53 528.28 115.8 528.5 C116.07 528.72 116.23 533.03 116.5 532.2 C116.77 531.37 117.12 526.17 117.4 523.5 C117.68 520.83 117.93 516.4 118.2 516.2 C118.47 516 118.73 521.48 119 522.3 C119.27 523.12 119.52 520.48 119.8 521.1 C120.08 521.72 120.38 523.75 120.7 526 C121.02 528.25 121.33 531.73 121.7 534.6 C122.07 537.47 122.48 540.73 122.9 543.2 C123.32 545.67 123.78 547.13 124.2 549.4 C124.62 551.67 125 554.55 125.4 556.8 C125.8 559.05 126.15 561.07 126.6 562.9 C127.05 564.73 127.58 566.67 128.1 567.8 C128.62 568.93 129.43 569.38 129.7 569.7" fill="none" stroke="#3a5688" stroke-width="1.4" stroke-linejoin="round"/>
<path d="M105.7 569.7 C106.12 569.5 107.38 569.02 108.2 568.5 C109.02 567.98 109.78 566.92 110.6 566.6 C111.42 566.28 112.48 567.42 113.1 566.6 C113.72 565.78 113.85 563.55 114.3 561.7 C114.75 559.85 115.28 556.93 115.8 555.5 C116.32 554.07 116.93 554.53 117.4 553.1 C117.87 551.67 118.2 549.17 118.6 546.9 C119 544.63 119.38 541.75 119.8 539.5 C120.22 537.25 120.75 535.45 121.1 533.4 C121.45 531.35 121.63 529.05 121.9 527.2 C122.17 525.35 122.47 522.5 122.7 522.3 C122.93 522.1 123.05 526.42 123.3 526 C123.55 525.58 123.95 521.43 124.2 519.8 C124.45 518.17 124.6 515.58 124.8 516.2 C125 516.82 125.2 520.23 125.4 523.5 C125.6 526.77 125.75 533.33 126 535.8 C126.25 538.27 126.63 537.27 126.9 538.3 C127.17 539.33 127.33 539.95 127.6 542 C127.87 544.05 128.15 548.13 128.5 550.6 C128.85 553.07 129.3 555.37 129.7 556.8 C130.1 558.23 130.48 557.77 130.9 559.2 C131.32 560.63 131.72 563.75 132.2 565.4 C132.68 567.05 133.2 568.58 133.8 569.1 C134.4 569.62 135.15 568.4 135.8 568.5 C136.45 568.6 137.38 569.5 137.7 569.7" fill="none" stroke="#b0284c" stroke-width="1.4" stroke-linejoin="round"/>
<path d="M173.9 569.7 C174.22 569.28 175.08 568.02 175.8 567.2 C176.52 566.38 177.38 566.13 178.2 564.8 C179.02 563.47 179.98 561.15 180.7 559.2 C181.42 557.25 181.95 555.15 182.5 553.1 C183.05 551.05 183.55 549.17 184 546.9 C184.45 544.63 184.78 542.17 185.2 539.5 C185.62 536.83 186.12 533.77 186.5 530.9 C186.88 528.03 187.2 524.8 187.5 522.3 C187.8 519.8 188 516.1 188.3 515.9 C188.6 515.7 188.98 519.62 189.3 521.1 C189.62 522.58 189.88 524.6 190.2 524.8 C190.52 525 190.88 521.28 191.2 522.3 C191.52 523.32 191.78 527.2 192.1 530.9 C192.42 534.6 192.75 539.98 193.1 544.5 C193.45 549.02 193.8 554.52 194.2 558 C194.6 561.48 194.98 563.55 195.5 565.4 C196.02 567.25 196.58 568.38 197.3 569.1 C198.02 569.82 199.38 569.6 199.8 569.7" fill="none" stroke="#3a5688" stroke-width="1.4" stroke-linejoin="round"/>
<path d="M174.2 570.1 C174.52 569.68 175.38 568.42 176.1 567.6 C176.82 566.78 177.68 566.53 178.5 565.2 C179.32 563.87 180.28 561.55 181 559.6 C181.72 557.65 182.25 555.55 182.8 553.5 C183.35 551.45 183.85 549.57 184.3 547.3 C184.75 545.03 185.08 542.57 185.5 539.9 C185.92 537.23 186.42 534.17 186.8 531.3 C187.18 528.43 187.5 525.2 187.8 522.7 C188.1 520.2 188.3 516.5 188.6 516.3 C188.9 516.1 189.28 520.02 189.6 521.5 C189.92 522.98 190.18 525 190.5 525.2 C190.82 525.4 191.18 521.68 191.5 522.7 C191.82 523.72 192.08 527.6 192.4 531.3 C192.72 535 193.05 540.38 193.4 544.9 C193.75 549.42 194.1 554.92 194.5 558.4 C194.9 561.88 195.28 563.95 195.8 565.8 C196.32 567.65 196.88 568.78 197.6 569.5 C198.32 570.22 199.68 570 200.1 570.1" fill="none" stroke="#7a2a50" stroke-width="1" stroke-linejoin="round"/>
<rect x="37.6" y="512.8" width="57.7" height="57.1" fill="none" stroke="#111" stroke-width="1.6"/>
<line x1="35.8" y1="569.9" x2="37.6" y2="569.9" stroke="#111" stroke-width="0.9"/>
<line x1="35.8" y1="564.19" x2="37.6" y2="564.19" stroke="#111" stroke-width="0.9"/>
<line x1="35.8" y1="558.48" x2="37.6" y2="558.48" stroke="#111" stroke-width="0.9"/>
<line x1="35.8" y1="552.77" x2="37.6" y2="552.77" stroke="#111" stroke-width="0.9"/>
<line x1="35.8" y1="547.06" x2="37.6" y2="547.06" stroke="#111" stroke-width="0.9"/>
<line x1="35.8" y1="541.35" x2="37.6" y2="541.35" stroke="#111" stroke-width="0.9"/>
<line x1="35.8" y1="535.64" x2="37.6" y2="535.64" stroke="#111" stroke-width="0.9"/>
<line x1="35.8" y1="529.93" x2="37.6" y2="529.93" stroke="#111" stroke-width="0.9"/>
<line x1="35.8" y1="524.22" x2="37.6" y2="524.22" stroke="#111" stroke-width="0.9"/>
<line x1="35.8" y1="518.51" x2="37.6" y2="518.51" stroke="#111" stroke-width="0.9"/>
<line x1="35.8" y1="512.8" x2="37.6" y2="512.8" stroke="#111" stroke-width="0.9"/>
<line x1="39.1" y1="570.2" x2="39.1" y2="573.3" stroke="#111" stroke-width="1.2"/>
<line x1="42.75" y1="570.2" x2="42.75" y2="572.8" stroke="#111" stroke-width="1.2"/>
<line x1="44.88" y1="570.2" x2="44.88" y2="572.8" stroke="#111" stroke-width="1.2"/>
<line x1="46.39" y1="570.2" x2="46.39" y2="572.8" stroke="#111" stroke-width="1.2"/>
<line x1="47.56" y1="570.2" x2="47.56" y2="572.8" stroke="#111" stroke-width="1.2"/>
<line x1="48.52" y1="570.2" x2="48.52" y2="572.8" stroke="#111" stroke-width="1"/>
<line x1="49.33" y1="570.2" x2="49.33" y2="572.8" stroke="#111" stroke-width="1"/>
<line x1="50.04" y1="570.2" x2="50.04" y2="572.8" stroke="#111" stroke-width="1"/>
<line x1="50.65" y1="570.2" x2="50.65" y2="572.8" stroke="#111" stroke-width="1"/>
<line x1="51.21" y1="570.2" x2="51.21" y2="573.3" stroke="#111" stroke-width="1.2"/>
<line x1="54.85" y1="570.2" x2="54.85" y2="572.8" stroke="#111" stroke-width="1.2"/>
<line x1="56.99" y1="570.2" x2="56.99" y2="572.8" stroke="#111" stroke-width="1.2"/>
<line x1="58.5" y1="570.2" x2="58.5" y2="572.8" stroke="#111" stroke-width="1.2"/>
<line x1="59.67" y1="570.2" x2="59.67" y2="572.8" stroke="#111" stroke-width="1.2"/>
<line x1="60.63" y1="570.2" x2="60.63" y2="572.8" stroke="#111" stroke-width="1"/>
<line x1="61.44" y1="570.2" x2="61.44" y2="572.8" stroke="#111" stroke-width="1"/>
<line x1="62.14" y1="570.2" x2="62.14" y2="572.8" stroke="#111" stroke-width="1"/>
<line x1="62.76" y1="570.2" x2="62.76" y2="572.8" stroke="#111" stroke-width="1"/>
<line x1="63.32" y1="570.2" x2="63.32" y2="573.3" stroke="#111" stroke-width="1.2"/>
<line x1="66.96" y1="570.2" x2="66.96" y2="572.8" stroke="#111" stroke-width="1.2"/>
<line x1="69.09" y1="570.2" x2="69.09" y2="572.8" stroke="#111" stroke-width="1.2"/>
<line x1="70.61" y1="570.2" x2="70.61" y2="572.8" stroke="#111" stroke-width="1.2"/>
<line x1="71.78" y1="570.2" x2="71.78" y2="572.8" stroke="#111" stroke-width="1.2"/>
<line x1="72.74" y1="570.2" x2="72.74" y2="572.8" stroke="#111" stroke-width="1"/>
<line x1="73.55" y1="570.2" x2="73.55" y2="572.8" stroke="#111" stroke-width="1"/>
<line x1="74.25" y1="570.2" x2="74.25" y2="572.8" stroke="#111" stroke-width="1"/>
<line x1="74.87" y1="570.2" x2="74.87" y2="572.8" stroke="#111" stroke-width="1"/>
<line x1="75.43" y1="570.2" x2="75.43" y2="573.3" stroke="#111" stroke-width="1.2"/>
<line x1="79.07" y1="570.2" x2="79.07" y2="572.8" stroke="#111" stroke-width="1.2"/>
<line x1="81.2" y1="570.2" x2="81.2" y2="572.8" stroke="#111" stroke-width="1.2"/>
<line x1="82.72" y1="570.2" x2="82.72" y2="572.8" stroke="#111" stroke-width="1.2"/>
<line x1="83.89" y1="570.2" x2="83.89" y2="572.8" stroke="#111" stroke-width="1.2"/>
<line x1="84.85" y1="570.2" x2="84.85" y2="572.8" stroke="#111" stroke-width="1"/>
<line x1="85.66" y1="570.2" x2="85.66" y2="572.8" stroke="#111" stroke-width="1"/>
<line x1="86.36" y1="570.2" x2="86.36" y2="572.8" stroke="#111" stroke-width="1"/>
<line x1="86.98" y1="570.2" x2="86.98" y2="572.8" stroke="#111" stroke-width="1"/>
<line x1="87.53" y1="570.2" x2="87.53" y2="573.3" stroke="#111" stroke-width="1.2"/>
<line x1="91.18" y1="570.2" x2="91.18" y2="572.8" stroke="#111" stroke-width="1.2"/>
<line x1="93.31" y1="570.2" x2="93.31" y2="572.8" stroke="#111" stroke-width="1.2"/>
<line x1="94.82" y1="570.2" x2="94.82" y2="572.8" stroke="#111" stroke-width="1.2"/>
<rect x="104.6" y="512.8" width="57.9" height="57.1" fill="none" stroke="#111" stroke-width="1.6"/>
<line x1="102.8" y1="569.9" x2="104.6" y2="569.9" stroke="#111" stroke-width="0.9"/>
<line x1="102.8" y1="564.19" x2="104.6" y2="564.19" stroke="#111" stroke-width="0.9"/>
<line x1="102.8" y1="558.48" x2="104.6" y2="558.48" stroke="#111" stroke-width="0.9"/>
<line x1="102.8" y1="552.77" x2="104.6" y2="552.77" stroke="#111" stroke-width="0.9"/>
<line x1="102.8" y1="547.06" x2="104.6" y2="547.06" stroke="#111" stroke-width="0.9"/>
<line x1="102.8" y1="541.35" x2="104.6" y2="541.35" stroke="#111" stroke-width="0.9"/>
<line x1="102.8" y1="535.64" x2="104.6" y2="535.64" stroke="#111" stroke-width="0.9"/>
<line x1="102.8" y1="529.93" x2="104.6" y2="529.93" stroke="#111" stroke-width="0.9"/>
<line x1="102.8" y1="524.22" x2="104.6" y2="524.22" stroke="#111" stroke-width="0.9"/>
<line x1="102.8" y1="518.51" x2="104.6" y2="518.51" stroke="#111" stroke-width="0.9"/>
<line x1="102.8" y1="512.8" x2="104.6" y2="512.8" stroke="#111" stroke-width="0.9"/>
<line x1="106.1" y1="570.2" x2="106.1" y2="573.3" stroke="#111" stroke-width="1.2"/>
<line x1="109.76" y1="570.2" x2="109.76" y2="572.8" stroke="#111" stroke-width="1.2"/>
<line x1="111.9" y1="570.2" x2="111.9" y2="572.8" stroke="#111" stroke-width="1.2"/>
<line x1="113.42" y1="570.2" x2="113.42" y2="572.8" stroke="#111" stroke-width="1.2"/>
<line x1="114.59" y1="570.2" x2="114.59" y2="572.8" stroke="#111" stroke-width="1.2"/>
<line x1="115.56" y1="570.2" x2="115.56" y2="572.8" stroke="#111" stroke-width="1"/>
<line x1="116.37" y1="570.2" x2="116.37" y2="572.8" stroke="#111" stroke-width="1"/>
<line x1="117.07" y1="570.2" x2="117.07" y2="572.8" stroke="#111" stroke-width="1"/>
<line x1="117.7" y1="570.2" x2="117.7" y2="572.8" stroke="#111" stroke-width="1"/>
<line x1="118.25" y1="570.2" x2="118.25" y2="573.3" stroke="#111" stroke-width="1.2"/>
<line x1="121.91" y1="570.2" x2="121.91" y2="572.8" stroke="#111" stroke-width="1.2"/>
<line x1="124.05" y1="570.2" x2="124.05" y2="572.8" stroke="#111" stroke-width="1.2"/>
<line x1="125.57" y1="570.2" x2="125.57" y2="572.8" stroke="#111" stroke-width="1.2"/>
<line x1="126.75" y1="570.2" x2="126.75" y2="572.8" stroke="#111" stroke-width="1.2"/>
<line x1="127.71" y1="570.2" x2="127.71" y2="572.8" stroke="#111" stroke-width="1"/>
<line x1="128.52" y1="570.2" x2="128.52" y2="572.8" stroke="#111" stroke-width="1"/>
<line x1="129.23" y1="570.2" x2="129.23" y2="572.8" stroke="#111" stroke-width="1"/>
<line x1="129.85" y1="570.2" x2="129.85" y2="572.8" stroke="#111" stroke-width="1"/>
<line x1="130.4" y1="570.2" x2="130.4" y2="573.3" stroke="#111" stroke-width="1.2"/>
<line x1="134.06" y1="570.2" x2="134.06" y2="572.8" stroke="#111" stroke-width="1.2"/>
<line x1="136.2" y1="570.2" x2="136.2" y2="572.8" stroke="#111" stroke-width="1.2"/>
<line x1="137.72" y1="570.2" x2="137.72" y2="572.8" stroke="#111" stroke-width="1.2"/>
<line x1="138.9" y1="570.2" x2="138.9" y2="572.8" stroke="#111" stroke-width="1.2"/>
<line x1="139.86" y1="570.2" x2="139.86" y2="572.8" stroke="#111" stroke-width="1"/>
<line x1="140.67" y1="570.2" x2="140.67" y2="572.8" stroke="#111" stroke-width="1"/>
<line x1="141.38" y1="570.2" x2="141.38" y2="572.8" stroke="#111" stroke-width="1"/>
<line x1="142" y1="570.2" x2="142" y2="572.8" stroke="#111" stroke-width="1"/>
<line x1="142.56" y1="570.2" x2="142.56" y2="573.3" stroke="#111" stroke-width="1.2"/>
<line x1="146.21" y1="570.2" x2="146.21" y2="572.8" stroke="#111" stroke-width="1.2"/>
<line x1="148.35" y1="570.2" x2="148.35" y2="572.8" stroke="#111" stroke-width="1.2"/>
<line x1="149.87" y1="570.2" x2="149.87" y2="572.8" stroke="#111" stroke-width="1.2"/>
<line x1="151.05" y1="570.2" x2="151.05" y2="572.8" stroke="#111" stroke-width="1.2"/>
<line x1="152.01" y1="570.2" x2="152.01" y2="572.8" stroke="#111" stroke-width="1"/>
<line x1="152.83" y1="570.2" x2="152.83" y2="572.8" stroke="#111" stroke-width="1"/>
<line x1="153.53" y1="570.2" x2="153.53" y2="572.8" stroke="#111" stroke-width="1"/>
<line x1="154.15" y1="570.2" x2="154.15" y2="572.8" stroke="#111" stroke-width="1"/>
<line x1="154.71" y1="570.2" x2="154.71" y2="573.3" stroke="#111" stroke-width="1.2"/>
<line x1="158.37" y1="570.2" x2="158.37" y2="572.8" stroke="#111" stroke-width="1.2"/>
<line x1="160.51" y1="570.2" x2="160.51" y2="572.8" stroke="#111" stroke-width="1.2"/>
<line x1="162.03" y1="570.2" x2="162.03" y2="572.8" stroke="#111" stroke-width="1.2"/>
<rect x="171.6" y="512.8" width="57.8" height="57.1" fill="none" stroke="#111" stroke-width="1.6"/>
<line x1="169.8" y1="569.9" x2="171.6" y2="569.9" stroke="#111" stroke-width="0.9"/>
<line x1="169.8" y1="564.19" x2="171.6" y2="564.19" stroke="#111" stroke-width="0.9"/>
<line x1="169.8" y1="558.48" x2="171.6" y2="558.48" stroke="#111" stroke-width="0.9"/>
<line x1="169.8" y1="552.77" x2="171.6" y2="552.77" stroke="#111" stroke-width="0.9"/>
<line x1="169.8" y1="547.06" x2="171.6" y2="547.06" stroke="#111" stroke-width="0.9"/>
<line x1="169.8" y1="541.35" x2="171.6" y2="541.35" stroke="#111" stroke-width="0.9"/>
<line x1="169.8" y1="535.64" x2="171.6" y2="535.64" stroke="#111" stroke-width="0.9"/>
<line x1="169.8" y1="529.93" x2="171.6" y2="529.93" stroke="#111" stroke-width="0.9"/>
<line x1="169.8" y1="524.22" x2="171.6" y2="524.22" stroke="#111" stroke-width="0.9"/>
<line x1="169.8" y1="518.51" x2="171.6" y2="518.51" stroke="#111" stroke-width="0.9"/>
<line x1="169.8" y1="512.8" x2="171.6" y2="512.8" stroke="#111" stroke-width="0.9"/>
<line x1="173.1" y1="570.2" x2="173.1" y2="573.3" stroke="#111" stroke-width="1.2"/>
<line x1="176.75" y1="570.2" x2="176.75" y2="572.8" stroke="#111" stroke-width="1.2"/>
<line x1="178.89" y1="570.2" x2="178.89" y2="572.8" stroke="#111" stroke-width="1.2"/>
<line x1="180.4" y1="570.2" x2="180.4" y2="572.8" stroke="#111" stroke-width="1.2"/>
<line x1="181.58" y1="570.2" x2="181.58" y2="572.8" stroke="#111" stroke-width="1.2"/>
<line x1="182.54" y1="570.2" x2="182.54" y2="572.8" stroke="#111" stroke-width="1"/>
<line x1="183.35" y1="570.2" x2="183.35" y2="572.8" stroke="#111" stroke-width="1"/>
<line x1="184.05" y1="570.2" x2="184.05" y2="572.8" stroke="#111" stroke-width="1"/>
<line x1="184.68" y1="570.2" x2="184.68" y2="572.8" stroke="#111" stroke-width="1"/>
<line x1="185.23" y1="570.2" x2="185.23" y2="573.3" stroke="#111" stroke-width="1.2"/>
<line x1="188.88" y1="570.2" x2="188.88" y2="572.8" stroke="#111" stroke-width="1.2"/>
<line x1="191.02" y1="570.2" x2="191.02" y2="572.8" stroke="#111" stroke-width="1.2"/>
<line x1="192.53" y1="570.2" x2="192.53" y2="572.8" stroke="#111" stroke-width="1.2"/>
<line x1="193.71" y1="570.2" x2="193.71" y2="572.8" stroke="#111" stroke-width="1.2"/>
<line x1="194.67" y1="570.2" x2="194.67" y2="572.8" stroke="#111" stroke-width="1"/>
<line x1="195.48" y1="570.2" x2="195.48" y2="572.8" stroke="#111" stroke-width="1"/>
<line x1="196.19" y1="570.2" x2="196.19" y2="572.8" stroke="#111" stroke-width="1"/>
<line x1="196.81" y1="570.2" x2="196.81" y2="572.8" stroke="#111" stroke-width="1"/>
<line x1="197.36" y1="570.2" x2="197.36" y2="573.3" stroke="#111" stroke-width="1.2"/>
<line x1="201.01" y1="570.2" x2="201.01" y2="572.8" stroke="#111" stroke-width="1.2"/>
<line x1="203.15" y1="570.2" x2="203.15" y2="572.8" stroke="#111" stroke-width="1.2"/>
<line x1="204.66" y1="570.2" x2="204.66" y2="572.8" stroke="#111" stroke-width="1.2"/>
<line x1="205.84" y1="570.2" x2="205.84" y2="572.8" stroke="#111" stroke-width="1.2"/>
<line x1="206.8" y1="570.2" x2="206.8" y2="572.8" stroke="#111" stroke-width="1"/>
<line x1="207.61" y1="570.2" x2="207.61" y2="572.8" stroke="#111" stroke-width="1"/>
<line x1="208.32" y1="570.2" x2="208.32" y2="572.8" stroke="#111" stroke-width="1"/>
<line x1="208.94" y1="570.2" x2="208.94" y2="572.8" stroke="#111" stroke-width="1"/>
<line x1="209.49" y1="570.2" x2="209.49" y2="573.3" stroke="#111" stroke-width="1.2"/>
<line x1="213.14" y1="570.2" x2="213.14" y2="572.8" stroke="#111" stroke-width="1.2"/>
<line x1="215.28" y1="570.2" x2="215.28" y2="572.8" stroke="#111" stroke-width="1.2"/>
<line x1="216.79" y1="570.2" x2="216.79" y2="572.8" stroke="#111" stroke-width="1.2"/>
<line x1="217.97" y1="570.2" x2="217.97" y2="572.8" stroke="#111" stroke-width="1.2"/>
<line x1="218.93" y1="570.2" x2="218.93" y2="572.8" stroke="#111" stroke-width="1"/>
<line x1="219.74" y1="570.2" x2="219.74" y2="572.8" stroke="#111" stroke-width="1"/>
<line x1="220.45" y1="570.2" x2="220.45" y2="572.8" stroke="#111" stroke-width="1"/>
<line x1="221.07" y1="570.2" x2="221.07" y2="572.8" stroke="#111" stroke-width="1"/>
<line x1="221.62" y1="570.2" x2="221.62" y2="573.3" stroke="#111" stroke-width="1.2"/>
<line x1="225.27" y1="570.2" x2="225.27" y2="572.8" stroke="#111" stroke-width="1.2"/>
<line x1="227.41" y1="570.2" x2="227.41" y2="572.8" stroke="#111" stroke-width="1.2"/>
<line x1="228.92" y1="570.2" x2="228.92" y2="572.8" stroke="#111" stroke-width="1.2"/>
<text transform="translate(65.6,583.7) scale(0.65,1)" font-size="9.4" text-anchor="middle" fill="#2a2a2a" font-weight="bold">ILC1</text>
<text transform="translate(133.4,583.7) scale(0.66,1)" font-size="9.4" text-anchor="middle" fill="#2a2a2a" font-weight="bold">ILC2</text>
<text transform="translate(201,583.7) scale(0.68,1)" font-size="9.4" text-anchor="middle" fill="#2a2a2a" font-weight="bold">ILC3</text>
<rect x="56.3" y="614" width="19.3" height="41" fill="#a80a2c"/>
<line x1="92.4" y1="644" x2="92.4" y2="648.3" stroke="#111" stroke-width="1.3"/>
<line x1="88.15" y1="644" x2="96.65" y2="644" stroke="#111" stroke-width="1.3"/>
<rect x="82.3" y="648.3" width="20.2" height="6.7" fill="#2f4e7e"/>
<rect x="117" y="614.2" width="18.8" height="40.8" fill="#a80a2c"/>
<line x1="152.5" y1="639.6" x2="152.5" y2="643" stroke="#111" stroke-width="1.3"/>
<line x1="148.2" y1="639.6" x2="156.8" y2="639.6" stroke="#111" stroke-width="1.3"/>
<rect x="142.3" y="643" width="20.4" height="12" fill="#2f4e7e"/>
<rect x="177" y="614.2" width="19.2" height="40.8" fill="#a80a2c"/>
<line x1="212.85" y1="606" x2="212.85" y2="611.3" stroke="#111" stroke-width="1.3"/>
<line x1="208" y1="606" x2="217.7" y2="606" stroke="#111" stroke-width="1.3"/>
<rect x="202.7" y="611.3" width="20.3" height="43.7" fill="#2f4e7e"/>
<line x1="51" y1="590.6" x2="51" y2="655.6" stroke="#111" stroke-width="1.5"/>
<line x1="50.3" y1="655" x2="227" y2="655" stroke="#111" stroke-width="1.5"/>
<line x1="48.4" y1="655" x2="51" y2="655" stroke="#111" stroke-width="1.2"/>
<text x="44.8" y="657.6" font-size="7.3" text-anchor="end" fill="#333">0.0</text>
<line x1="48.4" y1="634.5" x2="51" y2="634.5" stroke="#111" stroke-width="1.2"/>
<text x="44.8" y="637.1" font-size="7.3" text-anchor="end" fill="#333">0.5</text>
<line x1="48.4" y1="614" x2="51" y2="614" stroke="#111" stroke-width="1.2"/>
<text x="44.8" y="616.6" font-size="7.3" text-anchor="end" fill="#333">1.0</text>
<line x1="48.4" y1="593.5" x2="51" y2="593.5" stroke="#111" stroke-width="1.2"/>
<text x="44.8" y="596.1" font-size="7.3" text-anchor="end" fill="#333">1.5</text>
<line x1="67.3" y1="603" x2="89.8" y2="603" stroke="#111" stroke-width="1.3"/>
<text x="78.55" y="604.2" font-size="9.5" text-anchor="middle" fill="#111">*</text>
<line x1="126.2" y1="603" x2="147.7" y2="603" stroke="#111" stroke-width="1.3"/>
<text x="136.95" y="604.2" font-size="9.5" text-anchor="middle" fill="#111">*</text>
<text transform="translate(26.8,622.7) rotate(-90) scale(0.72,1)" font-size="9" text-anchor="middle" fill="#2a2a2a" font-weight="bold">Fold change in MFI</text>
<text x="65.9" y="667.6" font-size="7.9" text-anchor="middle" fill="#333">Control</text>
<text x="126.4" y="667.6" font-size="7.9" text-anchor="middle" fill="#333">Control</text>
<text x="186.6" y="667.6" font-size="7.9" text-anchor="middle" fill="#333">Control</text>
<text x="92.4" y="667.6" font-size="7.5" text-anchor="middle" fill="#333">Pom</text>
<text x="152.5" y="667.6" font-size="7.5" text-anchor="middle" fill="#333">Pom</text>
<text x="212.8" y="667.6" font-size="7.5" text-anchor="middle" fill="#333">Pom</text>
<text transform="translate(79.4,679.8) scale(0.65,1)" font-size="9.4" text-anchor="middle" fill="#2a2a2a" font-weight="bold">ILC1</text>
<text transform="translate(139.5,679.8) scale(0.65,1)" font-size="9.4" text-anchor="middle" fill="#2a2a2a" font-weight="bold">ILC2</text>
<text transform="translate(199.6,679.8) scale(0.65,1)" font-size="9.4" text-anchor="middle" fill="#2a2a2a" font-weight="bold">ILC3</text>
<line x1="239" y1="512" x2="239" y2="664.6" stroke="#111" stroke-width="1.3"/>
<text transform="translate(250.6,584.8) rotate(-90) scale(0.85,1)" font-size="9.6" text-anchor="middle" fill="#2a2a2a" font-weight="bold">Ikzf3</text>
<text x="205" y="199.4" font-size="11.4" text-anchor="start" fill="#111" font-weight="bold">F</text>
<line x1="236.8" y1="259.6" x2="258.1" y2="259.6" stroke="#b03050" stroke-width="1.2"/>
<rect x="236.8" y="259.6" width="21.3" height="16.7" fill="none" stroke="#b03050" stroke-width="1.2"/>
<line x1="276" y1="222.9" x2="276" y2="237" stroke="#111" stroke-width="1.4"/>
<line x1="271" y1="222.9" x2="282.7" y2="222.9" stroke="#111" stroke-width="1.4"/>
<rect x="264.4" y="237" width="23.1" height="39.3" fill="#2e4b7b"/>
<line x1="229.8" y1="207.8" x2="229.8" y2="277" stroke="#111" stroke-width="1.5"/>
<line x1="229" y1="276.3" x2="291.3" y2="276.3" stroke="#111" stroke-width="1.5"/>
<line x1="227.2" y1="276.3" x2="229.8" y2="276.3" stroke="#111" stroke-width="1.2"/>
<text x="224.5" y="279" font-size="7.5" text-anchor="end" fill="#333">0</text>
<line x1="227.2" y1="259.6" x2="229.8" y2="259.6" stroke="#111" stroke-width="1.2"/>
<text x="224.5" y="262.3" font-size="7.5" text-anchor="end" fill="#333">1</text>
<line x1="227.2" y1="243" x2="229.8" y2="243" stroke="#111" stroke-width="1.2"/>
<text x="224.5" y="245.7" font-size="7.5" text-anchor="end" fill="#333">2</text>
<line x1="227.2" y1="226.3" x2="229.8" y2="226.3" stroke="#111" stroke-width="1.2"/>
<text x="224.5" y="229" font-size="7.5" text-anchor="end" fill="#333">3</text>
<line x1="227.2" y1="209.6" x2="229.8" y2="209.6" stroke="#111" stroke-width="1.2"/>
<text x="224.5" y="212.3" font-size="7.5" text-anchor="end" fill="#333">4</text>
<line x1="247" y1="214.8" x2="276.5" y2="214.8" stroke="#111" stroke-width="1.3"/>
<text x="262" y="215.2" font-size="9" text-anchor="middle" fill="#111">*</text>
<text transform="translate(214.4,241.8) rotate(-90) scale(0.66,1)" font-size="9.4" text-anchor="middle" fill="#2a2a2a" font-weight="bold">Fold change</text>
<text x="247.8" y="286.9" font-size="8.2" text-anchor="middle" fill="#333">Control</text>
<text x="276" y="286.9" font-size="7.8" text-anchor="middle" fill="#333">Pom</text>
<text transform="translate(260.5,300.3) scale(0.75,1)" font-size="9.2" text-anchor="middle" fill="#2a2a2a" font-weight="bold">ILC1- IFN-&#947;</text>
<text x="304.4" y="199.4" font-size="11.4" text-anchor="start" fill="#111" font-weight="bold">G</text>
<text x="365.3" y="209" font-size="7.6" text-anchor="middle" fill="#333">ILC1-IFN-&#947;</text>
<text x="444.5" y="209" font-size="7.6" text-anchor="middle" fill="#333">ILC2-IL13</text>
<rect x="351.7" y="228.6" width="41.9" height="29.8" fill="none" stroke="#111" stroke-width="1.3"/>
<clipPath id="cf1"><rect x="335.2" y="214.3" width="60.4" height="54"/></clipPath>
<g clip-path="url(#cf1)">
<ellipse cx="345.5" cy="235.5" rx="5.8" ry="5.5" fill="#000"/>
<ellipse cx="345.5" cy="243" rx="6.1" ry="6" fill="#000"/>
<ellipse cx="351.2" cy="245.8" rx="3.1" ry="3.7" fill="#000"/>
<ellipse cx="342" cy="249.5" rx="5" ry="5" fill="#000"/>
<ellipse cx="344.5" cy="253" rx="6" ry="5.4" fill="#000"/>
<ellipse cx="345.6" cy="236.5" rx="0.7" ry="0.9" fill="#fff" fill-opacity="0.3"/>
<ellipse cx="345.2" cy="244" rx="0.9" ry="0.8" fill="#fff" fill-opacity="0.25"/>
<ellipse cx="345" cy="253.5" rx="1.3" ry="0.6" fill="#fff" transform="rotate(40 345 253.5)" fill-opacity="0.35"/>
</g>
<rect x="334.5" y="213.6" width="61.8" height="55.4" fill="none" stroke="#111" stroke-width="1.6"/>
<line x1="332.9" y1="266.83" x2="334.5" y2="266.83" stroke="#111" stroke-width="0.8"/>
<line x1="332.9" y1="264.65" x2="334.5" y2="264.65" stroke="#111" stroke-width="0.8"/>
<line x1="332.9" y1="262.48" x2="334.5" y2="262.48" stroke="#111" stroke-width="0.8"/>
<line x1="332.9" y1="260.31" x2="334.5" y2="260.31" stroke="#111" stroke-width="0.8"/>
<line x1="332.1" y1="258.14" x2="334.5" y2="258.14" stroke="#111" stroke-width="0.8"/>
<line x1="332.9" y1="255.96" x2="334.5" y2="255.96" stroke="#111" stroke-width="0.8"/>
<line x1="332.9" y1="253.79" x2="334.5" y2="253.79" stroke="#111" stroke-width="0.8"/>
<line x1="332.9" y1="251.62" x2="334.5" y2="251.62" stroke="#111" stroke-width="0.8"/>
<line x1="332.9" y1="249.45" x2="334.5" y2="249.45" stroke="#111" stroke-width="0.8"/>
<line x1="332.1" y1="247.27" x2="334.5" y2="247.27" stroke="#111" stroke-width="0.8"/>
<line x1="332.9" y1="245.1" x2="334.5" y2="245.1" stroke="#111" stroke-width="0.8"/>
<line x1="332.9" y1="242.93" x2="334.5" y2="242.93" stroke="#111" stroke-width="0.8"/>
<line x1="332.9" y1="240.76" x2="334.5" y2="240.76" stroke="#111" stroke-width="0.8"/>
<line x1="332.9" y1="238.58" x2="334.5" y2="238.58" stroke="#111" stroke-width="0.8"/>
<line x1="332.1" y1="236.41" x2="334.5" y2="236.41" stroke="#111" stroke-width="0.8"/>
<line x1="332.9" y1="234.24" x2="334.5" y2="234.24" stroke="#111" stroke-width="0.8"/>
<line x1="332.9" y1="232.07" x2="334.5" y2="232.07" stroke="#111" stroke-width="0.8"/>
<line x1="332.9" y1="229.89" x2="334.5" y2="229.89" stroke="#111" stroke-width="0.8"/>
<line x1="332.9" y1="227.72" x2="334.5" y2="227.72" stroke="#111" stroke-width="0.8"/>
<line x1="332.1" y1="225.55" x2="334.5" y2="225.55" stroke="#111" stroke-width="0.8"/>
<line x1="332.9" y1="223.38" x2="334.5" y2="223.38" stroke="#111" stroke-width="0.8"/>
<line x1="332.9" y1="221.2" x2="334.5" y2="221.2" stroke="#111" stroke-width="0.8"/>
<line x1="332.9" y1="219.03" x2="334.5" y2="219.03" stroke="#111" stroke-width="0.8"/>
<line x1="332.9" y1="216.86" x2="334.5" y2="216.86" stroke="#111" stroke-width="0.8"/>
<line x1="332.1" y1="214.69" x2="334.5" y2="214.69" stroke="#111" stroke-width="0.8"/>
<line x1="336" y1="269.3" x2="336" y2="272.2" stroke="#111" stroke-width="1.1"/>
<line x1="339.91" y1="269.3" x2="339.91" y2="271.6" stroke="#111" stroke-width="1.1"/>
<line x1="342.2" y1="269.3" x2="342.2" y2="271.6" stroke="#111" stroke-width="1.1"/>
<line x1="343.83" y1="269.3" x2="343.83" y2="271.6" stroke="#111" stroke-width="1.1"/>
<line x1="345.09" y1="269.3" x2="345.09" y2="271.6" stroke="#111" stroke-width="1.1"/>
<line x1="346.12" y1="269.3" x2="346.12" y2="271.6" stroke="#111" stroke-width="0.9"/>
<line x1="346.99" y1="269.3" x2="346.99" y2="271.6" stroke="#111" stroke-width="0.9"/>
<line x1="347.74" y1="269.3" x2="347.74" y2="271.6" stroke="#111" stroke-width="0.9"/>
<line x1="348.41" y1="269.3" x2="348.41" y2="271.6" stroke="#111" stroke-width="0.9"/>
<line x1="349" y1="269.3" x2="349" y2="272.2" stroke="#111" stroke-width="1.1"/>
<line x1="352.91" y1="269.3" x2="352.91" y2="271.6" stroke="#111" stroke-width="1.1"/>
<line x1="355.2" y1="269.3" x2="355.2" y2="271.6" stroke="#111" stroke-width="1.1"/>
<line x1="356.83" y1="269.3" x2="356.83" y2="271.6" stroke="#111" stroke-width="1.1"/>
<line x1="358.09" y1="269.3" x2="358.09" y2="271.6" stroke="#111" stroke-width="1.1"/>
<line x1="359.12" y1="269.3" x2="359.12" y2="271.6" stroke="#111" stroke-width="0.9"/>
<line x1="359.99" y1="269.3" x2="359.99" y2="271.6" stroke="#111" stroke-width="0.9"/>
<line x1="360.74" y1="269.3" x2="360.74" y2="271.6" stroke="#111" stroke-width="0.9"/>
<line x1="361.41" y1="269.3" x2="361.41" y2="271.6" stroke="#111" stroke-width="0.9"/>
<line x1="362" y1="269.3" x2="362" y2="272.2" stroke="#111" stroke-width="1.1"/>
<line x1="365.91" y1="269.3" x2="365.91" y2="271.6" stroke="#111" stroke-width="1.1"/>
<line x1="368.2" y1="269.3" x2="368.2" y2="271.6" stroke="#111" stroke-width="1.1"/>
<line x1="369.83" y1="269.3" x2="369.83" y2="271.6" stroke="#111" stroke-width="1.1"/>
<line x1="371.09" y1="269.3" x2="371.09" y2="271.6" stroke="#111" stroke-width="1.1"/>
<line x1="372.12" y1="269.3" x2="372.12" y2="271.6" stroke="#111" stroke-width="0.9"/>
<line x1="372.99" y1="269.3" x2="372.99" y2="271.6" stroke="#111" stroke-width="0.9"/>
<line x1="373.74" y1="269.3" x2="373.74" y2="271.6" stroke="#111" stroke-width="0.9"/>
<line x1="374.41" y1="269.3" x2="374.41" y2="271.6" stroke="#111" stroke-width="0.9"/>
<line x1="375" y1="269.3" x2="375" y2="272.2" stroke="#111" stroke-width="1.1"/>
<line x1="378.91" y1="269.3" x2="378.91" y2="271.6" stroke="#111" stroke-width="1.1"/>
<line x1="381.2" y1="269.3" x2="381.2" y2="271.6" stroke="#111" stroke-width="1.1"/>
<line x1="382.83" y1="269.3" x2="382.83" y2="271.6" stroke="#111" stroke-width="1.1"/>
<line x1="384.09" y1="269.3" x2="384.09" y2="271.6" stroke="#111" stroke-width="1.1"/>
<line x1="385.12" y1="269.3" x2="385.12" y2="271.6" stroke="#111" stroke-width="0.9"/>
<line x1="385.99" y1="269.3" x2="385.99" y2="271.6" stroke="#111" stroke-width="0.9"/>
<line x1="386.74" y1="269.3" x2="386.74" y2="271.6" stroke="#111" stroke-width="0.9"/>
<line x1="387.41" y1="269.3" x2="387.41" y2="271.6" stroke="#111" stroke-width="0.9"/>
<line x1="388" y1="269.3" x2="388" y2="272.2" stroke="#111" stroke-width="1.1"/>
<line x1="391.91" y1="269.3" x2="391.91" y2="271.6" stroke="#111" stroke-width="1.1"/>
<line x1="394.2" y1="269.3" x2="394.2" y2="271.6" stroke="#111" stroke-width="1.1"/>
<line x1="395.83" y1="269.3" x2="395.83" y2="271.6" stroke="#111" stroke-width="1.1"/>
<text x="364.4" y="226.3" font-size="7.6" text-anchor="middle" fill="#333">0</text>
<rect x="439.8" y="227.8" width="32" height="34.3" fill="none" stroke="#111" stroke-width="1.3"/>
<clipPath id="cf2"><rect x="414.9" y="214.3" width="58.8" height="54"/></clipPath>
<g clip-path="url(#cf2)">
<ellipse cx="419.8" cy="236.5" rx="4.4" ry="4.4" fill="#000"/>
<ellipse cx="421.6" cy="248.5" rx="4.5" ry="4.5" fill="#000"/>
<ellipse cx="433.8" cy="237.3" rx="4.5" ry="4.5" fill="#000"/>
<ellipse cx="434" cy="245.5" rx="7" ry="6" fill="#000"/>
<ellipse cx="433" cy="253.5" rx="7.3" ry="7" fill="#000"/>
<ellipse cx="437.5" cy="250" rx="3.8" ry="4.5" fill="#000"/>
<ellipse cx="426" cy="248" rx="2.7" ry="2.1" fill="#000"/>
<ellipse cx="419.8" cy="236.5" rx="2.42" ry="2.42" fill="none" stroke="#fff" stroke-width="0.4" stroke-opacity="0.2"/>
<ellipse cx="421.6" cy="248.5" rx="2.48" ry="2.48" fill="none" stroke="#fff" stroke-width="0.4" stroke-opacity="0.2"/>
<ellipse cx="433.8" cy="237.3" rx="2.48" ry="2.48" fill="none" stroke="#fff" stroke-width="0.4" stroke-opacity="0.2"/>
<ellipse cx="434" cy="245.5" rx="4.03" ry="3.41" fill="none" stroke="#fff" stroke-width="0.4" stroke-opacity="0.2"/>
<ellipse cx="433" cy="253.5" rx="4.22" ry="4.03" fill="none" stroke="#fff" stroke-width="0.4" stroke-opacity="0.2"/>
<ellipse cx="437.5" cy="250" rx="2.05" ry="2.48" fill="none" stroke="#fff" stroke-width="0.4" stroke-opacity="0.2"/>
<ellipse cx="419.8" cy="236.5" rx="0.6" ry="0.6" fill="#fff" fill-opacity="0.5"/>
<ellipse cx="433.8" cy="237.5" rx="0.6" ry="0.6" fill="#fff" fill-opacity="0.5"/>
<ellipse cx="435" cy="246" rx="0.7" ry="0.7" fill="#fff" fill-opacity="0.5"/>
<ellipse cx="421.6" cy="248.5" rx="0.6" ry="0.6" fill="#fff" fill-opacity="0.5"/>
</g>
<rect x="414.2" y="213.6" width="60.2" height="55.4" fill="none" stroke="#111" stroke-width="1.6"/>
<line x1="412.6" y1="266.83" x2="414.2" y2="266.83" stroke="#111" stroke-width="0.8"/>
<line x1="412.6" y1="264.65" x2="414.2" y2="264.65" stroke="#111" stroke-width="0.8"/>
<line x1="412.6" y1="262.48" x2="414.2" y2="262.48" stroke="#111" stroke-width="0.8"/>
<line x1="412.6" y1="260.31" x2="414.2" y2="260.31" stroke="#111" stroke-width="0.8"/>
<line x1="411.8" y1="258.14" x2="414.2" y2="258.14" stroke="#111" stroke-width="0.8"/>
<line x1="412.6" y1="255.96" x2="414.2" y2="255.96" stroke="#111" stroke-width="0.8"/>
<line x1="412.6" y1="253.79" x2="414.2" y2="253.79" stroke="#111" stroke-width="0.8"/>
<line x1="412.6" y1="251.62" x2="414.2" y2="251.62" stroke="#111" stroke-width="0.8"/>
<line x1="412.6" y1="249.45" x2="414.2" y2="249.45" stroke="#111" stroke-width="0.8"/>
<line x1="411.8" y1="247.27" x2="414.2" y2="247.27" stroke="#111" stroke-width="0.8"/>
<line x1="412.6" y1="245.1" x2="414.2" y2="245.1" stroke="#111" stroke-width="0.8"/>
<line x1="412.6" y1="242.93" x2="414.2" y2="242.93" stroke="#111" stroke-width="0.8"/>
<line x1="412.6" y1="240.76" x2="414.2" y2="240.76" stroke="#111" stroke-width="0.8"/>
<line x1="412.6" y1="238.58" x2="414.2" y2="238.58" stroke="#111" stroke-width="0.8"/>
<line x1="411.8" y1="236.41" x2="414.2" y2="236.41" stroke="#111" stroke-width="0.8"/>
<line x1="412.6" y1="234.24" x2="414.2" y2="234.24" stroke="#111" stroke-width="0.8"/>
<line x1="412.6" y1="232.07" x2="414.2" y2="232.07" stroke="#111" stroke-width="0.8"/>
<line x1="412.6" y1="229.89" x2="414.2" y2="229.89" stroke="#111" stroke-width="0.8"/>
<line x1="412.6" y1="227.72" x2="414.2" y2="227.72" stroke="#111" stroke-width="0.8"/>
<line x1="411.8" y1="225.55" x2="414.2" y2="225.55" stroke="#111" stroke-width="0.8"/>
<line x1="412.6" y1="223.38" x2="414.2" y2="223.38" stroke="#111" stroke-width="0.8"/>
<line x1="412.6" y1="221.2" x2="414.2" y2="221.2" stroke="#111" stroke-width="0.8"/>
<line x1="412.6" y1="219.03" x2="414.2" y2="219.03" stroke="#111" stroke-width="0.8"/>
<line x1="412.6" y1="216.86" x2="414.2" y2="216.86" stroke="#111" stroke-width="0.8"/>
<line x1="411.8" y1="214.69" x2="414.2" y2="214.69" stroke="#111" stroke-width="0.8"/>
<line x1="415.7" y1="269.3" x2="415.7" y2="272.2" stroke="#111" stroke-width="1.1"/>
<line x1="419.51" y1="269.3" x2="419.51" y2="271.6" stroke="#111" stroke-width="1.1"/>
<line x1="421.74" y1="269.3" x2="421.74" y2="271.6" stroke="#111" stroke-width="1.1"/>
<line x1="423.32" y1="269.3" x2="423.32" y2="271.6" stroke="#111" stroke-width="1.1"/>
<line x1="424.54" y1="269.3" x2="424.54" y2="271.6" stroke="#111" stroke-width="1.1"/>
<line x1="425.55" y1="269.3" x2="425.55" y2="271.6" stroke="#111" stroke-width="0.9"/>
<line x1="426.39" y1="269.3" x2="426.39" y2="271.6" stroke="#111" stroke-width="0.9"/>
<line x1="427.13" y1="269.3" x2="427.13" y2="271.6" stroke="#111" stroke-width="0.9"/>
<line x1="427.77" y1="269.3" x2="427.77" y2="271.6" stroke="#111" stroke-width="0.9"/>
<line x1="428.35" y1="269.3" x2="428.35" y2="272.2" stroke="#111" stroke-width="1.1"/>
<line x1="432.16" y1="269.3" x2="432.16" y2="271.6" stroke="#111" stroke-width="1.1"/>
<line x1="434.39" y1="269.3" x2="434.39" y2="271.6" stroke="#111" stroke-width="1.1"/>
<line x1="435.97" y1="269.3" x2="435.97" y2="271.6" stroke="#111" stroke-width="1.1"/>
<line x1="437.2" y1="269.3" x2="437.2" y2="271.6" stroke="#111" stroke-width="1.1"/>
<line x1="438.2" y1="269.3" x2="438.2" y2="271.6" stroke="#111" stroke-width="0.9"/>
<line x1="439.04" y1="269.3" x2="439.04" y2="271.6" stroke="#111" stroke-width="0.9"/>
<line x1="439.78" y1="269.3" x2="439.78" y2="271.6" stroke="#111" stroke-width="0.9"/>
<line x1="440.43" y1="269.3" x2="440.43" y2="271.6" stroke="#111" stroke-width="0.9"/>
<line x1="441" y1="269.3" x2="441" y2="272.2" stroke="#111" stroke-width="1.1"/>
<line x1="444.81" y1="269.3" x2="444.81" y2="271.6" stroke="#111" stroke-width="1.1"/>
<line x1="447.04" y1="269.3" x2="447.04" y2="271.6" stroke="#111" stroke-width="1.1"/>
<line x1="448.62" y1="269.3" x2="448.62" y2="271.6" stroke="#111" stroke-width="1.1"/>
<line x1="449.85" y1="269.3" x2="449.85" y2="271.6" stroke="#111" stroke-width="1.1"/>
<line x1="450.85" y1="269.3" x2="450.85" y2="271.6" stroke="#111" stroke-width="0.9"/>
<line x1="451.7" y1="269.3" x2="451.7" y2="271.6" stroke="#111" stroke-width="0.9"/>
<line x1="452.43" y1="269.3" x2="452.43" y2="271.6" stroke="#111" stroke-width="0.9"/>
<line x1="453.08" y1="269.3" x2="453.08" y2="271.6" stroke="#111" stroke-width="0.9"/>
<line x1="453.66" y1="269.3" x2="453.66" y2="272.2" stroke="#111" stroke-width="1.1"/>
<line x1="457.47" y1="269.3" x2="457.47" y2="271.6" stroke="#111" stroke-width="1.1"/>
<line x1="459.69" y1="269.3" x2="459.69" y2="271.6" stroke="#111" stroke-width="1.1"/>
<line x1="461.27" y1="269.3" x2="461.27" y2="271.6" stroke="#111" stroke-width="1.1"/>
<line x1="462.5" y1="269.3" x2="462.5" y2="271.6" stroke="#111" stroke-width="1.1"/>
<line x1="463.5" y1="269.3" x2="463.5" y2="271.6" stroke="#111" stroke-width="0.9"/>
<line x1="464.35" y1="269.3" x2="464.35" y2="271.6" stroke="#111" stroke-width="0.9"/>
<line x1="465.08" y1="269.3" x2="465.08" y2="271.6" stroke="#111" stroke-width="0.9"/>
<line x1="465.73" y1="269.3" x2="465.73" y2="271.6" stroke="#111" stroke-width="0.9"/>
<line x1="466.31" y1="269.3" x2="466.31" y2="272.2" stroke="#111" stroke-width="1.1"/>
<line x1="470.12" y1="269.3" x2="470.12" y2="271.6" stroke="#111" stroke-width="1.1"/>
<line x1="472.35" y1="269.3" x2="472.35" y2="271.6" stroke="#111" stroke-width="1.1"/>
<line x1="473.93" y1="269.3" x2="473.93" y2="271.6" stroke="#111" stroke-width="1.1"/>
<text x="453.7" y="225.6" font-size="7.6" text-anchor="middle" fill="#333">0</text>
<rect x="350.6" y="288.6" width="40.8" height="33.4" fill="none" stroke="#111" stroke-width="1.3"/>
<clipPath id="cf3"><rect x="335" y="274.8" width="60.6" height="53.8"/></clipPath>
<g clip-path="url(#cf3)">
<ellipse cx="340.5" cy="301" rx="3.9" ry="4.7" fill="#000"/>
<ellipse cx="345.5" cy="298.3" rx="4.7" ry="4.3" fill="#000"/>
<ellipse cx="346" cy="304.5" rx="5.7" ry="4.7" fill="#000"/>
<ellipse cx="350" cy="306" rx="2.7" ry="3.7" fill="#000"/>
<ellipse cx="344.5" cy="311.5" rx="5.3" ry="4.7" fill="#000"/>
<ellipse cx="345" cy="316.8" rx="4.7" ry="4.7" fill="#000"/>
<ellipse cx="360.5" cy="316.6" rx="4.2" ry="4.2" fill="#000"/>
<ellipse cx="368.3" cy="314.4" rx="4.2" ry="4.2" fill="#000"/>
<ellipse cx="364.4" cy="315.5" rx="4" ry="3.1" fill="#000" transform="rotate(-15 364.4 315.5)"/>
<ellipse cx="340.5" cy="301" rx="2.11" ry="2.6" fill="none" stroke="#fff" stroke-width="0.4" stroke-opacity="0.2"/>
<ellipse cx="345.5" cy="298.3" rx="2.6" ry="2.36" fill="none" stroke="#fff" stroke-width="0.4" stroke-opacity="0.2"/>
<ellipse cx="346" cy="304.5" rx="3.22" ry="2.6" fill="none" stroke="#fff" stroke-width="0.4" stroke-opacity="0.2"/>
<ellipse cx="344.5" cy="311.5" rx="2.98" ry="2.6" fill="none" stroke="#fff" stroke-width="0.4" stroke-opacity="0.2"/>
<ellipse cx="345" cy="316.8" rx="2.6" ry="2.6" fill="none" stroke="#fff" stroke-width="0.4" stroke-opacity="0.2"/>
<ellipse cx="360.5" cy="316.6" rx="2.29" ry="2.29" fill="none" stroke="#fff" stroke-width="0.4" stroke-opacity="0.2"/>
<ellipse cx="368.3" cy="314.4" rx="2.29" ry="2.29" fill="none" stroke="#fff" stroke-width="0.4" stroke-opacity="0.2"/>
<ellipse cx="344.5" cy="307.5" rx="0.8" ry="0.8" fill="#fff" fill-opacity="0.5"/>
<ellipse cx="345" cy="316" rx="0.6" ry="1.1" fill="#fff" fill-opacity="0.5"/>
<ellipse cx="364.5" cy="315.6" rx="0.6" ry="0.6" fill="#fff" fill-opacity="0.4"/>
</g>
<rect x="334.3" y="274.1" width="62" height="55.2" fill="none" stroke="#111" stroke-width="1.6"/>
<line x1="332.7" y1="327.14" x2="334.3" y2="327.14" stroke="#111" stroke-width="0.8"/>
<line x1="332.7" y1="324.97" x2="334.3" y2="324.97" stroke="#111" stroke-width="0.8"/>
<line x1="332.7" y1="322.81" x2="334.3" y2="322.81" stroke="#111" stroke-width="0.8"/>
<line x1="332.7" y1="320.64" x2="334.3" y2="320.64" stroke="#111" stroke-width="0.8"/>
<line x1="331.9" y1="318.48" x2="334.3" y2="318.48" stroke="#111" stroke-width="0.8"/>
<line x1="332.7" y1="316.31" x2="334.3" y2="316.31" stroke="#111" stroke-width="0.8"/>
<line x1="332.7" y1="314.15" x2="334.3" y2="314.15" stroke="#111" stroke-width="0.8"/>
<line x1="332.7" y1="311.98" x2="334.3" y2="311.98" stroke="#111" stroke-width="0.8"/>
<line x1="332.7" y1="309.82" x2="334.3" y2="309.82" stroke="#111" stroke-width="0.8"/>
<line x1="331.9" y1="307.65" x2="334.3" y2="307.65" stroke="#111" stroke-width="0.8"/>
<line x1="332.7" y1="305.49" x2="334.3" y2="305.49" stroke="#111" stroke-width="0.8"/>
<line x1="332.7" y1="303.32" x2="334.3" y2="303.32" stroke="#111" stroke-width="0.8"/>
<line x1="332.7" y1="301.16" x2="334.3" y2="301.16" stroke="#111" stroke-width="0.8"/>
<line x1="332.7" y1="298.99" x2="334.3" y2="298.99" stroke="#111" stroke-width="0.8"/>
<line x1="331.9" y1="296.83" x2="334.3" y2="296.83" stroke="#111" stroke-width="0.8"/>
<line x1="332.7" y1="294.66" x2="334.3" y2="294.66" stroke="#111" stroke-width="0.8"/>
<line x1="332.7" y1="292.5" x2="334.3" y2="292.5" stroke="#111" stroke-width="0.8"/>
<line x1="332.7" y1="290.34" x2="334.3" y2="290.34" stroke="#111" stroke-width="0.8"/>
<line x1="332.7" y1="288.17" x2="334.3" y2="288.17" stroke="#111" stroke-width="0.8"/>
<line x1="331.9" y1="286.01" x2="334.3" y2="286.01" stroke="#111" stroke-width="0.8"/>
<line x1="332.7" y1="283.84" x2="334.3" y2="283.84" stroke="#111" stroke-width="0.8"/>
<line x1="332.7" y1="281.68" x2="334.3" y2="281.68" stroke="#111" stroke-width="0.8"/>
<line x1="332.7" y1="279.51" x2="334.3" y2="279.51" stroke="#111" stroke-width="0.8"/>
<line x1="332.7" y1="277.35" x2="334.3" y2="277.35" stroke="#111" stroke-width="0.8"/>
<line x1="331.9" y1="275.18" x2="334.3" y2="275.18" stroke="#111" stroke-width="0.8"/>
<line x1="335.8" y1="329.6" x2="335.8" y2="332.5" stroke="#111" stroke-width="1.1"/>
<line x1="339.73" y1="329.6" x2="339.73" y2="331.9" stroke="#111" stroke-width="1.1"/>
<line x1="342.02" y1="329.6" x2="342.02" y2="331.9" stroke="#111" stroke-width="1.1"/>
<line x1="343.65" y1="329.6" x2="343.65" y2="331.9" stroke="#111" stroke-width="1.1"/>
<line x1="344.92" y1="329.6" x2="344.92" y2="331.9" stroke="#111" stroke-width="1.1"/>
<line x1="345.95" y1="329.6" x2="345.95" y2="331.9" stroke="#111" stroke-width="0.9"/>
<line x1="346.82" y1="329.6" x2="346.82" y2="331.9" stroke="#111" stroke-width="0.9"/>
<line x1="347.58" y1="329.6" x2="347.58" y2="331.9" stroke="#111" stroke-width="0.9"/>
<line x1="348.25" y1="329.6" x2="348.25" y2="331.9" stroke="#111" stroke-width="0.9"/>
<line x1="348.84" y1="329.6" x2="348.84" y2="332.5" stroke="#111" stroke-width="1.1"/>
<line x1="352.77" y1="329.6" x2="352.77" y2="331.9" stroke="#111" stroke-width="1.1"/>
<line x1="355.07" y1="329.6" x2="355.07" y2="331.9" stroke="#111" stroke-width="1.1"/>
<line x1="356.7" y1="329.6" x2="356.7" y2="331.9" stroke="#111" stroke-width="1.1"/>
<line x1="357.96" y1="329.6" x2="357.96" y2="331.9" stroke="#111" stroke-width="1.1"/>
<line x1="358.99" y1="329.6" x2="358.99" y2="331.9" stroke="#111" stroke-width="0.9"/>
<line x1="359.87" y1="329.6" x2="359.87" y2="331.9" stroke="#111" stroke-width="0.9"/>
<line x1="360.62" y1="329.6" x2="360.62" y2="331.9" stroke="#111" stroke-width="0.9"/>
<line x1="361.29" y1="329.6" x2="361.29" y2="331.9" stroke="#111" stroke-width="0.9"/>
<line x1="361.89" y1="329.6" x2="361.89" y2="332.5" stroke="#111" stroke-width="1.1"/>
<line x1="365.81" y1="329.6" x2="365.81" y2="331.9" stroke="#111" stroke-width="1.1"/>
<line x1="368.11" y1="329.6" x2="368.11" y2="331.9" stroke="#111" stroke-width="1.1"/>
<line x1="369.74" y1="329.6" x2="369.74" y2="331.9" stroke="#111" stroke-width="1.1"/>
<line x1="371" y1="329.6" x2="371" y2="331.9" stroke="#111" stroke-width="1.1"/>
<line x1="372.04" y1="329.6" x2="372.04" y2="331.9" stroke="#111" stroke-width="0.9"/>
<line x1="372.91" y1="329.6" x2="372.91" y2="331.9" stroke="#111" stroke-width="0.9"/>
<line x1="373.67" y1="329.6" x2="373.67" y2="331.9" stroke="#111" stroke-width="0.9"/>
<line x1="374.33" y1="329.6" x2="374.33" y2="331.9" stroke="#111" stroke-width="0.9"/>
<line x1="374.93" y1="329.6" x2="374.93" y2="332.5" stroke="#111" stroke-width="1.1"/>
<line x1="378.86" y1="329.6" x2="378.86" y2="331.9" stroke="#111" stroke-width="1.1"/>
<line x1="381.15" y1="329.6" x2="381.15" y2="331.9" stroke="#111" stroke-width="1.1"/>
<line x1="382.78" y1="329.6" x2="382.78" y2="331.9" stroke="#111" stroke-width="1.1"/>
<line x1="384.05" y1="329.6" x2="384.05" y2="331.9" stroke="#111" stroke-width="1.1"/>
<line x1="385.08" y1="329.6" x2="385.08" y2="331.9" stroke="#111" stroke-width="0.9"/>
<line x1="385.95" y1="329.6" x2="385.95" y2="331.9" stroke="#111" stroke-width="0.9"/>
<line x1="386.71" y1="329.6" x2="386.71" y2="331.9" stroke="#111" stroke-width="0.9"/>
<line x1="387.38" y1="329.6" x2="387.38" y2="331.9" stroke="#111" stroke-width="0.9"/>
<line x1="387.97" y1="329.6" x2="387.97" y2="332.5" stroke="#111" stroke-width="1.1"/>
<line x1="391.9" y1="329.6" x2="391.9" y2="331.9" stroke="#111" stroke-width="1.1"/>
<line x1="394.2" y1="329.6" x2="394.2" y2="331.9" stroke="#111" stroke-width="1.1"/>
<line x1="395.83" y1="329.6" x2="395.83" y2="331.9" stroke="#111" stroke-width="1.1"/>
<text x="378.2" y="285.8" font-size="7.6" text-anchor="middle" fill="#333">16.7</text>
<rect x="438.7" y="288.6" width="32.9" height="34" fill="none" stroke="#111" stroke-width="1.3"/>
<clipPath id="cf4"><rect x="413.2" y="275" width="60.4" height="53.6"/></clipPath>
<g clip-path="url(#cf4)">
<ellipse cx="445.4" cy="296.5" rx="6.3" ry="4.5" fill="#000"/>
<ellipse cx="418.8" cy="304" rx="5.7" ry="5.7" fill="#000"/>
<ellipse cx="452.9" cy="304.6" rx="5.3" ry="5.3" fill="#000"/>
<ellipse cx="419" cy="316.5" rx="7" ry="7" fill="#000"/>
<ellipse cx="428" cy="312" rx="7" ry="6.5" fill="#000"/>
<ellipse cx="437" cy="310" rx="7" ry="6.7" fill="#000"/>
<ellipse cx="444" cy="309" rx="5.5" ry="5.1" fill="#000"/>
<ellipse cx="425.5" cy="306.5" rx="4.5" ry="4.1" fill="#000"/>
<ellipse cx="415" cy="311" rx="3.5" ry="4.5" fill="#000"/>
<ellipse cx="445.4" cy="296.5" rx="3.6" ry="2.48" fill="none" stroke="#fff" stroke-width="0.4" stroke-opacity="0.2"/>
<ellipse cx="418.8" cy="304" rx="3.22" ry="3.22" fill="none" stroke="#fff" stroke-width="0.4" stroke-opacity="0.2"/>
<ellipse cx="452.9" cy="304.6" rx="2.98" ry="2.98" fill="none" stroke="#fff" stroke-width="0.4" stroke-opacity="0.2"/>
<ellipse cx="419" cy="316.5" rx="4.03" ry="4.03" fill="none" stroke="#fff" stroke-width="0.4" stroke-opacity="0.2"/>
<ellipse cx="428" cy="312" rx="4.03" ry="3.72" fill="none" stroke="#fff" stroke-width="0.4" stroke-opacity="0.2"/>
<ellipse cx="437" cy="310" rx="4.03" ry="3.84" fill="none" stroke="#fff" stroke-width="0.4" stroke-opacity="0.2"/>
<ellipse cx="444" cy="309" rx="3.1" ry="2.85" fill="none" stroke="#fff" stroke-width="0.4" stroke-opacity="0.2"/>
<ellipse cx="425.5" cy="306.5" rx="2.48" ry="2.23" fill="none" stroke="#fff" stroke-width="0.4" stroke-opacity="0.2"/>
<ellipse cx="429.5" cy="311.5" rx="0.8" ry="0.8" fill="#fff" fill-opacity="0.6"/>
<ellipse cx="424" cy="307" rx="0.7" ry="0.7" fill="#fff" fill-opacity="0.6"/>
<ellipse cx="420" cy="318" rx="1" ry="0.7" fill="#fff" fill-opacity="0.6"/>
<ellipse cx="436" cy="309" rx="0.7" ry="0.7" fill="#fff" fill-opacity="0.6"/>
<ellipse cx="431.5" cy="306" rx="0.6" ry="0.6" fill="#fff" fill-opacity="0.6"/>
</g>
<rect x="412.5" y="274.3" width="61.8" height="55" fill="none" stroke="#111" stroke-width="1.6"/>
<line x1="410.9" y1="327.14" x2="412.5" y2="327.14" stroke="#111" stroke-width="0.8"/>
<line x1="410.9" y1="324.99" x2="412.5" y2="324.99" stroke="#111" stroke-width="0.8"/>
<line x1="410.9" y1="322.83" x2="412.5" y2="322.83" stroke="#111" stroke-width="0.8"/>
<line x1="410.9" y1="320.67" x2="412.5" y2="320.67" stroke="#111" stroke-width="0.8"/>
<line x1="410.1" y1="318.52" x2="412.5" y2="318.52" stroke="#111" stroke-width="0.8"/>
<line x1="410.9" y1="316.36" x2="412.5" y2="316.36" stroke="#111" stroke-width="0.8"/>
<line x1="410.9" y1="314.2" x2="412.5" y2="314.2" stroke="#111" stroke-width="0.8"/>
<line x1="410.9" y1="312.05" x2="412.5" y2="312.05" stroke="#111" stroke-width="0.8"/>
<line x1="410.9" y1="309.89" x2="412.5" y2="309.89" stroke="#111" stroke-width="0.8"/>
<line x1="410.1" y1="307.73" x2="412.5" y2="307.73" stroke="#111" stroke-width="0.8"/>
<line x1="410.9" y1="305.57" x2="412.5" y2="305.57" stroke="#111" stroke-width="0.8"/>
<line x1="410.9" y1="303.42" x2="412.5" y2="303.42" stroke="#111" stroke-width="0.8"/>
<line x1="410.9" y1="301.26" x2="412.5" y2="301.26" stroke="#111" stroke-width="0.8"/>
<line x1="410.9" y1="299.1" x2="412.5" y2="299.1" stroke="#111" stroke-width="0.8"/>
<line x1="410.1" y1="296.95" x2="412.5" y2="296.95" stroke="#111" stroke-width="0.8"/>
<line x1="410.9" y1="294.79" x2="412.5" y2="294.79" stroke="#111" stroke-width="0.8"/>
<line x1="410.9" y1="292.63" x2="412.5" y2="292.63" stroke="#111" stroke-width="0.8"/>
<line x1="410.9" y1="290.48" x2="412.5" y2="290.48" stroke="#111" stroke-width="0.8"/>
<line x1="410.9" y1="288.32" x2="412.5" y2="288.32" stroke="#111" stroke-width="0.8"/>
<line x1="410.1" y1="286.16" x2="412.5" y2="286.16" stroke="#111" stroke-width="0.8"/>
<line x1="410.9" y1="284.01" x2="412.5" y2="284.01" stroke="#111" stroke-width="0.8"/>
<line x1="410.9" y1="281.85" x2="412.5" y2="281.85" stroke="#111" stroke-width="0.8"/>
<line x1="410.9" y1="279.69" x2="412.5" y2="279.69" stroke="#111" stroke-width="0.8"/>
<line x1="410.9" y1="277.54" x2="412.5" y2="277.54" stroke="#111" stroke-width="0.8"/>
<line x1="410.1" y1="275.38" x2="412.5" y2="275.38" stroke="#111" stroke-width="0.8"/>
<line x1="414" y1="329.6" x2="414" y2="332.5" stroke="#111" stroke-width="1.1"/>
<line x1="417.91" y1="329.6" x2="417.91" y2="331.9" stroke="#111" stroke-width="1.1"/>
<line x1="420.2" y1="329.6" x2="420.2" y2="331.9" stroke="#111" stroke-width="1.1"/>
<line x1="421.83" y1="329.6" x2="421.83" y2="331.9" stroke="#111" stroke-width="1.1"/>
<line x1="423.09" y1="329.6" x2="423.09" y2="331.9" stroke="#111" stroke-width="1.1"/>
<line x1="424.12" y1="329.6" x2="424.12" y2="331.9" stroke="#111" stroke-width="0.9"/>
<line x1="424.99" y1="329.6" x2="424.99" y2="331.9" stroke="#111" stroke-width="0.9"/>
<line x1="425.74" y1="329.6" x2="425.74" y2="331.9" stroke="#111" stroke-width="0.9"/>
<line x1="426.41" y1="329.6" x2="426.41" y2="331.9" stroke="#111" stroke-width="0.9"/>
<line x1="427" y1="329.6" x2="427" y2="332.5" stroke="#111" stroke-width="1.1"/>
<line x1="430.91" y1="329.6" x2="430.91" y2="331.9" stroke="#111" stroke-width="1.1"/>
<line x1="433.2" y1="329.6" x2="433.2" y2="331.9" stroke="#111" stroke-width="1.1"/>
<line x1="434.83" y1="329.6" x2="434.83" y2="331.9" stroke="#111" stroke-width="1.1"/>
<line x1="436.09" y1="329.6" x2="436.09" y2="331.9" stroke="#111" stroke-width="1.1"/>
<line x1="437.12" y1="329.6" x2="437.12" y2="331.9" stroke="#111" stroke-width="0.9"/>
<line x1="437.99" y1="329.6" x2="437.99" y2="331.9" stroke="#111" stroke-width="0.9"/>
<line x1="438.74" y1="329.6" x2="438.74" y2="331.9" stroke="#111" stroke-width="0.9"/>
<line x1="439.41" y1="329.6" x2="439.41" y2="331.9" stroke="#111" stroke-width="0.9"/>
<line x1="440" y1="329.6" x2="440" y2="332.5" stroke="#111" stroke-width="1.1"/>
<line x1="443.91" y1="329.6" x2="443.91" y2="331.9" stroke="#111" stroke-width="1.1"/>
<line x1="446.2" y1="329.6" x2="446.2" y2="331.9" stroke="#111" stroke-width="1.1"/>
<line x1="447.83" y1="329.6" x2="447.83" y2="331.9" stroke="#111" stroke-width="1.1"/>
<line x1="449.09" y1="329.6" x2="449.09" y2="331.9" stroke="#111" stroke-width="1.1"/>
<line x1="450.12" y1="329.6" x2="450.12" y2="331.9" stroke="#111" stroke-width="0.9"/>
<line x1="450.99" y1="329.6" x2="450.99" y2="331.9" stroke="#111" stroke-width="0.9"/>
<line x1="451.74" y1="329.6" x2="451.74" y2="331.9" stroke="#111" stroke-width="0.9"/>
<line x1="452.41" y1="329.6" x2="452.41" y2="331.9" stroke="#111" stroke-width="0.9"/>
<line x1="453" y1="329.6" x2="453" y2="332.5" stroke="#111" stroke-width="1.1"/>
<line x1="456.91" y1="329.6" x2="456.91" y2="331.9" stroke="#111" stroke-width="1.1"/>
<line x1="459.2" y1="329.6" x2="459.2" y2="331.9" stroke="#111" stroke-width="1.1"/>
<line x1="460.83" y1="329.6" x2="460.83" y2="331.9" stroke="#111" stroke-width="1.1"/>
<line x1="462.09" y1="329.6" x2="462.09" y2="331.9" stroke="#111" stroke-width="1.1"/>
<line x1="463.12" y1="329.6" x2="463.12" y2="331.9" stroke="#111" stroke-width="0.9"/>
<line x1="463.99" y1="329.6" x2="463.99" y2="331.9" stroke="#111" stroke-width="0.9"/>
<line x1="464.74" y1="329.6" x2="464.74" y2="331.9" stroke="#111" stroke-width="0.9"/>
<line x1="465.41" y1="329.6" x2="465.41" y2="331.9" stroke="#111" stroke-width="0.9"/>
<line x1="466" y1="329.6" x2="466" y2="332.5" stroke="#111" stroke-width="1.1"/>
<line x1="469.91" y1="329.6" x2="469.91" y2="331.9" stroke="#111" stroke-width="1.1"/>
<line x1="472.2" y1="329.6" x2="472.2" y2="331.9" stroke="#111" stroke-width="1.1"/>
<line x1="473.83" y1="329.6" x2="473.83" y2="331.9" stroke="#111" stroke-width="1.1"/>
<text x="449" y="285.8" font-size="7.6" text-anchor="middle" fill="#333">34.5</text>
<rect x="349.7" y="353.6" width="42.3" height="32.8" fill="none" stroke="#111" stroke-width="1.3"/>
<clipPath id="cf5"><rect x="335.1" y="340.4" width="60.5" height="54.1"/></clipPath>
<g clip-path="url(#cf5)">
<ellipse cx="343.5" cy="363.6" rx="5.9" ry="6.5" fill="#000"/>
<ellipse cx="343.8" cy="372" rx="6.3" ry="6" fill="#000"/>
<ellipse cx="344.2" cy="379.4" rx="6.5" ry="5.9" fill="#000"/>
<ellipse cx="349.6" cy="376.8" rx="2.3" ry="3.1" fill="#000"/>
<ellipse cx="343.8" cy="363.8" rx="0.8" ry="1" fill="#fff" fill-opacity="0.3"/>
<ellipse cx="344.2" cy="374.3" rx="0.7" ry="0.8" fill="#fff" fill-opacity="0.3"/>
<ellipse cx="342.5" cy="382.5" rx="1.4" ry="0.6" fill="#fff" transform="rotate(-20 342.5 382.5)" fill-opacity="0.35"/>
</g>
<rect x="334.4" y="339.7" width="61.9" height="55.5" fill="none" stroke="#111" stroke-width="1.6"/>
<line x1="332.8" y1="393.02" x2="334.4" y2="393.02" stroke="#111" stroke-width="0.8"/>
<line x1="332.8" y1="390.85" x2="334.4" y2="390.85" stroke="#111" stroke-width="0.8"/>
<line x1="332.8" y1="388.67" x2="334.4" y2="388.67" stroke="#111" stroke-width="0.8"/>
<line x1="332.8" y1="386.49" x2="334.4" y2="386.49" stroke="#111" stroke-width="0.8"/>
<line x1="332" y1="384.32" x2="334.4" y2="384.32" stroke="#111" stroke-width="0.8"/>
<line x1="332.8" y1="382.14" x2="334.4" y2="382.14" stroke="#111" stroke-width="0.8"/>
<line x1="332.8" y1="379.96" x2="334.4" y2="379.96" stroke="#111" stroke-width="0.8"/>
<line x1="332.8" y1="377.79" x2="334.4" y2="377.79" stroke="#111" stroke-width="0.8"/>
<line x1="332.8" y1="375.61" x2="334.4" y2="375.61" stroke="#111" stroke-width="0.8"/>
<line x1="332" y1="373.44" x2="334.4" y2="373.44" stroke="#111" stroke-width="0.8"/>
<line x1="332.8" y1="371.26" x2="334.4" y2="371.26" stroke="#111" stroke-width="0.8"/>
<line x1="332.8" y1="369.08" x2="334.4" y2="369.08" stroke="#111" stroke-width="0.8"/>
<line x1="332.8" y1="366.91" x2="334.4" y2="366.91" stroke="#111" stroke-width="0.8"/>
<line x1="332.8" y1="364.73" x2="334.4" y2="364.73" stroke="#111" stroke-width="0.8"/>
<line x1="332" y1="362.55" x2="334.4" y2="362.55" stroke="#111" stroke-width="0.8"/>
<line x1="332.8" y1="360.38" x2="334.4" y2="360.38" stroke="#111" stroke-width="0.8"/>
<line x1="332.8" y1="358.2" x2="334.4" y2="358.2" stroke="#111" stroke-width="0.8"/>
<line x1="332.8" y1="356.02" x2="334.4" y2="356.02" stroke="#111" stroke-width="0.8"/>
<line x1="332.8" y1="353.85" x2="334.4" y2="353.85" stroke="#111" stroke-width="0.8"/>
<line x1="332" y1="351.67" x2="334.4" y2="351.67" stroke="#111" stroke-width="0.8"/>
<line x1="332.8" y1="349.49" x2="334.4" y2="349.49" stroke="#111" stroke-width="0.8"/>
<line x1="332.8" y1="347.32" x2="334.4" y2="347.32" stroke="#111" stroke-width="0.8"/>
<line x1="332.8" y1="345.14" x2="334.4" y2="345.14" stroke="#111" stroke-width="0.8"/>
<line x1="332.8" y1="342.96" x2="334.4" y2="342.96" stroke="#111" stroke-width="0.8"/>
<line x1="332" y1="340.79" x2="334.4" y2="340.79" stroke="#111" stroke-width="0.8"/>
<line x1="335.9" y1="395.5" x2="335.9" y2="398.4" stroke="#111" stroke-width="1.1"/>
<line x1="339.82" y1="395.5" x2="339.82" y2="397.8" stroke="#111" stroke-width="1.1"/>
<line x1="342.11" y1="395.5" x2="342.11" y2="397.8" stroke="#111" stroke-width="1.1"/>
<line x1="343.74" y1="395.5" x2="343.74" y2="397.8" stroke="#111" stroke-width="1.1"/>
<line x1="345" y1="395.5" x2="345" y2="397.8" stroke="#111" stroke-width="1.1"/>
<line x1="346.03" y1="395.5" x2="346.03" y2="397.8" stroke="#111" stroke-width="0.9"/>
<line x1="346.9" y1="395.5" x2="346.9" y2="397.8" stroke="#111" stroke-width="0.9"/>
<line x1="347.66" y1="395.5" x2="347.66" y2="397.8" stroke="#111" stroke-width="0.9"/>
<line x1="348.33" y1="395.5" x2="348.33" y2="397.8" stroke="#111" stroke-width="0.9"/>
<line x1="348.92" y1="395.5" x2="348.92" y2="398.4" stroke="#111" stroke-width="1.1"/>
<line x1="352.84" y1="395.5" x2="352.84" y2="397.8" stroke="#111" stroke-width="1.1"/>
<line x1="355.13" y1="395.5" x2="355.13" y2="397.8" stroke="#111" stroke-width="1.1"/>
<line x1="356.76" y1="395.5" x2="356.76" y2="397.8" stroke="#111" stroke-width="1.1"/>
<line x1="358.02" y1="395.5" x2="358.02" y2="397.8" stroke="#111" stroke-width="1.1"/>
<line x1="359.05" y1="395.5" x2="359.05" y2="397.8" stroke="#111" stroke-width="0.9"/>
<line x1="359.93" y1="395.5" x2="359.93" y2="397.8" stroke="#111" stroke-width="0.9"/>
<line x1="360.68" y1="395.5" x2="360.68" y2="397.8" stroke="#111" stroke-width="0.9"/>
<line x1="361.35" y1="395.5" x2="361.35" y2="397.8" stroke="#111" stroke-width="0.9"/>
<line x1="361.94" y1="395.5" x2="361.94" y2="398.4" stroke="#111" stroke-width="1.1"/>
<line x1="365.86" y1="395.5" x2="365.86" y2="397.8" stroke="#111" stroke-width="1.1"/>
<line x1="368.16" y1="395.5" x2="368.16" y2="397.8" stroke="#111" stroke-width="1.1"/>
<line x1="369.78" y1="395.5" x2="369.78" y2="397.8" stroke="#111" stroke-width="1.1"/>
<line x1="371.05" y1="395.5" x2="371.05" y2="397.8" stroke="#111" stroke-width="1.1"/>
<line x1="372.08" y1="395.5" x2="372.08" y2="397.8" stroke="#111" stroke-width="0.9"/>
<line x1="372.95" y1="395.5" x2="372.95" y2="397.8" stroke="#111" stroke-width="0.9"/>
<line x1="373.7" y1="395.5" x2="373.7" y2="397.8" stroke="#111" stroke-width="0.9"/>
<line x1="374.37" y1="395.5" x2="374.37" y2="397.8" stroke="#111" stroke-width="0.9"/>
<line x1="374.97" y1="395.5" x2="374.97" y2="398.4" stroke="#111" stroke-width="1.1"/>
<line x1="378.89" y1="395.5" x2="378.89" y2="397.8" stroke="#111" stroke-width="1.1"/>
<line x1="381.18" y1="395.5" x2="381.18" y2="397.8" stroke="#111" stroke-width="1.1"/>
<line x1="382.81" y1="395.5" x2="382.81" y2="397.8" stroke="#111" stroke-width="1.1"/>
<line x1="384.07" y1="395.5" x2="384.07" y2="397.8" stroke="#111" stroke-width="1.1"/>
<line x1="385.1" y1="395.5" x2="385.1" y2="397.8" stroke="#111" stroke-width="0.9"/>
<line x1="385.97" y1="395.5" x2="385.97" y2="397.8" stroke="#111" stroke-width="0.9"/>
<line x1="386.73" y1="395.5" x2="386.73" y2="397.8" stroke="#111" stroke-width="0.9"/>
<line x1="387.39" y1="395.5" x2="387.39" y2="397.8" stroke="#111" stroke-width="0.9"/>
<line x1="387.99" y1="395.5" x2="387.99" y2="398.4" stroke="#111" stroke-width="1.1"/>
<line x1="391.91" y1="395.5" x2="391.91" y2="397.8" stroke="#111" stroke-width="1.1"/>
<line x1="394.2" y1="395.5" x2="394.2" y2="397.8" stroke="#111" stroke-width="1.1"/>
<line x1="395.83" y1="395.5" x2="395.83" y2="397.8" stroke="#111" stroke-width="1.1"/>
<text x="369.2" y="350.6" font-size="7.6" text-anchor="middle" fill="#333">0</text>
<rect x="436.4" y="351.6" width="35.4" height="33.3" fill="none" stroke="#111" stroke-width="1.3"/>
<clipPath id="cf6"><rect x="412.5" y="340.4" width="60.6" height="53.9"/></clipPath>
<g clip-path="url(#cf6)">
<ellipse cx="417.5" cy="360.5" rx="6.5" ry="6.3" fill="#000"/>
<ellipse cx="426.5" cy="359.5" rx="6.5" ry="6.3" fill="#000"/>
<ellipse cx="434" cy="359.2" rx="5.5" ry="5.1" fill="#000"/>
<ellipse cx="440.5" cy="359.8" rx="3.7" ry="3.1" fill="#000"/>
<ellipse cx="444.8" cy="359.8" rx="3.1" ry="2.9" fill="#000"/>
<ellipse cx="416.5" cy="371.5" rx="6" ry="7" fill="#000"/>
<ellipse cx="427.5" cy="371" rx="8.5" ry="8.5" fill="#000"/>
<ellipse cx="433.5" cy="368" rx="3.5" ry="5.5" fill="#000"/>
<ellipse cx="417.5" cy="360.5" rx="3.72" ry="3.6" fill="none" stroke="#fff" stroke-width="0.4" stroke-opacity="0.2"/>
<ellipse cx="426.5" cy="359.5" rx="3.72" ry="3.6" fill="none" stroke="#fff" stroke-width="0.4" stroke-opacity="0.2"/>
<ellipse cx="434" cy="359.2" rx="3.1" ry="2.85" fill="none" stroke="#fff" stroke-width="0.4" stroke-opacity="0.2"/>
<ellipse cx="416.5" cy="371.5" rx="3.41" ry="4.03" fill="none" stroke="#fff" stroke-width="0.4" stroke-opacity="0.2"/>
<ellipse cx="427.5" cy="371" rx="4.96" ry="4.96" fill="none" stroke="#fff" stroke-width="0.4" stroke-opacity="0.2"/>
<ellipse cx="416.5" cy="359.5" rx="0.9" ry="1.2" fill="#fff" fill-opacity="0.6"/>
<ellipse cx="424" cy="357.5" rx="0.7" ry="0.7" fill="#fff" fill-opacity="0.6"/>
<ellipse cx="432" cy="358" rx="0.7" ry="0.7" fill="#fff" fill-opacity="0.6"/>
<ellipse cx="414.5" cy="370" rx="0.6" ry="0.6" fill="#fff" fill-opacity="0.6"/>
<ellipse cx="419" cy="362" rx="0.6" ry="0.6" fill="#fff" fill-opacity="0.6"/>
</g>
<circle cx="444.6" cy="359.6" r="2.6" fill="#fff" stroke="#111" stroke-width="1.1"/>
<circle cx="444.6" cy="359.6" r="0.91" fill="#222"/>
<circle cx="451.9" cy="367.3" r="2.7" fill="#fff" stroke="#111" stroke-width="1.1"/>
<circle cx="451.9" cy="367.3" r="0.94" fill="#222"/>
<circle cx="468.1" cy="366.3" r="2.7" fill="#fff" stroke="#111" stroke-width="1.1"/>
<circle cx="468.1" cy="366.3" r="0.94" fill="#222"/>
<circle cx="427.5" cy="382" r="2.6" fill="#fff" stroke="#111" stroke-width="1.1"/>
<circle cx="427.5" cy="382" r="0.91" fill="#222"/>
<rect x="411.8" y="339.7" width="62.1" height="55.3" fill="none" stroke="#111" stroke-width="1.6"/>
<line x1="410.2" y1="392.83" x2="411.8" y2="392.83" stroke="#111" stroke-width="0.8"/>
<line x1="410.2" y1="390.66" x2="411.8" y2="390.66" stroke="#111" stroke-width="0.8"/>
<line x1="410.2" y1="388.49" x2="411.8" y2="388.49" stroke="#111" stroke-width="0.8"/>
<line x1="410.2" y1="386.33" x2="411.8" y2="386.33" stroke="#111" stroke-width="0.8"/>
<line x1="409.4" y1="384.16" x2="411.8" y2="384.16" stroke="#111" stroke-width="0.8"/>
<line x1="410.2" y1="381.99" x2="411.8" y2="381.99" stroke="#111" stroke-width="0.8"/>
<line x1="410.2" y1="379.82" x2="411.8" y2="379.82" stroke="#111" stroke-width="0.8"/>
<line x1="410.2" y1="377.65" x2="411.8" y2="377.65" stroke="#111" stroke-width="0.8"/>
<line x1="410.2" y1="375.48" x2="411.8" y2="375.48" stroke="#111" stroke-width="0.8"/>
<line x1="409.4" y1="373.31" x2="411.8" y2="373.31" stroke="#111" stroke-width="0.8"/>
<line x1="410.2" y1="371.15" x2="411.8" y2="371.15" stroke="#111" stroke-width="0.8"/>
<line x1="410.2" y1="368.98" x2="411.8" y2="368.98" stroke="#111" stroke-width="0.8"/>
<line x1="410.2" y1="366.81" x2="411.8" y2="366.81" stroke="#111" stroke-width="0.8"/>
<line x1="410.2" y1="364.64" x2="411.8" y2="364.64" stroke="#111" stroke-width="0.8"/>
<line x1="409.4" y1="362.47" x2="411.8" y2="362.47" stroke="#111" stroke-width="0.8"/>
<line x1="410.2" y1="360.3" x2="411.8" y2="360.3" stroke="#111" stroke-width="0.8"/>
<line x1="410.2" y1="358.13" x2="411.8" y2="358.13" stroke="#111" stroke-width="0.8"/>
<line x1="410.2" y1="355.96" x2="411.8" y2="355.96" stroke="#111" stroke-width="0.8"/>
<line x1="410.2" y1="353.8" x2="411.8" y2="353.8" stroke="#111" stroke-width="0.8"/>
<line x1="409.4" y1="351.63" x2="411.8" y2="351.63" stroke="#111" stroke-width="0.8"/>
<line x1="410.2" y1="349.46" x2="411.8" y2="349.46" stroke="#111" stroke-width="0.8"/>
<line x1="410.2" y1="347.29" x2="411.8" y2="347.29" stroke="#111" stroke-width="0.8"/>
<line x1="410.2" y1="345.12" x2="411.8" y2="345.12" stroke="#111" stroke-width="0.8"/>
<line x1="410.2" y1="342.95" x2="411.8" y2="342.95" stroke="#111" stroke-width="0.8"/>
<line x1="409.4" y1="340.78" x2="411.8" y2="340.78" stroke="#111" stroke-width="0.8"/>
<line x1="413.3" y1="395.3" x2="413.3" y2="398.2" stroke="#111" stroke-width="1.1"/>
<line x1="417.23" y1="395.3" x2="417.23" y2="397.6" stroke="#111" stroke-width="1.1"/>
<line x1="419.53" y1="395.3" x2="419.53" y2="397.6" stroke="#111" stroke-width="1.1"/>
<line x1="421.17" y1="395.3" x2="421.17" y2="397.6" stroke="#111" stroke-width="1.1"/>
<line x1="422.43" y1="395.3" x2="422.43" y2="397.6" stroke="#111" stroke-width="1.1"/>
<line x1="423.47" y1="395.3" x2="423.47" y2="397.6" stroke="#111" stroke-width="0.9"/>
<line x1="424.34" y1="395.3" x2="424.34" y2="397.6" stroke="#111" stroke-width="0.9"/>
<line x1="425.1" y1="395.3" x2="425.1" y2="397.6" stroke="#111" stroke-width="0.9"/>
<line x1="425.77" y1="395.3" x2="425.77" y2="397.6" stroke="#111" stroke-width="0.9"/>
<line x1="426.37" y1="395.3" x2="426.37" y2="398.2" stroke="#111" stroke-width="1.1"/>
<line x1="430.3" y1="395.3" x2="430.3" y2="397.6" stroke="#111" stroke-width="1.1"/>
<line x1="432.6" y1="395.3" x2="432.6" y2="397.6" stroke="#111" stroke-width="1.1"/>
<line x1="434.23" y1="395.3" x2="434.23" y2="397.6" stroke="#111" stroke-width="1.1"/>
<line x1="435.5" y1="395.3" x2="435.5" y2="397.6" stroke="#111" stroke-width="1.1"/>
<line x1="436.53" y1="395.3" x2="436.53" y2="397.6" stroke="#111" stroke-width="0.9"/>
<line x1="437.41" y1="395.3" x2="437.41" y2="397.6" stroke="#111" stroke-width="0.9"/>
<line x1="438.16" y1="395.3" x2="438.16" y2="397.6" stroke="#111" stroke-width="0.9"/>
<line x1="438.83" y1="395.3" x2="438.83" y2="397.6" stroke="#111" stroke-width="0.9"/>
<line x1="439.43" y1="395.3" x2="439.43" y2="398.2" stroke="#111" stroke-width="1.1"/>
<line x1="443.36" y1="395.3" x2="443.36" y2="397.6" stroke="#111" stroke-width="1.1"/>
<line x1="445.66" y1="395.3" x2="445.66" y2="397.6" stroke="#111" stroke-width="1.1"/>
<line x1="447.3" y1="395.3" x2="447.3" y2="397.6" stroke="#111" stroke-width="1.1"/>
<line x1="448.56" y1="395.3" x2="448.56" y2="397.6" stroke="#111" stroke-width="1.1"/>
<line x1="449.6" y1="395.3" x2="449.6" y2="397.6" stroke="#111" stroke-width="0.9"/>
<line x1="450.47" y1="395.3" x2="450.47" y2="397.6" stroke="#111" stroke-width="0.9"/>
<line x1="451.23" y1="395.3" x2="451.23" y2="397.6" stroke="#111" stroke-width="0.9"/>
<line x1="451.9" y1="395.3" x2="451.9" y2="397.6" stroke="#111" stroke-width="0.9"/>
<line x1="452.5" y1="395.3" x2="452.5" y2="398.2" stroke="#111" stroke-width="1.1"/>
<line x1="456.43" y1="395.3" x2="456.43" y2="397.6" stroke="#111" stroke-width="1.1"/>
<line x1="458.73" y1="395.3" x2="458.73" y2="397.6" stroke="#111" stroke-width="1.1"/>
<line x1="460.36" y1="395.3" x2="460.36" y2="397.6" stroke="#111" stroke-width="1.1"/>
<line x1="461.63" y1="395.3" x2="461.63" y2="397.6" stroke="#111" stroke-width="1.1"/>
<line x1="462.66" y1="395.3" x2="462.66" y2="397.6" stroke="#111" stroke-width="0.9"/>
<line x1="463.54" y1="395.3" x2="463.54" y2="397.6" stroke="#111" stroke-width="0.9"/>
<line x1="464.29" y1="395.3" x2="464.29" y2="397.6" stroke="#111" stroke-width="0.9"/>
<line x1="464.96" y1="395.3" x2="464.96" y2="397.6" stroke="#111" stroke-width="0.9"/>
<line x1="465.56" y1="395.3" x2="465.56" y2="398.2" stroke="#111" stroke-width="1.1"/>
<line x1="469.49" y1="395.3" x2="469.49" y2="397.6" stroke="#111" stroke-width="1.1"/>
<line x1="471.79" y1="395.3" x2="471.79" y2="397.6" stroke="#111" stroke-width="1.1"/>
<line x1="473.43" y1="395.3" x2="473.43" y2="397.6" stroke="#111" stroke-width="1.1"/>
<text x="450.6" y="350.4" font-size="7.6" text-anchor="middle" fill="#333">8.06</text>
<rect x="349.4" y="414.3" width="42.1" height="34" fill="none" stroke="#111" stroke-width="1.3"/>
<clipPath id="cf7"><rect x="335" y="402.5" width="60.6" height="54.8"/></clipPath>
<g clip-path="url(#cf7)">
<ellipse cx="342.6" cy="431.5" rx="5.9" ry="15.7" fill="#000" transform="rotate(-4 342.6 431.5)"/>
<ellipse cx="351.5" cy="423" rx="4.5" ry="4.3" fill="#000"/>
<ellipse cx="362.6" cy="422" rx="4.8" ry="4.5" fill="#000"/>
<ellipse cx="360" cy="432.5" rx="8" ry="5" fill="#000" transform="rotate(-15 360 432.5)"/>
<ellipse cx="349" cy="440" rx="5.5" ry="5.5" fill="#000"/>
<ellipse cx="347.5" cy="431.5" rx="4.5" ry="5.5" fill="#000"/>
<ellipse cx="342.6" cy="431.5" rx="3.35" ry="9.42" fill="none" stroke="#fff" stroke-width="0.4" transform="rotate(-4 342.6 431.5)" stroke-opacity="0.2"/>
<ellipse cx="351.5" cy="423" rx="2.48" ry="2.36" fill="none" stroke="#fff" stroke-width="0.4" stroke-opacity="0.2"/>
<ellipse cx="362.6" cy="422" rx="2.67" ry="2.48" fill="none" stroke="#fff" stroke-width="0.4" stroke-opacity="0.2"/>
<ellipse cx="360" cy="432.5" rx="4.65" ry="2.79" fill="none" stroke="#fff" stroke-width="0.4" transform="rotate(-15 360 432.5)" stroke-opacity="0.2"/>
<ellipse cx="349" cy="440" rx="3.1" ry="3.1" fill="none" stroke="#fff" stroke-width="0.4" stroke-opacity="0.2"/>
<ellipse cx="347.5" cy="431.5" rx="2.48" ry="3.1" fill="none" stroke="#fff" stroke-width="0.4" stroke-opacity="0.2"/>
<ellipse cx="345" cy="433.5" rx="0.8" ry="1" fill="#fff" fill-opacity="0.6"/>
<ellipse cx="351.5" cy="423.5" rx="0.8" ry="0.8" fill="#fff" fill-opacity="0.6"/>
<ellipse cx="362" cy="429.5" rx="0.6" ry="0.6" fill="#fff" fill-opacity="0.6"/>
<ellipse cx="344" cy="441" rx="0.7" ry="0.7" fill="#fff" fill-opacity="0.6"/>
</g>
<ellipse cx="356.7" cy="427.6" rx="3" ry="1.3" fill="#fff" transform="rotate(-20 356.7 427.6)"/>
<rect x="334.3" y="401.8" width="62" height="56.2" fill="none" stroke="#111" stroke-width="1.6"/>
<line x1="332.7" y1="455.8" x2="334.3" y2="455.8" stroke="#111" stroke-width="0.8"/>
<line x1="332.7" y1="453.59" x2="334.3" y2="453.59" stroke="#111" stroke-width="0.8"/>
<line x1="332.7" y1="451.39" x2="334.3" y2="451.39" stroke="#111" stroke-width="0.8"/>
<line x1="332.7" y1="449.18" x2="334.3" y2="449.18" stroke="#111" stroke-width="0.8"/>
<line x1="331.9" y1="446.98" x2="334.3" y2="446.98" stroke="#111" stroke-width="0.8"/>
<line x1="332.7" y1="444.78" x2="334.3" y2="444.78" stroke="#111" stroke-width="0.8"/>
<line x1="332.7" y1="442.57" x2="334.3" y2="442.57" stroke="#111" stroke-width="0.8"/>
<line x1="332.7" y1="440.37" x2="334.3" y2="440.37" stroke="#111" stroke-width="0.8"/>
<line x1="332.7" y1="438.16" x2="334.3" y2="438.16" stroke="#111" stroke-width="0.8"/>
<line x1="331.9" y1="435.96" x2="334.3" y2="435.96" stroke="#111" stroke-width="0.8"/>
<line x1="332.7" y1="433.76" x2="334.3" y2="433.76" stroke="#111" stroke-width="0.8"/>
<line x1="332.7" y1="431.55" x2="334.3" y2="431.55" stroke="#111" stroke-width="0.8"/>
<line x1="332.7" y1="429.35" x2="334.3" y2="429.35" stroke="#111" stroke-width="0.8"/>
<line x1="332.7" y1="427.15" x2="334.3" y2="427.15" stroke="#111" stroke-width="0.8"/>
<line x1="331.9" y1="424.94" x2="334.3" y2="424.94" stroke="#111" stroke-width="0.8"/>
<line x1="332.7" y1="422.74" x2="334.3" y2="422.74" stroke="#111" stroke-width="0.8"/>
<line x1="332.7" y1="420.53" x2="334.3" y2="420.53" stroke="#111" stroke-width="0.8"/>
<line x1="332.7" y1="418.33" x2="334.3" y2="418.33" stroke="#111" stroke-width="0.8"/>
<line x1="332.7" y1="416.13" x2="334.3" y2="416.13" stroke="#111" stroke-width="0.8"/>
<line x1="331.9" y1="413.92" x2="334.3" y2="413.92" stroke="#111" stroke-width="0.8"/>
<line x1="332.7" y1="411.72" x2="334.3" y2="411.72" stroke="#111" stroke-width="0.8"/>
<line x1="332.7" y1="409.51" x2="334.3" y2="409.51" stroke="#111" stroke-width="0.8"/>
<line x1="332.7" y1="407.31" x2="334.3" y2="407.31" stroke="#111" stroke-width="0.8"/>
<line x1="332.7" y1="405.11" x2="334.3" y2="405.11" stroke="#111" stroke-width="0.8"/>
<line x1="331.9" y1="402.9" x2="334.3" y2="402.9" stroke="#111" stroke-width="0.8"/>
<line x1="335.8" y1="458.3" x2="335.8" y2="461.2" stroke="#111" stroke-width="1.1"/>
<line x1="339.73" y1="458.3" x2="339.73" y2="460.6" stroke="#111" stroke-width="1.1"/>
<line x1="342.02" y1="458.3" x2="342.02" y2="460.6" stroke="#111" stroke-width="1.1"/>
<line x1="343.65" y1="458.3" x2="343.65" y2="460.6" stroke="#111" stroke-width="1.1"/>
<line x1="344.92" y1="458.3" x2="344.92" y2="460.6" stroke="#111" stroke-width="1.1"/>
<line x1="345.95" y1="458.3" x2="345.95" y2="460.6" stroke="#111" stroke-width="0.9"/>
<line x1="346.82" y1="458.3" x2="346.82" y2="460.6" stroke="#111" stroke-width="0.9"/>
<line x1="347.58" y1="458.3" x2="347.58" y2="460.6" stroke="#111" stroke-width="0.9"/>
<line x1="348.25" y1="458.3" x2="348.25" y2="460.6" stroke="#111" stroke-width="0.9"/>
<line x1="348.84" y1="458.3" x2="348.84" y2="461.2" stroke="#111" stroke-width="1.1"/>
<line x1="352.77" y1="458.3" x2="352.77" y2="460.6" stroke="#111" stroke-width="1.1"/>
<line x1="355.07" y1="458.3" x2="355.07" y2="460.6" stroke="#111" stroke-width="1.1"/>
<line x1="356.7" y1="458.3" x2="356.7" y2="460.6" stroke="#111" stroke-width="1.1"/>
<line x1="357.96" y1="458.3" x2="357.96" y2="460.6" stroke="#111" stroke-width="1.1"/>
<line x1="358.99" y1="458.3" x2="358.99" y2="460.6" stroke="#111" stroke-width="0.9"/>
<line x1="359.87" y1="458.3" x2="359.87" y2="460.6" stroke="#111" stroke-width="0.9"/>
<line x1="360.62" y1="458.3" x2="360.62" y2="460.6" stroke="#111" stroke-width="0.9"/>
<line x1="361.29" y1="458.3" x2="361.29" y2="460.6" stroke="#111" stroke-width="0.9"/>
<line x1="361.89" y1="458.3" x2="361.89" y2="461.2" stroke="#111" stroke-width="1.1"/>
<line x1="365.81" y1="458.3" x2="365.81" y2="460.6" stroke="#111" stroke-width="1.1"/>
<line x1="368.11" y1="458.3" x2="368.11" y2="460.6" stroke="#111" stroke-width="1.1"/>
<line x1="369.74" y1="458.3" x2="369.74" y2="460.6" stroke="#111" stroke-width="1.1"/>
<line x1="371" y1="458.3" x2="371" y2="460.6" stroke="#111" stroke-width="1.1"/>
<line x1="372.04" y1="458.3" x2="372.04" y2="460.6" stroke="#111" stroke-width="0.9"/>
<line x1="372.91" y1="458.3" x2="372.91" y2="460.6" stroke="#111" stroke-width="0.9"/>
<line x1="373.67" y1="458.3" x2="373.67" y2="460.6" stroke="#111" stroke-width="0.9"/>
<line x1="374.33" y1="458.3" x2="374.33" y2="460.6" stroke="#111" stroke-width="0.9"/>
<line x1="374.93" y1="458.3" x2="374.93" y2="461.2" stroke="#111" stroke-width="1.1"/>
<line x1="378.86" y1="458.3" x2="378.86" y2="460.6" stroke="#111" stroke-width="1.1"/>
<line x1="381.15" y1="458.3" x2="381.15" y2="460.6" stroke="#111" stroke-width="1.1"/>
<line x1="382.78" y1="458.3" x2="382.78" y2="460.6" stroke="#111" stroke-width="1.1"/>
<line x1="384.05" y1="458.3" x2="384.05" y2="460.6" stroke="#111" stroke-width="1.1"/>
<line x1="385.08" y1="458.3" x2="385.08" y2="460.6" stroke="#111" stroke-width="0.9"/>
<line x1="385.95" y1="458.3" x2="385.95" y2="460.6" stroke="#111" stroke-width="0.9"/>
<line x1="386.71" y1="458.3" x2="386.71" y2="460.6" stroke="#111" stroke-width="0.9"/>
<line x1="387.38" y1="458.3" x2="387.38" y2="460.6" stroke="#111" stroke-width="0.9"/>
<line x1="387.97" y1="458.3" x2="387.97" y2="461.2" stroke="#111" stroke-width="1.1"/>
<line x1="391.9" y1="458.3" x2="391.9" y2="460.6" stroke="#111" stroke-width="1.1"/>
<line x1="394.2" y1="458.3" x2="394.2" y2="460.6" stroke="#111" stroke-width="1.1"/>
<line x1="395.83" y1="458.3" x2="395.83" y2="460.6" stroke="#111" stroke-width="1.1"/>
<text x="373" y="411.3" font-size="7.6" text-anchor="middle" fill="#333">32.7</text>
<rect x="435.6" y="413.5" width="36" height="33.1" fill="none" stroke="#111" stroke-width="1.3"/>
<clipPath id="cf8"><rect x="410.7" y="402.5" width="62.9" height="53.8"/></clipPath>
<g clip-path="url(#cf8)">
<ellipse cx="410" cy="423.1" rx="5.5" ry="5.5" fill="#000"/>
<ellipse cx="422.5" cy="425" rx="6.5" ry="6.3" fill="#000"/>
<ellipse cx="429" cy="424" rx="6" ry="5.5" fill="#000"/>
<ellipse cx="416" cy="436.5" rx="7" ry="6.8" fill="#000"/>
<ellipse cx="426.5" cy="437.5" rx="8" ry="7.5" fill="#000"/>
<ellipse cx="433.5" cy="432" rx="5" ry="5.3" fill="#000"/>
<ellipse cx="412" cy="432" rx="3.5" ry="5.5" fill="#000"/>
<ellipse cx="443" cy="425" rx="5" ry="5" fill="#000"/>
<ellipse cx="448" cy="424" rx="4.5" ry="4.5" fill="#000"/>
<ellipse cx="446" cy="433" rx="5.7" ry="6" fill="#000"/>
<ellipse cx="410" cy="423.1" rx="3.1" ry="3.1" fill="none" stroke="#fff" stroke-width="0.4" stroke-opacity="0.2"/>
<ellipse cx="422.5" cy="425" rx="3.72" ry="3.6" fill="none" stroke="#fff" stroke-width="0.4" stroke-opacity="0.2"/>
<ellipse cx="429" cy="424" rx="3.41" ry="3.1" fill="none" stroke="#fff" stroke-width="0.4" stroke-opacity="0.2"/>
<ellipse cx="416" cy="436.5" rx="4.03" ry="3.91" fill="none" stroke="#fff" stroke-width="0.4" stroke-opacity="0.2"/>
<ellipse cx="426.5" cy="437.5" rx="4.65" ry="4.34" fill="none" stroke="#fff" stroke-width="0.4" stroke-opacity="0.2"/>
<ellipse cx="433.5" cy="432" rx="2.79" ry="2.98" fill="none" stroke="#fff" stroke-width="0.4" stroke-opacity="0.2"/>
<ellipse cx="443" cy="425" rx="2.79" ry="2.79" fill="none" stroke="#fff" stroke-width="0.4" stroke-opacity="0.2"/>
<ellipse cx="448" cy="424" rx="2.48" ry="2.48" fill="none" stroke="#fff" stroke-width="0.4" stroke-opacity="0.2"/>
<ellipse cx="446" cy="433" rx="3.22" ry="3.41" fill="none" stroke="#fff" stroke-width="0.4" stroke-opacity="0.2"/>
<ellipse cx="422" cy="423.5" rx="0.9" ry="0.9" fill="#fff" fill-opacity="0.6"/>
<ellipse cx="428.5" cy="428" rx="0.5" ry="2" fill="#fff" transform="rotate(10 428.5 428)" fill-opacity="0.6"/>
<ellipse cx="426" cy="437.5" rx="0.6" ry="1.3" fill="#fff" transform="rotate(20 426 437.5)" fill-opacity="0.6"/>
<ellipse cx="443.5" cy="426" rx="0.7" ry="0.7" fill="#fff" fill-opacity="0.6"/>
<ellipse cx="447" cy="423" rx="0.8" ry="0.6" fill="#fff" fill-opacity="0.6"/>
</g>
<circle cx="455" cy="424.4" r="2.8" fill="#fff" stroke="#111" stroke-width="1.1"/>
<circle cx="455" cy="424.4" r="0.98" fill="#222"/>
<rect x="410" y="401.8" width="64.3" height="55.2" fill="none" stroke="#111" stroke-width="1.6"/>
<line x1="408.4" y1="454.84" x2="410" y2="454.84" stroke="#111" stroke-width="0.8"/>
<line x1="408.4" y1="452.67" x2="410" y2="452.67" stroke="#111" stroke-width="0.8"/>
<line x1="408.4" y1="450.51" x2="410" y2="450.51" stroke="#111" stroke-width="0.8"/>
<line x1="408.4" y1="448.34" x2="410" y2="448.34" stroke="#111" stroke-width="0.8"/>
<line x1="407.6" y1="446.18" x2="410" y2="446.18" stroke="#111" stroke-width="0.8"/>
<line x1="408.4" y1="444.01" x2="410" y2="444.01" stroke="#111" stroke-width="0.8"/>
<line x1="408.4" y1="441.85" x2="410" y2="441.85" stroke="#111" stroke-width="0.8"/>
<line x1="408.4" y1="439.68" x2="410" y2="439.68" stroke="#111" stroke-width="0.8"/>
<line x1="408.4" y1="437.52" x2="410" y2="437.52" stroke="#111" stroke-width="0.8"/>
<line x1="407.6" y1="435.35" x2="410" y2="435.35" stroke="#111" stroke-width="0.8"/>
<line x1="408.4" y1="433.19" x2="410" y2="433.19" stroke="#111" stroke-width="0.8"/>
<line x1="408.4" y1="431.02" x2="410" y2="431.02" stroke="#111" stroke-width="0.8"/>
<line x1="408.4" y1="428.86" x2="410" y2="428.86" stroke="#111" stroke-width="0.8"/>
<line x1="408.4" y1="426.69" x2="410" y2="426.69" stroke="#111" stroke-width="0.8"/>
<line x1="407.6" y1="424.53" x2="410" y2="424.53" stroke="#111" stroke-width="0.8"/>
<line x1="408.4" y1="422.36" x2="410" y2="422.36" stroke="#111" stroke-width="0.8"/>
<line x1="408.4" y1="420.2" x2="410" y2="420.2" stroke="#111" stroke-width="0.8"/>
<line x1="408.4" y1="418.04" x2="410" y2="418.04" stroke="#111" stroke-width="0.8"/>
<line x1="408.4" y1="415.87" x2="410" y2="415.87" stroke="#111" stroke-width="0.8"/>
<line x1="407.6" y1="413.71" x2="410" y2="413.71" stroke="#111" stroke-width="0.8"/>
<line x1="408.4" y1="411.54" x2="410" y2="411.54" stroke="#111" stroke-width="0.8"/>
<line x1="408.4" y1="409.38" x2="410" y2="409.38" stroke="#111" stroke-width="0.8"/>
<line x1="408.4" y1="407.21" x2="410" y2="407.21" stroke="#111" stroke-width="0.8"/>
<line x1="408.4" y1="405.05" x2="410" y2="405.05" stroke="#111" stroke-width="0.8"/>
<line x1="407.6" y1="402.88" x2="410" y2="402.88" stroke="#111" stroke-width="0.8"/>
<line x1="411.5" y1="457.3" x2="411.5" y2="460.2" stroke="#111" stroke-width="1.1"/>
<line x1="415.58" y1="457.3" x2="415.58" y2="459.6" stroke="#111" stroke-width="1.1"/>
<line x1="417.96" y1="457.3" x2="417.96" y2="459.6" stroke="#111" stroke-width="1.1"/>
<line x1="419.65" y1="457.3" x2="419.65" y2="459.6" stroke="#111" stroke-width="1.1"/>
<line x1="420.97" y1="457.3" x2="420.97" y2="459.6" stroke="#111" stroke-width="1.1"/>
<line x1="422.04" y1="457.3" x2="422.04" y2="459.6" stroke="#111" stroke-width="0.9"/>
<line x1="422.95" y1="457.3" x2="422.95" y2="459.6" stroke="#111" stroke-width="0.9"/>
<line x1="423.73" y1="457.3" x2="423.73" y2="459.6" stroke="#111" stroke-width="0.9"/>
<line x1="424.42" y1="457.3" x2="424.42" y2="459.6" stroke="#111" stroke-width="0.9"/>
<line x1="425.04" y1="457.3" x2="425.04" y2="460.2" stroke="#111" stroke-width="1.1"/>
<line x1="429.12" y1="457.3" x2="429.12" y2="459.6" stroke="#111" stroke-width="1.1"/>
<line x1="431.51" y1="457.3" x2="431.51" y2="459.6" stroke="#111" stroke-width="1.1"/>
<line x1="433.2" y1="457.3" x2="433.2" y2="459.6" stroke="#111" stroke-width="1.1"/>
<line x1="434.51" y1="457.3" x2="434.51" y2="459.6" stroke="#111" stroke-width="1.1"/>
<line x1="435.58" y1="457.3" x2="435.58" y2="459.6" stroke="#111" stroke-width="0.9"/>
<line x1="436.49" y1="457.3" x2="436.49" y2="459.6" stroke="#111" stroke-width="0.9"/>
<line x1="437.27" y1="457.3" x2="437.27" y2="459.6" stroke="#111" stroke-width="0.9"/>
<line x1="437.97" y1="457.3" x2="437.97" y2="459.6" stroke="#111" stroke-width="0.9"/>
<line x1="438.59" y1="457.3" x2="438.59" y2="460.2" stroke="#111" stroke-width="1.1"/>
<line x1="442.66" y1="457.3" x2="442.66" y2="459.6" stroke="#111" stroke-width="1.1"/>
<line x1="445.05" y1="457.3" x2="445.05" y2="459.6" stroke="#111" stroke-width="1.1"/>
<line x1="446.74" y1="457.3" x2="446.74" y2="459.6" stroke="#111" stroke-width="1.1"/>
<line x1="448.05" y1="457.3" x2="448.05" y2="459.6" stroke="#111" stroke-width="1.1"/>
<line x1="449.13" y1="457.3" x2="449.13" y2="459.6" stroke="#111" stroke-width="0.9"/>
<line x1="450.03" y1="457.3" x2="450.03" y2="459.6" stroke="#111" stroke-width="0.9"/>
<line x1="450.82" y1="457.3" x2="450.82" y2="459.6" stroke="#111" stroke-width="0.9"/>
<line x1="451.51" y1="457.3" x2="451.51" y2="459.6" stroke="#111" stroke-width="0.9"/>
<line x1="452.13" y1="457.3" x2="452.13" y2="460.2" stroke="#111" stroke-width="1.1"/>
<line x1="456.21" y1="457.3" x2="456.21" y2="459.6" stroke="#111" stroke-width="1.1"/>
<line x1="458.59" y1="457.3" x2="458.59" y2="459.6" stroke="#111" stroke-width="1.1"/>
<line x1="460.28" y1="457.3" x2="460.28" y2="459.6" stroke="#111" stroke-width="1.1"/>
<line x1="461.6" y1="457.3" x2="461.6" y2="459.6" stroke="#111" stroke-width="1.1"/>
<line x1="462.67" y1="457.3" x2="462.67" y2="459.6" stroke="#111" stroke-width="0.9"/>
<line x1="463.58" y1="457.3" x2="463.58" y2="459.6" stroke="#111" stroke-width="0.9"/>
<line x1="464.36" y1="457.3" x2="464.36" y2="459.6" stroke="#111" stroke-width="0.9"/>
<line x1="465.05" y1="457.3" x2="465.05" y2="459.6" stroke="#111" stroke-width="0.9"/>
<line x1="465.67" y1="457.3" x2="465.67" y2="460.2" stroke="#111" stroke-width="1.1"/>
<line x1="469.75" y1="457.3" x2="469.75" y2="459.6" stroke="#111" stroke-width="1.1"/>
<line x1="472.14" y1="457.3" x2="472.14" y2="459.6" stroke="#111" stroke-width="1.1"/>
<line x1="473.83" y1="457.3" x2="473.83" y2="459.6" stroke="#111" stroke-width="1.1"/>
<text x="452.4" y="411.3" font-size="7.6" text-anchor="middle" fill="#333">20</text>
<text x="475.8" y="209.5" font-size="7.8" text-anchor="start" fill="#111" font-weight="bold">Pre Rx</text>
<text x="477.5" y="239.4" font-size="7.6" text-anchor="start" fill="#333">Unstim</text>
<text x="477.5" y="299.1" font-size="7.6" text-anchor="start" fill="#333">PMA/Iono</text>
<text x="475.8" y="338" font-size="7.8" text-anchor="start" fill="#111" font-weight="bold">Post Rx</text>
<text x="477.5" y="369.6" font-size="7.6" text-anchor="start" fill="#333">Unstim</text>
<text x="477.5" y="430.1" font-size="7.6" text-anchor="start" fill="#333">PMA/Iono</text>
<line x1="322.3" y1="419.4" x2="322.3" y2="306" stroke="#111" stroke-width="1.2"/>
<path d="M319.7 306.5 L322.3 300.3 L324.9 306.5 Z" fill="#111"/>
<text transform="translate(326,441.2) rotate(-90) scale(0.66,1)" font-size="9.4" text-anchor="middle" fill="#2a2a2a" font-weight="bold">SSC-A</text>
<rect x="352.3" y="523.6" width="25.4" height="30.6" fill="#68a840"/>
<line x1="397.5" y1="489.4" x2="397.5" y2="498" stroke="#111" stroke-width="1.3"/>
<line x1="390.8" y1="489.4" x2="404.2" y2="489.4" stroke="#111" stroke-width="1.3"/>
<rect x="385" y="498" width="25" height="56.2" fill="#552562"/>
<rect x="426" y="523.6" width="25.5" height="30.6" fill="#68a840"/>
<line x1="472.5" y1="527.5" x2="472.5" y2="535.6" stroke="#111" stroke-width="1.3"/>
<line x1="466.25" y1="527.5" x2="478.75" y2="527.5" stroke="#111" stroke-width="1.3"/>
<rect x="460" y="535.6" width="25" height="18.6" fill="#552562"/>
<line x1="348.8" y1="474.8" x2="348.8" y2="554.8" stroke="#111" stroke-width="1.5"/>
<line x1="348.1" y1="554.2" x2="489.4" y2="554.2" stroke="#111" stroke-width="1.5"/>
<line x1="346" y1="554.2" x2="348.8" y2="554.2" stroke="#111" stroke-width="1.2"/>
<text x="342.2" y="556.95" font-size="7.7" text-anchor="end" fill="#333">0.0</text>
<line x1="346" y1="538.85" x2="348.8" y2="538.85" stroke="#111" stroke-width="1.2"/>
<text x="342.2" y="541.6" font-size="7.7" text-anchor="end" fill="#333">0.5</text>
<line x1="346" y1="523.5" x2="348.8" y2="523.5" stroke="#111" stroke-width="1.2"/>
<text x="342.2" y="526.25" font-size="7.7" text-anchor="end" fill="#333">1.0</text>
<line x1="346" y1="508.15" x2="348.8" y2="508.15" stroke="#111" stroke-width="1.2"/>
<text x="342.2" y="510.9" font-size="7.7" text-anchor="end" fill="#333">1.5</text>
<line x1="346" y1="492.8" x2="348.8" y2="492.8" stroke="#111" stroke-width="1.2"/>
<text x="342.2" y="495.55" font-size="7.7" text-anchor="end" fill="#333">2.0</text>
<line x1="346" y1="477.45" x2="348.8" y2="477.45" stroke="#111" stroke-width="1.2"/>
<text x="342.2" y="480.2" font-size="7.7" text-anchor="end" fill="#333">2.5</text>
<line x1="365.8" y1="482.7" x2="394" y2="482.7" stroke="#111" stroke-width="1.3"/>
<text x="380.2" y="483" font-size="8.5" text-anchor="middle" fill="#111">*</text>
<text transform="translate(325.8,514) rotate(-90) scale(0.66,1)" font-size="9.4" text-anchor="middle" fill="#2a2a2a" font-weight="bold">Fold change</text>
<text x="365" y="565.2" font-size="7.7" text-anchor="middle" fill="#333">Pre Rx</text>
<text x="397.6" y="565.2" font-size="7.7" text-anchor="middle" fill="#333">Post Rx</text>
<text x="439.1" y="565.2" font-size="7.7" text-anchor="middle" fill="#333">Pre Rx</text>
<text x="472.6" y="565.2" font-size="7.7" text-anchor="middle" fill="#333">Post Rx</text>
<line x1="352.3" y1="570" x2="411" y2="570" stroke="#111" stroke-width="1.4"/>
<line x1="426.8" y1="570" x2="485.2" y2="570" stroke="#111" stroke-width="1.4"/>
<text x="380.5" y="580.3" font-size="7.8" text-anchor="middle" fill="#333">ILC1- IFN-&#947;</text>
<text x="455.9" y="580.3" font-size="8.1" text-anchor="middle" fill="#333">ILC2- IL-13</text>
<text x="304.6" y="605.9" font-size="11.4" text-anchor="start" fill="#111" font-weight="bold">H</text>
<rect x="352.9" y="636.2" width="24" height="53.8" fill="#68a840"/>
<rect x="384.2" y="680.2" width="24.3" height="9.8" fill="#552562"/>
<rect x="423.3" y="636.2" width="23.7" height="53.8" fill="#68a840"/>
<rect x="455" y="654.2" width="24" height="35.8" fill="#552562"/>
<line x1="348" y1="606.5" x2="348" y2="690.6" stroke="#111" stroke-width="1.5"/>
<line x1="347.3" y1="690" x2="481" y2="690" stroke="#111" stroke-width="1.5"/>
<line x1="345.2" y1="690" x2="348" y2="690" stroke="#111" stroke-width="1.2"/>
<text x="341.4" y="692.75" font-size="7.7" text-anchor="end" fill="#333">0.0</text>
<line x1="345.2" y1="663.1" x2="348" y2="663.1" stroke="#111" stroke-width="1.2"/>
<text x="341.4" y="665.85" font-size="7.7" text-anchor="end" fill="#333">0.5</text>
<line x1="345.2" y1="636.2" x2="348" y2="636.2" stroke="#111" stroke-width="1.2"/>
<text x="341.4" y="638.95" font-size="7.7" text-anchor="end" fill="#333">1.0</text>
<line x1="345.2" y1="609.3" x2="348" y2="609.3" stroke="#111" stroke-width="1.2"/>
<text x="341.4" y="612.05" font-size="7.7" text-anchor="end" fill="#333">1.5</text>
<text transform="translate(325,648.4) rotate(-90) scale(0.72,1)" font-size="9" text-anchor="middle" fill="#2a2a2a" font-weight="bold">Fold change in MFI</text>
<text x="365.2" y="701.1" font-size="7.7" text-anchor="middle" fill="#333">Pre Rx</text>
<text x="396.5" y="701.1" font-size="7.7" text-anchor="middle" fill="#333">Post Rx</text>
<text x="435.3" y="701.1" font-size="7.7" text-anchor="middle" fill="#333">Pre Rx</text>
<text x="466.7" y="701.1" font-size="7.7" text-anchor="middle" fill="#333">Post Rx</text>
<line x1="353.4" y1="706.3" x2="408.5" y2="706.3" stroke="#111" stroke-width="1.4"/>
<line x1="423.6" y1="706.3" x2="479.8" y2="706.3" stroke="#111" stroke-width="1.4"/>
<text x="380.6" y="716" font-size="7.6" text-anchor="middle" fill="#333">Total ILCs</text>
<text x="451.4" y="716" font-size="7.6" text-anchor="middle" fill="#333">CD3</text>
<text transform="translate(415.7,729) scale(0.71,1)" font-size="9.2" text-anchor="middle" fill="#2a2a2a" font-weight="bold">Ikzf1</text>
<rect x="0" y="0" width="1.2" height="739" fill="#000"/>
<rect x="0" y="0" width="520" height="1.5" fill="#000"/>
<rect x="518.3" y="0" width="1.7" height="739" fill="#000"/>
<rect x="0" y="737.3" width="520" height="1.7" fill="#000"/>
</svg>
</body></html>
